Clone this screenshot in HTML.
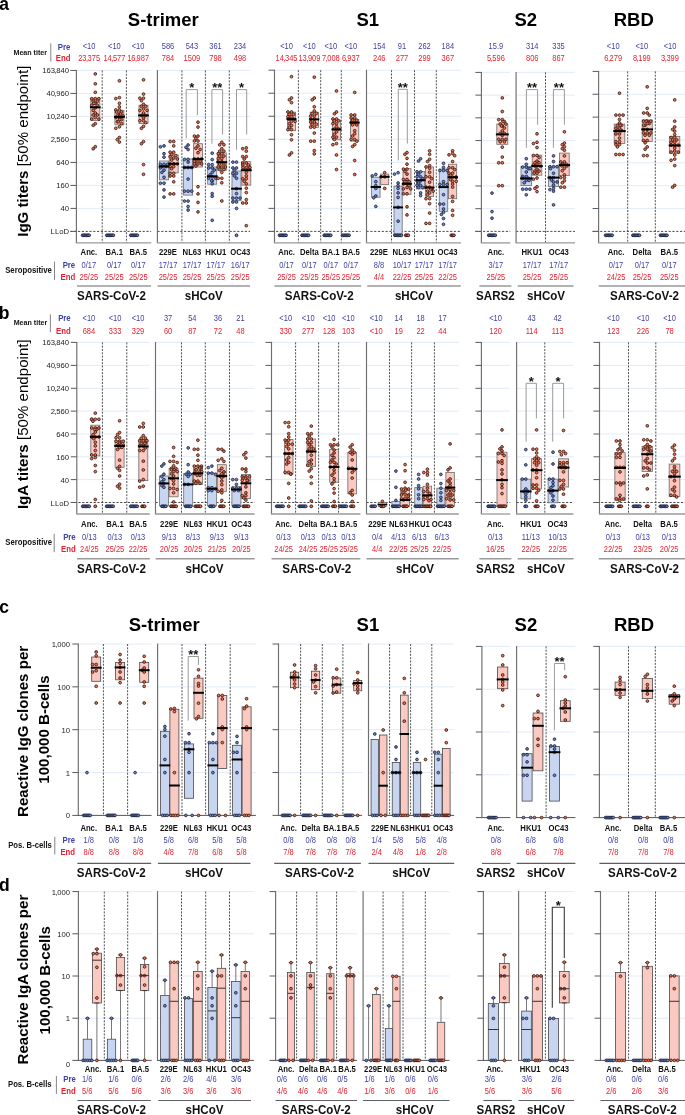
<!DOCTYPE html>
<html><head><meta charset="utf-8"><style>
html,body{margin:0;padding:0;background:#fff;}
svg{display:block;font-family:"Liberation Sans", sans-serif;will-change:transform;}
</style></head><body>
<svg width="685" height="1115" viewBox="0 0 685 1115">
<rect width="685" height="1115" fill="#fff"/>
<line x1="76.40" y1="70.45" x2="151.20" y2="70.45" stroke="#dfe9f7" stroke-width="0.9"/>
<line x1="76.40" y1="93.44" x2="151.20" y2="93.44" stroke="#dfe9f7" stroke-width="0.9"/>
<line x1="76.40" y1="116.44" x2="151.20" y2="116.44" stroke="#dfe9f7" stroke-width="0.9"/>
<line x1="76.40" y1="139.43" x2="151.20" y2="139.43" stroke="#dfe9f7" stroke-width="0.9"/>
<line x1="76.40" y1="162.42" x2="151.20" y2="162.42" stroke="#dfe9f7" stroke-width="0.9"/>
<line x1="76.40" y1="185.41" x2="151.20" y2="185.41" stroke="#dfe9f7" stroke-width="0.9"/>
<line x1="76.40" y1="208.41" x2="151.20" y2="208.41" stroke="#dfe9f7" stroke-width="0.9"/>
<line x1="157.40" y1="70.45" x2="250.00" y2="70.45" stroke="#dfe9f7" stroke-width="0.9"/>
<line x1="157.40" y1="93.44" x2="250.00" y2="93.44" stroke="#dfe9f7" stroke-width="0.9"/>
<line x1="157.40" y1="116.44" x2="250.00" y2="116.44" stroke="#dfe9f7" stroke-width="0.9"/>
<line x1="157.40" y1="139.43" x2="250.00" y2="139.43" stroke="#dfe9f7" stroke-width="0.9"/>
<line x1="157.40" y1="162.42" x2="250.00" y2="162.42" stroke="#dfe9f7" stroke-width="0.9"/>
<line x1="157.40" y1="185.41" x2="250.00" y2="185.41" stroke="#dfe9f7" stroke-width="0.9"/>
<line x1="157.40" y1="208.41" x2="250.00" y2="208.41" stroke="#dfe9f7" stroke-width="0.9"/>
<line x1="274.50" y1="70.20" x2="360.50" y2="70.20" stroke="#dfe9f7" stroke-width="0.9"/>
<line x1="274.50" y1="93.23" x2="360.50" y2="93.23" stroke="#dfe9f7" stroke-width="0.9"/>
<line x1="274.50" y1="116.26" x2="360.50" y2="116.26" stroke="#dfe9f7" stroke-width="0.9"/>
<line x1="274.50" y1="139.29" x2="360.50" y2="139.29" stroke="#dfe9f7" stroke-width="0.9"/>
<line x1="274.50" y1="162.31" x2="360.50" y2="162.31" stroke="#dfe9f7" stroke-width="0.9"/>
<line x1="274.50" y1="185.34" x2="360.50" y2="185.34" stroke="#dfe9f7" stroke-width="0.9"/>
<line x1="274.50" y1="208.37" x2="360.50" y2="208.37" stroke="#dfe9f7" stroke-width="0.9"/>
<line x1="366.50" y1="70.20" x2="461.00" y2="70.20" stroke="#dfe9f7" stroke-width="0.9"/>
<line x1="366.50" y1="93.23" x2="461.00" y2="93.23" stroke="#dfe9f7" stroke-width="0.9"/>
<line x1="366.50" y1="116.26" x2="461.00" y2="116.26" stroke="#dfe9f7" stroke-width="0.9"/>
<line x1="366.50" y1="139.29" x2="461.00" y2="139.29" stroke="#dfe9f7" stroke-width="0.9"/>
<line x1="366.50" y1="162.31" x2="461.00" y2="162.31" stroke="#dfe9f7" stroke-width="0.9"/>
<line x1="366.50" y1="185.34" x2="461.00" y2="185.34" stroke="#dfe9f7" stroke-width="0.9"/>
<line x1="366.50" y1="208.37" x2="461.00" y2="208.37" stroke="#dfe9f7" stroke-width="0.9"/>
<line x1="481.40" y1="72.40" x2="510.30" y2="72.40" stroke="#dfe9f7" stroke-width="0.9"/>
<line x1="481.40" y1="95.11" x2="510.30" y2="95.11" stroke="#dfe9f7" stroke-width="0.9"/>
<line x1="481.40" y1="117.83" x2="510.30" y2="117.83" stroke="#dfe9f7" stroke-width="0.9"/>
<line x1="481.40" y1="140.54" x2="510.30" y2="140.54" stroke="#dfe9f7" stroke-width="0.9"/>
<line x1="481.40" y1="163.26" x2="510.30" y2="163.26" stroke="#dfe9f7" stroke-width="0.9"/>
<line x1="481.40" y1="185.97" x2="510.30" y2="185.97" stroke="#dfe9f7" stroke-width="0.9"/>
<line x1="481.40" y1="208.69" x2="510.30" y2="208.69" stroke="#dfe9f7" stroke-width="0.9"/>
<line x1="516.10" y1="72.40" x2="575.00" y2="72.40" stroke="#dfe9f7" stroke-width="0.9"/>
<line x1="516.10" y1="95.11" x2="575.00" y2="95.11" stroke="#dfe9f7" stroke-width="0.9"/>
<line x1="516.10" y1="117.83" x2="575.00" y2="117.83" stroke="#dfe9f7" stroke-width="0.9"/>
<line x1="516.10" y1="140.54" x2="575.00" y2="140.54" stroke="#dfe9f7" stroke-width="0.9"/>
<line x1="516.10" y1="163.26" x2="575.00" y2="163.26" stroke="#dfe9f7" stroke-width="0.9"/>
<line x1="516.10" y1="185.97" x2="575.00" y2="185.97" stroke="#dfe9f7" stroke-width="0.9"/>
<line x1="516.10" y1="208.69" x2="575.00" y2="208.69" stroke="#dfe9f7" stroke-width="0.9"/>
<line x1="598.60" y1="71.40" x2="686.00" y2="71.40" stroke="#dfe9f7" stroke-width="0.9"/>
<line x1="598.60" y1="94.26" x2="686.00" y2="94.26" stroke="#dfe9f7" stroke-width="0.9"/>
<line x1="598.60" y1="117.11" x2="686.00" y2="117.11" stroke="#dfe9f7" stroke-width="0.9"/>
<line x1="598.60" y1="139.97" x2="686.00" y2="139.97" stroke="#dfe9f7" stroke-width="0.9"/>
<line x1="598.60" y1="162.83" x2="686.00" y2="162.83" stroke="#dfe9f7" stroke-width="0.9"/>
<line x1="598.60" y1="185.69" x2="686.00" y2="185.69" stroke="#dfe9f7" stroke-width="0.9"/>
<line x1="598.60" y1="208.54" x2="686.00" y2="208.54" stroke="#dfe9f7" stroke-width="0.9"/>
<line x1="102.20" y1="70.45" x2="102.20" y2="242.90" stroke="#333" stroke-width="0.85" stroke-dasharray="2,1.3"/>
<line x1="126.40" y1="70.45" x2="126.40" y2="242.90" stroke="#333" stroke-width="0.85" stroke-dasharray="2,1.3"/>
<line x1="70.40" y1="231.40" x2="151.20" y2="231.40" stroke="#2a2a2a" stroke-width="0.85" stroke-dasharray="2.2,1.6"/>
<line x1="181.90" y1="70.45" x2="181.90" y2="242.90" stroke="#333" stroke-width="0.85" stroke-dasharray="2,1.3"/>
<line x1="205.40" y1="70.45" x2="205.40" y2="242.90" stroke="#333" stroke-width="0.85" stroke-dasharray="2,1.3"/>
<line x1="229.30" y1="70.45" x2="229.30" y2="242.90" stroke="#333" stroke-width="0.85" stroke-dasharray="2,1.3"/>
<line x1="157.40" y1="231.40" x2="250.00" y2="231.40" stroke="#2a2a2a" stroke-width="0.85" stroke-dasharray="2.2,1.6"/>
<line x1="298.40" y1="70.20" x2="298.40" y2="242.90" stroke="#333" stroke-width="0.85" stroke-dasharray="2,1.3"/>
<line x1="320.70" y1="70.20" x2="320.70" y2="242.90" stroke="#333" stroke-width="0.85" stroke-dasharray="2,1.3"/>
<line x1="341.30" y1="70.20" x2="341.30" y2="242.90" stroke="#333" stroke-width="0.85" stroke-dasharray="2,1.3"/>
<line x1="268.50" y1="231.40" x2="360.50" y2="231.40" stroke="#2a2a2a" stroke-width="0.85" stroke-dasharray="2.2,1.6"/>
<line x1="391.50" y1="70.20" x2="391.50" y2="242.90" stroke="#333" stroke-width="0.85" stroke-dasharray="2,1.3"/>
<line x1="414.50" y1="70.20" x2="414.50" y2="242.90" stroke="#333" stroke-width="0.85" stroke-dasharray="2,1.3"/>
<line x1="436.30" y1="70.20" x2="436.30" y2="242.90" stroke="#333" stroke-width="0.85" stroke-dasharray="2,1.3"/>
<line x1="366.50" y1="231.40" x2="461.00" y2="231.40" stroke="#2a2a2a" stroke-width="0.85" stroke-dasharray="2.2,1.6"/>
<line x1="475.40" y1="231.40" x2="510.30" y2="231.40" stroke="#2a2a2a" stroke-width="0.85" stroke-dasharray="2.2,1.6"/>
<line x1="545.50" y1="72.40" x2="545.50" y2="242.90" stroke="#333" stroke-width="0.85" stroke-dasharray="2,1.3"/>
<line x1="516.10" y1="231.40" x2="575.00" y2="231.40" stroke="#2a2a2a" stroke-width="0.85" stroke-dasharray="2.2,1.6"/>
<line x1="627.70" y1="71.40" x2="627.70" y2="242.90" stroke="#333" stroke-width="0.85" stroke-dasharray="2,1.3"/>
<line x1="655.30" y1="71.40" x2="655.30" y2="242.90" stroke="#333" stroke-width="0.85" stroke-dasharray="2,1.3"/>
<line x1="592.60" y1="231.40" x2="686.00" y2="231.40" stroke="#2a2a2a" stroke-width="0.85" stroke-dasharray="2.2,1.6"/>
<line x1="76.40" y1="69.95" x2="76.40" y2="242.90" stroke="#6e6e6e" stroke-width="1.15"/>
<line x1="75.80" y1="242.90" x2="151.20" y2="242.90" stroke="#999999" stroke-width="1.3"/>
<line x1="70.40" y1="70.45" x2="76.40" y2="70.45" stroke="#5a5a5a" stroke-width="1.0"/>
<line x1="70.40" y1="93.44" x2="76.40" y2="93.44" stroke="#5a5a5a" stroke-width="1.0"/>
<line x1="70.40" y1="116.44" x2="76.40" y2="116.44" stroke="#5a5a5a" stroke-width="1.0"/>
<line x1="70.40" y1="139.43" x2="76.40" y2="139.43" stroke="#5a5a5a" stroke-width="1.0"/>
<line x1="70.40" y1="162.42" x2="76.40" y2="162.42" stroke="#5a5a5a" stroke-width="1.0"/>
<line x1="70.40" y1="185.41" x2="76.40" y2="185.41" stroke="#5a5a5a" stroke-width="1.0"/>
<line x1="70.40" y1="208.41" x2="76.40" y2="208.41" stroke="#5a5a5a" stroke-width="1.0"/>
<line x1="70.40" y1="231.40" x2="76.40" y2="231.40" stroke="#5a5a5a" stroke-width="1.0"/>
<line x1="157.40" y1="69.95" x2="157.40" y2="242.90" stroke="#6e6e6e" stroke-width="1.15"/>
<line x1="156.80" y1="242.90" x2="250.00" y2="242.90" stroke="#999999" stroke-width="1.3"/>
<line x1="274.50" y1="69.70" x2="274.50" y2="242.90" stroke="#6e6e6e" stroke-width="1.15"/>
<line x1="273.90" y1="242.90" x2="360.50" y2="242.90" stroke="#999999" stroke-width="1.3"/>
<line x1="268.50" y1="70.20" x2="274.50" y2="70.20" stroke="#5a5a5a" stroke-width="1.0"/>
<line x1="268.50" y1="93.23" x2="274.50" y2="93.23" stroke="#5a5a5a" stroke-width="1.0"/>
<line x1="268.50" y1="116.26" x2="274.50" y2="116.26" stroke="#5a5a5a" stroke-width="1.0"/>
<line x1="268.50" y1="139.29" x2="274.50" y2="139.29" stroke="#5a5a5a" stroke-width="1.0"/>
<line x1="268.50" y1="162.31" x2="274.50" y2="162.31" stroke="#5a5a5a" stroke-width="1.0"/>
<line x1="268.50" y1="185.34" x2="274.50" y2="185.34" stroke="#5a5a5a" stroke-width="1.0"/>
<line x1="268.50" y1="208.37" x2="274.50" y2="208.37" stroke="#5a5a5a" stroke-width="1.0"/>
<line x1="268.50" y1="231.40" x2="274.50" y2="231.40" stroke="#5a5a5a" stroke-width="1.0"/>
<line x1="366.50" y1="69.70" x2="366.50" y2="242.90" stroke="#6e6e6e" stroke-width="1.15"/>
<line x1="365.90" y1="242.90" x2="461.00" y2="242.90" stroke="#999999" stroke-width="1.3"/>
<line x1="481.40" y1="71.90" x2="481.40" y2="242.90" stroke="#6e6e6e" stroke-width="1.15"/>
<line x1="480.80" y1="242.90" x2="510.30" y2="242.90" stroke="#999999" stroke-width="1.3"/>
<line x1="475.40" y1="72.40" x2="481.40" y2="72.40" stroke="#5a5a5a" stroke-width="1.0"/>
<line x1="475.40" y1="95.11" x2="481.40" y2="95.11" stroke="#5a5a5a" stroke-width="1.0"/>
<line x1="475.40" y1="117.83" x2="481.40" y2="117.83" stroke="#5a5a5a" stroke-width="1.0"/>
<line x1="475.40" y1="140.54" x2="481.40" y2="140.54" stroke="#5a5a5a" stroke-width="1.0"/>
<line x1="475.40" y1="163.26" x2="481.40" y2="163.26" stroke="#5a5a5a" stroke-width="1.0"/>
<line x1="475.40" y1="185.97" x2="481.40" y2="185.97" stroke="#5a5a5a" stroke-width="1.0"/>
<line x1="475.40" y1="208.69" x2="481.40" y2="208.69" stroke="#5a5a5a" stroke-width="1.0"/>
<line x1="475.40" y1="231.40" x2="481.40" y2="231.40" stroke="#5a5a5a" stroke-width="1.0"/>
<line x1="516.10" y1="71.90" x2="516.10" y2="242.90" stroke="#6e6e6e" stroke-width="1.15"/>
<line x1="515.50" y1="242.90" x2="575.00" y2="242.90" stroke="#999999" stroke-width="1.3"/>
<line x1="598.60" y1="70.90" x2="598.60" y2="242.90" stroke="#6e6e6e" stroke-width="1.15"/>
<line x1="598.00" y1="242.90" x2="686.00" y2="242.90" stroke="#999999" stroke-width="1.3"/>
<line x1="592.60" y1="71.40" x2="598.60" y2="71.40" stroke="#5a5a5a" stroke-width="1.0"/>
<line x1="592.60" y1="94.26" x2="598.60" y2="94.26" stroke="#5a5a5a" stroke-width="1.0"/>
<line x1="592.60" y1="117.11" x2="598.60" y2="117.11" stroke="#5a5a5a" stroke-width="1.0"/>
<line x1="592.60" y1="139.97" x2="598.60" y2="139.97" stroke="#5a5a5a" stroke-width="1.0"/>
<line x1="592.60" y1="162.83" x2="598.60" y2="162.83" stroke="#5a5a5a" stroke-width="1.0"/>
<line x1="592.60" y1="185.69" x2="598.60" y2="185.69" stroke="#5a5a5a" stroke-width="1.0"/>
<line x1="592.60" y1="208.54" x2="598.60" y2="208.54" stroke="#5a5a5a" stroke-width="1.0"/>
<line x1="592.60" y1="231.40" x2="598.60" y2="231.40" stroke="#5a5a5a" stroke-width="1.0"/>
<text x="69.00" y="73.45" font-size="7.7" text-anchor="end" fill="#222">163<tspan dx="-0.50">,</tspan><tspan dx="-0.50">840</tspan></text>
<text x="69.00" y="96.44" font-size="7.7" text-anchor="end" fill="#222">40<tspan dx="-0.50">,</tspan><tspan dx="-0.50">960</tspan></text>
<text x="69.00" y="119.44" font-size="7.7" text-anchor="end" fill="#222">10<tspan dx="-0.50">,</tspan><tspan dx="-0.50">240</tspan></text>
<text x="69.00" y="142.43" font-size="7.7" text-anchor="end" fill="#222">2<tspan dx="-0.50">,</tspan><tspan dx="-0.50">560</tspan></text>
<text x="69.00" y="165.42" font-size="7.7" text-anchor="end" fill="#222">640</text>
<text x="69.00" y="188.41" font-size="7.7" text-anchor="end" fill="#222">160</text>
<text x="69.00" y="211.41" font-size="7.7" text-anchor="end" fill="#222">40</text>
<text x="69.00" y="234.40" font-size="7.7" text-anchor="end" fill="#222">LLoD</text>
<rect x="90.80" y="98.20" width="9.00" height="22.20" fill="#f9c9c2" stroke="#6e6e6e" stroke-width="0.8"/>
<circle cx="82.65" cy="235.30" r="1.38" fill="#6c85c8" stroke="#181e38" stroke-width="0.95"/>
<circle cx="83.95" cy="235.30" r="1.38" fill="#6c85c8" stroke="#181e38" stroke-width="0.95"/>
<circle cx="85.25" cy="235.30" r="1.38" fill="#6c85c8" stroke="#181e38" stroke-width="0.95"/>
<circle cx="86.55" cy="235.30" r="1.38" fill="#6c85c8" stroke="#181e38" stroke-width="0.95"/>
<circle cx="87.85" cy="235.30" r="1.38" fill="#6c85c8" stroke="#181e38" stroke-width="0.95"/>
<circle cx="89.15" cy="235.30" r="1.38" fill="#6c85c8" stroke="#181e38" stroke-width="0.95"/>
<circle cx="95.30" cy="73.90" r="1.38" fill="#ea7452" stroke="#33110a" stroke-width="0.8"/>
<circle cx="95.30" cy="83.80" r="1.38" fill="#ea7452" stroke="#33110a" stroke-width="0.8"/>
<circle cx="95.30" cy="92.30" r="1.38" fill="#ea7452" stroke="#33110a" stroke-width="0.8"/>
<circle cx="95.30" cy="98.70" r="1.38" fill="#ea7452" stroke="#33110a" stroke-width="0.8"/>
<circle cx="91.70" cy="98.70" r="1.38" fill="#ea7452" stroke="#33110a" stroke-width="0.8"/>
<circle cx="98.90" cy="98.70" r="1.38" fill="#ea7452" stroke="#33110a" stroke-width="0.8"/>
<circle cx="93.20" cy="101.20" r="1.38" fill="#ea7452" stroke="#33110a" stroke-width="0.8"/>
<circle cx="97.40" cy="101.20" r="1.38" fill="#ea7452" stroke="#33110a" stroke-width="0.8"/>
<circle cx="95.30" cy="103.30" r="1.38" fill="#ea7452" stroke="#33110a" stroke-width="0.8"/>
<circle cx="93.89" cy="103.30" r="1.38" fill="#ea7452" stroke="#33110a" stroke-width="0.8"/>
<circle cx="97.40" cy="105.30" r="1.38" fill="#ea7452" stroke="#33110a" stroke-width="0.8"/>
<circle cx="91.70" cy="105.30" r="1.38" fill="#ea7452" stroke="#33110a" stroke-width="0.8"/>
<circle cx="95.30" cy="107.90" r="1.38" fill="#ea7452" stroke="#33110a" stroke-width="0.8"/>
<circle cx="93.20" cy="110.40" r="1.38" fill="#ea7452" stroke="#33110a" stroke-width="0.8"/>
<circle cx="95.30" cy="113.00" r="1.38" fill="#ea7452" stroke="#33110a" stroke-width="0.8"/>
<circle cx="93.20" cy="115.00" r="1.38" fill="#ea7452" stroke="#33110a" stroke-width="0.8"/>
<circle cx="97.40" cy="115.00" r="1.38" fill="#ea7452" stroke="#33110a" stroke-width="0.8"/>
<circle cx="95.30" cy="117.60" r="1.38" fill="#ea7452" stroke="#33110a" stroke-width="0.8"/>
<circle cx="91.70" cy="119.10" r="1.38" fill="#ea7452" stroke="#33110a" stroke-width="0.8"/>
<circle cx="98.90" cy="119.10" r="1.38" fill="#ea7452" stroke="#33110a" stroke-width="0.8"/>
<circle cx="95.30" cy="123.70" r="1.38" fill="#ea7452" stroke="#33110a" stroke-width="0.8"/>
<circle cx="93.20" cy="125.30" r="1.38" fill="#ea7452" stroke="#33110a" stroke-width="0.8"/>
<circle cx="95.30" cy="146.70" r="1.38" fill="#ea7452" stroke="#33110a" stroke-width="0.8"/>
<circle cx="93.20" cy="148.80" r="1.38" fill="#ea7452" stroke="#33110a" stroke-width="0.8"/>
<line x1="89.90" y1="107.30" x2="100.70" y2="107.30" stroke="#000" stroke-width="2.0"/>
<rect x="114.90" y="110.30" width="9.00" height="14.50" fill="#f9c9c2" stroke="#6e6e6e" stroke-width="0.8"/>
<circle cx="106.85" cy="235.30" r="1.38" fill="#6c85c8" stroke="#181e38" stroke-width="0.95"/>
<circle cx="108.15" cy="235.30" r="1.38" fill="#6c85c8" stroke="#181e38" stroke-width="0.95"/>
<circle cx="109.45" cy="235.30" r="1.38" fill="#6c85c8" stroke="#181e38" stroke-width="0.95"/>
<circle cx="110.75" cy="235.30" r="1.38" fill="#6c85c8" stroke="#181e38" stroke-width="0.95"/>
<circle cx="112.05" cy="235.30" r="1.38" fill="#6c85c8" stroke="#181e38" stroke-width="0.95"/>
<circle cx="113.35" cy="235.30" r="1.38" fill="#6c85c8" stroke="#181e38" stroke-width="0.95"/>
<circle cx="119.40" cy="80.80" r="1.38" fill="#ea7452" stroke="#33110a" stroke-width="0.8"/>
<circle cx="119.40" cy="97.60" r="1.38" fill="#ea7452" stroke="#33110a" stroke-width="0.8"/>
<circle cx="115.80" cy="98.60" r="1.38" fill="#ea7452" stroke="#33110a" stroke-width="0.8"/>
<circle cx="119.40" cy="103.30" r="1.38" fill="#ea7452" stroke="#33110a" stroke-width="0.8"/>
<circle cx="119.40" cy="106.90" r="1.38" fill="#ea7452" stroke="#33110a" stroke-width="0.8"/>
<circle cx="119.40" cy="109.90" r="1.38" fill="#ea7452" stroke="#33110a" stroke-width="0.8"/>
<circle cx="115.80" cy="109.90" r="1.38" fill="#ea7452" stroke="#33110a" stroke-width="0.8"/>
<circle cx="121.50" cy="112.00" r="1.38" fill="#ea7452" stroke="#33110a" stroke-width="0.8"/>
<circle cx="116.61" cy="112.00" r="1.38" fill="#ea7452" stroke="#33110a" stroke-width="0.8"/>
<circle cx="119.40" cy="114.00" r="1.38" fill="#ea7452" stroke="#33110a" stroke-width="0.8"/>
<circle cx="120.61" cy="114.00" r="1.38" fill="#ea7452" stroke="#33110a" stroke-width="0.8"/>
<circle cx="117.30" cy="116.00" r="1.38" fill="#ea7452" stroke="#33110a" stroke-width="0.8"/>
<circle cx="123.00" cy="116.00" r="1.38" fill="#ea7452" stroke="#33110a" stroke-width="0.8"/>
<circle cx="119.40" cy="117.60" r="1.38" fill="#ea7452" stroke="#33110a" stroke-width="0.8"/>
<circle cx="115.98" cy="117.60" r="1.38" fill="#ea7452" stroke="#33110a" stroke-width="0.8"/>
<circle cx="121.50" cy="119.60" r="1.38" fill="#ea7452" stroke="#33110a" stroke-width="0.8"/>
<circle cx="119.69" cy="119.60" r="1.38" fill="#ea7452" stroke="#33110a" stroke-width="0.8"/>
<circle cx="117.30" cy="121.70" r="1.38" fill="#ea7452" stroke="#33110a" stroke-width="0.8"/>
<circle cx="118.33" cy="121.70" r="1.38" fill="#ea7452" stroke="#33110a" stroke-width="0.8"/>
<circle cx="121.50" cy="123.70" r="1.38" fill="#ea7452" stroke="#33110a" stroke-width="0.8"/>
<circle cx="119.40" cy="126.80" r="1.38" fill="#ea7452" stroke="#33110a" stroke-width="0.8"/>
<circle cx="115.80" cy="128.30" r="1.38" fill="#ea7452" stroke="#33110a" stroke-width="0.8"/>
<circle cx="119.40" cy="137.50" r="1.38" fill="#ea7452" stroke="#33110a" stroke-width="0.8"/>
<circle cx="117.30" cy="139.60" r="1.38" fill="#ea7452" stroke="#33110a" stroke-width="0.8"/>
<circle cx="119.40" cy="142.10" r="1.38" fill="#ea7452" stroke="#33110a" stroke-width="0.8"/>
<line x1="114.00" y1="116.90" x2="124.80" y2="116.90" stroke="#000" stroke-width="2.0"/>
<rect x="139.00" y="105.20" width="9.00" height="18.20" fill="#f9c9c2" stroke="#6e6e6e" stroke-width="0.8"/>
<circle cx="130.85" cy="235.30" r="1.38" fill="#6c85c8" stroke="#181e38" stroke-width="0.95"/>
<circle cx="132.15" cy="235.30" r="1.38" fill="#6c85c8" stroke="#181e38" stroke-width="0.95"/>
<circle cx="133.45" cy="235.30" r="1.38" fill="#6c85c8" stroke="#181e38" stroke-width="0.95"/>
<circle cx="134.75" cy="235.30" r="1.38" fill="#6c85c8" stroke="#181e38" stroke-width="0.95"/>
<circle cx="136.05" cy="235.30" r="1.38" fill="#6c85c8" stroke="#181e38" stroke-width="0.95"/>
<circle cx="137.35" cy="235.30" r="1.38" fill="#6c85c8" stroke="#181e38" stroke-width="0.95"/>
<circle cx="143.50" cy="79.80" r="1.38" fill="#ea7452" stroke="#33110a" stroke-width="0.8"/>
<circle cx="143.50" cy="94.10" r="1.38" fill="#ea7452" stroke="#33110a" stroke-width="0.8"/>
<circle cx="143.50" cy="98.20" r="1.38" fill="#ea7452" stroke="#33110a" stroke-width="0.8"/>
<circle cx="139.90" cy="98.20" r="1.38" fill="#ea7452" stroke="#33110a" stroke-width="0.8"/>
<circle cx="141.40" cy="100.70" r="1.38" fill="#ea7452" stroke="#33110a" stroke-width="0.8"/>
<circle cx="143.50" cy="104.30" r="1.38" fill="#ea7452" stroke="#33110a" stroke-width="0.8"/>
<circle cx="141.40" cy="106.30" r="1.38" fill="#ea7452" stroke="#33110a" stroke-width="0.8"/>
<circle cx="145.60" cy="106.30" r="1.38" fill="#ea7452" stroke="#33110a" stroke-width="0.8"/>
<circle cx="143.50" cy="108.90" r="1.38" fill="#ea7452" stroke="#33110a" stroke-width="0.8"/>
<circle cx="139.90" cy="110.40" r="1.38" fill="#ea7452" stroke="#33110a" stroke-width="0.8"/>
<circle cx="147.10" cy="110.40" r="1.38" fill="#ea7452" stroke="#33110a" stroke-width="0.8"/>
<circle cx="143.50" cy="113.00" r="1.38" fill="#ea7452" stroke="#33110a" stroke-width="0.8"/>
<circle cx="141.40" cy="115.50" r="1.38" fill="#ea7452" stroke="#33110a" stroke-width="0.8"/>
<circle cx="145.60" cy="115.50" r="1.38" fill="#ea7452" stroke="#33110a" stroke-width="0.8"/>
<circle cx="143.50" cy="118.10" r="1.38" fill="#ea7452" stroke="#33110a" stroke-width="0.8"/>
<circle cx="143.50" cy="120.70" r="1.38" fill="#ea7452" stroke="#33110a" stroke-width="0.8"/>
<circle cx="139.90" cy="120.70" r="1.38" fill="#ea7452" stroke="#33110a" stroke-width="0.8"/>
<circle cx="145.60" cy="122.70" r="1.38" fill="#ea7452" stroke="#33110a" stroke-width="0.8"/>
<circle cx="143.50" cy="126.30" r="1.38" fill="#ea7452" stroke="#33110a" stroke-width="0.8"/>
<circle cx="141.40" cy="128.30" r="1.38" fill="#ea7452" stroke="#33110a" stroke-width="0.8"/>
<circle cx="143.50" cy="141.60" r="1.38" fill="#ea7452" stroke="#33110a" stroke-width="0.8"/>
<circle cx="141.40" cy="143.70" r="1.38" fill="#ea7452" stroke="#33110a" stroke-width="0.8"/>
<circle cx="143.50" cy="164.60" r="1.38" fill="#ea7452" stroke="#33110a" stroke-width="0.8"/>
<circle cx="143.50" cy="174.30" r="1.38" fill="#ea7452" stroke="#33110a" stroke-width="0.8"/>
<line x1="138.10" y1="115.40" x2="148.90" y2="115.40" stroke="#000" stroke-width="2.0"/>
<rect x="159.50" y="161.00" width="9.00" height="18.80" fill="#c7d5f0" stroke="#6e6e6e" stroke-width="0.8"/>
<rect x="169.20" y="155.00" width="9.00" height="17.90" fill="#f9c9c2" stroke="#6e6e6e" stroke-width="0.8"/>
<circle cx="164.00" cy="145.90" r="1.38" fill="#6c85c8" stroke="#181e38" stroke-width="0.8"/>
<circle cx="160.40" cy="146.80" r="1.38" fill="#6c85c8" stroke="#181e38" stroke-width="0.8"/>
<circle cx="164.00" cy="153.70" r="1.38" fill="#6c85c8" stroke="#181e38" stroke-width="0.8"/>
<circle cx="164.00" cy="157.20" r="1.38" fill="#6c85c8" stroke="#181e38" stroke-width="0.8"/>
<circle cx="164.00" cy="164.30" r="1.38" fill="#6c85c8" stroke="#181e38" stroke-width="0.8"/>
<circle cx="160.40" cy="164.30" r="1.38" fill="#6c85c8" stroke="#181e38" stroke-width="0.8"/>
<circle cx="167.60" cy="164.30" r="1.38" fill="#6c85c8" stroke="#181e38" stroke-width="0.8"/>
<circle cx="161.90" cy="166.60" r="1.38" fill="#6c85c8" stroke="#181e38" stroke-width="0.8"/>
<circle cx="166.10" cy="166.60" r="1.38" fill="#6c85c8" stroke="#181e38" stroke-width="0.8"/>
<circle cx="160.46" cy="167.90" r="1.38" fill="#6c85c8" stroke="#181e38" stroke-width="0.8"/>
<circle cx="164.00" cy="170.20" r="1.38" fill="#6c85c8" stroke="#181e38" stroke-width="0.8"/>
<circle cx="161.90" cy="172.40" r="1.38" fill="#6c85c8" stroke="#181e38" stroke-width="0.8"/>
<circle cx="164.00" cy="177.30" r="1.38" fill="#6c85c8" stroke="#181e38" stroke-width="0.8"/>
<circle cx="164.00" cy="183.20" r="1.38" fill="#6c85c8" stroke="#181e38" stroke-width="0.8"/>
<circle cx="160.40" cy="183.20" r="1.38" fill="#6c85c8" stroke="#181e38" stroke-width="0.8"/>
<circle cx="164.00" cy="189.90" r="1.38" fill="#6c85c8" stroke="#181e38" stroke-width="0.8"/>
<circle cx="164.00" cy="197.10" r="1.38" fill="#6c85c8" stroke="#181e38" stroke-width="0.8"/>
<circle cx="173.70" cy="141.50" r="1.38" fill="#ea7452" stroke="#33110a" stroke-width="0.8"/>
<circle cx="170.10" cy="141.50" r="1.38" fill="#ea7452" stroke="#33110a" stroke-width="0.8"/>
<circle cx="173.70" cy="145.90" r="1.38" fill="#ea7452" stroke="#33110a" stroke-width="0.8"/>
<circle cx="173.70" cy="152.20" r="1.38" fill="#ea7452" stroke="#33110a" stroke-width="0.8"/>
<circle cx="170.10" cy="152.20" r="1.38" fill="#ea7452" stroke="#33110a" stroke-width="0.8"/>
<circle cx="171.60" cy="154.50" r="1.38" fill="#ea7452" stroke="#33110a" stroke-width="0.8"/>
<circle cx="175.80" cy="155.60" r="1.38" fill="#ea7452" stroke="#33110a" stroke-width="0.8"/>
<circle cx="170.10" cy="156.70" r="1.38" fill="#ea7452" stroke="#33110a" stroke-width="0.8"/>
<circle cx="173.70" cy="158.00" r="1.38" fill="#ea7452" stroke="#33110a" stroke-width="0.8"/>
<circle cx="177.30" cy="159.00" r="1.38" fill="#ea7452" stroke="#33110a" stroke-width="0.8"/>
<circle cx="171.60" cy="160.00" r="1.38" fill="#ea7452" stroke="#33110a" stroke-width="0.8"/>
<circle cx="173.70" cy="163.90" r="1.38" fill="#ea7452" stroke="#33110a" stroke-width="0.8"/>
<circle cx="170.10" cy="163.90" r="1.38" fill="#ea7452" stroke="#33110a" stroke-width="0.8"/>
<circle cx="177.30" cy="163.90" r="1.38" fill="#ea7452" stroke="#33110a" stroke-width="0.8"/>
<circle cx="173.76" cy="163.90" r="1.38" fill="#ea7452" stroke="#33110a" stroke-width="0.8"/>
<circle cx="173.70" cy="166.60" r="1.38" fill="#ea7452" stroke="#33110a" stroke-width="0.8"/>
<circle cx="170.10" cy="166.60" r="1.38" fill="#ea7452" stroke="#33110a" stroke-width="0.8"/>
<circle cx="171.60" cy="168.80" r="1.38" fill="#ea7452" stroke="#33110a" stroke-width="0.8"/>
<circle cx="173.70" cy="173.30" r="1.38" fill="#ea7452" stroke="#33110a" stroke-width="0.8"/>
<circle cx="170.10" cy="173.30" r="1.38" fill="#ea7452" stroke="#33110a" stroke-width="0.8"/>
<circle cx="173.70" cy="176.00" r="1.38" fill="#ea7452" stroke="#33110a" stroke-width="0.8"/>
<circle cx="170.10" cy="176.00" r="1.38" fill="#ea7452" stroke="#33110a" stroke-width="0.8"/>
<circle cx="173.70" cy="181.80" r="1.38" fill="#ea7452" stroke="#33110a" stroke-width="0.8"/>
<circle cx="173.70" cy="193.90" r="1.38" fill="#ea7452" stroke="#33110a" stroke-width="0.8"/>
<circle cx="170.10" cy="193.90" r="1.38" fill="#ea7452" stroke="#33110a" stroke-width="0.8"/>
<line x1="158.60" y1="166.50" x2="169.40" y2="166.50" stroke="#000" stroke-width="2.0"/>
<line x1="168.30" y1="163.80" x2="179.10" y2="163.80" stroke="#000" stroke-width="2.0"/>
<rect x="183.60" y="159.00" width="9.00" height="36.10" fill="#c7d5f0" stroke="#6e6e6e" stroke-width="0.8"/>
<rect x="193.50" y="143.70" width="9.00" height="23.30" fill="#f9c9c2" stroke="#6e6e6e" stroke-width="0.8"/>
<circle cx="188.10" cy="145.00" r="1.38" fill="#6c85c8" stroke="#181e38" stroke-width="0.8"/>
<circle cx="186.00" cy="147.30" r="1.38" fill="#6c85c8" stroke="#181e38" stroke-width="0.8"/>
<circle cx="188.10" cy="149.50" r="1.38" fill="#6c85c8" stroke="#181e38" stroke-width="0.8"/>
<circle cx="188.10" cy="159.40" r="1.38" fill="#6c85c8" stroke="#181e38" stroke-width="0.8"/>
<circle cx="184.50" cy="159.40" r="1.38" fill="#6c85c8" stroke="#181e38" stroke-width="0.8"/>
<circle cx="188.10" cy="162.10" r="1.38" fill="#6c85c8" stroke="#181e38" stroke-width="0.8"/>
<circle cx="188.10" cy="167.50" r="1.38" fill="#6c85c8" stroke="#181e38" stroke-width="0.8"/>
<circle cx="184.50" cy="167.50" r="1.38" fill="#6c85c8" stroke="#181e38" stroke-width="0.8"/>
<circle cx="191.70" cy="167.50" r="1.38" fill="#6c85c8" stroke="#181e38" stroke-width="0.8"/>
<circle cx="188.10" cy="179.10" r="1.38" fill="#6c85c8" stroke="#181e38" stroke-width="0.8"/>
<circle cx="188.10" cy="191.20" r="1.38" fill="#6c85c8" stroke="#181e38" stroke-width="0.8"/>
<circle cx="184.50" cy="191.20" r="1.38" fill="#6c85c8" stroke="#181e38" stroke-width="0.8"/>
<circle cx="191.70" cy="191.20" r="1.38" fill="#6c85c8" stroke="#181e38" stroke-width="0.8"/>
<circle cx="188.10" cy="201.10" r="1.38" fill="#6c85c8" stroke="#181e38" stroke-width="0.8"/>
<circle cx="184.50" cy="201.10" r="1.38" fill="#6c85c8" stroke="#181e38" stroke-width="0.8"/>
<circle cx="188.10" cy="206.50" r="1.38" fill="#6c85c8" stroke="#181e38" stroke-width="0.8"/>
<circle cx="188.10" cy="210.10" r="1.38" fill="#6c85c8" stroke="#181e38" stroke-width="0.8"/>
<circle cx="198.00" cy="122.20" r="1.38" fill="#ea7452" stroke="#33110a" stroke-width="0.8"/>
<circle cx="198.00" cy="127.10" r="1.38" fill="#ea7452" stroke="#33110a" stroke-width="0.8"/>
<circle cx="198.00" cy="136.10" r="1.38" fill="#ea7452" stroke="#33110a" stroke-width="0.8"/>
<circle cx="194.40" cy="136.10" r="1.38" fill="#ea7452" stroke="#33110a" stroke-width="0.8"/>
<circle cx="195.90" cy="138.30" r="1.38" fill="#ea7452" stroke="#33110a" stroke-width="0.8"/>
<circle cx="198.00" cy="141.00" r="1.38" fill="#ea7452" stroke="#33110a" stroke-width="0.8"/>
<circle cx="194.40" cy="141.00" r="1.38" fill="#ea7452" stroke="#33110a" stroke-width="0.8"/>
<circle cx="198.00" cy="145.90" r="1.38" fill="#ea7452" stroke="#33110a" stroke-width="0.8"/>
<circle cx="195.90" cy="148.20" r="1.38" fill="#ea7452" stroke="#33110a" stroke-width="0.8"/>
<circle cx="200.10" cy="149.50" r="1.38" fill="#ea7452" stroke="#33110a" stroke-width="0.8"/>
<circle cx="198.00" cy="152.70" r="1.38" fill="#ea7452" stroke="#33110a" stroke-width="0.8"/>
<circle cx="198.00" cy="158.90" r="1.38" fill="#ea7452" stroke="#33110a" stroke-width="0.8"/>
<circle cx="194.40" cy="158.90" r="1.38" fill="#ea7452" stroke="#33110a" stroke-width="0.8"/>
<circle cx="201.60" cy="158.90" r="1.38" fill="#ea7452" stroke="#33110a" stroke-width="0.8"/>
<circle cx="195.90" cy="161.20" r="1.38" fill="#ea7452" stroke="#33110a" stroke-width="0.8"/>
<circle cx="200.10" cy="161.20" r="1.38" fill="#ea7452" stroke="#33110a" stroke-width="0.8"/>
<circle cx="194.30" cy="161.20" r="1.38" fill="#ea7452" stroke="#33110a" stroke-width="0.8"/>
<circle cx="198.00" cy="163.90" r="1.38" fill="#ea7452" stroke="#33110a" stroke-width="0.8"/>
<circle cx="194.40" cy="163.90" r="1.38" fill="#ea7452" stroke="#33110a" stroke-width="0.8"/>
<circle cx="201.60" cy="163.90" r="1.38" fill="#ea7452" stroke="#33110a" stroke-width="0.8"/>
<circle cx="195.90" cy="166.10" r="1.38" fill="#ea7452" stroke="#33110a" stroke-width="0.8"/>
<circle cx="198.00" cy="186.70" r="1.38" fill="#ea7452" stroke="#33110a" stroke-width="0.8"/>
<circle cx="198.00" cy="193.90" r="1.38" fill="#ea7452" stroke="#33110a" stroke-width="0.8"/>
<circle cx="198.00" cy="202.40" r="1.38" fill="#ea7452" stroke="#33110a" stroke-width="0.8"/>
<circle cx="198.00" cy="211.90" r="1.38" fill="#ea7452" stroke="#33110a" stroke-width="0.8"/>
<line x1="182.70" y1="167.50" x2="193.50" y2="167.50" stroke="#000" stroke-width="2.0"/>
<line x1="192.60" y1="159.00" x2="203.40" y2="159.00" stroke="#000" stroke-width="2.0"/>
<rect x="207.70" y="167.00" width="9.00" height="17.20" fill="#c7d5f0" stroke="#6e6e6e" stroke-width="0.8"/>
<rect x="217.30" y="153.00" width="9.00" height="17.20" fill="#f9c9c2" stroke="#6e6e6e" stroke-width="0.8"/>
<circle cx="212.20" cy="153.20" r="1.38" fill="#6c85c8" stroke="#181e38" stroke-width="0.8"/>
<circle cx="212.20" cy="159.60" r="1.38" fill="#6c85c8" stroke="#181e38" stroke-width="0.8"/>
<circle cx="212.20" cy="164.70" r="1.38" fill="#6c85c8" stroke="#181e38" stroke-width="0.8"/>
<circle cx="208.60" cy="164.70" r="1.38" fill="#6c85c8" stroke="#181e38" stroke-width="0.8"/>
<circle cx="212.20" cy="168.00" r="1.38" fill="#6c85c8" stroke="#181e38" stroke-width="0.8"/>
<circle cx="208.60" cy="168.00" r="1.38" fill="#6c85c8" stroke="#181e38" stroke-width="0.8"/>
<circle cx="214.30" cy="170.00" r="1.38" fill="#6c85c8" stroke="#181e38" stroke-width="0.8"/>
<circle cx="212.20" cy="172.40" r="1.38" fill="#6c85c8" stroke="#181e38" stroke-width="0.8"/>
<circle cx="210.10" cy="174.90" r="1.38" fill="#6c85c8" stroke="#181e38" stroke-width="0.8"/>
<circle cx="212.20" cy="176.90" r="1.38" fill="#6c85c8" stroke="#181e38" stroke-width="0.8"/>
<circle cx="208.60" cy="178.30" r="1.38" fill="#6c85c8" stroke="#181e38" stroke-width="0.8"/>
<circle cx="215.80" cy="178.30" r="1.38" fill="#6c85c8" stroke="#181e38" stroke-width="0.8"/>
<circle cx="212.20" cy="180.80" r="1.38" fill="#6c85c8" stroke="#181e38" stroke-width="0.8"/>
<circle cx="211.67" cy="180.80" r="1.38" fill="#6c85c8" stroke="#181e38" stroke-width="0.8"/>
<circle cx="212.20" cy="183.80" r="1.38" fill="#6c85c8" stroke="#181e38" stroke-width="0.8"/>
<circle cx="212.20" cy="193.60" r="1.38" fill="#6c85c8" stroke="#181e38" stroke-width="0.8"/>
<circle cx="212.20" cy="196.30" r="1.38" fill="#6c85c8" stroke="#181e38" stroke-width="0.8"/>
<circle cx="212.20" cy="220.30" r="1.38" fill="#6c85c8" stroke="#181e38" stroke-width="0.8"/>
<circle cx="221.80" cy="142.30" r="1.38" fill="#ea7452" stroke="#33110a" stroke-width="0.8"/>
<circle cx="219.70" cy="144.80" r="1.38" fill="#ea7452" stroke="#33110a" stroke-width="0.8"/>
<circle cx="223.90" cy="144.80" r="1.38" fill="#ea7452" stroke="#33110a" stroke-width="0.8"/>
<circle cx="221.80" cy="148.70" r="1.38" fill="#ea7452" stroke="#33110a" stroke-width="0.8"/>
<circle cx="219.70" cy="151.20" r="1.38" fill="#ea7452" stroke="#33110a" stroke-width="0.8"/>
<circle cx="223.90" cy="151.20" r="1.38" fill="#ea7452" stroke="#33110a" stroke-width="0.8"/>
<circle cx="221.80" cy="153.70" r="1.38" fill="#ea7452" stroke="#33110a" stroke-width="0.8"/>
<circle cx="218.20" cy="153.70" r="1.38" fill="#ea7452" stroke="#33110a" stroke-width="0.8"/>
<circle cx="219.70" cy="156.10" r="1.38" fill="#ea7452" stroke="#33110a" stroke-width="0.8"/>
<circle cx="223.90" cy="156.10" r="1.38" fill="#ea7452" stroke="#33110a" stroke-width="0.8"/>
<circle cx="221.80" cy="158.60" r="1.38" fill="#ea7452" stroke="#33110a" stroke-width="0.8"/>
<circle cx="218.20" cy="158.60" r="1.38" fill="#ea7452" stroke="#33110a" stroke-width="0.8"/>
<circle cx="221.80" cy="161.60" r="1.38" fill="#ea7452" stroke="#33110a" stroke-width="0.8"/>
<circle cx="218.20" cy="161.60" r="1.38" fill="#ea7452" stroke="#33110a" stroke-width="0.8"/>
<circle cx="219.70" cy="164.00" r="1.38" fill="#ea7452" stroke="#33110a" stroke-width="0.8"/>
<circle cx="223.90" cy="164.00" r="1.38" fill="#ea7452" stroke="#33110a" stroke-width="0.8"/>
<circle cx="221.80" cy="167.00" r="1.38" fill="#ea7452" stroke="#33110a" stroke-width="0.8"/>
<circle cx="218.20" cy="167.00" r="1.38" fill="#ea7452" stroke="#33110a" stroke-width="0.8"/>
<circle cx="225.40" cy="167.00" r="1.38" fill="#ea7452" stroke="#33110a" stroke-width="0.8"/>
<circle cx="219.70" cy="169.50" r="1.38" fill="#ea7452" stroke="#33110a" stroke-width="0.8"/>
<circle cx="223.90" cy="169.50" r="1.38" fill="#ea7452" stroke="#33110a" stroke-width="0.8"/>
<circle cx="221.80" cy="172.40" r="1.38" fill="#ea7452" stroke="#33110a" stroke-width="0.8"/>
<circle cx="221.80" cy="178.30" r="1.38" fill="#ea7452" stroke="#33110a" stroke-width="0.8"/>
<circle cx="218.20" cy="178.30" r="1.38" fill="#ea7452" stroke="#33110a" stroke-width="0.8"/>
<circle cx="221.80" cy="182.80" r="1.38" fill="#ea7452" stroke="#33110a" stroke-width="0.8"/>
<circle cx="221.80" cy="201.00" r="1.38" fill="#ea7452" stroke="#33110a" stroke-width="0.8"/>
<line x1="206.80" y1="176.30" x2="217.60" y2="176.30" stroke="#000" stroke-width="2.0"/>
<line x1="216.40" y1="162.20" x2="227.20" y2="162.20" stroke="#000" stroke-width="2.0"/>
<rect x="232.00" y="171.00" width="9.00" height="29.70" fill="#c7d5f0" stroke="#6e6e6e" stroke-width="0.8"/>
<rect x="241.80" y="161.70" width="9.00" height="23.40" fill="#f9c9c2" stroke="#6e6e6e" stroke-width="0.8"/>
<circle cx="236.50" cy="162.10" r="1.38" fill="#6c85c8" stroke="#181e38" stroke-width="0.8"/>
<circle cx="232.90" cy="162.10" r="1.38" fill="#6c85c8" stroke="#181e38" stroke-width="0.8"/>
<circle cx="236.50" cy="168.00" r="1.38" fill="#6c85c8" stroke="#181e38" stroke-width="0.8"/>
<circle cx="232.90" cy="168.00" r="1.38" fill="#6c85c8" stroke="#181e38" stroke-width="0.8"/>
<circle cx="234.40" cy="170.40" r="1.38" fill="#6c85c8" stroke="#181e38" stroke-width="0.8"/>
<circle cx="236.50" cy="173.40" r="1.38" fill="#6c85c8" stroke="#181e38" stroke-width="0.8"/>
<circle cx="232.90" cy="173.40" r="1.38" fill="#6c85c8" stroke="#181e38" stroke-width="0.8"/>
<circle cx="234.40" cy="175.90" r="1.38" fill="#6c85c8" stroke="#181e38" stroke-width="0.8"/>
<circle cx="236.50" cy="178.30" r="1.38" fill="#6c85c8" stroke="#181e38" stroke-width="0.8"/>
<circle cx="236.50" cy="188.70" r="1.38" fill="#6c85c8" stroke="#181e38" stroke-width="0.8"/>
<circle cx="236.50" cy="193.60" r="1.38" fill="#6c85c8" stroke="#181e38" stroke-width="0.8"/>
<circle cx="236.50" cy="198.10" r="1.38" fill="#6c85c8" stroke="#181e38" stroke-width="0.8"/>
<circle cx="232.90" cy="198.10" r="1.38" fill="#6c85c8" stroke="#181e38" stroke-width="0.8"/>
<circle cx="240.10" cy="198.10" r="1.38" fill="#6c85c8" stroke="#181e38" stroke-width="0.8"/>
<circle cx="236.50" cy="202.00" r="1.38" fill="#6c85c8" stroke="#181e38" stroke-width="0.8"/>
<circle cx="232.90" cy="202.00" r="1.38" fill="#6c85c8" stroke="#181e38" stroke-width="0.8"/>
<circle cx="236.50" cy="208.40" r="1.38" fill="#6c85c8" stroke="#181e38" stroke-width="0.8"/>
<circle cx="236.50" cy="235.30" r="1.38" fill="#6c85c8" stroke="#181e38" stroke-width="0.95"/>
<circle cx="246.30" cy="147.80" r="1.38" fill="#ea7452" stroke="#33110a" stroke-width="0.8"/>
<circle cx="242.70" cy="148.70" r="1.38" fill="#ea7452" stroke="#33110a" stroke-width="0.8"/>
<circle cx="246.30" cy="151.20" r="1.38" fill="#ea7452" stroke="#33110a" stroke-width="0.8"/>
<circle cx="246.30" cy="156.60" r="1.38" fill="#ea7452" stroke="#33110a" stroke-width="0.8"/>
<circle cx="242.70" cy="156.60" r="1.38" fill="#ea7452" stroke="#33110a" stroke-width="0.8"/>
<circle cx="244.20" cy="159.10" r="1.38" fill="#ea7452" stroke="#33110a" stroke-width="0.8"/>
<circle cx="246.30" cy="163.00" r="1.38" fill="#ea7452" stroke="#33110a" stroke-width="0.8"/>
<circle cx="242.70" cy="163.00" r="1.38" fill="#ea7452" stroke="#33110a" stroke-width="0.8"/>
<circle cx="248.40" cy="165.00" r="1.38" fill="#ea7452" stroke="#33110a" stroke-width="0.8"/>
<circle cx="242.86" cy="165.00" r="1.38" fill="#ea7452" stroke="#33110a" stroke-width="0.8"/>
<circle cx="246.30" cy="167.50" r="1.38" fill="#ea7452" stroke="#33110a" stroke-width="0.8"/>
<circle cx="249.90" cy="167.50" r="1.38" fill="#ea7452" stroke="#33110a" stroke-width="0.8"/>
<circle cx="243.03" cy="167.50" r="1.38" fill="#ea7452" stroke="#33110a" stroke-width="0.8"/>
<circle cx="245.70" cy="169.50" r="1.38" fill="#ea7452" stroke="#33110a" stroke-width="0.8"/>
<circle cx="248.91" cy="169.50" r="1.38" fill="#ea7452" stroke="#33110a" stroke-width="0.8"/>
<circle cx="246.30" cy="172.40" r="1.38" fill="#ea7452" stroke="#33110a" stroke-width="0.8"/>
<circle cx="246.30" cy="175.90" r="1.38" fill="#ea7452" stroke="#33110a" stroke-width="0.8"/>
<circle cx="246.30" cy="178.80" r="1.38" fill="#ea7452" stroke="#33110a" stroke-width="0.8"/>
<circle cx="242.70" cy="178.80" r="1.38" fill="#ea7452" stroke="#33110a" stroke-width="0.8"/>
<circle cx="244.20" cy="181.30" r="1.38" fill="#ea7452" stroke="#33110a" stroke-width="0.8"/>
<circle cx="246.30" cy="183.80" r="1.38" fill="#ea7452" stroke="#33110a" stroke-width="0.8"/>
<circle cx="246.30" cy="188.20" r="1.38" fill="#ea7452" stroke="#33110a" stroke-width="0.8"/>
<circle cx="246.30" cy="192.60" r="1.38" fill="#ea7452" stroke="#33110a" stroke-width="0.8"/>
<circle cx="246.30" cy="199.60" r="1.38" fill="#ea7452" stroke="#33110a" stroke-width="0.8"/>
<circle cx="246.30" cy="203.00" r="1.38" fill="#ea7452" stroke="#33110a" stroke-width="0.8"/>
<circle cx="242.70" cy="203.00" r="1.38" fill="#ea7452" stroke="#33110a" stroke-width="0.8"/>
<circle cx="246.30" cy="225.70" r="1.38" fill="#ea7452" stroke="#33110a" stroke-width="0.8"/>
<line x1="231.10" y1="188.70" x2="241.90" y2="188.70" stroke="#000" stroke-width="2.0"/>
<line x1="240.90" y1="170.20" x2="251.70" y2="170.20" stroke="#000" stroke-width="2.0"/>
<rect x="287.40" y="112.20" width="8.20" height="18.50" fill="#f9c9c2" stroke="#6e6e6e" stroke-width="0.8"/>
<circle cx="279.55" cy="235.30" r="1.38" fill="#6c85c8" stroke="#181e38" stroke-width="0.95"/>
<circle cx="280.85" cy="235.30" r="1.38" fill="#6c85c8" stroke="#181e38" stroke-width="0.95"/>
<circle cx="282.15" cy="235.30" r="1.38" fill="#6c85c8" stroke="#181e38" stroke-width="0.95"/>
<circle cx="283.45" cy="235.30" r="1.38" fill="#6c85c8" stroke="#181e38" stroke-width="0.95"/>
<circle cx="284.75" cy="235.30" r="1.38" fill="#6c85c8" stroke="#181e38" stroke-width="0.95"/>
<circle cx="286.05" cy="235.30" r="1.38" fill="#6c85c8" stroke="#181e38" stroke-width="0.95"/>
<circle cx="291.50" cy="76.70" r="1.38" fill="#ea7452" stroke="#33110a" stroke-width="0.8"/>
<circle cx="291.50" cy="98.00" r="1.38" fill="#ea7452" stroke="#33110a" stroke-width="0.8"/>
<circle cx="289.40" cy="99.80" r="1.38" fill="#ea7452" stroke="#33110a" stroke-width="0.8"/>
<circle cx="291.50" cy="102.70" r="1.38" fill="#ea7452" stroke="#33110a" stroke-width="0.8"/>
<circle cx="291.50" cy="112.00" r="1.38" fill="#ea7452" stroke="#33110a" stroke-width="0.8"/>
<circle cx="287.90" cy="112.00" r="1.38" fill="#ea7452" stroke="#33110a" stroke-width="0.8"/>
<circle cx="289.40" cy="114.40" r="1.38" fill="#ea7452" stroke="#33110a" stroke-width="0.8"/>
<circle cx="293.60" cy="114.40" r="1.38" fill="#ea7452" stroke="#33110a" stroke-width="0.8"/>
<circle cx="291.50" cy="116.70" r="1.38" fill="#ea7452" stroke="#33110a" stroke-width="0.8"/>
<circle cx="287.90" cy="116.70" r="1.38" fill="#ea7452" stroke="#33110a" stroke-width="0.8"/>
<circle cx="289.40" cy="119.00" r="1.38" fill="#ea7452" stroke="#33110a" stroke-width="0.8"/>
<circle cx="293.60" cy="119.00" r="1.38" fill="#ea7452" stroke="#33110a" stroke-width="0.8"/>
<circle cx="288.49" cy="119.00" r="1.38" fill="#ea7452" stroke="#33110a" stroke-width="0.8"/>
<circle cx="291.50" cy="121.40" r="1.38" fill="#ea7452" stroke="#33110a" stroke-width="0.8"/>
<circle cx="295.10" cy="121.40" r="1.38" fill="#ea7452" stroke="#33110a" stroke-width="0.8"/>
<circle cx="289.40" cy="123.70" r="1.38" fill="#ea7452" stroke="#33110a" stroke-width="0.8"/>
<circle cx="291.50" cy="125.50" r="1.38" fill="#ea7452" stroke="#33110a" stroke-width="0.8"/>
<circle cx="289.40" cy="127.20" r="1.38" fill="#ea7452" stroke="#33110a" stroke-width="0.8"/>
<circle cx="291.50" cy="129.60" r="1.38" fill="#ea7452" stroke="#33110a" stroke-width="0.8"/>
<circle cx="287.90" cy="129.60" r="1.38" fill="#ea7452" stroke="#33110a" stroke-width="0.8"/>
<circle cx="291.50" cy="134.80" r="1.38" fill="#ea7452" stroke="#33110a" stroke-width="0.8"/>
<circle cx="291.50" cy="139.80" r="1.38" fill="#ea7452" stroke="#33110a" stroke-width="0.8"/>
<circle cx="291.50" cy="152.90" r="1.38" fill="#ea7452" stroke="#33110a" stroke-width="0.8"/>
<circle cx="289.40" cy="155.00" r="1.38" fill="#ea7452" stroke="#33110a" stroke-width="0.8"/>
<line x1="286.50" y1="119.10" x2="296.50" y2="119.10" stroke="#000" stroke-width="2.0"/>
<rect x="310.20" y="112.20" width="8.20" height="15.20" fill="#f9c9c2" stroke="#6e6e6e" stroke-width="0.8"/>
<circle cx="302.05" cy="235.30" r="1.38" fill="#6c85c8" stroke="#181e38" stroke-width="0.95"/>
<circle cx="303.35" cy="235.30" r="1.38" fill="#6c85c8" stroke="#181e38" stroke-width="0.95"/>
<circle cx="304.65" cy="235.30" r="1.38" fill="#6c85c8" stroke="#181e38" stroke-width="0.95"/>
<circle cx="305.95" cy="235.30" r="1.38" fill="#6c85c8" stroke="#181e38" stroke-width="0.95"/>
<circle cx="307.25" cy="235.30" r="1.38" fill="#6c85c8" stroke="#181e38" stroke-width="0.95"/>
<circle cx="308.55" cy="235.30" r="1.38" fill="#6c85c8" stroke="#181e38" stroke-width="0.95"/>
<circle cx="314.30" cy="77.20" r="1.38" fill="#ea7452" stroke="#33110a" stroke-width="0.8"/>
<circle cx="314.30" cy="98.00" r="1.38" fill="#ea7452" stroke="#33110a" stroke-width="0.8"/>
<circle cx="312.20" cy="99.80" r="1.38" fill="#ea7452" stroke="#33110a" stroke-width="0.8"/>
<circle cx="314.30" cy="106.80" r="1.38" fill="#ea7452" stroke="#33110a" stroke-width="0.8"/>
<circle cx="314.30" cy="110.90" r="1.38" fill="#ea7452" stroke="#33110a" stroke-width="0.8"/>
<circle cx="312.20" cy="113.40" r="1.38" fill="#ea7452" stroke="#33110a" stroke-width="0.8"/>
<circle cx="316.40" cy="113.40" r="1.38" fill="#ea7452" stroke="#33110a" stroke-width="0.8"/>
<circle cx="314.30" cy="116.10" r="1.38" fill="#ea7452" stroke="#33110a" stroke-width="0.8"/>
<circle cx="310.70" cy="116.10" r="1.38" fill="#ea7452" stroke="#33110a" stroke-width="0.8"/>
<circle cx="314.30" cy="119.10" r="1.38" fill="#ea7452" stroke="#33110a" stroke-width="0.8"/>
<circle cx="310.70" cy="119.10" r="1.38" fill="#ea7452" stroke="#33110a" stroke-width="0.8"/>
<circle cx="314.30" cy="122.00" r="1.38" fill="#ea7452" stroke="#33110a" stroke-width="0.8"/>
<circle cx="310.70" cy="122.00" r="1.38" fill="#ea7452" stroke="#33110a" stroke-width="0.8"/>
<circle cx="312.20" cy="124.30" r="1.38" fill="#ea7452" stroke="#33110a" stroke-width="0.8"/>
<circle cx="316.40" cy="124.30" r="1.38" fill="#ea7452" stroke="#33110a" stroke-width="0.8"/>
<circle cx="314.30" cy="127.20" r="1.38" fill="#ea7452" stroke="#33110a" stroke-width="0.8"/>
<circle cx="310.70" cy="127.20" r="1.38" fill="#ea7452" stroke="#33110a" stroke-width="0.8"/>
<circle cx="314.30" cy="133.10" r="1.38" fill="#ea7452" stroke="#33110a" stroke-width="0.8"/>
<circle cx="314.30" cy="141.20" r="1.38" fill="#ea7452" stroke="#33110a" stroke-width="0.8"/>
<circle cx="310.70" cy="141.20" r="1.38" fill="#ea7452" stroke="#33110a" stroke-width="0.8"/>
<circle cx="314.30" cy="150.60" r="1.38" fill="#ea7452" stroke="#33110a" stroke-width="0.8"/>
<circle cx="314.30" cy="153.90" r="1.38" fill="#ea7452" stroke="#33110a" stroke-width="0.8"/>
<line x1="309.30" y1="119.40" x2="319.30" y2="119.40" stroke="#000" stroke-width="2.0"/>
<rect x="332.40" y="120.20" width="8.20" height="19.60" fill="#f9c9c2" stroke="#6e6e6e" stroke-width="0.8"/>
<circle cx="324.25" cy="235.30" r="1.38" fill="#6c85c8" stroke="#181e38" stroke-width="0.95"/>
<circle cx="325.55" cy="235.30" r="1.38" fill="#6c85c8" stroke="#181e38" stroke-width="0.95"/>
<circle cx="326.85" cy="235.30" r="1.38" fill="#6c85c8" stroke="#181e38" stroke-width="0.95"/>
<circle cx="328.15" cy="235.30" r="1.38" fill="#6c85c8" stroke="#181e38" stroke-width="0.95"/>
<circle cx="329.45" cy="235.30" r="1.38" fill="#6c85c8" stroke="#181e38" stroke-width="0.95"/>
<circle cx="330.75" cy="235.30" r="1.38" fill="#6c85c8" stroke="#181e38" stroke-width="0.95"/>
<circle cx="336.50" cy="91.00" r="1.38" fill="#ea7452" stroke="#33110a" stroke-width="0.8"/>
<circle cx="336.50" cy="112.00" r="1.38" fill="#ea7452" stroke="#33110a" stroke-width="0.8"/>
<circle cx="334.40" cy="113.80" r="1.38" fill="#ea7452" stroke="#33110a" stroke-width="0.8"/>
<circle cx="336.50" cy="119.00" r="1.38" fill="#ea7452" stroke="#33110a" stroke-width="0.8"/>
<circle cx="332.90" cy="119.00" r="1.38" fill="#ea7452" stroke="#33110a" stroke-width="0.8"/>
<circle cx="338.60" cy="120.80" r="1.38" fill="#ea7452" stroke="#33110a" stroke-width="0.8"/>
<circle cx="334.29" cy="120.80" r="1.38" fill="#ea7452" stroke="#33110a" stroke-width="0.8"/>
<circle cx="336.50" cy="123.70" r="1.38" fill="#ea7452" stroke="#33110a" stroke-width="0.8"/>
<circle cx="332.90" cy="123.70" r="1.38" fill="#ea7452" stroke="#33110a" stroke-width="0.8"/>
<circle cx="336.50" cy="126.60" r="1.38" fill="#ea7452" stroke="#33110a" stroke-width="0.8"/>
<circle cx="334.40" cy="129.00" r="1.38" fill="#ea7452" stroke="#33110a" stroke-width="0.8"/>
<circle cx="338.60" cy="129.00" r="1.38" fill="#ea7452" stroke="#33110a" stroke-width="0.8"/>
<circle cx="336.50" cy="131.90" r="1.38" fill="#ea7452" stroke="#33110a" stroke-width="0.8"/>
<circle cx="334.40" cy="134.20" r="1.38" fill="#ea7452" stroke="#33110a" stroke-width="0.8"/>
<circle cx="336.50" cy="137.20" r="1.38" fill="#ea7452" stroke="#33110a" stroke-width="0.8"/>
<circle cx="332.90" cy="137.20" r="1.38" fill="#ea7452" stroke="#33110a" stroke-width="0.8"/>
<circle cx="334.40" cy="139.50" r="1.38" fill="#ea7452" stroke="#33110a" stroke-width="0.8"/>
<circle cx="336.50" cy="143.60" r="1.38" fill="#ea7452" stroke="#33110a" stroke-width="0.8"/>
<circle cx="332.90" cy="144.70" r="1.38" fill="#ea7452" stroke="#33110a" stroke-width="0.8"/>
<circle cx="336.50" cy="155.00" r="1.38" fill="#ea7452" stroke="#33110a" stroke-width="0.8"/>
<circle cx="336.50" cy="169.50" r="1.38" fill="#ea7452" stroke="#33110a" stroke-width="0.8"/>
<line x1="331.50" y1="129.40" x2="341.50" y2="129.40" stroke="#000" stroke-width="2.0"/>
<rect x="350.60" y="119.40" width="8.20" height="21.70" fill="#f9c9c2" stroke="#6e6e6e" stroke-width="0.8"/>
<circle cx="342.55" cy="235.30" r="1.38" fill="#6c85c8" stroke="#181e38" stroke-width="0.95"/>
<circle cx="343.85" cy="235.30" r="1.38" fill="#6c85c8" stroke="#181e38" stroke-width="0.95"/>
<circle cx="345.15" cy="235.30" r="1.38" fill="#6c85c8" stroke="#181e38" stroke-width="0.95"/>
<circle cx="346.45" cy="235.30" r="1.38" fill="#6c85c8" stroke="#181e38" stroke-width="0.95"/>
<circle cx="347.75" cy="235.30" r="1.38" fill="#6c85c8" stroke="#181e38" stroke-width="0.95"/>
<circle cx="349.05" cy="235.30" r="1.38" fill="#6c85c8" stroke="#181e38" stroke-width="0.95"/>
<circle cx="354.70" cy="92.40" r="1.38" fill="#ea7452" stroke="#33110a" stroke-width="0.8"/>
<circle cx="354.70" cy="115.00" r="1.38" fill="#ea7452" stroke="#33110a" stroke-width="0.8"/>
<circle cx="351.10" cy="115.00" r="1.38" fill="#ea7452" stroke="#33110a" stroke-width="0.8"/>
<circle cx="354.70" cy="117.90" r="1.38" fill="#ea7452" stroke="#33110a" stroke-width="0.8"/>
<circle cx="351.10" cy="117.90" r="1.38" fill="#ea7452" stroke="#33110a" stroke-width="0.8"/>
<circle cx="352.60" cy="120.20" r="1.38" fill="#ea7452" stroke="#33110a" stroke-width="0.8"/>
<circle cx="356.80" cy="120.20" r="1.38" fill="#ea7452" stroke="#33110a" stroke-width="0.8"/>
<circle cx="354.70" cy="122.60" r="1.38" fill="#ea7452" stroke="#33110a" stroke-width="0.8"/>
<circle cx="351.10" cy="122.60" r="1.38" fill="#ea7452" stroke="#33110a" stroke-width="0.8"/>
<circle cx="352.60" cy="124.90" r="1.38" fill="#ea7452" stroke="#33110a" stroke-width="0.8"/>
<circle cx="356.80" cy="124.90" r="1.38" fill="#ea7452" stroke="#33110a" stroke-width="0.8"/>
<circle cx="354.70" cy="130.70" r="1.38" fill="#ea7452" stroke="#33110a" stroke-width="0.8"/>
<circle cx="354.70" cy="133.70" r="1.38" fill="#ea7452" stroke="#33110a" stroke-width="0.8"/>
<circle cx="352.60" cy="136.00" r="1.38" fill="#ea7452" stroke="#33110a" stroke-width="0.8"/>
<circle cx="354.70" cy="139.50" r="1.38" fill="#ea7452" stroke="#33110a" stroke-width="0.8"/>
<circle cx="351.10" cy="139.50" r="1.38" fill="#ea7452" stroke="#33110a" stroke-width="0.8"/>
<circle cx="356.80" cy="141.20" r="1.38" fill="#ea7452" stroke="#33110a" stroke-width="0.8"/>
<circle cx="354.70" cy="144.70" r="1.38" fill="#ea7452" stroke="#33110a" stroke-width="0.8"/>
<circle cx="352.60" cy="146.50" r="1.38" fill="#ea7452" stroke="#33110a" stroke-width="0.8"/>
<circle cx="354.70" cy="160.50" r="1.38" fill="#ea7452" stroke="#33110a" stroke-width="0.8"/>
<circle cx="354.70" cy="174.50" r="1.38" fill="#ea7452" stroke="#33110a" stroke-width="0.8"/>
<line x1="349.70" y1="122.60" x2="359.70" y2="122.60" stroke="#000" stroke-width="2.0"/>
<rect x="371.55" y="177.20" width="8.50" height="20.00" fill="#c7d5f0" stroke="#6e6e6e" stroke-width="0.8"/>
<rect x="380.70" y="174.10" width="8.00" height="10.30" fill="#f9c9c2" stroke="#6e6e6e" stroke-width="0.8"/>
<circle cx="375.80" cy="174.50" r="1.38" fill="#6c85c8" stroke="#181e38" stroke-width="0.8"/>
<circle cx="372.20" cy="175.90" r="1.38" fill="#6c85c8" stroke="#181e38" stroke-width="0.8"/>
<circle cx="375.80" cy="181.70" r="1.38" fill="#6c85c8" stroke="#181e38" stroke-width="0.8"/>
<circle cx="375.80" cy="185.70" r="1.38" fill="#6c85c8" stroke="#181e38" stroke-width="0.8"/>
<circle cx="375.80" cy="188.40" r="1.38" fill="#6c85c8" stroke="#181e38" stroke-width="0.8"/>
<circle cx="375.80" cy="196.00" r="1.38" fill="#6c85c8" stroke="#181e38" stroke-width="0.8"/>
<circle cx="373.70" cy="197.80" r="1.38" fill="#6c85c8" stroke="#181e38" stroke-width="0.8"/>
<circle cx="375.80" cy="206.40" r="1.38" fill="#6c85c8" stroke="#181e38" stroke-width="0.8"/>
<circle cx="384.70" cy="172.70" r="1.38" fill="#ea7452" stroke="#33110a" stroke-width="0.8"/>
<circle cx="384.70" cy="176.80" r="1.38" fill="#ea7452" stroke="#33110a" stroke-width="0.8"/>
<circle cx="381.10" cy="176.80" r="1.38" fill="#ea7452" stroke="#33110a" stroke-width="0.8"/>
<circle cx="384.70" cy="188.40" r="1.38" fill="#ea7452" stroke="#33110a" stroke-width="0.8"/>
<line x1="370.65" y1="187.00" x2="380.95" y2="187.00" stroke="#000" stroke-width="2.0"/>
<line x1="379.80" y1="176.80" x2="389.60" y2="176.80" stroke="#000" stroke-width="2.0"/>
<rect x="394.00" y="186.20" width="8.20" height="48.90" fill="#c7d5f0" stroke="#6e6e6e" stroke-width="0.8"/>
<rect x="403.00" y="168.70" width="8.00" height="25.60" fill="#f9c9c2" stroke="#6e6e6e" stroke-width="0.8"/>
<circle cx="398.10" cy="172.70" r="1.38" fill="#6c85c8" stroke="#181e38" stroke-width="0.8"/>
<circle cx="394.50" cy="174.10" r="1.38" fill="#6c85c8" stroke="#181e38" stroke-width="0.8"/>
<circle cx="398.10" cy="183.00" r="1.38" fill="#6c85c8" stroke="#181e38" stroke-width="0.8"/>
<circle cx="398.10" cy="185.70" r="1.38" fill="#6c85c8" stroke="#181e38" stroke-width="0.8"/>
<circle cx="398.10" cy="188.40" r="1.38" fill="#6c85c8" stroke="#181e38" stroke-width="0.8"/>
<circle cx="398.10" cy="192.90" r="1.38" fill="#6c85c8" stroke="#181e38" stroke-width="0.8"/>
<circle cx="398.10" cy="197.40" r="1.38" fill="#6c85c8" stroke="#181e38" stroke-width="0.8"/>
<circle cx="398.10" cy="207.30" r="1.38" fill="#6c85c8" stroke="#181e38" stroke-width="0.8"/>
<circle cx="398.10" cy="221.20" r="1.38" fill="#6c85c8" stroke="#181e38" stroke-width="0.8"/>
<circle cx="394.85" cy="235.30" r="1.38" fill="#6c85c8" stroke="#181e38" stroke-width="0.95"/>
<circle cx="396.15" cy="235.30" r="1.38" fill="#6c85c8" stroke="#181e38" stroke-width="0.95"/>
<circle cx="397.45" cy="235.30" r="1.38" fill="#6c85c8" stroke="#181e38" stroke-width="0.95"/>
<circle cx="398.75" cy="235.30" r="1.38" fill="#6c85c8" stroke="#181e38" stroke-width="0.95"/>
<circle cx="400.05" cy="235.30" r="1.38" fill="#6c85c8" stroke="#181e38" stroke-width="0.95"/>
<circle cx="401.35" cy="235.30" r="1.38" fill="#6c85c8" stroke="#181e38" stroke-width="0.95"/>
<circle cx="407.00" cy="152.60" r="1.38" fill="#ea7452" stroke="#33110a" stroke-width="0.8"/>
<circle cx="404.90" cy="154.30" r="1.38" fill="#ea7452" stroke="#33110a" stroke-width="0.8"/>
<circle cx="407.00" cy="158.40" r="1.38" fill="#ea7452" stroke="#33110a" stroke-width="0.8"/>
<circle cx="407.00" cy="164.20" r="1.38" fill="#ea7452" stroke="#33110a" stroke-width="0.8"/>
<circle cx="407.00" cy="169.10" r="1.38" fill="#ea7452" stroke="#33110a" stroke-width="0.8"/>
<circle cx="403.40" cy="169.10" r="1.38" fill="#ea7452" stroke="#33110a" stroke-width="0.8"/>
<circle cx="404.90" cy="171.40" r="1.38" fill="#ea7452" stroke="#33110a" stroke-width="0.8"/>
<circle cx="407.00" cy="174.10" r="1.38" fill="#ea7452" stroke="#33110a" stroke-width="0.8"/>
<circle cx="407.00" cy="179.50" r="1.38" fill="#ea7452" stroke="#33110a" stroke-width="0.8"/>
<circle cx="403.40" cy="179.50" r="1.38" fill="#ea7452" stroke="#33110a" stroke-width="0.8"/>
<circle cx="404.90" cy="181.70" r="1.38" fill="#ea7452" stroke="#33110a" stroke-width="0.8"/>
<circle cx="409.10" cy="181.70" r="1.38" fill="#ea7452" stroke="#33110a" stroke-width="0.8"/>
<circle cx="407.00" cy="183.90" r="1.38" fill="#ea7452" stroke="#33110a" stroke-width="0.8"/>
<circle cx="403.40" cy="183.90" r="1.38" fill="#ea7452" stroke="#33110a" stroke-width="0.8"/>
<circle cx="409.10" cy="185.70" r="1.38" fill="#ea7452" stroke="#33110a" stroke-width="0.8"/>
<circle cx="407.00" cy="187.50" r="1.38" fill="#ea7452" stroke="#33110a" stroke-width="0.8"/>
<circle cx="403.40" cy="188.90" r="1.38" fill="#ea7452" stroke="#33110a" stroke-width="0.8"/>
<circle cx="410.60" cy="188.90" r="1.38" fill="#ea7452" stroke="#33110a" stroke-width="0.8"/>
<circle cx="407.00" cy="193.80" r="1.38" fill="#ea7452" stroke="#33110a" stroke-width="0.8"/>
<circle cx="403.40" cy="193.80" r="1.38" fill="#ea7452" stroke="#33110a" stroke-width="0.8"/>
<circle cx="407.00" cy="206.80" r="1.38" fill="#ea7452" stroke="#33110a" stroke-width="0.8"/>
<circle cx="407.00" cy="214.90" r="1.38" fill="#ea7452" stroke="#33110a" stroke-width="0.8"/>
<circle cx="405.70" cy="235.30" r="1.38" fill="#ea7452" stroke="#33110a" stroke-width="0.95"/>
<circle cx="407.00" cy="235.30" r="1.38" fill="#ea7452" stroke="#33110a" stroke-width="0.95"/>
<circle cx="408.30" cy="235.30" r="1.38" fill="#ea7452" stroke="#33110a" stroke-width="0.95"/>
<line x1="393.10" y1="207.40" x2="403.10" y2="207.40" stroke="#000" stroke-width="2.0"/>
<line x1="402.10" y1="183.80" x2="411.90" y2="183.80" stroke="#000" stroke-width="2.0"/>
<rect x="416.50" y="171.40" width="8.20" height="17.50" fill="#c7d5f0" stroke="#6e6e6e" stroke-width="0.8"/>
<rect x="425.60" y="166.90" width="8.00" height="29.60" fill="#f9c9c2" stroke="#6e6e6e" stroke-width="0.8"/>
<circle cx="420.60" cy="158.80" r="1.38" fill="#6c85c8" stroke="#181e38" stroke-width="0.8"/>
<circle cx="418.50" cy="161.10" r="1.38" fill="#6c85c8" stroke="#181e38" stroke-width="0.8"/>
<circle cx="420.60" cy="171.80" r="1.38" fill="#6c85c8" stroke="#181e38" stroke-width="0.8"/>
<circle cx="417.00" cy="171.80" r="1.38" fill="#6c85c8" stroke="#181e38" stroke-width="0.8"/>
<circle cx="418.50" cy="174.10" r="1.38" fill="#6c85c8" stroke="#181e38" stroke-width="0.8"/>
<circle cx="420.60" cy="176.80" r="1.38" fill="#6c85c8" stroke="#181e38" stroke-width="0.8"/>
<circle cx="417.00" cy="176.80" r="1.38" fill="#6c85c8" stroke="#181e38" stroke-width="0.8"/>
<circle cx="422.70" cy="178.60" r="1.38" fill="#6c85c8" stroke="#181e38" stroke-width="0.8"/>
<circle cx="420.60" cy="180.80" r="1.38" fill="#6c85c8" stroke="#181e38" stroke-width="0.8"/>
<circle cx="417.00" cy="180.80" r="1.38" fill="#6c85c8" stroke="#181e38" stroke-width="0.8"/>
<circle cx="418.50" cy="183.00" r="1.38" fill="#6c85c8" stroke="#181e38" stroke-width="0.8"/>
<circle cx="420.60" cy="185.30" r="1.38" fill="#6c85c8" stroke="#181e38" stroke-width="0.8"/>
<circle cx="417.00" cy="185.30" r="1.38" fill="#6c85c8" stroke="#181e38" stroke-width="0.8"/>
<circle cx="418.50" cy="187.50" r="1.38" fill="#6c85c8" stroke="#181e38" stroke-width="0.8"/>
<circle cx="422.70" cy="187.50" r="1.38" fill="#6c85c8" stroke="#181e38" stroke-width="0.8"/>
<circle cx="420.60" cy="192.90" r="1.38" fill="#6c85c8" stroke="#181e38" stroke-width="0.8"/>
<circle cx="420.60" cy="195.60" r="1.38" fill="#6c85c8" stroke="#181e38" stroke-width="0.8"/>
<circle cx="429.60" cy="150.80" r="1.38" fill="#ea7452" stroke="#33110a" stroke-width="0.8"/>
<circle cx="429.60" cy="154.30" r="1.38" fill="#ea7452" stroke="#33110a" stroke-width="0.8"/>
<circle cx="429.60" cy="159.30" r="1.38" fill="#ea7452" stroke="#33110a" stroke-width="0.8"/>
<circle cx="427.50" cy="161.50" r="1.38" fill="#ea7452" stroke="#33110a" stroke-width="0.8"/>
<circle cx="429.60" cy="165.60" r="1.38" fill="#ea7452" stroke="#33110a" stroke-width="0.8"/>
<circle cx="426.00" cy="166.90" r="1.38" fill="#ea7452" stroke="#33110a" stroke-width="0.8"/>
<circle cx="429.60" cy="168.30" r="1.38" fill="#ea7452" stroke="#33110a" stroke-width="0.8"/>
<circle cx="429.60" cy="172.30" r="1.38" fill="#ea7452" stroke="#33110a" stroke-width="0.8"/>
<circle cx="429.60" cy="176.80" r="1.38" fill="#ea7452" stroke="#33110a" stroke-width="0.8"/>
<circle cx="426.00" cy="176.80" r="1.38" fill="#ea7452" stroke="#33110a" stroke-width="0.8"/>
<circle cx="431.70" cy="178.60" r="1.38" fill="#ea7452" stroke="#33110a" stroke-width="0.8"/>
<circle cx="429.60" cy="182.20" r="1.38" fill="#ea7452" stroke="#33110a" stroke-width="0.8"/>
<circle cx="429.60" cy="187.10" r="1.38" fill="#ea7452" stroke="#33110a" stroke-width="0.8"/>
<circle cx="426.00" cy="187.10" r="1.38" fill="#ea7452" stroke="#33110a" stroke-width="0.8"/>
<circle cx="431.70" cy="188.90" r="1.38" fill="#ea7452" stroke="#33110a" stroke-width="0.8"/>
<circle cx="430.62" cy="188.90" r="1.38" fill="#ea7452" stroke="#33110a" stroke-width="0.8"/>
<circle cx="427.50" cy="191.10" r="1.38" fill="#ea7452" stroke="#33110a" stroke-width="0.8"/>
<circle cx="433.20" cy="191.10" r="1.38" fill="#ea7452" stroke="#33110a" stroke-width="0.8"/>
<circle cx="429.60" cy="192.90" r="1.38" fill="#ea7452" stroke="#33110a" stroke-width="0.8"/>
<circle cx="427.50" cy="194.70" r="1.38" fill="#ea7452" stroke="#33110a" stroke-width="0.8"/>
<circle cx="429.60" cy="198.70" r="1.38" fill="#ea7452" stroke="#33110a" stroke-width="0.8"/>
<circle cx="426.00" cy="198.70" r="1.38" fill="#ea7452" stroke="#33110a" stroke-width="0.8"/>
<circle cx="429.60" cy="203.70" r="1.38" fill="#ea7452" stroke="#33110a" stroke-width="0.8"/>
<circle cx="429.60" cy="213.10" r="1.38" fill="#ea7452" stroke="#33110a" stroke-width="0.8"/>
<circle cx="429.60" cy="223.40" r="1.38" fill="#ea7452" stroke="#33110a" stroke-width="0.8"/>
<circle cx="426.00" cy="223.40" r="1.38" fill="#ea7452" stroke="#33110a" stroke-width="0.8"/>
<line x1="415.60" y1="180.20" x2="425.60" y2="180.20" stroke="#000" stroke-width="2.0"/>
<line x1="424.70" y1="187.50" x2="434.50" y2="187.50" stroke="#000" stroke-width="2.0"/>
<rect x="439.25" y="169.10" width="8.50" height="42.20" fill="#c7d5f0" stroke="#6e6e6e" stroke-width="0.8"/>
<rect x="448.50" y="164.20" width="8.20" height="34.50" fill="#f9c9c2" stroke="#6e6e6e" stroke-width="0.8"/>
<circle cx="443.50" cy="163.30" r="1.38" fill="#6c85c8" stroke="#181e38" stroke-width="0.8"/>
<circle cx="443.50" cy="167.40" r="1.38" fill="#6c85c8" stroke="#181e38" stroke-width="0.8"/>
<circle cx="443.50" cy="170.50" r="1.38" fill="#6c85c8" stroke="#181e38" stroke-width="0.8"/>
<circle cx="439.90" cy="170.50" r="1.38" fill="#6c85c8" stroke="#181e38" stroke-width="0.8"/>
<circle cx="447.10" cy="170.50" r="1.38" fill="#6c85c8" stroke="#181e38" stroke-width="0.8"/>
<circle cx="443.50" cy="181.70" r="1.38" fill="#6c85c8" stroke="#181e38" stroke-width="0.8"/>
<circle cx="443.50" cy="184.40" r="1.38" fill="#6c85c8" stroke="#181e38" stroke-width="0.8"/>
<circle cx="439.90" cy="184.40" r="1.38" fill="#6c85c8" stroke="#181e38" stroke-width="0.8"/>
<circle cx="447.10" cy="184.40" r="1.38" fill="#6c85c8" stroke="#181e38" stroke-width="0.8"/>
<circle cx="443.50" cy="194.70" r="1.38" fill="#6c85c8" stroke="#181e38" stroke-width="0.8"/>
<circle cx="443.50" cy="204.10" r="1.38" fill="#6c85c8" stroke="#181e38" stroke-width="0.8"/>
<circle cx="439.90" cy="204.10" r="1.38" fill="#6c85c8" stroke="#181e38" stroke-width="0.8"/>
<circle cx="443.50" cy="209.00" r="1.38" fill="#6c85c8" stroke="#181e38" stroke-width="0.8"/>
<circle cx="443.50" cy="212.20" r="1.38" fill="#6c85c8" stroke="#181e38" stroke-width="0.8"/>
<circle cx="441.40" cy="214.40" r="1.38" fill="#6c85c8" stroke="#181e38" stroke-width="0.8"/>
<circle cx="443.50" cy="218.50" r="1.38" fill="#6c85c8" stroke="#181e38" stroke-width="0.8"/>
<circle cx="443.50" cy="224.30" r="1.38" fill="#6c85c8" stroke="#181e38" stroke-width="0.8"/>
<circle cx="452.60" cy="150.80" r="1.38" fill="#ea7452" stroke="#33110a" stroke-width="0.8"/>
<circle cx="452.60" cy="153.50" r="1.38" fill="#ea7452" stroke="#33110a" stroke-width="0.8"/>
<circle cx="449.00" cy="154.80" r="1.38" fill="#ea7452" stroke="#33110a" stroke-width="0.8"/>
<circle cx="454.70" cy="155.70" r="1.38" fill="#ea7452" stroke="#33110a" stroke-width="0.8"/>
<circle cx="452.60" cy="161.50" r="1.38" fill="#ea7452" stroke="#33110a" stroke-width="0.8"/>
<circle cx="452.60" cy="167.80" r="1.38" fill="#ea7452" stroke="#33110a" stroke-width="0.8"/>
<circle cx="449.00" cy="167.80" r="1.38" fill="#ea7452" stroke="#33110a" stroke-width="0.8"/>
<circle cx="454.70" cy="169.60" r="1.38" fill="#ea7452" stroke="#33110a" stroke-width="0.8"/>
<circle cx="452.60" cy="173.20" r="1.38" fill="#ea7452" stroke="#33110a" stroke-width="0.8"/>
<circle cx="449.00" cy="173.20" r="1.38" fill="#ea7452" stroke="#33110a" stroke-width="0.8"/>
<circle cx="450.50" cy="175.40" r="1.38" fill="#ea7452" stroke="#33110a" stroke-width="0.8"/>
<circle cx="452.60" cy="177.20" r="1.38" fill="#ea7452" stroke="#33110a" stroke-width="0.8"/>
<circle cx="456.20" cy="177.20" r="1.38" fill="#ea7452" stroke="#33110a" stroke-width="0.8"/>
<circle cx="456.18" cy="177.20" r="1.38" fill="#ea7452" stroke="#33110a" stroke-width="0.8"/>
<circle cx="450.50" cy="179.50" r="1.38" fill="#ea7452" stroke="#33110a" stroke-width="0.8"/>
<circle cx="452.60" cy="181.30" r="1.38" fill="#ea7452" stroke="#33110a" stroke-width="0.8"/>
<circle cx="456.20" cy="181.30" r="1.38" fill="#ea7452" stroke="#33110a" stroke-width="0.8"/>
<circle cx="452.60" cy="184.00" r="1.38" fill="#ea7452" stroke="#33110a" stroke-width="0.8"/>
<circle cx="452.60" cy="187.10" r="1.38" fill="#ea7452" stroke="#33110a" stroke-width="0.8"/>
<circle cx="452.60" cy="196.50" r="1.38" fill="#ea7452" stroke="#33110a" stroke-width="0.8"/>
<circle cx="452.60" cy="201.40" r="1.38" fill="#ea7452" stroke="#33110a" stroke-width="0.8"/>
<circle cx="452.60" cy="210.40" r="1.38" fill="#ea7452" stroke="#33110a" stroke-width="0.8"/>
<circle cx="452.60" cy="215.30" r="1.38" fill="#ea7452" stroke="#33110a" stroke-width="0.8"/>
<circle cx="451.30" cy="235.30" r="1.38" fill="#ea7452" stroke="#33110a" stroke-width="0.95"/>
<circle cx="452.60" cy="235.30" r="1.38" fill="#ea7452" stroke="#33110a" stroke-width="0.95"/>
<circle cx="453.90" cy="235.30" r="1.38" fill="#ea7452" stroke="#33110a" stroke-width="0.95"/>
<line x1="438.35" y1="187.10" x2="448.65" y2="187.10" stroke="#000" stroke-width="2.0"/>
<line x1="447.60" y1="177.20" x2="457.60" y2="177.20" stroke="#000" stroke-width="2.0"/>
<rect x="496.80" y="124.10" width="11.00" height="20.20" fill="#f9c9c2" stroke="#6e6e6e" stroke-width="0.8"/>
<circle cx="492.00" cy="193.10" r="1.38" fill="#6c85c8" stroke="#181e38" stroke-width="0.8"/>
<circle cx="492.00" cy="211.60" r="1.38" fill="#6c85c8" stroke="#181e38" stroke-width="0.8"/>
<circle cx="492.00" cy="218.20" r="1.38" fill="#6c85c8" stroke="#181e38" stroke-width="0.8"/>
<circle cx="488.75" cy="235.30" r="1.38" fill="#6c85c8" stroke="#181e38" stroke-width="0.95"/>
<circle cx="490.05" cy="235.30" r="1.38" fill="#6c85c8" stroke="#181e38" stroke-width="0.95"/>
<circle cx="491.35" cy="235.30" r="1.38" fill="#6c85c8" stroke="#181e38" stroke-width="0.95"/>
<circle cx="492.65" cy="235.30" r="1.38" fill="#6c85c8" stroke="#181e38" stroke-width="0.95"/>
<circle cx="493.95" cy="235.30" r="1.38" fill="#6c85c8" stroke="#181e38" stroke-width="0.95"/>
<circle cx="495.25" cy="235.30" r="1.38" fill="#6c85c8" stroke="#181e38" stroke-width="0.95"/>
<circle cx="502.30" cy="97.90" r="1.38" fill="#ea7452" stroke="#33110a" stroke-width="0.8"/>
<circle cx="502.30" cy="111.50" r="1.38" fill="#ea7452" stroke="#33110a" stroke-width="0.8"/>
<circle cx="502.30" cy="119.60" r="1.38" fill="#ea7452" stroke="#33110a" stroke-width="0.8"/>
<circle cx="498.70" cy="119.60" r="1.38" fill="#ea7452" stroke="#33110a" stroke-width="0.8"/>
<circle cx="504.40" cy="121.60" r="1.38" fill="#ea7452" stroke="#33110a" stroke-width="0.8"/>
<circle cx="502.92" cy="121.60" r="1.38" fill="#ea7452" stroke="#33110a" stroke-width="0.8"/>
<circle cx="500.20" cy="124.00" r="1.38" fill="#ea7452" stroke="#33110a" stroke-width="0.8"/>
<circle cx="505.90" cy="124.00" r="1.38" fill="#ea7452" stroke="#33110a" stroke-width="0.8"/>
<circle cx="502.30" cy="126.00" r="1.38" fill="#ea7452" stroke="#33110a" stroke-width="0.8"/>
<circle cx="501.47" cy="126.00" r="1.38" fill="#ea7452" stroke="#33110a" stroke-width="0.8"/>
<circle cx="504.40" cy="128.00" r="1.38" fill="#ea7452" stroke="#33110a" stroke-width="0.8"/>
<circle cx="502.30" cy="130.90" r="1.38" fill="#ea7452" stroke="#33110a" stroke-width="0.8"/>
<circle cx="500.20" cy="133.40" r="1.38" fill="#ea7452" stroke="#33110a" stroke-width="0.8"/>
<circle cx="504.40" cy="133.40" r="1.38" fill="#ea7452" stroke="#33110a" stroke-width="0.8"/>
<circle cx="502.30" cy="135.40" r="1.38" fill="#ea7452" stroke="#33110a" stroke-width="0.8"/>
<circle cx="502.30" cy="139.30" r="1.38" fill="#ea7452" stroke="#33110a" stroke-width="0.8"/>
<circle cx="498.70" cy="139.30" r="1.38" fill="#ea7452" stroke="#33110a" stroke-width="0.8"/>
<circle cx="505.90" cy="139.30" r="1.38" fill="#ea7452" stroke="#33110a" stroke-width="0.8"/>
<circle cx="500.20" cy="141.80" r="1.38" fill="#ea7452" stroke="#33110a" stroke-width="0.8"/>
<circle cx="504.40" cy="141.80" r="1.38" fill="#ea7452" stroke="#33110a" stroke-width="0.8"/>
<circle cx="502.30" cy="147.20" r="1.38" fill="#ea7452" stroke="#33110a" stroke-width="0.8"/>
<circle cx="502.30" cy="157.10" r="1.38" fill="#ea7452" stroke="#33110a" stroke-width="0.8"/>
<circle cx="502.30" cy="162.80" r="1.38" fill="#ea7452" stroke="#33110a" stroke-width="0.8"/>
<circle cx="498.70" cy="162.80" r="1.38" fill="#ea7452" stroke="#33110a" stroke-width="0.8"/>
<circle cx="502.30" cy="185.70" r="1.38" fill="#ea7452" stroke="#33110a" stroke-width="0.8"/>
<circle cx="498.70" cy="185.70" r="1.38" fill="#ea7452" stroke="#33110a" stroke-width="0.8"/>
<line x1="495.90" y1="134.40" x2="508.70" y2="134.40" stroke="#000" stroke-width="2.0"/>
<rect x="521.00" y="166.30" width="10.60" height="19.30" fill="#c7d5f0" stroke="#6e6e6e" stroke-width="0.8"/>
<rect x="532.20" y="155.10" width="9.60" height="20.10" fill="#f9c9c2" stroke="#6e6e6e" stroke-width="0.8"/>
<circle cx="526.30" cy="158.70" r="1.38" fill="#6c85c8" stroke="#181e38" stroke-width="0.8"/>
<circle cx="526.30" cy="164.30" r="1.38" fill="#6c85c8" stroke="#181e38" stroke-width="0.8"/>
<circle cx="526.30" cy="167.10" r="1.38" fill="#6c85c8" stroke="#181e38" stroke-width="0.8"/>
<circle cx="522.70" cy="167.10" r="1.38" fill="#6c85c8" stroke="#181e38" stroke-width="0.8"/>
<circle cx="528.40" cy="168.70" r="1.38" fill="#6c85c8" stroke="#181e38" stroke-width="0.8"/>
<circle cx="530.11" cy="168.70" r="1.38" fill="#6c85c8" stroke="#181e38" stroke-width="0.8"/>
<circle cx="526.30" cy="172.00" r="1.38" fill="#6c85c8" stroke="#181e38" stroke-width="0.8"/>
<circle cx="526.30" cy="176.40" r="1.38" fill="#6c85c8" stroke="#181e38" stroke-width="0.8"/>
<circle cx="522.70" cy="176.40" r="1.38" fill="#6c85c8" stroke="#181e38" stroke-width="0.8"/>
<circle cx="528.40" cy="178.40" r="1.38" fill="#6c85c8" stroke="#181e38" stroke-width="0.8"/>
<circle cx="522.67" cy="178.40" r="1.38" fill="#6c85c8" stroke="#181e38" stroke-width="0.8"/>
<circle cx="526.30" cy="180.40" r="1.38" fill="#6c85c8" stroke="#181e38" stroke-width="0.8"/>
<circle cx="529.17" cy="180.40" r="1.38" fill="#6c85c8" stroke="#181e38" stroke-width="0.8"/>
<circle cx="524.20" cy="182.80" r="1.38" fill="#6c85c8" stroke="#181e38" stroke-width="0.8"/>
<circle cx="526.30" cy="189.20" r="1.38" fill="#6c85c8" stroke="#181e38" stroke-width="0.8"/>
<circle cx="522.70" cy="189.20" r="1.38" fill="#6c85c8" stroke="#181e38" stroke-width="0.8"/>
<circle cx="529.90" cy="189.20" r="1.38" fill="#6c85c8" stroke="#181e38" stroke-width="0.8"/>
<circle cx="526.30" cy="194.80" r="1.38" fill="#6c85c8" stroke="#181e38" stroke-width="0.8"/>
<circle cx="537.00" cy="133.80" r="1.38" fill="#ea7452" stroke="#33110a" stroke-width="0.8"/>
<circle cx="537.00" cy="142.30" r="1.38" fill="#ea7452" stroke="#33110a" stroke-width="0.8"/>
<circle cx="533.40" cy="143.50" r="1.38" fill="#ea7452" stroke="#33110a" stroke-width="0.8"/>
<circle cx="537.00" cy="147.50" r="1.38" fill="#ea7452" stroke="#33110a" stroke-width="0.8"/>
<circle cx="537.00" cy="155.50" r="1.38" fill="#ea7452" stroke="#33110a" stroke-width="0.8"/>
<circle cx="533.40" cy="155.50" r="1.38" fill="#ea7452" stroke="#33110a" stroke-width="0.8"/>
<circle cx="539.10" cy="157.50" r="1.38" fill="#ea7452" stroke="#33110a" stroke-width="0.8"/>
<circle cx="537.00" cy="161.10" r="1.38" fill="#ea7452" stroke="#33110a" stroke-width="0.8"/>
<circle cx="534.90" cy="162.70" r="1.38" fill="#ea7452" stroke="#33110a" stroke-width="0.8"/>
<circle cx="539.10" cy="162.70" r="1.38" fill="#ea7452" stroke="#33110a" stroke-width="0.8"/>
<circle cx="537.00" cy="165.10" r="1.38" fill="#ea7452" stroke="#33110a" stroke-width="0.8"/>
<circle cx="533.40" cy="165.10" r="1.38" fill="#ea7452" stroke="#33110a" stroke-width="0.8"/>
<circle cx="540.60" cy="166.30" r="1.38" fill="#ea7452" stroke="#33110a" stroke-width="0.8"/>
<circle cx="535.32" cy="166.30" r="1.38" fill="#ea7452" stroke="#33110a" stroke-width="0.8"/>
<circle cx="537.00" cy="169.10" r="1.38" fill="#ea7452" stroke="#33110a" stroke-width="0.8"/>
<circle cx="534.90" cy="171.10" r="1.38" fill="#ea7452" stroke="#33110a" stroke-width="0.8"/>
<circle cx="539.10" cy="171.10" r="1.38" fill="#ea7452" stroke="#33110a" stroke-width="0.8"/>
<circle cx="537.00" cy="173.20" r="1.38" fill="#ea7452" stroke="#33110a" stroke-width="0.8"/>
<circle cx="534.15" cy="173.20" r="1.38" fill="#ea7452" stroke="#33110a" stroke-width="0.8"/>
<circle cx="537.00" cy="178.00" r="1.38" fill="#ea7452" stroke="#33110a" stroke-width="0.8"/>
<circle cx="533.40" cy="179.20" r="1.38" fill="#ea7452" stroke="#33110a" stroke-width="0.8"/>
<circle cx="537.00" cy="186.80" r="1.38" fill="#ea7452" stroke="#33110a" stroke-width="0.8"/>
<circle cx="534.90" cy="188.40" r="1.38" fill="#ea7452" stroke="#33110a" stroke-width="0.8"/>
<circle cx="537.00" cy="191.60" r="1.38" fill="#ea7452" stroke="#33110a" stroke-width="0.8"/>
<line x1="520.10" y1="178.40" x2="532.50" y2="178.40" stroke="#000" stroke-width="2.0"/>
<line x1="531.30" y1="166.00" x2="542.70" y2="166.00" stroke="#000" stroke-width="2.0"/>
<rect x="548.40" y="166.30" width="10.20" height="20.10" fill="#c7d5f0" stroke="#6e6e6e" stroke-width="0.8"/>
<rect x="559.60" y="153.10" width="9.60" height="22.50" fill="#f9c9c2" stroke="#6e6e6e" stroke-width="0.8"/>
<circle cx="553.50" cy="155.90" r="1.38" fill="#6c85c8" stroke="#181e38" stroke-width="0.8"/>
<circle cx="553.50" cy="161.50" r="1.38" fill="#6c85c8" stroke="#181e38" stroke-width="0.8"/>
<circle cx="553.50" cy="166.70" r="1.38" fill="#6c85c8" stroke="#181e38" stroke-width="0.8"/>
<circle cx="549.90" cy="166.70" r="1.38" fill="#6c85c8" stroke="#181e38" stroke-width="0.8"/>
<circle cx="557.10" cy="166.70" r="1.38" fill="#6c85c8" stroke="#181e38" stroke-width="0.8"/>
<circle cx="550.44" cy="168.70" r="1.38" fill="#6c85c8" stroke="#181e38" stroke-width="0.8"/>
<circle cx="553.50" cy="173.20" r="1.38" fill="#6c85c8" stroke="#181e38" stroke-width="0.8"/>
<circle cx="553.50" cy="177.60" r="1.38" fill="#6c85c8" stroke="#181e38" stroke-width="0.8"/>
<circle cx="549.90" cy="177.60" r="1.38" fill="#6c85c8" stroke="#181e38" stroke-width="0.8"/>
<circle cx="551.40" cy="180.00" r="1.38" fill="#6c85c8" stroke="#181e38" stroke-width="0.8"/>
<circle cx="553.50" cy="182.00" r="1.38" fill="#6c85c8" stroke="#181e38" stroke-width="0.8"/>
<circle cx="557.10" cy="182.00" r="1.38" fill="#6c85c8" stroke="#181e38" stroke-width="0.8"/>
<circle cx="553.50" cy="185.20" r="1.38" fill="#6c85c8" stroke="#181e38" stroke-width="0.8"/>
<circle cx="553.50" cy="188.40" r="1.38" fill="#6c85c8" stroke="#181e38" stroke-width="0.8"/>
<circle cx="549.90" cy="189.60" r="1.38" fill="#6c85c8" stroke="#181e38" stroke-width="0.8"/>
<circle cx="553.50" cy="191.20" r="1.38" fill="#6c85c8" stroke="#181e38" stroke-width="0.8"/>
<circle cx="553.50" cy="204.90" r="1.38" fill="#6c85c8" stroke="#181e38" stroke-width="0.8"/>
<circle cx="564.40" cy="131.80" r="1.38" fill="#ea7452" stroke="#33110a" stroke-width="0.8"/>
<circle cx="564.40" cy="143.10" r="1.38" fill="#ea7452" stroke="#33110a" stroke-width="0.8"/>
<circle cx="562.30" cy="144.70" r="1.38" fill="#ea7452" stroke="#33110a" stroke-width="0.8"/>
<circle cx="564.40" cy="146.70" r="1.38" fill="#ea7452" stroke="#33110a" stroke-width="0.8"/>
<circle cx="562.30" cy="148.70" r="1.38" fill="#ea7452" stroke="#33110a" stroke-width="0.8"/>
<circle cx="564.40" cy="150.30" r="1.38" fill="#ea7452" stroke="#33110a" stroke-width="0.8"/>
<circle cx="564.40" cy="155.90" r="1.38" fill="#ea7452" stroke="#33110a" stroke-width="0.8"/>
<circle cx="564.40" cy="161.90" r="1.38" fill="#ea7452" stroke="#33110a" stroke-width="0.8"/>
<circle cx="560.80" cy="161.90" r="1.38" fill="#ea7452" stroke="#33110a" stroke-width="0.8"/>
<circle cx="562.30" cy="164.30" r="1.38" fill="#ea7452" stroke="#33110a" stroke-width="0.8"/>
<circle cx="566.50" cy="164.30" r="1.38" fill="#ea7452" stroke="#33110a" stroke-width="0.8"/>
<circle cx="562.87" cy="164.30" r="1.38" fill="#ea7452" stroke="#33110a" stroke-width="0.8"/>
<circle cx="566.93" cy="165.90" r="1.38" fill="#ea7452" stroke="#33110a" stroke-width="0.8"/>
<circle cx="561.85" cy="165.90" r="1.38" fill="#ea7452" stroke="#33110a" stroke-width="0.8"/>
<circle cx="564.40" cy="168.30" r="1.38" fill="#ea7452" stroke="#33110a" stroke-width="0.8"/>
<circle cx="562.30" cy="170.70" r="1.38" fill="#ea7452" stroke="#33110a" stroke-width="0.8"/>
<circle cx="564.40" cy="174.80" r="1.38" fill="#ea7452" stroke="#33110a" stroke-width="0.8"/>
<circle cx="564.40" cy="177.60" r="1.38" fill="#ea7452" stroke="#33110a" stroke-width="0.8"/>
<circle cx="560.80" cy="177.60" r="1.38" fill="#ea7452" stroke="#33110a" stroke-width="0.8"/>
<circle cx="564.40" cy="180.80" r="1.38" fill="#ea7452" stroke="#33110a" stroke-width="0.8"/>
<circle cx="562.30" cy="182.80" r="1.38" fill="#ea7452" stroke="#33110a" stroke-width="0.8"/>
<circle cx="564.40" cy="187.20" r="1.38" fill="#ea7452" stroke="#33110a" stroke-width="0.8"/>
<circle cx="560.80" cy="187.20" r="1.38" fill="#ea7452" stroke="#33110a" stroke-width="0.8"/>
<line x1="547.50" y1="177.60" x2="559.50" y2="177.60" stroke="#000" stroke-width="2.0"/>
<line x1="558.70" y1="165.10" x2="570.10" y2="165.10" stroke="#000" stroke-width="2.0"/>
<rect x="614.20" y="124.10" width="10.60" height="19.30" fill="#f9c9c2" stroke="#6e6e6e" stroke-width="0.8"/>
<circle cx="605.65" cy="235.30" r="1.38" fill="#6c85c8" stroke="#181e38" stroke-width="0.95"/>
<circle cx="606.95" cy="235.30" r="1.38" fill="#6c85c8" stroke="#181e38" stroke-width="0.95"/>
<circle cx="608.25" cy="235.30" r="1.38" fill="#6c85c8" stroke="#181e38" stroke-width="0.95"/>
<circle cx="609.55" cy="235.30" r="1.38" fill="#6c85c8" stroke="#181e38" stroke-width="0.95"/>
<circle cx="610.85" cy="235.30" r="1.38" fill="#6c85c8" stroke="#181e38" stroke-width="0.95"/>
<circle cx="612.15" cy="235.30" r="1.38" fill="#6c85c8" stroke="#181e38" stroke-width="0.95"/>
<circle cx="619.50" cy="93.20" r="1.38" fill="#ea7452" stroke="#33110a" stroke-width="0.8"/>
<circle cx="619.50" cy="115.10" r="1.38" fill="#ea7452" stroke="#33110a" stroke-width="0.8"/>
<circle cx="615.90" cy="115.10" r="1.38" fill="#ea7452" stroke="#33110a" stroke-width="0.8"/>
<circle cx="623.10" cy="115.10" r="1.38" fill="#ea7452" stroke="#33110a" stroke-width="0.8"/>
<circle cx="619.50" cy="119.40" r="1.38" fill="#ea7452" stroke="#33110a" stroke-width="0.8"/>
<circle cx="619.50" cy="123.00" r="1.38" fill="#ea7452" stroke="#33110a" stroke-width="0.8"/>
<circle cx="617.40" cy="125.30" r="1.38" fill="#ea7452" stroke="#33110a" stroke-width="0.8"/>
<circle cx="621.60" cy="125.30" r="1.38" fill="#ea7452" stroke="#33110a" stroke-width="0.8"/>
<circle cx="620.15" cy="125.30" r="1.38" fill="#ea7452" stroke="#33110a" stroke-width="0.8"/>
<circle cx="619.50" cy="128.20" r="1.38" fill="#ea7452" stroke="#33110a" stroke-width="0.8"/>
<circle cx="615.90" cy="128.20" r="1.38" fill="#ea7452" stroke="#33110a" stroke-width="0.8"/>
<circle cx="617.40" cy="130.50" r="1.38" fill="#ea7452" stroke="#33110a" stroke-width="0.8"/>
<circle cx="621.60" cy="130.50" r="1.38" fill="#ea7452" stroke="#33110a" stroke-width="0.8"/>
<circle cx="620.61" cy="130.50" r="1.38" fill="#ea7452" stroke="#33110a" stroke-width="0.8"/>
<circle cx="619.50" cy="134.00" r="1.38" fill="#ea7452" stroke="#33110a" stroke-width="0.8"/>
<circle cx="615.90" cy="134.00" r="1.38" fill="#ea7452" stroke="#33110a" stroke-width="0.8"/>
<circle cx="619.50" cy="138.10" r="1.38" fill="#ea7452" stroke="#33110a" stroke-width="0.8"/>
<circle cx="619.50" cy="141.60" r="1.38" fill="#ea7452" stroke="#33110a" stroke-width="0.8"/>
<circle cx="615.90" cy="141.60" r="1.38" fill="#ea7452" stroke="#33110a" stroke-width="0.8"/>
<circle cx="619.50" cy="144.60" r="1.38" fill="#ea7452" stroke="#33110a" stroke-width="0.8"/>
<circle cx="615.90" cy="144.60" r="1.38" fill="#ea7452" stroke="#33110a" stroke-width="0.8"/>
<circle cx="617.40" cy="146.90" r="1.38" fill="#ea7452" stroke="#33110a" stroke-width="0.8"/>
<circle cx="619.50" cy="154.50" r="1.38" fill="#ea7452" stroke="#33110a" stroke-width="0.8"/>
<circle cx="615.90" cy="154.50" r="1.38" fill="#ea7452" stroke="#33110a" stroke-width="0.8"/>
<circle cx="623.10" cy="154.50" r="1.38" fill="#ea7452" stroke="#33110a" stroke-width="0.8"/>
<line x1="613.30" y1="131.10" x2="625.70" y2="131.10" stroke="#000" stroke-width="2.0"/>
<rect x="642.20" y="120.00" width="10.00" height="21.60" fill="#f9c9c2" stroke="#6e6e6e" stroke-width="0.8"/>
<circle cx="632.95" cy="235.30" r="1.38" fill="#6c85c8" stroke="#181e38" stroke-width="0.95"/>
<circle cx="634.25" cy="235.30" r="1.38" fill="#6c85c8" stroke="#181e38" stroke-width="0.95"/>
<circle cx="635.55" cy="235.30" r="1.38" fill="#6c85c8" stroke="#181e38" stroke-width="0.95"/>
<circle cx="636.85" cy="235.30" r="1.38" fill="#6c85c8" stroke="#181e38" stroke-width="0.95"/>
<circle cx="638.15" cy="235.30" r="1.38" fill="#6c85c8" stroke="#181e38" stroke-width="0.95"/>
<circle cx="639.45" cy="235.30" r="1.38" fill="#6c85c8" stroke="#181e38" stroke-width="0.95"/>
<circle cx="647.20" cy="86.80" r="1.38" fill="#ea7452" stroke="#33110a" stroke-width="0.8"/>
<circle cx="647.20" cy="108.40" r="1.38" fill="#ea7452" stroke="#33110a" stroke-width="0.8"/>
<circle cx="647.20" cy="113.00" r="1.38" fill="#ea7452" stroke="#33110a" stroke-width="0.8"/>
<circle cx="643.60" cy="113.00" r="1.38" fill="#ea7452" stroke="#33110a" stroke-width="0.8"/>
<circle cx="649.30" cy="115.10" r="1.38" fill="#ea7452" stroke="#33110a" stroke-width="0.8"/>
<circle cx="647.20" cy="121.20" r="1.38" fill="#ea7452" stroke="#33110a" stroke-width="0.8"/>
<circle cx="643.60" cy="121.20" r="1.38" fill="#ea7452" stroke="#33110a" stroke-width="0.8"/>
<circle cx="650.80" cy="121.20" r="1.38" fill="#ea7452" stroke="#33110a" stroke-width="0.8"/>
<circle cx="646.18" cy="121.20" r="1.38" fill="#ea7452" stroke="#33110a" stroke-width="0.8"/>
<circle cx="649.30" cy="123.50" r="1.38" fill="#ea7452" stroke="#33110a" stroke-width="0.8"/>
<circle cx="647.58" cy="123.50" r="1.38" fill="#ea7452" stroke="#33110a" stroke-width="0.8"/>
<circle cx="645.10" cy="125.30" r="1.38" fill="#ea7452" stroke="#33110a" stroke-width="0.8"/>
<circle cx="643.70" cy="125.30" r="1.38" fill="#ea7452" stroke="#33110a" stroke-width="0.8"/>
<circle cx="647.20" cy="129.40" r="1.38" fill="#ea7452" stroke="#33110a" stroke-width="0.8"/>
<circle cx="643.60" cy="129.40" r="1.38" fill="#ea7452" stroke="#33110a" stroke-width="0.8"/>
<circle cx="647.20" cy="132.90" r="1.38" fill="#ea7452" stroke="#33110a" stroke-width="0.8"/>
<circle cx="643.60" cy="132.90" r="1.38" fill="#ea7452" stroke="#33110a" stroke-width="0.8"/>
<circle cx="650.80" cy="132.90" r="1.38" fill="#ea7452" stroke="#33110a" stroke-width="0.8"/>
<circle cx="645.10" cy="135.20" r="1.38" fill="#ea7452" stroke="#33110a" stroke-width="0.8"/>
<circle cx="649.30" cy="135.20" r="1.38" fill="#ea7452" stroke="#33110a" stroke-width="0.8"/>
<circle cx="647.20" cy="140.50" r="1.38" fill="#ea7452" stroke="#33110a" stroke-width="0.8"/>
<circle cx="643.60" cy="140.50" r="1.38" fill="#ea7452" stroke="#33110a" stroke-width="0.8"/>
<circle cx="645.10" cy="142.80" r="1.38" fill="#ea7452" stroke="#33110a" stroke-width="0.8"/>
<circle cx="647.20" cy="146.90" r="1.38" fill="#ea7452" stroke="#33110a" stroke-width="0.8"/>
<circle cx="645.10" cy="149.20" r="1.38" fill="#ea7452" stroke="#33110a" stroke-width="0.8"/>
<circle cx="647.20" cy="155.60" r="1.38" fill="#ea7452" stroke="#33110a" stroke-width="0.8"/>
<circle cx="643.60" cy="155.60" r="1.38" fill="#ea7452" stroke="#33110a" stroke-width="0.8"/>
<line x1="641.30" y1="129.40" x2="653.10" y2="129.40" stroke="#000" stroke-width="2.0"/>
<rect x="669.60" y="136.40" width="10.20" height="16.90" fill="#f9c9c2" stroke="#6e6e6e" stroke-width="0.8"/>
<circle cx="660.45" cy="235.30" r="1.38" fill="#6c85c8" stroke="#181e38" stroke-width="0.95"/>
<circle cx="661.75" cy="235.30" r="1.38" fill="#6c85c8" stroke="#181e38" stroke-width="0.95"/>
<circle cx="663.05" cy="235.30" r="1.38" fill="#6c85c8" stroke="#181e38" stroke-width="0.95"/>
<circle cx="664.35" cy="235.30" r="1.38" fill="#6c85c8" stroke="#181e38" stroke-width="0.95"/>
<circle cx="665.65" cy="235.30" r="1.38" fill="#6c85c8" stroke="#181e38" stroke-width="0.95"/>
<circle cx="666.95" cy="235.30" r="1.38" fill="#6c85c8" stroke="#181e38" stroke-width="0.95"/>
<circle cx="674.70" cy="99.90" r="1.38" fill="#ea7452" stroke="#33110a" stroke-width="0.8"/>
<circle cx="674.70" cy="121.20" r="1.38" fill="#ea7452" stroke="#33110a" stroke-width="0.8"/>
<circle cx="674.70" cy="127.00" r="1.38" fill="#ea7452" stroke="#33110a" stroke-width="0.8"/>
<circle cx="672.60" cy="129.40" r="1.38" fill="#ea7452" stroke="#33110a" stroke-width="0.8"/>
<circle cx="674.70" cy="131.10" r="1.38" fill="#ea7452" stroke="#33110a" stroke-width="0.8"/>
<circle cx="674.70" cy="134.60" r="1.38" fill="#ea7452" stroke="#33110a" stroke-width="0.8"/>
<circle cx="674.70" cy="137.50" r="1.38" fill="#ea7452" stroke="#33110a" stroke-width="0.8"/>
<circle cx="671.10" cy="137.50" r="1.38" fill="#ea7452" stroke="#33110a" stroke-width="0.8"/>
<circle cx="672.60" cy="139.90" r="1.38" fill="#ea7452" stroke="#33110a" stroke-width="0.8"/>
<circle cx="676.80" cy="139.90" r="1.38" fill="#ea7452" stroke="#33110a" stroke-width="0.8"/>
<circle cx="674.70" cy="142.20" r="1.38" fill="#ea7452" stroke="#33110a" stroke-width="0.8"/>
<circle cx="671.10" cy="142.20" r="1.38" fill="#ea7452" stroke="#33110a" stroke-width="0.8"/>
<circle cx="674.70" cy="145.10" r="1.38" fill="#ea7452" stroke="#33110a" stroke-width="0.8"/>
<circle cx="671.10" cy="145.10" r="1.38" fill="#ea7452" stroke="#33110a" stroke-width="0.8"/>
<circle cx="678.30" cy="145.10" r="1.38" fill="#ea7452" stroke="#33110a" stroke-width="0.8"/>
<circle cx="674.70" cy="148.10" r="1.38" fill="#ea7452" stroke="#33110a" stroke-width="0.8"/>
<circle cx="674.70" cy="151.00" r="1.38" fill="#ea7452" stroke="#33110a" stroke-width="0.8"/>
<circle cx="671.10" cy="152.10" r="1.38" fill="#ea7452" stroke="#33110a" stroke-width="0.8"/>
<circle cx="678.30" cy="152.10" r="1.38" fill="#ea7452" stroke="#33110a" stroke-width="0.8"/>
<circle cx="674.70" cy="155.00" r="1.38" fill="#ea7452" stroke="#33110a" stroke-width="0.8"/>
<circle cx="674.70" cy="159.10" r="1.38" fill="#ea7452" stroke="#33110a" stroke-width="0.8"/>
<circle cx="671.10" cy="160.30" r="1.38" fill="#ea7452" stroke="#33110a" stroke-width="0.8"/>
<circle cx="674.70" cy="165.60" r="1.38" fill="#ea7452" stroke="#33110a" stroke-width="0.8"/>
<circle cx="674.70" cy="185.40" r="1.38" fill="#ea7452" stroke="#33110a" stroke-width="0.8"/>
<circle cx="672.60" cy="187.20" r="1.38" fill="#ea7452" stroke="#33110a" stroke-width="0.8"/>
<line x1="668.70" y1="145.50" x2="680.70" y2="145.50" stroke="#000" stroke-width="2.0"/>
<polyline points="186.20,138.30 186.20,89.60 197.40,89.60 197.40,115.20" fill="none" stroke="#8e8e8e" stroke-width="0.9"/>
<text x="191.80" y="92.40" font-size="13" font-weight="bold" text-anchor="middle" fill="#111">*</text>
<polyline points="211.90,143.80 211.90,89.60 222.60,89.60 222.60,134.60" fill="none" stroke="#8e8e8e" stroke-width="0.9"/>
<text x="217.25" y="92.40" font-size="13" font-weight="bold" text-anchor="middle" fill="#111">**</text>
<polyline points="236.50,149.90 236.50,89.60 246.70,89.60 246.70,134.60" fill="none" stroke="#8e8e8e" stroke-width="0.9"/>
<text x="241.60" y="92.40" font-size="13" font-weight="bold" text-anchor="middle" fill="#111">*</text>
<polyline points="398.30,160.50 398.30,89.30 407.30,89.30 407.30,143.50" fill="none" stroke="#8e8e8e" stroke-width="0.9"/>
<text x="402.80" y="92.10" font-size="13" font-weight="bold" text-anchor="middle" fill="#111">**</text>
<polyline points="526.40,147.80 526.40,89.60 537.60,89.60 537.60,124.70" fill="none" stroke="#8e8e8e" stroke-width="0.9"/>
<text x="532.00" y="92.40" font-size="13" font-weight="bold" text-anchor="middle" fill="#111">**</text>
<polyline points="553.40,147.80 553.40,89.60 564.40,89.60 564.40,124.70" fill="none" stroke="#8e8e8e" stroke-width="0.9"/>
<text x="558.90" y="92.40" font-size="13" font-weight="bold" text-anchor="middle" fill="#111">**</text>
<text x="-0.70" y="9.80" font-size="17.5" font-weight="bold" text-anchor="start" fill="#000">a</text>
<text x="163.30" y="26.40" font-size="18.5" font-weight="bold" text-anchor="middle" fill="#000">S-trimer</text>
<text x="367.70" y="26.40" font-size="18.5" font-weight="bold" text-anchor="middle" fill="#000">S1</text>
<text x="525.80" y="26.40" font-size="18.5" font-weight="bold" text-anchor="middle" fill="#000">S2</text>
<text x="633.80" y="26.40" font-size="18.5" font-weight="bold" text-anchor="middle" fill="#000">RBD</text>
<text transform="translate(47.00,54.68) scale(0.9524,1)" font-size="7.46" font-weight="bold" text-anchor="end" fill="#111">Mean titer</text>
<line x1="50.80" y1="43.40" x2="50.80" y2="61.60" stroke="#777" stroke-width="0.9"/>
<text transform="translate(70.40,49.53) scale(0.8696,1)" font-size="8.97" font-weight="bold" text-anchor="end" fill="#3d3fa5">Pre</text>
<text transform="translate(70.40,61.43) scale(0.8696,1)" font-size="8.97" font-weight="bold" text-anchor="end" fill="#e8202e">End</text>
<text transform="translate(89.10,49.40) scale(0.8696,1)" font-size="8.62" text-anchor="middle" fill="#3d3fa5">&lt;10</text>
<text transform="translate(114.40,49.40) scale(0.8696,1)" font-size="8.62" text-anchor="middle" fill="#3d3fa5">&lt;10</text>
<text transform="translate(138.10,49.40) scale(0.8696,1)" font-size="8.62" text-anchor="middle" fill="#3d3fa5">&lt;10</text>
<text transform="translate(168.00,49.40) scale(0.8696,1)" font-size="8.62" text-anchor="middle" fill="#3d3fa5">586</text>
<text transform="translate(191.90,49.40) scale(0.8696,1)" font-size="8.62" text-anchor="middle" fill="#3d3fa5">543</text>
<text transform="translate(215.50,49.40) scale(0.8696,1)" font-size="8.62" text-anchor="middle" fill="#3d3fa5">361</text>
<text transform="translate(240.00,49.40) scale(0.8696,1)" font-size="8.62" text-anchor="middle" fill="#3d3fa5">234</text>
<text transform="translate(286.50,49.40) scale(0.8696,1)" font-size="8.62" text-anchor="middle" fill="#3d3fa5">&lt;10</text>
<text transform="translate(309.40,49.40) scale(0.8696,1)" font-size="8.62" text-anchor="middle" fill="#3d3fa5">&lt;10</text>
<text transform="translate(330.80,49.40) scale(0.8696,1)" font-size="8.62" text-anchor="middle" fill="#3d3fa5">&lt;10</text>
<text transform="translate(350.80,49.40) scale(0.8696,1)" font-size="8.62" text-anchor="middle" fill="#3d3fa5">&lt;10</text>
<text transform="translate(379.20,49.40) scale(0.8696,1)" font-size="8.62" text-anchor="middle" fill="#3d3fa5">154</text>
<text transform="translate(402.00,49.40) scale(0.8696,1)" font-size="8.62" text-anchor="middle" fill="#3d3fa5">91</text>
<text transform="translate(424.50,49.40) scale(0.8696,1)" font-size="8.62" text-anchor="middle" fill="#3d3fa5">262</text>
<text transform="translate(447.80,49.40) scale(0.8696,1)" font-size="8.62" text-anchor="middle" fill="#3d3fa5">184</text>
<text transform="translate(495.90,49.40) scale(0.8696,1)" font-size="8.62" text-anchor="middle" fill="#3d3fa5">15.9</text>
<text transform="translate(532.20,49.40) scale(0.8696,1)" font-size="8.62" text-anchor="middle" fill="#3d3fa5">314</text>
<text transform="translate(558.50,49.40) scale(0.8696,1)" font-size="8.62" text-anchor="middle" fill="#3d3fa5">335</text>
<text transform="translate(613.20,49.40) scale(0.8696,1)" font-size="8.62" text-anchor="middle" fill="#3d3fa5">&lt;10</text>
<text transform="translate(641.80,49.40) scale(0.8696,1)" font-size="8.62" text-anchor="middle" fill="#3d3fa5">&lt;10</text>
<text transform="translate(670.00,49.40) scale(0.8696,1)" font-size="8.62" text-anchor="middle" fill="#3d3fa5">&lt;10</text>
<text transform="translate(89.10,61.30) scale(0.8696,1)" font-size="8.62" text-anchor="middle" fill="#e8202e">23<tspan dx="-0.55">,</tspan><tspan dx="-0.55">375</tspan></text>
<text transform="translate(114.40,61.30) scale(0.8696,1)" font-size="8.62" text-anchor="middle" fill="#e8202e">14<tspan dx="-0.55">,</tspan><tspan dx="-0.55">577</tspan></text>
<text transform="translate(138.10,61.30) scale(0.8696,1)" font-size="8.62" text-anchor="middle" fill="#e8202e">16<tspan dx="-0.55">,</tspan><tspan dx="-0.55">987</tspan></text>
<text transform="translate(168.00,61.30) scale(0.8696,1)" font-size="8.62" text-anchor="middle" fill="#e8202e">784</text>
<text transform="translate(191.90,61.30) scale(0.8696,1)" font-size="8.62" text-anchor="middle" fill="#e8202e">1509</text>
<text transform="translate(215.50,61.30) scale(0.8696,1)" font-size="8.62" text-anchor="middle" fill="#e8202e">798</text>
<text transform="translate(240.00,61.30) scale(0.8696,1)" font-size="8.62" text-anchor="middle" fill="#e8202e">498</text>
<text transform="translate(286.50,61.30) scale(0.8696,1)" font-size="8.62" text-anchor="middle" fill="#e8202e">14<tspan dx="-0.55">,</tspan><tspan dx="-0.55">345</tspan></text>
<text transform="translate(309.40,61.30) scale(0.8696,1)" font-size="8.62" text-anchor="middle" fill="#e8202e">13<tspan dx="-0.55">,</tspan><tspan dx="-0.55">909</tspan></text>
<text transform="translate(330.80,61.30) scale(0.8696,1)" font-size="8.62" text-anchor="middle" fill="#e8202e">7<tspan dx="-0.55">,</tspan><tspan dx="-0.55">008</tspan></text>
<text transform="translate(350.80,61.30) scale(0.8696,1)" font-size="8.62" text-anchor="middle" fill="#e8202e">6<tspan dx="-0.55">,</tspan><tspan dx="-0.55">937</tspan></text>
<text transform="translate(379.20,61.30) scale(0.8696,1)" font-size="8.62" text-anchor="middle" fill="#e8202e">246</text>
<text transform="translate(402.00,61.30) scale(0.8696,1)" font-size="8.62" text-anchor="middle" fill="#e8202e">277</text>
<text transform="translate(424.50,61.30) scale(0.8696,1)" font-size="8.62" text-anchor="middle" fill="#e8202e">299</text>
<text transform="translate(447.80,61.30) scale(0.8696,1)" font-size="8.62" text-anchor="middle" fill="#e8202e">367</text>
<text transform="translate(495.90,61.30) scale(0.8696,1)" font-size="8.62" text-anchor="middle" fill="#e8202e">5<tspan dx="-0.55">,</tspan><tspan dx="-0.55">596</tspan></text>
<text transform="translate(532.20,61.30) scale(0.8696,1)" font-size="8.62" text-anchor="middle" fill="#e8202e">806</text>
<text transform="translate(558.50,61.30) scale(0.8696,1)" font-size="8.62" text-anchor="middle" fill="#e8202e">867</text>
<text transform="translate(613.20,61.30) scale(0.8696,1)" font-size="8.62" text-anchor="middle" fill="#e8202e">6<tspan dx="-0.55">,</tspan><tspan dx="-0.55">279</tspan></text>
<text transform="translate(641.80,61.30) scale(0.8696,1)" font-size="8.62" text-anchor="middle" fill="#e8202e">8<tspan dx="-0.55">,</tspan><tspan dx="-0.55">199</tspan></text>
<text transform="translate(670.00,61.30) scale(0.8696,1)" font-size="8.62" text-anchor="middle" fill="#e8202e">3<tspan dx="-0.55">,</tspan><tspan dx="-0.55">399</tspan></text>
<text transform="translate(88.90,254.89) scale(0.8696,1)" font-size="8.85" font-weight="bold" text-anchor="middle" fill="#111">Anc.</text>
<text transform="translate(114.20,254.89) scale(0.8696,1)" font-size="8.85" font-weight="bold" text-anchor="middle" fill="#111">BA.1</text>
<text transform="translate(138.30,254.89) scale(0.8696,1)" font-size="8.85" font-weight="bold" text-anchor="middle" fill="#111">BA.5</text>
<text transform="translate(168.00,254.89) scale(0.8696,1)" font-size="8.85" font-weight="bold" text-anchor="middle" fill="#111">229E</text>
<text transform="translate(192.00,254.89) scale(0.8696,1)" font-size="8.85" font-weight="bold" text-anchor="middle" fill="#111">NL63</text>
<text transform="translate(215.80,254.89) scale(0.8696,1)" font-size="8.85" font-weight="bold" text-anchor="middle" fill="#111">HKU1</text>
<text transform="translate(240.20,254.89) scale(0.8696,1)" font-size="8.85" font-weight="bold" text-anchor="middle" fill="#111">OC43</text>
<text transform="translate(286.50,254.89) scale(0.8696,1)" font-size="8.85" font-weight="bold" text-anchor="middle" fill="#111">Anc.</text>
<text transform="translate(309.40,254.89) scale(0.8696,1)" font-size="8.85" font-weight="bold" text-anchor="middle" fill="#111">Delta</text>
<text transform="translate(330.80,254.89) scale(0.8696,1)" font-size="8.85" font-weight="bold" text-anchor="middle" fill="#111">BA.1</text>
<text transform="translate(350.90,254.89) scale(0.8696,1)" font-size="8.85" font-weight="bold" text-anchor="middle" fill="#111">BA.5</text>
<text transform="translate(379.00,254.89) scale(0.8696,1)" font-size="8.85" font-weight="bold" text-anchor="middle" fill="#111">229E</text>
<text transform="translate(402.00,254.89) scale(0.8696,1)" font-size="8.85" font-weight="bold" text-anchor="middle" fill="#111">NL63</text>
<text transform="translate(424.00,254.89) scale(0.8696,1)" font-size="8.85" font-weight="bold" text-anchor="middle" fill="#111">HKU1</text>
<text transform="translate(447.60,254.89) scale(0.8696,1)" font-size="8.85" font-weight="bold" text-anchor="middle" fill="#111">OC43</text>
<text transform="translate(495.90,254.89) scale(0.8696,1)" font-size="8.85" font-weight="bold" text-anchor="middle" fill="#111">Anc.</text>
<text transform="translate(532.00,254.89) scale(0.8696,1)" font-size="8.85" font-weight="bold" text-anchor="middle" fill="#111">HKU1</text>
<text transform="translate(558.70,254.89) scale(0.8696,1)" font-size="8.85" font-weight="bold" text-anchor="middle" fill="#111">OC43</text>
<text transform="translate(616.00,254.89) scale(0.8696,1)" font-size="8.85" font-weight="bold" text-anchor="middle" fill="#111">Anc.</text>
<text transform="translate(642.00,254.89) scale(0.8696,1)" font-size="8.85" font-weight="bold" text-anchor="middle" fill="#111">Delta</text>
<text transform="translate(669.30,254.89) scale(0.8696,1)" font-size="8.85" font-weight="bold" text-anchor="middle" fill="#111">BA.5</text>
<text transform="translate(51.90,273.23) scale(0.8696,1)" font-size="8.97" font-weight="bold" text-anchor="end" fill="#111">Seropositive</text>
<line x1="54.50" y1="261.60" x2="54.50" y2="280.00" stroke="#777" stroke-width="0.9"/>
<text transform="translate(75.20,268.23) scale(0.8696,1)" font-size="8.97" font-weight="bold" text-anchor="end" fill="#3d3fa5">Pre</text>
<text transform="translate(75.20,280.33) scale(0.8696,1)" font-size="8.97" font-weight="bold" text-anchor="end" fill="#e8202e">End</text>
<text transform="translate(88.90,268.11) scale(0.8696,1)" font-size="8.62" text-anchor="middle" fill="#3d3fa5">0/17</text>
<text transform="translate(114.20,268.11) scale(0.8696,1)" font-size="8.62" text-anchor="middle" fill="#3d3fa5">0/17</text>
<text transform="translate(138.30,268.11) scale(0.8696,1)" font-size="8.62" text-anchor="middle" fill="#3d3fa5">0/17</text>
<text transform="translate(168.00,268.11) scale(0.8696,1)" font-size="8.62" text-anchor="middle" fill="#3d3fa5">17/17</text>
<text transform="translate(192.00,268.11) scale(0.8696,1)" font-size="8.62" text-anchor="middle" fill="#3d3fa5">17/17</text>
<text transform="translate(215.80,268.11) scale(0.8696,1)" font-size="8.62" text-anchor="middle" fill="#3d3fa5">17/17</text>
<text transform="translate(240.20,268.11) scale(0.8696,1)" font-size="8.62" text-anchor="middle" fill="#3d3fa5">16/17</text>
<text transform="translate(286.50,268.11) scale(0.8696,1)" font-size="8.62" text-anchor="middle" fill="#3d3fa5">0/17</text>
<text transform="translate(309.40,268.11) scale(0.8696,1)" font-size="8.62" text-anchor="middle" fill="#3d3fa5">0/17</text>
<text transform="translate(330.80,268.11) scale(0.8696,1)" font-size="8.62" text-anchor="middle" fill="#3d3fa5">0/17</text>
<text transform="translate(350.90,268.11) scale(0.8696,1)" font-size="8.62" text-anchor="middle" fill="#3d3fa5">0/17</text>
<text transform="translate(379.00,268.11) scale(0.8696,1)" font-size="8.62" text-anchor="middle" fill="#3d3fa5">8/8</text>
<text transform="translate(402.00,268.11) scale(0.8696,1)" font-size="8.62" text-anchor="middle" fill="#3d3fa5">10/17</text>
<text transform="translate(424.00,268.11) scale(0.8696,1)" font-size="8.62" text-anchor="middle" fill="#3d3fa5">17/17</text>
<text transform="translate(447.60,268.11) scale(0.8696,1)" font-size="8.62" text-anchor="middle" fill="#3d3fa5">17/17</text>
<text transform="translate(495.90,268.11) scale(0.8696,1)" font-size="8.62" text-anchor="middle" fill="#3d3fa5">3/17</text>
<text transform="translate(532.00,268.11) scale(0.8696,1)" font-size="8.62" text-anchor="middle" fill="#3d3fa5">17/17</text>
<text transform="translate(558.70,268.11) scale(0.8696,1)" font-size="8.62" text-anchor="middle" fill="#3d3fa5">17/17</text>
<text transform="translate(616.00,268.11) scale(0.8696,1)" font-size="8.62" text-anchor="middle" fill="#3d3fa5">0/17</text>
<text transform="translate(642.00,268.11) scale(0.8696,1)" font-size="8.62" text-anchor="middle" fill="#3d3fa5">0/17</text>
<text transform="translate(669.30,268.11) scale(0.8696,1)" font-size="8.62" text-anchor="middle" fill="#3d3fa5">0/17</text>
<text transform="translate(88.90,280.21) scale(0.8696,1)" font-size="8.62" text-anchor="middle" fill="#e8202e">25/25</text>
<text transform="translate(114.20,280.21) scale(0.8696,1)" font-size="8.62" text-anchor="middle" fill="#e8202e">25/25</text>
<text transform="translate(138.30,280.21) scale(0.8696,1)" font-size="8.62" text-anchor="middle" fill="#e8202e">25/25</text>
<text transform="translate(168.00,280.21) scale(0.8696,1)" font-size="8.62" text-anchor="middle" fill="#e8202e">25/25</text>
<text transform="translate(192.00,280.21) scale(0.8696,1)" font-size="8.62" text-anchor="middle" fill="#e8202e">25/25</text>
<text transform="translate(215.80,280.21) scale(0.8696,1)" font-size="8.62" text-anchor="middle" fill="#e8202e">25/25</text>
<text transform="translate(240.20,280.21) scale(0.8696,1)" font-size="8.62" text-anchor="middle" fill="#e8202e">25/25</text>
<text transform="translate(286.50,280.21) scale(0.8696,1)" font-size="8.62" text-anchor="middle" fill="#e8202e">25/25</text>
<text transform="translate(309.40,280.21) scale(0.8696,1)" font-size="8.62" text-anchor="middle" fill="#e8202e">25/25</text>
<text transform="translate(330.80,280.21) scale(0.8696,1)" font-size="8.62" text-anchor="middle" fill="#e8202e">25/25</text>
<text transform="translate(350.90,280.21) scale(0.8696,1)" font-size="8.62" text-anchor="middle" fill="#e8202e">25/25</text>
<text transform="translate(379.00,280.21) scale(0.8696,1)" font-size="8.62" text-anchor="middle" fill="#e8202e">4/4</text>
<text transform="translate(402.00,280.21) scale(0.8696,1)" font-size="8.62" text-anchor="middle" fill="#e8202e">22/25</text>
<text transform="translate(424.00,280.21) scale(0.8696,1)" font-size="8.62" text-anchor="middle" fill="#e8202e">25/25</text>
<text transform="translate(447.60,280.21) scale(0.8696,1)" font-size="8.62" text-anchor="middle" fill="#e8202e">22/25</text>
<text transform="translate(495.90,280.21) scale(0.8696,1)" font-size="8.62" text-anchor="middle" fill="#e8202e">25/25</text>
<text transform="translate(532.00,280.21) scale(0.8696,1)" font-size="8.62" text-anchor="middle" fill="#e8202e">25/25</text>
<text transform="translate(558.70,280.21) scale(0.8696,1)" font-size="8.62" text-anchor="middle" fill="#e8202e">25/25</text>
<text transform="translate(616.00,280.21) scale(0.8696,1)" font-size="8.62" text-anchor="middle" fill="#e8202e">24/25</text>
<text transform="translate(642.00,280.21) scale(0.8696,1)" font-size="8.62" text-anchor="middle" fill="#e8202e">25/25</text>
<text transform="translate(669.30,280.21) scale(0.8696,1)" font-size="8.62" text-anchor="middle" fill="#e8202e">25/25</text>
<line x1="77.00" y1="286.00" x2="151.10" y2="286.00" stroke="#9a9a9a" stroke-width="1.6"/>
<text transform="translate(111.40,300.40) scale(0.9091,1)" font-size="12.76" font-weight="bold" text-anchor="middle" fill="#111">SARS-CoV-2</text>
<line x1="157.60" y1="286.00" x2="250.00" y2="286.00" stroke="#9a9a9a" stroke-width="1.6"/>
<text transform="translate(203.70,300.40) scale(0.9091,1)" font-size="12.76" font-weight="bold" text-anchor="middle" fill="#111">sHCoV</text>
<line x1="274.40" y1="286.00" x2="361.20" y2="286.00" stroke="#9a9a9a" stroke-width="1.6"/>
<text transform="translate(319.20,300.40) scale(0.9091,1)" font-size="12.76" font-weight="bold" text-anchor="middle" fill="#111">SARS-CoV-2</text>
<line x1="367.30" y1="286.00" x2="460.80" y2="286.00" stroke="#9a9a9a" stroke-width="1.6"/>
<text transform="translate(413.90,300.40) scale(0.9091,1)" font-size="12.76" font-weight="bold" text-anchor="middle" fill="#111">sHCoV</text>
<line x1="479.40" y1="286.00" x2="511.40" y2="286.00" stroke="#9a9a9a" stroke-width="1.6"/>
<text transform="translate(495.40,300.40) scale(0.9091,1)" font-size="12.76" font-weight="bold" text-anchor="middle" fill="#111">SARS2</text>
<line x1="517.70" y1="286.00" x2="573.60" y2="286.00" stroke="#9a9a9a" stroke-width="1.6"/>
<text transform="translate(546.10,300.40) scale(0.9091,1)" font-size="12.76" font-weight="bold" text-anchor="middle" fill="#111">sHCoV</text>
<line x1="598.70" y1="286.00" x2="686.00" y2="286.00" stroke="#9a9a9a" stroke-width="1.6"/>
<text transform="translate(644.50,300.40) scale(0.9091,1)" font-size="12.76" font-weight="bold" text-anchor="middle" fill="#111">SARS-CoV-2</text>
<text transform="translate(28.40,151.20) scale(0.93,1) rotate(-90)" font-size="15.1" text-anchor="middle" fill="#000"><tspan font-weight="bold">IgG titers </tspan><tspan font-weight="normal">[50% endpoint]</tspan></text>
<line x1="76.80" y1="342.40" x2="149.80" y2="342.40" stroke="#dfe9f7" stroke-width="0.9"/>
<line x1="76.80" y1="365.40" x2="149.80" y2="365.40" stroke="#dfe9f7" stroke-width="0.9"/>
<line x1="76.80" y1="388.30" x2="149.80" y2="388.30" stroke="#dfe9f7" stroke-width="0.9"/>
<line x1="76.80" y1="411.10" x2="149.80" y2="411.10" stroke="#dfe9f7" stroke-width="0.9"/>
<line x1="76.80" y1="434.00" x2="149.80" y2="434.00" stroke="#dfe9f7" stroke-width="0.9"/>
<line x1="76.80" y1="456.80" x2="149.80" y2="456.80" stroke="#dfe9f7" stroke-width="0.9"/>
<line x1="76.80" y1="479.60" x2="149.80" y2="479.60" stroke="#dfe9f7" stroke-width="0.9"/>
<line x1="155.50" y1="342.40" x2="254.70" y2="342.40" stroke="#dfe9f7" stroke-width="0.9"/>
<line x1="155.50" y1="365.40" x2="254.70" y2="365.40" stroke="#dfe9f7" stroke-width="0.9"/>
<line x1="155.50" y1="388.30" x2="254.70" y2="388.30" stroke="#dfe9f7" stroke-width="0.9"/>
<line x1="155.50" y1="411.10" x2="254.70" y2="411.10" stroke="#dfe9f7" stroke-width="0.9"/>
<line x1="155.50" y1="434.00" x2="254.70" y2="434.00" stroke="#dfe9f7" stroke-width="0.9"/>
<line x1="155.50" y1="456.80" x2="254.70" y2="456.80" stroke="#dfe9f7" stroke-width="0.9"/>
<line x1="155.50" y1="479.60" x2="254.70" y2="479.60" stroke="#dfe9f7" stroke-width="0.9"/>
<line x1="271.50" y1="342.40" x2="360.40" y2="342.40" stroke="#dfe9f7" stroke-width="0.9"/>
<line x1="271.50" y1="365.40" x2="360.40" y2="365.40" stroke="#dfe9f7" stroke-width="0.9"/>
<line x1="271.50" y1="388.30" x2="360.40" y2="388.30" stroke="#dfe9f7" stroke-width="0.9"/>
<line x1="271.50" y1="411.10" x2="360.40" y2="411.10" stroke="#dfe9f7" stroke-width="0.9"/>
<line x1="271.50" y1="434.00" x2="360.40" y2="434.00" stroke="#dfe9f7" stroke-width="0.9"/>
<line x1="271.50" y1="456.80" x2="360.40" y2="456.80" stroke="#dfe9f7" stroke-width="0.9"/>
<line x1="271.50" y1="479.60" x2="360.40" y2="479.60" stroke="#dfe9f7" stroke-width="0.9"/>
<line x1="366.50" y1="342.40" x2="458.80" y2="342.40" stroke="#dfe9f7" stroke-width="0.9"/>
<line x1="366.50" y1="365.40" x2="458.80" y2="365.40" stroke="#dfe9f7" stroke-width="0.9"/>
<line x1="366.50" y1="388.30" x2="458.80" y2="388.30" stroke="#dfe9f7" stroke-width="0.9"/>
<line x1="366.50" y1="411.10" x2="458.80" y2="411.10" stroke="#dfe9f7" stroke-width="0.9"/>
<line x1="366.50" y1="434.00" x2="458.80" y2="434.00" stroke="#dfe9f7" stroke-width="0.9"/>
<line x1="366.50" y1="456.80" x2="458.80" y2="456.80" stroke="#dfe9f7" stroke-width="0.9"/>
<line x1="366.50" y1="479.60" x2="458.80" y2="479.60" stroke="#dfe9f7" stroke-width="0.9"/>
<line x1="481.40" y1="342.40" x2="510.30" y2="342.40" stroke="#dfe9f7" stroke-width="0.9"/>
<line x1="481.40" y1="365.40" x2="510.30" y2="365.40" stroke="#dfe9f7" stroke-width="0.9"/>
<line x1="481.40" y1="388.30" x2="510.30" y2="388.30" stroke="#dfe9f7" stroke-width="0.9"/>
<line x1="481.40" y1="411.10" x2="510.30" y2="411.10" stroke="#dfe9f7" stroke-width="0.9"/>
<line x1="481.40" y1="434.00" x2="510.30" y2="434.00" stroke="#dfe9f7" stroke-width="0.9"/>
<line x1="481.40" y1="456.80" x2="510.30" y2="456.80" stroke="#dfe9f7" stroke-width="0.9"/>
<line x1="481.40" y1="479.60" x2="510.30" y2="479.60" stroke="#dfe9f7" stroke-width="0.9"/>
<line x1="516.60" y1="342.40" x2="573.40" y2="342.40" stroke="#dfe9f7" stroke-width="0.9"/>
<line x1="516.60" y1="365.40" x2="573.40" y2="365.40" stroke="#dfe9f7" stroke-width="0.9"/>
<line x1="516.60" y1="388.30" x2="573.40" y2="388.30" stroke="#dfe9f7" stroke-width="0.9"/>
<line x1="516.60" y1="411.10" x2="573.40" y2="411.10" stroke="#dfe9f7" stroke-width="0.9"/>
<line x1="516.60" y1="434.00" x2="573.40" y2="434.00" stroke="#dfe9f7" stroke-width="0.9"/>
<line x1="516.60" y1="456.80" x2="573.40" y2="456.80" stroke="#dfe9f7" stroke-width="0.9"/>
<line x1="516.60" y1="479.60" x2="573.40" y2="479.60" stroke="#dfe9f7" stroke-width="0.9"/>
<line x1="599.50" y1="342.40" x2="686.00" y2="342.40" stroke="#dfe9f7" stroke-width="0.9"/>
<line x1="599.50" y1="365.40" x2="686.00" y2="365.40" stroke="#dfe9f7" stroke-width="0.9"/>
<line x1="599.50" y1="388.30" x2="686.00" y2="388.30" stroke="#dfe9f7" stroke-width="0.9"/>
<line x1="599.50" y1="411.10" x2="686.00" y2="411.10" stroke="#dfe9f7" stroke-width="0.9"/>
<line x1="599.50" y1="434.00" x2="686.00" y2="434.00" stroke="#dfe9f7" stroke-width="0.9"/>
<line x1="599.50" y1="456.80" x2="686.00" y2="456.80" stroke="#dfe9f7" stroke-width="0.9"/>
<line x1="599.50" y1="479.60" x2="686.00" y2="479.60" stroke="#dfe9f7" stroke-width="0.9"/>
<line x1="102.40" y1="342.40" x2="102.40" y2="514.00" stroke="#333" stroke-width="0.85" stroke-dasharray="2,1.3"/>
<line x1="126.80" y1="342.40" x2="126.80" y2="514.00" stroke="#333" stroke-width="0.85" stroke-dasharray="2,1.3"/>
<line x1="70.80" y1="502.50" x2="149.80" y2="502.50" stroke="#2a2a2a" stroke-width="0.85" stroke-dasharray="2.2,1.6"/>
<line x1="181.50" y1="342.40" x2="181.50" y2="514.00" stroke="#333" stroke-width="0.85" stroke-dasharray="2,1.3"/>
<line x1="205.30" y1="342.40" x2="205.30" y2="514.00" stroke="#333" stroke-width="0.85" stroke-dasharray="2,1.3"/>
<line x1="229.50" y1="342.40" x2="229.50" y2="514.00" stroke="#333" stroke-width="0.85" stroke-dasharray="2,1.3"/>
<line x1="155.50" y1="502.50" x2="254.70" y2="502.50" stroke="#2a2a2a" stroke-width="0.85" stroke-dasharray="2.2,1.6"/>
<line x1="295.60" y1="342.40" x2="295.60" y2="514.00" stroke="#333" stroke-width="0.85" stroke-dasharray="2,1.3"/>
<line x1="318.60" y1="342.40" x2="318.60" y2="514.00" stroke="#333" stroke-width="0.85" stroke-dasharray="2,1.3"/>
<line x1="338.60" y1="342.40" x2="338.60" y2="514.00" stroke="#333" stroke-width="0.85" stroke-dasharray="2,1.3"/>
<line x1="265.50" y1="502.50" x2="360.40" y2="502.50" stroke="#2a2a2a" stroke-width="0.85" stroke-dasharray="2.2,1.6"/>
<line x1="389.50" y1="342.40" x2="389.50" y2="514.00" stroke="#333" stroke-width="0.85" stroke-dasharray="2,1.3"/>
<line x1="411.60" y1="342.40" x2="411.60" y2="514.00" stroke="#333" stroke-width="0.85" stroke-dasharray="2,1.3"/>
<line x1="434.40" y1="342.40" x2="434.40" y2="514.00" stroke="#333" stroke-width="0.85" stroke-dasharray="2,1.3"/>
<line x1="366.50" y1="502.50" x2="458.80" y2="502.50" stroke="#2a2a2a" stroke-width="0.85" stroke-dasharray="2.2,1.6"/>
<line x1="475.40" y1="502.50" x2="510.30" y2="502.50" stroke="#2a2a2a" stroke-width="0.85" stroke-dasharray="2.2,1.6"/>
<line x1="544.80" y1="342.40" x2="544.80" y2="514.00" stroke="#333" stroke-width="0.85" stroke-dasharray="2,1.3"/>
<line x1="516.60" y1="502.50" x2="573.40" y2="502.50" stroke="#2a2a2a" stroke-width="0.85" stroke-dasharray="2.2,1.6"/>
<line x1="628.50" y1="342.40" x2="628.50" y2="514.00" stroke="#333" stroke-width="0.85" stroke-dasharray="2,1.3"/>
<line x1="655.80" y1="342.40" x2="655.80" y2="514.00" stroke="#333" stroke-width="0.85" stroke-dasharray="2,1.3"/>
<line x1="593.50" y1="502.50" x2="686.00" y2="502.50" stroke="#2a2a2a" stroke-width="0.85" stroke-dasharray="2.2,1.6"/>
<line x1="76.80" y1="341.90" x2="76.80" y2="514.00" stroke="#6e6e6e" stroke-width="1.15"/>
<line x1="76.20" y1="514.00" x2="149.80" y2="514.00" stroke="#999999" stroke-width="1.3"/>
<line x1="70.80" y1="342.40" x2="76.80" y2="342.40" stroke="#5a5a5a" stroke-width="1.0"/>
<line x1="70.80" y1="365.40" x2="76.80" y2="365.40" stroke="#5a5a5a" stroke-width="1.0"/>
<line x1="70.80" y1="388.30" x2="76.80" y2="388.30" stroke="#5a5a5a" stroke-width="1.0"/>
<line x1="70.80" y1="411.10" x2="76.80" y2="411.10" stroke="#5a5a5a" stroke-width="1.0"/>
<line x1="70.80" y1="434.00" x2="76.80" y2="434.00" stroke="#5a5a5a" stroke-width="1.0"/>
<line x1="70.80" y1="456.80" x2="76.80" y2="456.80" stroke="#5a5a5a" stroke-width="1.0"/>
<line x1="70.80" y1="479.60" x2="76.80" y2="479.60" stroke="#5a5a5a" stroke-width="1.0"/>
<line x1="70.80" y1="502.50" x2="76.80" y2="502.50" stroke="#5a5a5a" stroke-width="1.0"/>
<line x1="155.50" y1="341.90" x2="155.50" y2="514.00" stroke="#6e6e6e" stroke-width="1.15"/>
<line x1="154.90" y1="514.00" x2="254.70" y2="514.00" stroke="#999999" stroke-width="1.3"/>
<line x1="271.50" y1="341.90" x2="271.50" y2="514.00" stroke="#6e6e6e" stroke-width="1.15"/>
<line x1="270.90" y1="514.00" x2="360.40" y2="514.00" stroke="#999999" stroke-width="1.3"/>
<line x1="265.50" y1="342.40" x2="271.50" y2="342.40" stroke="#5a5a5a" stroke-width="1.0"/>
<line x1="265.50" y1="365.40" x2="271.50" y2="365.40" stroke="#5a5a5a" stroke-width="1.0"/>
<line x1="265.50" y1="388.30" x2="271.50" y2="388.30" stroke="#5a5a5a" stroke-width="1.0"/>
<line x1="265.50" y1="411.10" x2="271.50" y2="411.10" stroke="#5a5a5a" stroke-width="1.0"/>
<line x1="265.50" y1="434.00" x2="271.50" y2="434.00" stroke="#5a5a5a" stroke-width="1.0"/>
<line x1="265.50" y1="456.80" x2="271.50" y2="456.80" stroke="#5a5a5a" stroke-width="1.0"/>
<line x1="265.50" y1="479.60" x2="271.50" y2="479.60" stroke="#5a5a5a" stroke-width="1.0"/>
<line x1="265.50" y1="502.50" x2="271.50" y2="502.50" stroke="#5a5a5a" stroke-width="1.0"/>
<line x1="366.50" y1="341.90" x2="366.50" y2="514.00" stroke="#6e6e6e" stroke-width="1.15"/>
<line x1="365.90" y1="514.00" x2="458.80" y2="514.00" stroke="#999999" stroke-width="1.3"/>
<line x1="481.40" y1="341.90" x2="481.40" y2="514.00" stroke="#6e6e6e" stroke-width="1.15"/>
<line x1="480.80" y1="514.00" x2="510.30" y2="514.00" stroke="#999999" stroke-width="1.3"/>
<line x1="475.40" y1="342.40" x2="481.40" y2="342.40" stroke="#5a5a5a" stroke-width="1.0"/>
<line x1="475.40" y1="365.40" x2="481.40" y2="365.40" stroke="#5a5a5a" stroke-width="1.0"/>
<line x1="475.40" y1="388.30" x2="481.40" y2="388.30" stroke="#5a5a5a" stroke-width="1.0"/>
<line x1="475.40" y1="411.10" x2="481.40" y2="411.10" stroke="#5a5a5a" stroke-width="1.0"/>
<line x1="475.40" y1="434.00" x2="481.40" y2="434.00" stroke="#5a5a5a" stroke-width="1.0"/>
<line x1="475.40" y1="456.80" x2="481.40" y2="456.80" stroke="#5a5a5a" stroke-width="1.0"/>
<line x1="475.40" y1="479.60" x2="481.40" y2="479.60" stroke="#5a5a5a" stroke-width="1.0"/>
<line x1="475.40" y1="502.50" x2="481.40" y2="502.50" stroke="#5a5a5a" stroke-width="1.0"/>
<line x1="516.60" y1="341.90" x2="516.60" y2="514.00" stroke="#6e6e6e" stroke-width="1.15"/>
<line x1="516.00" y1="514.00" x2="573.40" y2="514.00" stroke="#999999" stroke-width="1.3"/>
<line x1="599.50" y1="341.90" x2="599.50" y2="514.00" stroke="#6e6e6e" stroke-width="1.15"/>
<line x1="598.90" y1="514.00" x2="686.00" y2="514.00" stroke="#999999" stroke-width="1.3"/>
<line x1="593.50" y1="342.40" x2="599.50" y2="342.40" stroke="#5a5a5a" stroke-width="1.0"/>
<line x1="593.50" y1="365.40" x2="599.50" y2="365.40" stroke="#5a5a5a" stroke-width="1.0"/>
<line x1="593.50" y1="388.30" x2="599.50" y2="388.30" stroke="#5a5a5a" stroke-width="1.0"/>
<line x1="593.50" y1="411.10" x2="599.50" y2="411.10" stroke="#5a5a5a" stroke-width="1.0"/>
<line x1="593.50" y1="434.00" x2="599.50" y2="434.00" stroke="#5a5a5a" stroke-width="1.0"/>
<line x1="593.50" y1="456.80" x2="599.50" y2="456.80" stroke="#5a5a5a" stroke-width="1.0"/>
<line x1="593.50" y1="479.60" x2="599.50" y2="479.60" stroke="#5a5a5a" stroke-width="1.0"/>
<line x1="593.50" y1="502.50" x2="599.50" y2="502.50" stroke="#5a5a5a" stroke-width="1.0"/>
<text x="69.00" y="345.40" font-size="7.7" text-anchor="end" fill="#222">163<tspan dx="-0.50">,</tspan><tspan dx="-0.50">840</tspan></text>
<text x="69.00" y="368.40" font-size="7.7" text-anchor="end" fill="#222">40<tspan dx="-0.50">,</tspan><tspan dx="-0.50">960</tspan></text>
<text x="69.00" y="391.30" font-size="7.7" text-anchor="end" fill="#222">10<tspan dx="-0.50">,</tspan><tspan dx="-0.50">240</tspan></text>
<text x="69.00" y="414.10" font-size="7.7" text-anchor="end" fill="#222">2<tspan dx="-0.50">,</tspan><tspan dx="-0.50">560</tspan></text>
<text x="69.00" y="437.00" font-size="7.7" text-anchor="end" fill="#222">640</text>
<text x="69.00" y="459.80" font-size="7.7" text-anchor="end" fill="#222">160</text>
<text x="69.00" y="482.60" font-size="7.7" text-anchor="end" fill="#222">40</text>
<text x="69.00" y="505.50" font-size="7.7" text-anchor="end" fill="#222">LLoD</text>
<rect x="90.80" y="425.20" width="9.00" height="30.70" fill="#f9c9c2" stroke="#6e6e6e" stroke-width="0.8"/>
<circle cx="82.75" cy="506.30" r="1.38" fill="#6c85c8" stroke="#181e38" stroke-width="0.95"/>
<circle cx="84.05" cy="506.30" r="1.38" fill="#6c85c8" stroke="#181e38" stroke-width="0.95"/>
<circle cx="85.35" cy="506.30" r="1.38" fill="#6c85c8" stroke="#181e38" stroke-width="0.95"/>
<circle cx="86.65" cy="506.30" r="1.38" fill="#6c85c8" stroke="#181e38" stroke-width="0.95"/>
<circle cx="87.95" cy="506.30" r="1.38" fill="#6c85c8" stroke="#181e38" stroke-width="0.95"/>
<circle cx="89.25" cy="506.30" r="1.38" fill="#6c85c8" stroke="#181e38" stroke-width="0.95"/>
<circle cx="95.30" cy="413.20" r="1.38" fill="#ea7452" stroke="#33110a" stroke-width="0.8"/>
<circle cx="95.30" cy="419.30" r="1.38" fill="#ea7452" stroke="#33110a" stroke-width="0.8"/>
<circle cx="91.70" cy="419.30" r="1.38" fill="#ea7452" stroke="#33110a" stroke-width="0.8"/>
<circle cx="98.90" cy="419.30" r="1.38" fill="#ea7452" stroke="#33110a" stroke-width="0.8"/>
<circle cx="91.78" cy="419.30" r="1.38" fill="#ea7452" stroke="#33110a" stroke-width="0.8"/>
<circle cx="92.95" cy="421.30" r="1.38" fill="#ea7452" stroke="#33110a" stroke-width="0.8"/>
<circle cx="95.30" cy="428.00" r="1.38" fill="#ea7452" stroke="#33110a" stroke-width="0.8"/>
<circle cx="91.70" cy="428.00" r="1.38" fill="#ea7452" stroke="#33110a" stroke-width="0.8"/>
<circle cx="98.90" cy="428.00" r="1.38" fill="#ea7452" stroke="#33110a" stroke-width="0.8"/>
<circle cx="96.74" cy="429.50" r="1.38" fill="#ea7452" stroke="#33110a" stroke-width="0.8"/>
<circle cx="94.72" cy="429.50" r="1.38" fill="#ea7452" stroke="#33110a" stroke-width="0.8"/>
<circle cx="95.30" cy="432.10" r="1.38" fill="#ea7452" stroke="#33110a" stroke-width="0.8"/>
<circle cx="93.20" cy="434.60" r="1.38" fill="#ea7452" stroke="#33110a" stroke-width="0.8"/>
<circle cx="95.30" cy="436.90" r="1.38" fill="#ea7452" stroke="#33110a" stroke-width="0.8"/>
<circle cx="91.70" cy="436.90" r="1.38" fill="#ea7452" stroke="#33110a" stroke-width="0.8"/>
<circle cx="98.90" cy="436.90" r="1.38" fill="#ea7452" stroke="#33110a" stroke-width="0.8"/>
<circle cx="93.81" cy="438.70" r="1.38" fill="#ea7452" stroke="#33110a" stroke-width="0.8"/>
<circle cx="95.30" cy="442.30" r="1.38" fill="#ea7452" stroke="#33110a" stroke-width="0.8"/>
<circle cx="95.30" cy="445.90" r="1.38" fill="#ea7452" stroke="#33110a" stroke-width="0.8"/>
<circle cx="95.30" cy="450.50" r="1.38" fill="#ea7452" stroke="#33110a" stroke-width="0.8"/>
<circle cx="95.30" cy="455.00" r="1.38" fill="#ea7452" stroke="#33110a" stroke-width="0.8"/>
<circle cx="91.70" cy="455.00" r="1.38" fill="#ea7452" stroke="#33110a" stroke-width="0.8"/>
<circle cx="95.30" cy="457.60" r="1.38" fill="#ea7452" stroke="#33110a" stroke-width="0.8"/>
<circle cx="91.70" cy="458.60" r="1.38" fill="#ea7452" stroke="#33110a" stroke-width="0.8"/>
<circle cx="95.30" cy="465.50" r="1.38" fill="#ea7452" stroke="#33110a" stroke-width="0.8"/>
<circle cx="95.30" cy="471.60" r="1.38" fill="#ea7452" stroke="#33110a" stroke-width="0.8"/>
<circle cx="95.30" cy="499.50" r="1.38" fill="#ea7452" stroke="#33110a" stroke-width="0.8"/>
<circle cx="95.30" cy="506.30" r="1.38" fill="#ea7452" stroke="#33110a" stroke-width="0.95"/>
<line x1="89.90" y1="436.90" x2="100.70" y2="436.90" stroke="#000" stroke-width="2.0"/>
<rect x="115.10" y="440.20" width="9.00" height="27.10" fill="#f9c9c2" stroke="#6e6e6e" stroke-width="0.8"/>
<circle cx="106.65" cy="506.30" r="1.38" fill="#6c85c8" stroke="#181e38" stroke-width="0.95"/>
<circle cx="107.95" cy="506.30" r="1.38" fill="#6c85c8" stroke="#181e38" stroke-width="0.95"/>
<circle cx="109.25" cy="506.30" r="1.38" fill="#6c85c8" stroke="#181e38" stroke-width="0.95"/>
<circle cx="110.55" cy="506.30" r="1.38" fill="#6c85c8" stroke="#181e38" stroke-width="0.95"/>
<circle cx="111.85" cy="506.30" r="1.38" fill="#6c85c8" stroke="#181e38" stroke-width="0.95"/>
<circle cx="113.15" cy="506.30" r="1.38" fill="#6c85c8" stroke="#181e38" stroke-width="0.95"/>
<circle cx="119.60" cy="420.80" r="1.38" fill="#ea7452" stroke="#33110a" stroke-width="0.8"/>
<circle cx="119.60" cy="432.60" r="1.38" fill="#ea7452" stroke="#33110a" stroke-width="0.8"/>
<circle cx="117.50" cy="434.60" r="1.38" fill="#ea7452" stroke="#33110a" stroke-width="0.8"/>
<circle cx="119.60" cy="437.70" r="1.38" fill="#ea7452" stroke="#33110a" stroke-width="0.8"/>
<circle cx="116.00" cy="437.70" r="1.38" fill="#ea7452" stroke="#33110a" stroke-width="0.8"/>
<circle cx="119.60" cy="441.30" r="1.38" fill="#ea7452" stroke="#33110a" stroke-width="0.8"/>
<circle cx="116.00" cy="441.30" r="1.38" fill="#ea7452" stroke="#33110a" stroke-width="0.8"/>
<circle cx="123.20" cy="441.30" r="1.38" fill="#ea7452" stroke="#33110a" stroke-width="0.8"/>
<circle cx="120.28" cy="443.30" r="1.38" fill="#ea7452" stroke="#33110a" stroke-width="0.8"/>
<circle cx="119.23" cy="443.30" r="1.38" fill="#ea7452" stroke="#33110a" stroke-width="0.8"/>
<circle cx="117.50" cy="445.30" r="1.38" fill="#ea7452" stroke="#33110a" stroke-width="0.8"/>
<circle cx="123.20" cy="445.30" r="1.38" fill="#ea7452" stroke="#33110a" stroke-width="0.8"/>
<circle cx="118.00" cy="445.30" r="1.38" fill="#ea7452" stroke="#33110a" stroke-width="0.8"/>
<circle cx="119.60" cy="447.40" r="1.38" fill="#ea7452" stroke="#33110a" stroke-width="0.8"/>
<circle cx="121.96" cy="447.40" r="1.38" fill="#ea7452" stroke="#33110a" stroke-width="0.8"/>
<circle cx="117.50" cy="449.40" r="1.38" fill="#ea7452" stroke="#33110a" stroke-width="0.8"/>
<circle cx="119.60" cy="460.20" r="1.38" fill="#ea7452" stroke="#33110a" stroke-width="0.8"/>
<circle cx="119.60" cy="466.30" r="1.38" fill="#ea7452" stroke="#33110a" stroke-width="0.8"/>
<circle cx="117.50" cy="468.30" r="1.38" fill="#ea7452" stroke="#33110a" stroke-width="0.8"/>
<circle cx="119.60" cy="470.40" r="1.38" fill="#ea7452" stroke="#33110a" stroke-width="0.8"/>
<circle cx="119.60" cy="476.00" r="1.38" fill="#ea7452" stroke="#33110a" stroke-width="0.8"/>
<circle cx="119.60" cy="484.20" r="1.38" fill="#ea7452" stroke="#33110a" stroke-width="0.8"/>
<circle cx="117.50" cy="486.20" r="1.38" fill="#ea7452" stroke="#33110a" stroke-width="0.8"/>
<circle cx="119.60" cy="488.20" r="1.38" fill="#ea7452" stroke="#33110a" stroke-width="0.8"/>
<line x1="114.20" y1="445.90" x2="125.00" y2="445.90" stroke="#000" stroke-width="2.0"/>
<rect x="138.80" y="439.70" width="9.00" height="40.90" fill="#f9c9c2" stroke="#6e6e6e" stroke-width="0.8"/>
<circle cx="130.75" cy="506.30" r="1.38" fill="#6c85c8" stroke="#181e38" stroke-width="0.95"/>
<circle cx="132.05" cy="506.30" r="1.38" fill="#6c85c8" stroke="#181e38" stroke-width="0.95"/>
<circle cx="133.35" cy="506.30" r="1.38" fill="#6c85c8" stroke="#181e38" stroke-width="0.95"/>
<circle cx="134.65" cy="506.30" r="1.38" fill="#6c85c8" stroke="#181e38" stroke-width="0.95"/>
<circle cx="135.95" cy="506.30" r="1.38" fill="#6c85c8" stroke="#181e38" stroke-width="0.95"/>
<circle cx="137.25" cy="506.30" r="1.38" fill="#6c85c8" stroke="#181e38" stroke-width="0.95"/>
<circle cx="143.30" cy="423.40" r="1.38" fill="#ea7452" stroke="#33110a" stroke-width="0.8"/>
<circle cx="143.30" cy="427.00" r="1.38" fill="#ea7452" stroke="#33110a" stroke-width="0.8"/>
<circle cx="139.70" cy="427.00" r="1.38" fill="#ea7452" stroke="#33110a" stroke-width="0.8"/>
<circle cx="143.30" cy="435.60" r="1.38" fill="#ea7452" stroke="#33110a" stroke-width="0.8"/>
<circle cx="141.20" cy="438.20" r="1.38" fill="#ea7452" stroke="#33110a" stroke-width="0.8"/>
<circle cx="145.40" cy="438.20" r="1.38" fill="#ea7452" stroke="#33110a" stroke-width="0.8"/>
<circle cx="143.30" cy="440.80" r="1.38" fill="#ea7452" stroke="#33110a" stroke-width="0.8"/>
<circle cx="139.70" cy="440.80" r="1.38" fill="#ea7452" stroke="#33110a" stroke-width="0.8"/>
<circle cx="146.90" cy="440.80" r="1.38" fill="#ea7452" stroke="#33110a" stroke-width="0.8"/>
<circle cx="141.20" cy="443.30" r="1.38" fill="#ea7452" stroke="#33110a" stroke-width="0.8"/>
<circle cx="145.40" cy="443.30" r="1.38" fill="#ea7452" stroke="#33110a" stroke-width="0.8"/>
<circle cx="144.89" cy="443.30" r="1.38" fill="#ea7452" stroke="#33110a" stroke-width="0.8"/>
<circle cx="143.30" cy="445.90" r="1.38" fill="#ea7452" stroke="#33110a" stroke-width="0.8"/>
<circle cx="139.70" cy="445.90" r="1.38" fill="#ea7452" stroke="#33110a" stroke-width="0.8"/>
<circle cx="145.40" cy="447.90" r="1.38" fill="#ea7452" stroke="#33110a" stroke-width="0.8"/>
<circle cx="143.30" cy="450.50" r="1.38" fill="#ea7452" stroke="#33110a" stroke-width="0.8"/>
<circle cx="139.70" cy="450.50" r="1.38" fill="#ea7452" stroke="#33110a" stroke-width="0.8"/>
<circle cx="143.30" cy="461.20" r="1.38" fill="#ea7452" stroke="#33110a" stroke-width="0.8"/>
<circle cx="143.30" cy="469.90" r="1.38" fill="#ea7452" stroke="#33110a" stroke-width="0.8"/>
<circle cx="143.30" cy="479.60" r="1.38" fill="#ea7452" stroke="#33110a" stroke-width="0.8"/>
<circle cx="139.70" cy="481.10" r="1.38" fill="#ea7452" stroke="#33110a" stroke-width="0.8"/>
<circle cx="143.30" cy="486.20" r="1.38" fill="#ea7452" stroke="#33110a" stroke-width="0.8"/>
<circle cx="139.70" cy="487.20" r="1.38" fill="#ea7452" stroke="#33110a" stroke-width="0.8"/>
<circle cx="142.00" cy="506.30" r="1.38" fill="#ea7452" stroke="#33110a" stroke-width="0.95"/>
<circle cx="143.30" cy="506.30" r="1.38" fill="#ea7452" stroke="#33110a" stroke-width="0.95"/>
<circle cx="144.60" cy="506.30" r="1.38" fill="#ea7452" stroke="#33110a" stroke-width="0.95"/>
<line x1="137.90" y1="446.40" x2="148.70" y2="446.40" stroke="#000" stroke-width="2.0"/>
<rect x="159.40" y="476.00" width="9.00" height="29.90" fill="#c7d5f0" stroke="#6e6e6e" stroke-width="0.8"/>
<rect x="169.10" y="468.30" width="9.00" height="28.50" fill="#f9c9c2" stroke="#6e6e6e" stroke-width="0.8"/>
<circle cx="163.90" cy="463.90" r="1.38" fill="#6c85c8" stroke="#181e38" stroke-width="0.8"/>
<circle cx="161.80" cy="466.10" r="1.38" fill="#6c85c8" stroke="#181e38" stroke-width="0.8"/>
<circle cx="163.90" cy="474.20" r="1.38" fill="#6c85c8" stroke="#181e38" stroke-width="0.8"/>
<circle cx="161.80" cy="476.40" r="1.38" fill="#6c85c8" stroke="#181e38" stroke-width="0.8"/>
<circle cx="163.90" cy="479.60" r="1.38" fill="#6c85c8" stroke="#181e38" stroke-width="0.8"/>
<circle cx="161.80" cy="481.80" r="1.38" fill="#6c85c8" stroke="#181e38" stroke-width="0.8"/>
<circle cx="163.90" cy="483.60" r="1.38" fill="#6c85c8" stroke="#181e38" stroke-width="0.8"/>
<circle cx="161.80" cy="485.50" r="1.38" fill="#6c85c8" stroke="#181e38" stroke-width="0.8"/>
<circle cx="163.90" cy="487.30" r="1.38" fill="#6c85c8" stroke="#181e38" stroke-width="0.8"/>
<circle cx="161.95" cy="506.30" r="1.38" fill="#6c85c8" stroke="#181e38" stroke-width="0.95"/>
<circle cx="163.25" cy="506.30" r="1.38" fill="#6c85c8" stroke="#181e38" stroke-width="0.95"/>
<circle cx="164.55" cy="506.30" r="1.38" fill="#6c85c8" stroke="#181e38" stroke-width="0.95"/>
<circle cx="165.85" cy="506.30" r="1.38" fill="#6c85c8" stroke="#181e38" stroke-width="0.95"/>
<circle cx="173.60" cy="447.50" r="1.38" fill="#ea7452" stroke="#33110a" stroke-width="0.8"/>
<circle cx="173.60" cy="456.30" r="1.38" fill="#ea7452" stroke="#33110a" stroke-width="0.8"/>
<circle cx="173.60" cy="461.40" r="1.38" fill="#ea7452" stroke="#33110a" stroke-width="0.8"/>
<circle cx="170.00" cy="461.40" r="1.38" fill="#ea7452" stroke="#33110a" stroke-width="0.8"/>
<circle cx="177.20" cy="462.50" r="1.38" fill="#ea7452" stroke="#33110a" stroke-width="0.8"/>
<circle cx="173.60" cy="465.80" r="1.38" fill="#ea7452" stroke="#33110a" stroke-width="0.8"/>
<circle cx="171.50" cy="468.30" r="1.38" fill="#ea7452" stroke="#33110a" stroke-width="0.8"/>
<circle cx="175.70" cy="468.30" r="1.38" fill="#ea7452" stroke="#33110a" stroke-width="0.8"/>
<circle cx="171.55" cy="469.80" r="1.38" fill="#ea7452" stroke="#33110a" stroke-width="0.8"/>
<circle cx="174.20" cy="469.80" r="1.38" fill="#ea7452" stroke="#33110a" stroke-width="0.8"/>
<circle cx="177.20" cy="471.60" r="1.38" fill="#ea7452" stroke="#33110a" stroke-width="0.8"/>
<circle cx="173.80" cy="471.60" r="1.38" fill="#ea7452" stroke="#33110a" stroke-width="0.8"/>
<circle cx="171.50" cy="473.80" r="1.38" fill="#ea7452" stroke="#33110a" stroke-width="0.8"/>
<circle cx="173.60" cy="476.00" r="1.38" fill="#ea7452" stroke="#33110a" stroke-width="0.8"/>
<circle cx="171.50" cy="478.50" r="1.38" fill="#ea7452" stroke="#33110a" stroke-width="0.8"/>
<circle cx="173.60" cy="480.70" r="1.38" fill="#ea7452" stroke="#33110a" stroke-width="0.8"/>
<circle cx="173.60" cy="484.00" r="1.38" fill="#ea7452" stroke="#33110a" stroke-width="0.8"/>
<circle cx="173.60" cy="488.40" r="1.38" fill="#ea7452" stroke="#33110a" stroke-width="0.8"/>
<circle cx="170.00" cy="488.40" r="1.38" fill="#ea7452" stroke="#33110a" stroke-width="0.8"/>
<circle cx="177.20" cy="489.50" r="1.38" fill="#ea7452" stroke="#33110a" stroke-width="0.8"/>
<circle cx="173.60" cy="492.80" r="1.38" fill="#ea7452" stroke="#33110a" stroke-width="0.8"/>
<circle cx="173.60" cy="501.90" r="1.38" fill="#ea7452" stroke="#33110a" stroke-width="0.8"/>
<circle cx="171.00" cy="506.30" r="1.38" fill="#ea7452" stroke="#33110a" stroke-width="0.95"/>
<circle cx="172.30" cy="506.30" r="1.38" fill="#ea7452" stroke="#33110a" stroke-width="0.95"/>
<circle cx="173.60" cy="506.30" r="1.38" fill="#ea7452" stroke="#33110a" stroke-width="0.95"/>
<circle cx="174.90" cy="506.30" r="1.38" fill="#ea7452" stroke="#33110a" stroke-width="0.95"/>
<circle cx="176.20" cy="506.30" r="1.38" fill="#ea7452" stroke="#33110a" stroke-width="0.95"/>
<line x1="158.50" y1="483.40" x2="169.30" y2="483.40" stroke="#000" stroke-width="2.0"/>
<line x1="168.20" y1="478.30" x2="179.00" y2="478.30" stroke="#000" stroke-width="2.0"/>
<rect x="183.70" y="473.40" width="9.00" height="32.50" fill="#c7d5f0" stroke="#6e6e6e" stroke-width="0.8"/>
<rect x="193.40" y="466.10" width="9.00" height="18.30" fill="#f9c9c2" stroke="#6e6e6e" stroke-width="0.8"/>
<circle cx="188.20" cy="447.90" r="1.38" fill="#6c85c8" stroke="#181e38" stroke-width="0.8"/>
<circle cx="188.20" cy="464.70" r="1.38" fill="#6c85c8" stroke="#181e38" stroke-width="0.8"/>
<circle cx="188.20" cy="472.00" r="1.38" fill="#6c85c8" stroke="#181e38" stroke-width="0.8"/>
<circle cx="186.10" cy="474.20" r="1.38" fill="#6c85c8" stroke="#181e38" stroke-width="0.8"/>
<circle cx="190.30" cy="474.20" r="1.38" fill="#6c85c8" stroke="#181e38" stroke-width="0.8"/>
<circle cx="188.20" cy="476.40" r="1.38" fill="#6c85c8" stroke="#181e38" stroke-width="0.8"/>
<circle cx="188.20" cy="484.40" r="1.38" fill="#6c85c8" stroke="#181e38" stroke-width="0.8"/>
<circle cx="184.60" cy="484.40" r="1.38" fill="#6c85c8" stroke="#181e38" stroke-width="0.8"/>
<circle cx="185.60" cy="506.30" r="1.38" fill="#6c85c8" stroke="#181e38" stroke-width="0.95"/>
<circle cx="186.90" cy="506.30" r="1.38" fill="#6c85c8" stroke="#181e38" stroke-width="0.95"/>
<circle cx="188.20" cy="506.30" r="1.38" fill="#6c85c8" stroke="#181e38" stroke-width="0.95"/>
<circle cx="189.50" cy="506.30" r="1.38" fill="#6c85c8" stroke="#181e38" stroke-width="0.95"/>
<circle cx="190.80" cy="506.30" r="1.38" fill="#6c85c8" stroke="#181e38" stroke-width="0.95"/>
<circle cx="197.90" cy="440.20" r="1.38" fill="#ea7452" stroke="#33110a" stroke-width="0.8"/>
<circle cx="197.90" cy="449.30" r="1.38" fill="#ea7452" stroke="#33110a" stroke-width="0.8"/>
<circle cx="194.30" cy="449.30" r="1.38" fill="#ea7452" stroke="#33110a" stroke-width="0.8"/>
<circle cx="197.90" cy="455.20" r="1.38" fill="#ea7452" stroke="#33110a" stroke-width="0.8"/>
<circle cx="197.90" cy="460.30" r="1.38" fill="#ea7452" stroke="#33110a" stroke-width="0.8"/>
<circle cx="197.90" cy="466.10" r="1.38" fill="#ea7452" stroke="#33110a" stroke-width="0.8"/>
<circle cx="194.30" cy="466.10" r="1.38" fill="#ea7452" stroke="#33110a" stroke-width="0.8"/>
<circle cx="201.50" cy="466.10" r="1.38" fill="#ea7452" stroke="#33110a" stroke-width="0.8"/>
<circle cx="200.90" cy="468.00" r="1.38" fill="#ea7452" stroke="#33110a" stroke-width="0.8"/>
<circle cx="199.74" cy="468.00" r="1.38" fill="#ea7452" stroke="#33110a" stroke-width="0.8"/>
<circle cx="195.80" cy="469.80" r="1.38" fill="#ea7452" stroke="#33110a" stroke-width="0.8"/>
<circle cx="196.20" cy="469.80" r="1.38" fill="#ea7452" stroke="#33110a" stroke-width="0.8"/>
<circle cx="200.00" cy="471.60" r="1.38" fill="#ea7452" stroke="#33110a" stroke-width="0.8"/>
<circle cx="201.74" cy="471.60" r="1.38" fill="#ea7452" stroke="#33110a" stroke-width="0.8"/>
<circle cx="197.90" cy="473.40" r="1.38" fill="#ea7452" stroke="#33110a" stroke-width="0.8"/>
<circle cx="194.30" cy="473.40" r="1.38" fill="#ea7452" stroke="#33110a" stroke-width="0.8"/>
<circle cx="194.84" cy="473.40" r="1.38" fill="#ea7452" stroke="#33110a" stroke-width="0.8"/>
<circle cx="200.00" cy="475.30" r="1.38" fill="#ea7452" stroke="#33110a" stroke-width="0.8"/>
<circle cx="197.24" cy="475.30" r="1.38" fill="#ea7452" stroke="#33110a" stroke-width="0.8"/>
<circle cx="197.90" cy="481.10" r="1.38" fill="#ea7452" stroke="#33110a" stroke-width="0.8"/>
<circle cx="194.30" cy="481.10" r="1.38" fill="#ea7452" stroke="#33110a" stroke-width="0.8"/>
<circle cx="195.80" cy="483.30" r="1.38" fill="#ea7452" stroke="#33110a" stroke-width="0.8"/>
<circle cx="200.00" cy="483.30" r="1.38" fill="#ea7452" stroke="#33110a" stroke-width="0.8"/>
<circle cx="195.30" cy="506.30" r="1.38" fill="#ea7452" stroke="#33110a" stroke-width="0.95"/>
<circle cx="196.60" cy="506.30" r="1.38" fill="#ea7452" stroke="#33110a" stroke-width="0.95"/>
<circle cx="197.90" cy="506.30" r="1.38" fill="#ea7452" stroke="#33110a" stroke-width="0.95"/>
<circle cx="199.20" cy="506.30" r="1.38" fill="#ea7452" stroke="#33110a" stroke-width="0.95"/>
<circle cx="200.50" cy="506.30" r="1.38" fill="#ea7452" stroke="#33110a" stroke-width="0.95"/>
<line x1="182.80" y1="484.40" x2="193.60" y2="484.40" stroke="#000" stroke-width="2.0"/>
<line x1="192.50" y1="473.40" x2="203.30" y2="473.40" stroke="#000" stroke-width="2.0"/>
<rect x="207.40" y="473.10" width="9.00" height="32.80" fill="#c7d5f0" stroke="#6e6e6e" stroke-width="0.8"/>
<rect x="217.30" y="464.70" width="9.00" height="27.00" fill="#f9c9c2" stroke="#6e6e6e" stroke-width="0.8"/>
<circle cx="211.90" cy="466.10" r="1.38" fill="#6c85c8" stroke="#181e38" stroke-width="0.8"/>
<circle cx="208.30" cy="467.60" r="1.38" fill="#6c85c8" stroke="#181e38" stroke-width="0.8"/>
<circle cx="211.90" cy="473.10" r="1.38" fill="#6c85c8" stroke="#181e38" stroke-width="0.8"/>
<circle cx="208.30" cy="473.10" r="1.38" fill="#6c85c8" stroke="#181e38" stroke-width="0.8"/>
<circle cx="215.50" cy="474.50" r="1.38" fill="#6c85c8" stroke="#181e38" stroke-width="0.8"/>
<circle cx="211.90" cy="487.70" r="1.38" fill="#6c85c8" stroke="#181e38" stroke-width="0.8"/>
<circle cx="208.30" cy="487.70" r="1.38" fill="#6c85c8" stroke="#181e38" stroke-width="0.8"/>
<circle cx="215.50" cy="488.80" r="1.38" fill="#6c85c8" stroke="#181e38" stroke-width="0.8"/>
<circle cx="211.90" cy="490.60" r="1.38" fill="#6c85c8" stroke="#181e38" stroke-width="0.8"/>
<circle cx="208.30" cy="490.60" r="1.38" fill="#6c85c8" stroke="#181e38" stroke-width="0.8"/>
<circle cx="209.95" cy="506.30" r="1.38" fill="#6c85c8" stroke="#181e38" stroke-width="0.95"/>
<circle cx="211.25" cy="506.30" r="1.38" fill="#6c85c8" stroke="#181e38" stroke-width="0.95"/>
<circle cx="212.55" cy="506.30" r="1.38" fill="#6c85c8" stroke="#181e38" stroke-width="0.95"/>
<circle cx="213.85" cy="506.30" r="1.38" fill="#6c85c8" stroke="#181e38" stroke-width="0.95"/>
<circle cx="221.80" cy="449.30" r="1.38" fill="#ea7452" stroke="#33110a" stroke-width="0.8"/>
<circle cx="218.20" cy="449.30" r="1.38" fill="#ea7452" stroke="#33110a" stroke-width="0.8"/>
<circle cx="223.90" cy="451.20" r="1.38" fill="#ea7452" stroke="#33110a" stroke-width="0.8"/>
<circle cx="221.80" cy="458.80" r="1.38" fill="#ea7452" stroke="#33110a" stroke-width="0.8"/>
<circle cx="218.20" cy="460.30" r="1.38" fill="#ea7452" stroke="#33110a" stroke-width="0.8"/>
<circle cx="223.90" cy="461.40" r="1.38" fill="#ea7452" stroke="#33110a" stroke-width="0.8"/>
<circle cx="221.80" cy="468.30" r="1.38" fill="#ea7452" stroke="#33110a" stroke-width="0.8"/>
<circle cx="219.70" cy="470.50" r="1.38" fill="#ea7452" stroke="#33110a" stroke-width="0.8"/>
<circle cx="223.90" cy="472.00" r="1.38" fill="#ea7452" stroke="#33110a" stroke-width="0.8"/>
<circle cx="223.86" cy="472.00" r="1.38" fill="#ea7452" stroke="#33110a" stroke-width="0.8"/>
<circle cx="221.80" cy="473.80" r="1.38" fill="#ea7452" stroke="#33110a" stroke-width="0.8"/>
<circle cx="219.70" cy="476.00" r="1.38" fill="#ea7452" stroke="#33110a" stroke-width="0.8"/>
<circle cx="223.90" cy="476.00" r="1.38" fill="#ea7452" stroke="#33110a" stroke-width="0.8"/>
<circle cx="221.80" cy="477.80" r="1.38" fill="#ea7452" stroke="#33110a" stroke-width="0.8"/>
<circle cx="221.80" cy="481.10" r="1.38" fill="#ea7452" stroke="#33110a" stroke-width="0.8"/>
<circle cx="221.80" cy="484.70" r="1.38" fill="#ea7452" stroke="#33110a" stroke-width="0.8"/>
<circle cx="221.80" cy="489.90" r="1.38" fill="#ea7452" stroke="#33110a" stroke-width="0.8"/>
<circle cx="218.20" cy="491.30" r="1.38" fill="#ea7452" stroke="#33110a" stroke-width="0.8"/>
<circle cx="221.80" cy="492.80" r="1.38" fill="#ea7452" stroke="#33110a" stroke-width="0.8"/>
<circle cx="221.80" cy="500.40" r="1.38" fill="#ea7452" stroke="#33110a" stroke-width="0.8"/>
<circle cx="219.85" cy="506.30" r="1.38" fill="#ea7452" stroke="#33110a" stroke-width="0.95"/>
<circle cx="221.15" cy="506.30" r="1.38" fill="#ea7452" stroke="#33110a" stroke-width="0.95"/>
<circle cx="222.45" cy="506.30" r="1.38" fill="#ea7452" stroke="#33110a" stroke-width="0.95"/>
<circle cx="223.75" cy="506.30" r="1.38" fill="#ea7452" stroke="#33110a" stroke-width="0.95"/>
<line x1="206.50" y1="488.80" x2="217.30" y2="488.80" stroke="#000" stroke-width="2.0"/>
<line x1="216.40" y1="476.10" x2="227.20" y2="476.10" stroke="#000" stroke-width="2.0"/>
<rect x="231.90" y="486.60" width="9.00" height="19.30" fill="#c7d5f0" stroke="#6e6e6e" stroke-width="0.8"/>
<rect x="241.40" y="474.50" width="9.00" height="24.10" fill="#f9c9c2" stroke="#6e6e6e" stroke-width="0.8"/>
<circle cx="236.40" cy="479.60" r="1.38" fill="#6c85c8" stroke="#181e38" stroke-width="0.8"/>
<circle cx="232.80" cy="479.60" r="1.38" fill="#6c85c8" stroke="#181e38" stroke-width="0.8"/>
<circle cx="236.40" cy="484.40" r="1.38" fill="#6c85c8" stroke="#181e38" stroke-width="0.8"/>
<circle cx="236.40" cy="488.40" r="1.38" fill="#6c85c8" stroke="#181e38" stroke-width="0.8"/>
<circle cx="232.80" cy="488.40" r="1.38" fill="#6c85c8" stroke="#181e38" stroke-width="0.8"/>
<circle cx="240.00" cy="488.40" r="1.38" fill="#6c85c8" stroke="#181e38" stroke-width="0.8"/>
<circle cx="234.30" cy="490.60" r="1.38" fill="#6c85c8" stroke="#181e38" stroke-width="0.8"/>
<circle cx="238.50" cy="490.60" r="1.38" fill="#6c85c8" stroke="#181e38" stroke-width="0.8"/>
<circle cx="233.80" cy="506.30" r="1.38" fill="#6c85c8" stroke="#181e38" stroke-width="0.95"/>
<circle cx="235.10" cy="506.30" r="1.38" fill="#6c85c8" stroke="#181e38" stroke-width="0.95"/>
<circle cx="236.40" cy="506.30" r="1.38" fill="#6c85c8" stroke="#181e38" stroke-width="0.95"/>
<circle cx="237.70" cy="506.30" r="1.38" fill="#6c85c8" stroke="#181e38" stroke-width="0.95"/>
<circle cx="239.00" cy="506.30" r="1.38" fill="#6c85c8" stroke="#181e38" stroke-width="0.95"/>
<circle cx="245.90" cy="452.60" r="1.38" fill="#ea7452" stroke="#33110a" stroke-width="0.8"/>
<circle cx="243.80" cy="454.80" r="1.38" fill="#ea7452" stroke="#33110a" stroke-width="0.8"/>
<circle cx="245.90" cy="458.10" r="1.38" fill="#ea7452" stroke="#33110a" stroke-width="0.8"/>
<circle cx="245.90" cy="469.00" r="1.38" fill="#ea7452" stroke="#33110a" stroke-width="0.8"/>
<circle cx="242.30" cy="469.00" r="1.38" fill="#ea7452" stroke="#33110a" stroke-width="0.8"/>
<circle cx="245.90" cy="471.60" r="1.38" fill="#ea7452" stroke="#33110a" stroke-width="0.8"/>
<circle cx="245.90" cy="476.70" r="1.38" fill="#ea7452" stroke="#33110a" stroke-width="0.8"/>
<circle cx="242.30" cy="476.70" r="1.38" fill="#ea7452" stroke="#33110a" stroke-width="0.8"/>
<circle cx="249.50" cy="476.70" r="1.38" fill="#ea7452" stroke="#33110a" stroke-width="0.8"/>
<circle cx="243.12" cy="478.20" r="1.38" fill="#ea7452" stroke="#33110a" stroke-width="0.8"/>
<circle cx="245.81" cy="478.20" r="1.38" fill="#ea7452" stroke="#33110a" stroke-width="0.8"/>
<circle cx="248.00" cy="480.40" r="1.38" fill="#ea7452" stroke="#33110a" stroke-width="0.8"/>
<circle cx="242.21" cy="480.40" r="1.38" fill="#ea7452" stroke="#33110a" stroke-width="0.8"/>
<circle cx="247.25" cy="480.40" r="1.38" fill="#ea7452" stroke="#33110a" stroke-width="0.8"/>
<circle cx="245.90" cy="483.30" r="1.38" fill="#ea7452" stroke="#33110a" stroke-width="0.8"/>
<circle cx="245.90" cy="486.90" r="1.38" fill="#ea7452" stroke="#33110a" stroke-width="0.8"/>
<circle cx="245.90" cy="492.80" r="1.38" fill="#ea7452" stroke="#33110a" stroke-width="0.8"/>
<circle cx="245.90" cy="495.70" r="1.38" fill="#ea7452" stroke="#33110a" stroke-width="0.8"/>
<circle cx="242.30" cy="495.70" r="1.38" fill="#ea7452" stroke="#33110a" stroke-width="0.8"/>
<circle cx="243.80" cy="497.90" r="1.38" fill="#ea7452" stroke="#33110a" stroke-width="0.8"/>
<circle cx="245.90" cy="500.10" r="1.38" fill="#ea7452" stroke="#33110a" stroke-width="0.8"/>
<circle cx="243.30" cy="506.30" r="1.38" fill="#ea7452" stroke="#33110a" stroke-width="0.95"/>
<circle cx="244.60" cy="506.30" r="1.38" fill="#ea7452" stroke="#33110a" stroke-width="0.95"/>
<circle cx="245.90" cy="506.30" r="1.38" fill="#ea7452" stroke="#33110a" stroke-width="0.95"/>
<circle cx="247.20" cy="506.30" r="1.38" fill="#ea7452" stroke="#33110a" stroke-width="0.95"/>
<circle cx="248.50" cy="506.30" r="1.38" fill="#ea7452" stroke="#33110a" stroke-width="0.95"/>
<line x1="231.00" y1="489.50" x2="241.80" y2="489.50" stroke="#000" stroke-width="2.0"/>
<line x1="240.50" y1="483.30" x2="251.30" y2="483.30" stroke="#000" stroke-width="2.0"/>
<rect x="284.40" y="439.50" width="8.60" height="34.50" fill="#f9c9c2" stroke="#6e6e6e" stroke-width="0.8"/>
<circle cx="276.65" cy="506.30" r="1.38" fill="#6c85c8" stroke="#181e38" stroke-width="0.95"/>
<circle cx="277.95" cy="506.30" r="1.38" fill="#6c85c8" stroke="#181e38" stroke-width="0.95"/>
<circle cx="279.25" cy="506.30" r="1.38" fill="#6c85c8" stroke="#181e38" stroke-width="0.95"/>
<circle cx="280.55" cy="506.30" r="1.38" fill="#6c85c8" stroke="#181e38" stroke-width="0.95"/>
<circle cx="281.85" cy="506.30" r="1.38" fill="#6c85c8" stroke="#181e38" stroke-width="0.95"/>
<circle cx="283.15" cy="506.30" r="1.38" fill="#6c85c8" stroke="#181e38" stroke-width="0.95"/>
<circle cx="288.70" cy="422.60" r="1.38" fill="#ea7452" stroke="#33110a" stroke-width="0.8"/>
<circle cx="285.10" cy="422.60" r="1.38" fill="#ea7452" stroke="#33110a" stroke-width="0.8"/>
<circle cx="288.70" cy="426.70" r="1.38" fill="#ea7452" stroke="#33110a" stroke-width="0.8"/>
<circle cx="288.70" cy="433.70" r="1.38" fill="#ea7452" stroke="#33110a" stroke-width="0.8"/>
<circle cx="288.70" cy="437.00" r="1.38" fill="#ea7452" stroke="#33110a" stroke-width="0.8"/>
<circle cx="288.70" cy="440.10" r="1.38" fill="#ea7452" stroke="#33110a" stroke-width="0.8"/>
<circle cx="285.10" cy="440.10" r="1.38" fill="#ea7452" stroke="#33110a" stroke-width="0.8"/>
<circle cx="286.60" cy="442.50" r="1.38" fill="#ea7452" stroke="#33110a" stroke-width="0.8"/>
<circle cx="288.70" cy="444.20" r="1.38" fill="#ea7452" stroke="#33110a" stroke-width="0.8"/>
<circle cx="292.30" cy="444.20" r="1.38" fill="#ea7452" stroke="#33110a" stroke-width="0.8"/>
<circle cx="286.60" cy="446.50" r="1.38" fill="#ea7452" stroke="#33110a" stroke-width="0.8"/>
<circle cx="288.70" cy="448.90" r="1.38" fill="#ea7452" stroke="#33110a" stroke-width="0.8"/>
<circle cx="288.70" cy="453.60" r="1.38" fill="#ea7452" stroke="#33110a" stroke-width="0.8"/>
<circle cx="285.10" cy="453.60" r="1.38" fill="#ea7452" stroke="#33110a" stroke-width="0.8"/>
<circle cx="292.30" cy="453.60" r="1.38" fill="#ea7452" stroke="#33110a" stroke-width="0.8"/>
<circle cx="288.70" cy="457.60" r="1.38" fill="#ea7452" stroke="#33110a" stroke-width="0.8"/>
<circle cx="286.60" cy="460.00" r="1.38" fill="#ea7452" stroke="#33110a" stroke-width="0.8"/>
<circle cx="288.70" cy="462.30" r="1.38" fill="#ea7452" stroke="#33110a" stroke-width="0.8"/>
<circle cx="286.60" cy="464.10" r="1.38" fill="#ea7452" stroke="#33110a" stroke-width="0.8"/>
<circle cx="288.70" cy="472.30" r="1.38" fill="#ea7452" stroke="#33110a" stroke-width="0.8"/>
<circle cx="285.10" cy="472.30" r="1.38" fill="#ea7452" stroke="#33110a" stroke-width="0.8"/>
<circle cx="290.80" cy="474.00" r="1.38" fill="#ea7452" stroke="#33110a" stroke-width="0.8"/>
<circle cx="290.82" cy="474.00" r="1.38" fill="#ea7452" stroke="#33110a" stroke-width="0.8"/>
<circle cx="288.70" cy="483.40" r="1.38" fill="#ea7452" stroke="#33110a" stroke-width="0.8"/>
<circle cx="288.70" cy="498.00" r="1.38" fill="#ea7452" stroke="#33110a" stroke-width="0.8"/>
<circle cx="288.70" cy="506.30" r="1.38" fill="#ea7452" stroke="#33110a" stroke-width="0.95"/>
<line x1="283.50" y1="453.60" x2="293.90" y2="453.60" stroke="#000" stroke-width="2.0"/>
<rect x="307.00" y="439.00" width="8.60" height="27.40" fill="#f9c9c2" stroke="#6e6e6e" stroke-width="0.8"/>
<circle cx="299.25" cy="506.30" r="1.38" fill="#6c85c8" stroke="#181e38" stroke-width="0.95"/>
<circle cx="300.55" cy="506.30" r="1.38" fill="#6c85c8" stroke="#181e38" stroke-width="0.95"/>
<circle cx="301.85" cy="506.30" r="1.38" fill="#6c85c8" stroke="#181e38" stroke-width="0.95"/>
<circle cx="303.15" cy="506.30" r="1.38" fill="#6c85c8" stroke="#181e38" stroke-width="0.95"/>
<circle cx="304.45" cy="506.30" r="1.38" fill="#6c85c8" stroke="#181e38" stroke-width="0.95"/>
<circle cx="305.75" cy="506.30" r="1.38" fill="#6c85c8" stroke="#181e38" stroke-width="0.95"/>
<circle cx="311.30" cy="426.10" r="1.38" fill="#ea7452" stroke="#33110a" stroke-width="0.8"/>
<circle cx="311.30" cy="433.70" r="1.38" fill="#ea7452" stroke="#33110a" stroke-width="0.8"/>
<circle cx="307.70" cy="433.70" r="1.38" fill="#ea7452" stroke="#33110a" stroke-width="0.8"/>
<circle cx="309.20" cy="436.00" r="1.38" fill="#ea7452" stroke="#33110a" stroke-width="0.8"/>
<circle cx="311.30" cy="439.00" r="1.38" fill="#ea7452" stroke="#33110a" stroke-width="0.8"/>
<circle cx="307.70" cy="439.00" r="1.38" fill="#ea7452" stroke="#33110a" stroke-width="0.8"/>
<circle cx="311.30" cy="442.50" r="1.38" fill="#ea7452" stroke="#33110a" stroke-width="0.8"/>
<circle cx="307.70" cy="442.50" r="1.38" fill="#ea7452" stroke="#33110a" stroke-width="0.8"/>
<circle cx="309.20" cy="444.80" r="1.38" fill="#ea7452" stroke="#33110a" stroke-width="0.8"/>
<circle cx="311.30" cy="446.50" r="1.38" fill="#ea7452" stroke="#33110a" stroke-width="0.8"/>
<circle cx="309.20" cy="448.90" r="1.38" fill="#ea7452" stroke="#33110a" stroke-width="0.8"/>
<circle cx="313.40" cy="448.90" r="1.38" fill="#ea7452" stroke="#33110a" stroke-width="0.8"/>
<circle cx="311.30" cy="451.50" r="1.38" fill="#ea7452" stroke="#33110a" stroke-width="0.8"/>
<circle cx="307.70" cy="451.50" r="1.38" fill="#ea7452" stroke="#33110a" stroke-width="0.8"/>
<circle cx="311.30" cy="455.30" r="1.38" fill="#ea7452" stroke="#33110a" stroke-width="0.8"/>
<circle cx="311.30" cy="460.00" r="1.38" fill="#ea7452" stroke="#33110a" stroke-width="0.8"/>
<circle cx="309.20" cy="461.70" r="1.38" fill="#ea7452" stroke="#33110a" stroke-width="0.8"/>
<circle cx="311.30" cy="464.10" r="1.38" fill="#ea7452" stroke="#33110a" stroke-width="0.8"/>
<circle cx="307.70" cy="465.20" r="1.38" fill="#ea7452" stroke="#33110a" stroke-width="0.8"/>
<circle cx="311.30" cy="468.70" r="1.38" fill="#ea7452" stroke="#33110a" stroke-width="0.8"/>
<circle cx="309.20" cy="471.10" r="1.38" fill="#ea7452" stroke="#33110a" stroke-width="0.8"/>
<circle cx="311.30" cy="476.90" r="1.38" fill="#ea7452" stroke="#33110a" stroke-width="0.8"/>
<circle cx="311.30" cy="483.40" r="1.38" fill="#ea7452" stroke="#33110a" stroke-width="0.8"/>
<circle cx="311.30" cy="500.90" r="1.38" fill="#ea7452" stroke="#33110a" stroke-width="0.8"/>
<circle cx="311.30" cy="506.30" r="1.38" fill="#ea7452" stroke="#33110a" stroke-width="0.95"/>
<line x1="306.10" y1="451.50" x2="316.50" y2="451.50" stroke="#000" stroke-width="2.0"/>
<rect x="329.70" y="449.50" width="8.80" height="32.70" fill="#f9c9c2" stroke="#6e6e6e" stroke-width="0.8"/>
<circle cx="321.75" cy="506.30" r="1.38" fill="#6c85c8" stroke="#181e38" stroke-width="0.95"/>
<circle cx="323.05" cy="506.30" r="1.38" fill="#6c85c8" stroke="#181e38" stroke-width="0.95"/>
<circle cx="324.35" cy="506.30" r="1.38" fill="#6c85c8" stroke="#181e38" stroke-width="0.95"/>
<circle cx="325.65" cy="506.30" r="1.38" fill="#6c85c8" stroke="#181e38" stroke-width="0.95"/>
<circle cx="326.95" cy="506.30" r="1.38" fill="#6c85c8" stroke="#181e38" stroke-width="0.95"/>
<circle cx="328.25" cy="506.30" r="1.38" fill="#6c85c8" stroke="#181e38" stroke-width="0.95"/>
<circle cx="334.10" cy="439.50" r="1.38" fill="#ea7452" stroke="#33110a" stroke-width="0.8"/>
<circle cx="334.10" cy="444.80" r="1.38" fill="#ea7452" stroke="#33110a" stroke-width="0.8"/>
<circle cx="330.50" cy="444.80" r="1.38" fill="#ea7452" stroke="#33110a" stroke-width="0.8"/>
<circle cx="337.70" cy="444.80" r="1.38" fill="#ea7452" stroke="#33110a" stroke-width="0.8"/>
<circle cx="332.00" cy="447.10" r="1.38" fill="#ea7452" stroke="#33110a" stroke-width="0.8"/>
<circle cx="334.10" cy="450.00" r="1.38" fill="#ea7452" stroke="#33110a" stroke-width="0.8"/>
<circle cx="334.10" cy="453.00" r="1.38" fill="#ea7452" stroke="#33110a" stroke-width="0.8"/>
<circle cx="332.00" cy="455.30" r="1.38" fill="#ea7452" stroke="#33110a" stroke-width="0.8"/>
<circle cx="334.10" cy="457.60" r="1.38" fill="#ea7452" stroke="#33110a" stroke-width="0.8"/>
<circle cx="332.00" cy="460.00" r="1.38" fill="#ea7452" stroke="#33110a" stroke-width="0.8"/>
<circle cx="334.10" cy="462.30" r="1.38" fill="#ea7452" stroke="#33110a" stroke-width="0.8"/>
<circle cx="330.50" cy="462.30" r="1.38" fill="#ea7452" stroke="#33110a" stroke-width="0.8"/>
<circle cx="336.20" cy="464.10" r="1.38" fill="#ea7452" stroke="#33110a" stroke-width="0.8"/>
<circle cx="334.10" cy="467.00" r="1.38" fill="#ea7452" stroke="#33110a" stroke-width="0.8"/>
<circle cx="330.50" cy="467.00" r="1.38" fill="#ea7452" stroke="#33110a" stroke-width="0.8"/>
<circle cx="334.10" cy="469.90" r="1.38" fill="#ea7452" stroke="#33110a" stroke-width="0.8"/>
<circle cx="334.10" cy="472.80" r="1.38" fill="#ea7452" stroke="#33110a" stroke-width="0.8"/>
<circle cx="332.00" cy="475.20" r="1.38" fill="#ea7452" stroke="#33110a" stroke-width="0.8"/>
<circle cx="334.10" cy="478.70" r="1.38" fill="#ea7452" stroke="#33110a" stroke-width="0.8"/>
<circle cx="334.10" cy="481.60" r="1.38" fill="#ea7452" stroke="#33110a" stroke-width="0.8"/>
<circle cx="332.00" cy="483.90" r="1.38" fill="#ea7452" stroke="#33110a" stroke-width="0.8"/>
<circle cx="334.10" cy="488.60" r="1.38" fill="#ea7452" stroke="#33110a" stroke-width="0.8"/>
<circle cx="334.10" cy="493.10" r="1.38" fill="#ea7452" stroke="#33110a" stroke-width="0.8"/>
<circle cx="334.10" cy="501.50" r="1.38" fill="#ea7452" stroke="#33110a" stroke-width="0.8"/>
<circle cx="332.80" cy="506.30" r="1.38" fill="#ea7452" stroke="#33110a" stroke-width="0.95"/>
<circle cx="334.10" cy="506.30" r="1.38" fill="#ea7452" stroke="#33110a" stroke-width="0.95"/>
<circle cx="335.40" cy="506.30" r="1.38" fill="#ea7452" stroke="#33110a" stroke-width="0.95"/>
<line x1="328.80" y1="467.00" x2="339.40" y2="467.00" stroke="#000" stroke-width="2.0"/>
<rect x="347.85" y="452.40" width="8.70" height="41.50" fill="#f9c9c2" stroke="#6e6e6e" stroke-width="0.8"/>
<circle cx="339.85" cy="506.30" r="1.38" fill="#6c85c8" stroke="#181e38" stroke-width="0.95"/>
<circle cx="341.15" cy="506.30" r="1.38" fill="#6c85c8" stroke="#181e38" stroke-width="0.95"/>
<circle cx="342.45" cy="506.30" r="1.38" fill="#6c85c8" stroke="#181e38" stroke-width="0.95"/>
<circle cx="343.75" cy="506.30" r="1.38" fill="#6c85c8" stroke="#181e38" stroke-width="0.95"/>
<circle cx="345.05" cy="506.30" r="1.38" fill="#6c85c8" stroke="#181e38" stroke-width="0.95"/>
<circle cx="346.35" cy="506.30" r="1.38" fill="#6c85c8" stroke="#181e38" stroke-width="0.95"/>
<circle cx="352.20" cy="444.80" r="1.38" fill="#ea7452" stroke="#33110a" stroke-width="0.8"/>
<circle cx="350.10" cy="447.10" r="1.38" fill="#ea7452" stroke="#33110a" stroke-width="0.8"/>
<circle cx="352.20" cy="450.00" r="1.38" fill="#ea7452" stroke="#33110a" stroke-width="0.8"/>
<circle cx="350.10" cy="452.40" r="1.38" fill="#ea7452" stroke="#33110a" stroke-width="0.8"/>
<circle cx="354.30" cy="452.40" r="1.38" fill="#ea7452" stroke="#33110a" stroke-width="0.8"/>
<circle cx="352.20" cy="454.10" r="1.38" fill="#ea7452" stroke="#33110a" stroke-width="0.8"/>
<circle cx="352.20" cy="460.00" r="1.38" fill="#ea7452" stroke="#33110a" stroke-width="0.8"/>
<circle cx="352.20" cy="468.20" r="1.38" fill="#ea7452" stroke="#33110a" stroke-width="0.8"/>
<circle cx="348.60" cy="468.20" r="1.38" fill="#ea7452" stroke="#33110a" stroke-width="0.8"/>
<circle cx="354.30" cy="469.90" r="1.38" fill="#ea7452" stroke="#33110a" stroke-width="0.8"/>
<circle cx="352.20" cy="472.30" r="1.38" fill="#ea7452" stroke="#33110a" stroke-width="0.8"/>
<circle cx="352.20" cy="478.10" r="1.38" fill="#ea7452" stroke="#33110a" stroke-width="0.8"/>
<circle cx="352.20" cy="490.40" r="1.38" fill="#ea7452" stroke="#33110a" stroke-width="0.8"/>
<circle cx="350.10" cy="492.70" r="1.38" fill="#ea7452" stroke="#33110a" stroke-width="0.8"/>
<circle cx="352.20" cy="495.00" r="1.38" fill="#ea7452" stroke="#33110a" stroke-width="0.8"/>
<circle cx="352.20" cy="501.50" r="1.38" fill="#ea7452" stroke="#33110a" stroke-width="0.8"/>
<circle cx="350.90" cy="506.30" r="1.38" fill="#ea7452" stroke="#33110a" stroke-width="0.95"/>
<circle cx="352.20" cy="506.30" r="1.38" fill="#ea7452" stroke="#33110a" stroke-width="0.95"/>
<circle cx="353.50" cy="506.30" r="1.38" fill="#ea7452" stroke="#33110a" stroke-width="0.95"/>
<line x1="346.95" y1="468.80" x2="357.45" y2="468.80" stroke="#000" stroke-width="2.0"/>
<rect x="378.40" y="502.50" width="8.00" height="3.90" fill="#f9c9c2" stroke="#6e6e6e" stroke-width="0.8"/>
<circle cx="371.25" cy="506.30" r="1.38" fill="#6c85c8" stroke="#181e38" stroke-width="0.95"/>
<circle cx="372.55" cy="506.30" r="1.38" fill="#6c85c8" stroke="#181e38" stroke-width="0.95"/>
<circle cx="373.85" cy="506.30" r="1.38" fill="#6c85c8" stroke="#181e38" stroke-width="0.95"/>
<circle cx="375.15" cy="506.30" r="1.38" fill="#6c85c8" stroke="#181e38" stroke-width="0.95"/>
<circle cx="382.40" cy="501.40" r="1.38" fill="#ea7452" stroke="#33110a" stroke-width="0.8"/>
<circle cx="381.10" cy="506.30" r="1.38" fill="#ea7452" stroke="#33110a" stroke-width="0.95"/>
<circle cx="382.40" cy="506.30" r="1.38" fill="#ea7452" stroke="#33110a" stroke-width="0.95"/>
<circle cx="383.70" cy="506.30" r="1.38" fill="#ea7452" stroke="#33110a" stroke-width="0.95"/>
<line x1="377.50" y1="504.50" x2="387.30" y2="504.50" stroke="#000" stroke-width="1.5"/>
<rect x="391.90" y="501.40" width="8.00" height="5.00" fill="#c7d5f0" stroke="#6e6e6e" stroke-width="0.8"/>
<rect x="400.70" y="490.20" width="8.80" height="16.20" fill="#f9c9c2" stroke="#6e6e6e" stroke-width="0.8"/>
<circle cx="395.90" cy="471.10" r="1.38" fill="#6c85c8" stroke="#181e38" stroke-width="0.8"/>
<circle cx="395.90" cy="487.30" r="1.38" fill="#6c85c8" stroke="#181e38" stroke-width="0.8"/>
<circle cx="395.90" cy="500.40" r="1.38" fill="#6c85c8" stroke="#181e38" stroke-width="0.8"/>
<circle cx="392.65" cy="506.30" r="1.38" fill="#6c85c8" stroke="#181e38" stroke-width="0.95"/>
<circle cx="393.95" cy="506.30" r="1.38" fill="#6c85c8" stroke="#181e38" stroke-width="0.95"/>
<circle cx="395.25" cy="506.30" r="1.38" fill="#6c85c8" stroke="#181e38" stroke-width="0.95"/>
<circle cx="396.55" cy="506.30" r="1.38" fill="#6c85c8" stroke="#181e38" stroke-width="0.95"/>
<circle cx="397.85" cy="506.30" r="1.38" fill="#6c85c8" stroke="#181e38" stroke-width="0.95"/>
<circle cx="399.15" cy="506.30" r="1.38" fill="#6c85c8" stroke="#181e38" stroke-width="0.95"/>
<circle cx="405.10" cy="464.60" r="1.38" fill="#ea7452" stroke="#33110a" stroke-width="0.8"/>
<circle cx="405.10" cy="470.70" r="1.38" fill="#ea7452" stroke="#33110a" stroke-width="0.8"/>
<circle cx="405.10" cy="482.30" r="1.38" fill="#ea7452" stroke="#33110a" stroke-width="0.8"/>
<circle cx="405.10" cy="488.20" r="1.38" fill="#ea7452" stroke="#33110a" stroke-width="0.8"/>
<circle cx="401.50" cy="489.00" r="1.38" fill="#ea7452" stroke="#33110a" stroke-width="0.8"/>
<circle cx="408.70" cy="489.00" r="1.38" fill="#ea7452" stroke="#33110a" stroke-width="0.8"/>
<circle cx="405.68" cy="490.20" r="1.38" fill="#ea7452" stroke="#33110a" stroke-width="0.8"/>
<circle cx="403.00" cy="492.20" r="1.38" fill="#ea7452" stroke="#33110a" stroke-width="0.8"/>
<circle cx="405.10" cy="494.10" r="1.38" fill="#ea7452" stroke="#33110a" stroke-width="0.8"/>
<circle cx="401.50" cy="495.00" r="1.38" fill="#ea7452" stroke="#33110a" stroke-width="0.8"/>
<circle cx="408.70" cy="495.00" r="1.38" fill="#ea7452" stroke="#33110a" stroke-width="0.8"/>
<circle cx="408.10" cy="496.10" r="1.38" fill="#ea7452" stroke="#33110a" stroke-width="0.8"/>
<circle cx="405.10" cy="498.10" r="1.38" fill="#ea7452" stroke="#33110a" stroke-width="0.8"/>
<circle cx="401.50" cy="499.00" r="1.38" fill="#ea7452" stroke="#33110a" stroke-width="0.8"/>
<circle cx="408.70" cy="499.00" r="1.38" fill="#ea7452" stroke="#33110a" stroke-width="0.8"/>
<circle cx="403.61" cy="500.00" r="1.38" fill="#ea7452" stroke="#33110a" stroke-width="0.8"/>
<circle cx="403.15" cy="506.30" r="1.38" fill="#ea7452" stroke="#33110a" stroke-width="0.95"/>
<circle cx="404.45" cy="506.30" r="1.38" fill="#ea7452" stroke="#33110a" stroke-width="0.95"/>
<circle cx="405.75" cy="506.30" r="1.38" fill="#ea7452" stroke="#33110a" stroke-width="0.95"/>
<circle cx="407.05" cy="506.30" r="1.38" fill="#ea7452" stroke="#33110a" stroke-width="0.95"/>
<line x1="399.80" y1="500.00" x2="410.40" y2="500.00" stroke="#000" stroke-width="2.0"/>
<rect x="414.75" y="487.60" width="7.70" height="18.80" fill="#c7d5f0" stroke="#6e6e6e" stroke-width="0.8"/>
<rect x="423.15" y="486.20" width="8.50" height="20.20" fill="#f9c9c2" stroke="#6e6e6e" stroke-width="0.8"/>
<circle cx="418.60" cy="474.40" r="1.38" fill="#6c85c8" stroke="#181e38" stroke-width="0.8"/>
<circle cx="418.60" cy="479.00" r="1.38" fill="#6c85c8" stroke="#181e38" stroke-width="0.8"/>
<circle cx="418.60" cy="485.60" r="1.38" fill="#6c85c8" stroke="#181e38" stroke-width="0.8"/>
<circle cx="418.60" cy="488.90" r="1.38" fill="#6c85c8" stroke="#181e38" stroke-width="0.8"/>
<circle cx="418.60" cy="494.80" r="1.38" fill="#6c85c8" stroke="#181e38" stroke-width="0.8"/>
<circle cx="418.60" cy="498.70" r="1.38" fill="#6c85c8" stroke="#181e38" stroke-width="0.8"/>
<circle cx="415.35" cy="506.30" r="1.38" fill="#6c85c8" stroke="#181e38" stroke-width="0.95"/>
<circle cx="416.65" cy="506.30" r="1.38" fill="#6c85c8" stroke="#181e38" stroke-width="0.95"/>
<circle cx="417.95" cy="506.30" r="1.38" fill="#6c85c8" stroke="#181e38" stroke-width="0.95"/>
<circle cx="419.25" cy="506.30" r="1.38" fill="#6c85c8" stroke="#181e38" stroke-width="0.95"/>
<circle cx="420.55" cy="506.30" r="1.38" fill="#6c85c8" stroke="#181e38" stroke-width="0.95"/>
<circle cx="421.85" cy="506.30" r="1.38" fill="#6c85c8" stroke="#181e38" stroke-width="0.95"/>
<circle cx="427.40" cy="469.20" r="1.38" fill="#ea7452" stroke="#33110a" stroke-width="0.8"/>
<circle cx="427.40" cy="472.50" r="1.38" fill="#ea7452" stroke="#33110a" stroke-width="0.8"/>
<circle cx="423.80" cy="472.50" r="1.38" fill="#ea7452" stroke="#33110a" stroke-width="0.8"/>
<circle cx="427.40" cy="475.10" r="1.38" fill="#ea7452" stroke="#33110a" stroke-width="0.8"/>
<circle cx="427.40" cy="484.30" r="1.38" fill="#ea7452" stroke="#33110a" stroke-width="0.8"/>
<circle cx="427.40" cy="488.20" r="1.38" fill="#ea7452" stroke="#33110a" stroke-width="0.8"/>
<circle cx="427.40" cy="491.50" r="1.38" fill="#ea7452" stroke="#33110a" stroke-width="0.8"/>
<circle cx="423.80" cy="491.50" r="1.38" fill="#ea7452" stroke="#33110a" stroke-width="0.8"/>
<circle cx="429.50" cy="493.50" r="1.38" fill="#ea7452" stroke="#33110a" stroke-width="0.8"/>
<circle cx="427.40" cy="496.00" r="1.38" fill="#ea7452" stroke="#33110a" stroke-width="0.8"/>
<circle cx="423.80" cy="496.00" r="1.38" fill="#ea7452" stroke="#33110a" stroke-width="0.8"/>
<circle cx="427.40" cy="498.70" r="1.38" fill="#ea7452" stroke="#33110a" stroke-width="0.8"/>
<circle cx="423.80" cy="499.50" r="1.38" fill="#ea7452" stroke="#33110a" stroke-width="0.8"/>
<circle cx="431.00" cy="499.50" r="1.38" fill="#ea7452" stroke="#33110a" stroke-width="0.8"/>
<circle cx="428.96" cy="500.70" r="1.38" fill="#ea7452" stroke="#33110a" stroke-width="0.8"/>
<circle cx="424.15" cy="506.30" r="1.38" fill="#ea7452" stroke="#33110a" stroke-width="0.95"/>
<circle cx="425.45" cy="506.30" r="1.38" fill="#ea7452" stroke="#33110a" stroke-width="0.95"/>
<circle cx="426.75" cy="506.30" r="1.38" fill="#ea7452" stroke="#33110a" stroke-width="0.95"/>
<circle cx="428.05" cy="506.30" r="1.38" fill="#ea7452" stroke="#33110a" stroke-width="0.95"/>
<circle cx="429.35" cy="506.30" r="1.38" fill="#ea7452" stroke="#33110a" stroke-width="0.95"/>
<circle cx="430.65" cy="506.30" r="1.38" fill="#ea7452" stroke="#33110a" stroke-width="0.95"/>
<line x1="422.25" y1="495.40" x2="432.55" y2="495.40" stroke="#000" stroke-width="2.0"/>
<rect x="436.85" y="488.20" width="8.10" height="18.20" fill="#c7d5f0" stroke="#6e6e6e" stroke-width="0.8"/>
<rect x="445.85" y="472.50" width="8.50" height="33.90" fill="#f9c9c2" stroke="#6e6e6e" stroke-width="0.8"/>
<circle cx="440.90" cy="474.40" r="1.38" fill="#6c85c8" stroke="#181e38" stroke-width="0.8"/>
<circle cx="440.90" cy="483.60" r="1.38" fill="#6c85c8" stroke="#181e38" stroke-width="0.8"/>
<circle cx="440.90" cy="488.20" r="1.38" fill="#6c85c8" stroke="#181e38" stroke-width="0.8"/>
<circle cx="440.90" cy="492.80" r="1.38" fill="#6c85c8" stroke="#181e38" stroke-width="0.8"/>
<circle cx="440.90" cy="497.40" r="1.38" fill="#6c85c8" stroke="#181e38" stroke-width="0.8"/>
<circle cx="440.90" cy="500.50" r="1.38" fill="#6c85c8" stroke="#181e38" stroke-width="0.8"/>
<circle cx="437.65" cy="506.30" r="1.38" fill="#6c85c8" stroke="#181e38" stroke-width="0.95"/>
<circle cx="438.95" cy="506.30" r="1.38" fill="#6c85c8" stroke="#181e38" stroke-width="0.95"/>
<circle cx="440.25" cy="506.30" r="1.38" fill="#6c85c8" stroke="#181e38" stroke-width="0.95"/>
<circle cx="441.55" cy="506.30" r="1.38" fill="#6c85c8" stroke="#181e38" stroke-width="0.95"/>
<circle cx="442.85" cy="506.30" r="1.38" fill="#6c85c8" stroke="#181e38" stroke-width="0.95"/>
<circle cx="444.15" cy="506.30" r="1.38" fill="#6c85c8" stroke="#181e38" stroke-width="0.95"/>
<circle cx="450.10" cy="443.90" r="1.38" fill="#ea7452" stroke="#33110a" stroke-width="0.8"/>
<circle cx="450.10" cy="467.90" r="1.38" fill="#ea7452" stroke="#33110a" stroke-width="0.8"/>
<circle cx="448.00" cy="469.80" r="1.38" fill="#ea7452" stroke="#33110a" stroke-width="0.8"/>
<circle cx="450.10" cy="479.00" r="1.38" fill="#ea7452" stroke="#33110a" stroke-width="0.8"/>
<circle cx="448.00" cy="481.00" r="1.38" fill="#ea7452" stroke="#33110a" stroke-width="0.8"/>
<circle cx="450.10" cy="483.00" r="1.38" fill="#ea7452" stroke="#33110a" stroke-width="0.8"/>
<circle cx="450.10" cy="485.60" r="1.38" fill="#ea7452" stroke="#33110a" stroke-width="0.8"/>
<circle cx="448.00" cy="487.60" r="1.38" fill="#ea7452" stroke="#33110a" stroke-width="0.8"/>
<circle cx="450.10" cy="489.50" r="1.38" fill="#ea7452" stroke="#33110a" stroke-width="0.8"/>
<circle cx="446.50" cy="490.50" r="1.38" fill="#ea7452" stroke="#33110a" stroke-width="0.8"/>
<circle cx="453.70" cy="490.50" r="1.38" fill="#ea7452" stroke="#33110a" stroke-width="0.8"/>
<circle cx="450.10" cy="492.80" r="1.38" fill="#ea7452" stroke="#33110a" stroke-width="0.8"/>
<circle cx="448.00" cy="495.00" r="1.38" fill="#ea7452" stroke="#33110a" stroke-width="0.8"/>
<circle cx="452.20" cy="495.00" r="1.38" fill="#ea7452" stroke="#33110a" stroke-width="0.8"/>
<circle cx="450.10" cy="497.40" r="1.38" fill="#ea7452" stroke="#33110a" stroke-width="0.8"/>
<circle cx="446.50" cy="498.70" r="1.38" fill="#ea7452" stroke="#33110a" stroke-width="0.8"/>
<circle cx="450.10" cy="500.00" r="1.38" fill="#ea7452" stroke="#33110a" stroke-width="0.8"/>
<circle cx="453.70" cy="500.00" r="1.38" fill="#ea7452" stroke="#33110a" stroke-width="0.8"/>
<circle cx="448.15" cy="506.30" r="1.38" fill="#ea7452" stroke="#33110a" stroke-width="0.95"/>
<circle cx="449.45" cy="506.30" r="1.38" fill="#ea7452" stroke="#33110a" stroke-width="0.95"/>
<circle cx="450.75" cy="506.30" r="1.38" fill="#ea7452" stroke="#33110a" stroke-width="0.95"/>
<circle cx="452.05" cy="506.30" r="1.38" fill="#ea7452" stroke="#33110a" stroke-width="0.95"/>
<line x1="444.95" y1="487.60" x2="455.25" y2="487.60" stroke="#000" stroke-width="2.0"/>
<rect x="497.00" y="452.20" width="10.00" height="54.00" fill="#f9c9c2" stroke="#6e6e6e" stroke-width="0.8"/>
<circle cx="488.15" cy="506.30" r="1.38" fill="#6c85c8" stroke="#181e38" stroke-width="0.95"/>
<circle cx="489.45" cy="506.30" r="1.38" fill="#6c85c8" stroke="#181e38" stroke-width="0.95"/>
<circle cx="490.75" cy="506.30" r="1.38" fill="#6c85c8" stroke="#181e38" stroke-width="0.95"/>
<circle cx="492.05" cy="506.30" r="1.38" fill="#6c85c8" stroke="#181e38" stroke-width="0.95"/>
<circle cx="493.35" cy="506.30" r="1.38" fill="#6c85c8" stroke="#181e38" stroke-width="0.95"/>
<circle cx="494.65" cy="506.30" r="1.38" fill="#6c85c8" stroke="#181e38" stroke-width="0.95"/>
<circle cx="502.00" cy="429.90" r="1.38" fill="#ea7452" stroke="#33110a" stroke-width="0.8"/>
<circle cx="502.00" cy="446.90" r="1.38" fill="#ea7452" stroke="#33110a" stroke-width="0.8"/>
<circle cx="499.90" cy="448.90" r="1.38" fill="#ea7452" stroke="#33110a" stroke-width="0.8"/>
<circle cx="502.00" cy="450.90" r="1.38" fill="#ea7452" stroke="#33110a" stroke-width="0.8"/>
<circle cx="502.00" cy="453.50" r="1.38" fill="#ea7452" stroke="#33110a" stroke-width="0.8"/>
<circle cx="498.40" cy="453.50" r="1.38" fill="#ea7452" stroke="#33110a" stroke-width="0.8"/>
<circle cx="504.10" cy="455.50" r="1.38" fill="#ea7452" stroke="#33110a" stroke-width="0.8"/>
<circle cx="502.00" cy="460.70" r="1.38" fill="#ea7452" stroke="#33110a" stroke-width="0.8"/>
<circle cx="498.40" cy="462.00" r="1.38" fill="#ea7452" stroke="#33110a" stroke-width="0.8"/>
<circle cx="502.00" cy="463.40" r="1.38" fill="#ea7452" stroke="#33110a" stroke-width="0.8"/>
<circle cx="502.00" cy="469.90" r="1.38" fill="#ea7452" stroke="#33110a" stroke-width="0.8"/>
<circle cx="502.00" cy="473.90" r="1.38" fill="#ea7452" stroke="#33110a" stroke-width="0.8"/>
<circle cx="502.00" cy="479.80" r="1.38" fill="#ea7452" stroke="#33110a" stroke-width="0.8"/>
<circle cx="502.00" cy="484.40" r="1.38" fill="#ea7452" stroke="#33110a" stroke-width="0.8"/>
<circle cx="502.00" cy="487.70" r="1.38" fill="#ea7452" stroke="#33110a" stroke-width="0.8"/>
<circle cx="502.00" cy="493.60" r="1.38" fill="#ea7452" stroke="#33110a" stroke-width="0.8"/>
<circle cx="498.75" cy="506.30" r="1.38" fill="#ea7452" stroke="#33110a" stroke-width="0.95"/>
<circle cx="500.05" cy="506.30" r="1.38" fill="#ea7452" stroke="#33110a" stroke-width="0.95"/>
<circle cx="501.35" cy="506.30" r="1.38" fill="#ea7452" stroke="#33110a" stroke-width="0.95"/>
<circle cx="502.65" cy="506.30" r="1.38" fill="#ea7452" stroke="#33110a" stroke-width="0.95"/>
<circle cx="503.95" cy="506.30" r="1.38" fill="#ea7452" stroke="#33110a" stroke-width="0.95"/>
<circle cx="505.25" cy="506.30" r="1.38" fill="#ea7452" stroke="#33110a" stroke-width="0.95"/>
<line x1="496.10" y1="480.10" x2="507.90" y2="480.10" stroke="#000" stroke-width="2.0"/>
<rect x="520.90" y="479.10" width="9.80" height="19.70" fill="#c7d5f0" stroke="#6e6e6e" stroke-width="0.8"/>
<rect x="531.60" y="458.80" width="10.00" height="30.20" fill="#f9c9c2" stroke="#6e6e6e" stroke-width="0.8"/>
<circle cx="525.80" cy="449.60" r="1.38" fill="#6c85c8" stroke="#181e38" stroke-width="0.8"/>
<circle cx="525.80" cy="464.90" r="1.38" fill="#6c85c8" stroke="#181e38" stroke-width="0.8"/>
<circle cx="525.80" cy="479.10" r="1.38" fill="#6c85c8" stroke="#181e38" stroke-width="0.8"/>
<circle cx="522.20" cy="479.10" r="1.38" fill="#6c85c8" stroke="#181e38" stroke-width="0.8"/>
<circle cx="525.80" cy="489.00" r="1.38" fill="#6c85c8" stroke="#181e38" stroke-width="0.8"/>
<circle cx="523.70" cy="491.40" r="1.38" fill="#6c85c8" stroke="#181e38" stroke-width="0.8"/>
<circle cx="527.90" cy="491.40" r="1.38" fill="#6c85c8" stroke="#181e38" stroke-width="0.8"/>
<circle cx="525.80" cy="494.20" r="1.38" fill="#6c85c8" stroke="#181e38" stroke-width="0.8"/>
<circle cx="525.80" cy="496.90" r="1.38" fill="#6c85c8" stroke="#181e38" stroke-width="0.8"/>
<circle cx="525.80" cy="500.20" r="1.38" fill="#6c85c8" stroke="#181e38" stroke-width="0.8"/>
<circle cx="525.15" cy="506.30" r="1.38" fill="#6c85c8" stroke="#181e38" stroke-width="0.95"/>
<circle cx="526.45" cy="506.30" r="1.38" fill="#6c85c8" stroke="#181e38" stroke-width="0.95"/>
<circle cx="536.60" cy="429.90" r="1.38" fill="#ea7452" stroke="#33110a" stroke-width="0.8"/>
<circle cx="536.60" cy="449.20" r="1.38" fill="#ea7452" stroke="#33110a" stroke-width="0.8"/>
<circle cx="533.00" cy="449.20" r="1.38" fill="#ea7452" stroke="#33110a" stroke-width="0.8"/>
<circle cx="536.60" cy="452.90" r="1.38" fill="#ea7452" stroke="#33110a" stroke-width="0.8"/>
<circle cx="536.60" cy="456.80" r="1.38" fill="#ea7452" stroke="#33110a" stroke-width="0.8"/>
<circle cx="534.50" cy="458.80" r="1.38" fill="#ea7452" stroke="#33110a" stroke-width="0.8"/>
<circle cx="538.70" cy="458.80" r="1.38" fill="#ea7452" stroke="#33110a" stroke-width="0.8"/>
<circle cx="536.60" cy="460.70" r="1.38" fill="#ea7452" stroke="#33110a" stroke-width="0.8"/>
<circle cx="534.50" cy="462.70" r="1.38" fill="#ea7452" stroke="#33110a" stroke-width="0.8"/>
<circle cx="538.70" cy="462.70" r="1.38" fill="#ea7452" stroke="#33110a" stroke-width="0.8"/>
<circle cx="536.60" cy="465.30" r="1.38" fill="#ea7452" stroke="#33110a" stroke-width="0.8"/>
<circle cx="536.60" cy="469.90" r="1.38" fill="#ea7452" stroke="#33110a" stroke-width="0.8"/>
<circle cx="533.00" cy="469.90" r="1.38" fill="#ea7452" stroke="#33110a" stroke-width="0.8"/>
<circle cx="536.60" cy="472.60" r="1.38" fill="#ea7452" stroke="#33110a" stroke-width="0.8"/>
<circle cx="536.60" cy="477.80" r="1.38" fill="#ea7452" stroke="#33110a" stroke-width="0.8"/>
<circle cx="536.60" cy="485.00" r="1.38" fill="#ea7452" stroke="#33110a" stroke-width="0.8"/>
<circle cx="533.00" cy="485.00" r="1.38" fill="#ea7452" stroke="#33110a" stroke-width="0.8"/>
<circle cx="536.60" cy="488.30" r="1.38" fill="#ea7452" stroke="#33110a" stroke-width="0.8"/>
<circle cx="533.00" cy="488.30" r="1.38" fill="#ea7452" stroke="#33110a" stroke-width="0.8"/>
<circle cx="538.70" cy="490.30" r="1.38" fill="#ea7452" stroke="#33110a" stroke-width="0.8"/>
<circle cx="536.60" cy="492.90" r="1.38" fill="#ea7452" stroke="#33110a" stroke-width="0.8"/>
<circle cx="536.60" cy="500.80" r="1.38" fill="#ea7452" stroke="#33110a" stroke-width="0.8"/>
<circle cx="535.30" cy="506.30" r="1.38" fill="#ea7452" stroke="#33110a" stroke-width="0.95"/>
<circle cx="536.60" cy="506.30" r="1.38" fill="#ea7452" stroke="#33110a" stroke-width="0.95"/>
<circle cx="537.90" cy="506.30" r="1.38" fill="#ea7452" stroke="#33110a" stroke-width="0.95"/>
<line x1="520.00" y1="491.40" x2="531.60" y2="491.40" stroke="#000" stroke-width="2.0"/>
<line x1="530.70" y1="470.20" x2="542.50" y2="470.20" stroke="#000" stroke-width="2.0"/>
<rect x="548.10" y="479.10" width="9.80" height="23.70" fill="#c7d5f0" stroke="#6e6e6e" stroke-width="0.8"/>
<rect x="558.40" y="458.80" width="10.20" height="28.20" fill="#f9c9c2" stroke="#6e6e6e" stroke-width="0.8"/>
<circle cx="553.00" cy="452.20" r="1.38" fill="#6c85c8" stroke="#181e38" stroke-width="0.8"/>
<circle cx="553.00" cy="464.00" r="1.38" fill="#6c85c8" stroke="#181e38" stroke-width="0.8"/>
<circle cx="553.00" cy="479.10" r="1.38" fill="#6c85c8" stroke="#181e38" stroke-width="0.8"/>
<circle cx="549.40" cy="479.10" r="1.38" fill="#6c85c8" stroke="#181e38" stroke-width="0.8"/>
<circle cx="553.00" cy="482.40" r="1.38" fill="#6c85c8" stroke="#181e38" stroke-width="0.8"/>
<circle cx="553.00" cy="485.70" r="1.38" fill="#6c85c8" stroke="#181e38" stroke-width="0.8"/>
<circle cx="550.90" cy="487.70" r="1.38" fill="#6c85c8" stroke="#181e38" stroke-width="0.8"/>
<circle cx="553.00" cy="490.60" r="1.38" fill="#6c85c8" stroke="#181e38" stroke-width="0.8"/>
<circle cx="549.40" cy="490.60" r="1.38" fill="#6c85c8" stroke="#181e38" stroke-width="0.8"/>
<circle cx="550.90" cy="492.90" r="1.38" fill="#6c85c8" stroke="#181e38" stroke-width="0.8"/>
<circle cx="553.00" cy="496.00" r="1.38" fill="#6c85c8" stroke="#181e38" stroke-width="0.8"/>
<circle cx="553.00" cy="500.20" r="1.38" fill="#6c85c8" stroke="#181e38" stroke-width="0.8"/>
<circle cx="551.70" cy="506.30" r="1.38" fill="#6c85c8" stroke="#181e38" stroke-width="0.95"/>
<circle cx="553.00" cy="506.30" r="1.38" fill="#6c85c8" stroke="#181e38" stroke-width="0.95"/>
<circle cx="554.30" cy="506.30" r="1.38" fill="#6c85c8" stroke="#181e38" stroke-width="0.95"/>
<circle cx="563.50" cy="430.50" r="1.38" fill="#ea7452" stroke="#33110a" stroke-width="0.8"/>
<circle cx="563.50" cy="451.50" r="1.38" fill="#ea7452" stroke="#33110a" stroke-width="0.8"/>
<circle cx="559.90" cy="451.50" r="1.38" fill="#ea7452" stroke="#33110a" stroke-width="0.8"/>
<circle cx="565.60" cy="453.50" r="1.38" fill="#ea7452" stroke="#33110a" stroke-width="0.8"/>
<circle cx="561.40" cy="454.80" r="1.38" fill="#ea7452" stroke="#33110a" stroke-width="0.8"/>
<circle cx="563.50" cy="462.70" r="1.38" fill="#ea7452" stroke="#33110a" stroke-width="0.8"/>
<circle cx="559.90" cy="462.70" r="1.38" fill="#ea7452" stroke="#33110a" stroke-width="0.8"/>
<circle cx="567.10" cy="462.70" r="1.38" fill="#ea7452" stroke="#33110a" stroke-width="0.8"/>
<circle cx="563.50" cy="465.30" r="1.38" fill="#ea7452" stroke="#33110a" stroke-width="0.8"/>
<circle cx="559.90" cy="465.30" r="1.38" fill="#ea7452" stroke="#33110a" stroke-width="0.8"/>
<circle cx="561.40" cy="467.60" r="1.38" fill="#ea7452" stroke="#33110a" stroke-width="0.8"/>
<circle cx="565.60" cy="467.60" r="1.38" fill="#ea7452" stroke="#33110a" stroke-width="0.8"/>
<circle cx="564.25" cy="467.60" r="1.38" fill="#ea7452" stroke="#33110a" stroke-width="0.8"/>
<circle cx="563.50" cy="471.90" r="1.38" fill="#ea7452" stroke="#33110a" stroke-width="0.8"/>
<circle cx="563.50" cy="480.40" r="1.38" fill="#ea7452" stroke="#33110a" stroke-width="0.8"/>
<circle cx="559.90" cy="480.40" r="1.38" fill="#ea7452" stroke="#33110a" stroke-width="0.8"/>
<circle cx="563.50" cy="484.40" r="1.38" fill="#ea7452" stroke="#33110a" stroke-width="0.8"/>
<circle cx="561.40" cy="486.40" r="1.38" fill="#ea7452" stroke="#33110a" stroke-width="0.8"/>
<circle cx="563.50" cy="489.00" r="1.38" fill="#ea7452" stroke="#33110a" stroke-width="0.8"/>
<circle cx="559.90" cy="489.00" r="1.38" fill="#ea7452" stroke="#33110a" stroke-width="0.8"/>
<circle cx="563.50" cy="494.20" r="1.38" fill="#ea7452" stroke="#33110a" stroke-width="0.8"/>
<circle cx="562.20" cy="506.30" r="1.38" fill="#ea7452" stroke="#33110a" stroke-width="0.95"/>
<circle cx="563.50" cy="506.30" r="1.38" fill="#ea7452" stroke="#33110a" stroke-width="0.95"/>
<circle cx="564.80" cy="506.30" r="1.38" fill="#ea7452" stroke="#33110a" stroke-width="0.95"/>
<line x1="547.20" y1="490.60" x2="558.80" y2="490.60" stroke="#000" stroke-width="2.0"/>
<line x1="557.50" y1="467.60" x2="569.50" y2="467.60" stroke="#000" stroke-width="2.0"/>
<rect x="614.85" y="452.70" width="10.30" height="47.80" fill="#f9c9c2" stroke="#6e6e6e" stroke-width="0.8"/>
<circle cx="606.15" cy="506.30" r="1.38" fill="#6c85c8" stroke="#181e38" stroke-width="0.95"/>
<circle cx="607.45" cy="506.30" r="1.38" fill="#6c85c8" stroke="#181e38" stroke-width="0.95"/>
<circle cx="608.75" cy="506.30" r="1.38" fill="#6c85c8" stroke="#181e38" stroke-width="0.95"/>
<circle cx="610.05" cy="506.30" r="1.38" fill="#6c85c8" stroke="#181e38" stroke-width="0.95"/>
<circle cx="611.35" cy="506.30" r="1.38" fill="#6c85c8" stroke="#181e38" stroke-width="0.95"/>
<circle cx="612.65" cy="506.30" r="1.38" fill="#6c85c8" stroke="#181e38" stroke-width="0.95"/>
<circle cx="620.00" cy="441.00" r="1.38" fill="#ea7452" stroke="#33110a" stroke-width="0.8"/>
<circle cx="616.40" cy="441.00" r="1.38" fill="#ea7452" stroke="#33110a" stroke-width="0.8"/>
<circle cx="620.00" cy="444.50" r="1.38" fill="#ea7452" stroke="#33110a" stroke-width="0.8"/>
<circle cx="620.00" cy="448.00" r="1.38" fill="#ea7452" stroke="#33110a" stroke-width="0.8"/>
<circle cx="617.90" cy="449.80" r="1.38" fill="#ea7452" stroke="#33110a" stroke-width="0.8"/>
<circle cx="622.10" cy="450.90" r="1.38" fill="#ea7452" stroke="#33110a" stroke-width="0.8"/>
<circle cx="620.00" cy="453.90" r="1.38" fill="#ea7452" stroke="#33110a" stroke-width="0.8"/>
<circle cx="616.40" cy="453.90" r="1.38" fill="#ea7452" stroke="#33110a" stroke-width="0.8"/>
<circle cx="620.00" cy="457.40" r="1.38" fill="#ea7452" stroke="#33110a" stroke-width="0.8"/>
<circle cx="616.40" cy="457.40" r="1.38" fill="#ea7452" stroke="#33110a" stroke-width="0.8"/>
<circle cx="620.00" cy="467.30" r="1.38" fill="#ea7452" stroke="#33110a" stroke-width="0.8"/>
<circle cx="616.40" cy="467.30" r="1.38" fill="#ea7452" stroke="#33110a" stroke-width="0.8"/>
<circle cx="623.60" cy="467.30" r="1.38" fill="#ea7452" stroke="#33110a" stroke-width="0.8"/>
<circle cx="620.00" cy="471.90" r="1.38" fill="#ea7452" stroke="#33110a" stroke-width="0.8"/>
<circle cx="620.00" cy="483.00" r="1.38" fill="#ea7452" stroke="#33110a" stroke-width="0.8"/>
<circle cx="616.40" cy="483.00" r="1.38" fill="#ea7452" stroke="#33110a" stroke-width="0.8"/>
<circle cx="623.60" cy="483.00" r="1.38" fill="#ea7452" stroke="#33110a" stroke-width="0.8"/>
<circle cx="620.64" cy="484.80" r="1.38" fill="#ea7452" stroke="#33110a" stroke-width="0.8"/>
<circle cx="620.00" cy="495.30" r="1.38" fill="#ea7452" stroke="#33110a" stroke-width="0.8"/>
<circle cx="620.00" cy="498.80" r="1.38" fill="#ea7452" stroke="#33110a" stroke-width="0.8"/>
<circle cx="616.40" cy="498.80" r="1.38" fill="#ea7452" stroke="#33110a" stroke-width="0.8"/>
<circle cx="623.60" cy="498.80" r="1.38" fill="#ea7452" stroke="#33110a" stroke-width="0.8"/>
<circle cx="619.65" cy="500.50" r="1.38" fill="#ea7452" stroke="#33110a" stroke-width="0.8"/>
<circle cx="618.70" cy="506.30" r="1.38" fill="#ea7452" stroke="#33110a" stroke-width="0.95"/>
<circle cx="620.00" cy="506.30" r="1.38" fill="#ea7452" stroke="#33110a" stroke-width="0.95"/>
<circle cx="621.30" cy="506.30" r="1.38" fill="#ea7452" stroke="#33110a" stroke-width="0.95"/>
<line x1="613.95" y1="467.90" x2="626.05" y2="467.90" stroke="#000" stroke-width="2.0"/>
<rect x="642.10" y="446.30" width="10.40" height="25.10" fill="#f9c9c2" stroke="#6e6e6e" stroke-width="0.8"/>
<circle cx="633.45" cy="506.30" r="1.38" fill="#6c85c8" stroke="#181e38" stroke-width="0.95"/>
<circle cx="634.75" cy="506.30" r="1.38" fill="#6c85c8" stroke="#181e38" stroke-width="0.95"/>
<circle cx="636.05" cy="506.30" r="1.38" fill="#6c85c8" stroke="#181e38" stroke-width="0.95"/>
<circle cx="637.35" cy="506.30" r="1.38" fill="#6c85c8" stroke="#181e38" stroke-width="0.95"/>
<circle cx="638.65" cy="506.30" r="1.38" fill="#6c85c8" stroke="#181e38" stroke-width="0.95"/>
<circle cx="639.95" cy="506.30" r="1.38" fill="#6c85c8" stroke="#181e38" stroke-width="0.95"/>
<circle cx="647.30" cy="425.80" r="1.38" fill="#ea7452" stroke="#33110a" stroke-width="0.8"/>
<circle cx="647.30" cy="439.80" r="1.38" fill="#ea7452" stroke="#33110a" stroke-width="0.8"/>
<circle cx="643.70" cy="439.80" r="1.38" fill="#ea7452" stroke="#33110a" stroke-width="0.8"/>
<circle cx="650.90" cy="441.00" r="1.38" fill="#ea7452" stroke="#33110a" stroke-width="0.8"/>
<circle cx="647.30" cy="444.50" r="1.38" fill="#ea7452" stroke="#33110a" stroke-width="0.8"/>
<circle cx="645.20" cy="446.80" r="1.38" fill="#ea7452" stroke="#33110a" stroke-width="0.8"/>
<circle cx="649.40" cy="446.80" r="1.38" fill="#ea7452" stroke="#33110a" stroke-width="0.8"/>
<circle cx="650.02" cy="446.80" r="1.38" fill="#ea7452" stroke="#33110a" stroke-width="0.8"/>
<circle cx="647.30" cy="449.20" r="1.38" fill="#ea7452" stroke="#33110a" stroke-width="0.8"/>
<circle cx="643.70" cy="449.20" r="1.38" fill="#ea7452" stroke="#33110a" stroke-width="0.8"/>
<circle cx="649.40" cy="451.00" r="1.38" fill="#ea7452" stroke="#33110a" stroke-width="0.8"/>
<circle cx="650.86" cy="451.00" r="1.38" fill="#ea7452" stroke="#33110a" stroke-width="0.8"/>
<circle cx="647.30" cy="454.20" r="1.38" fill="#ea7452" stroke="#33110a" stroke-width="0.8"/>
<circle cx="647.30" cy="458.50" r="1.38" fill="#ea7452" stroke="#33110a" stroke-width="0.8"/>
<circle cx="645.20" cy="460.90" r="1.38" fill="#ea7452" stroke="#33110a" stroke-width="0.8"/>
<circle cx="647.30" cy="463.00" r="1.38" fill="#ea7452" stroke="#33110a" stroke-width="0.8"/>
<circle cx="650.90" cy="463.00" r="1.38" fill="#ea7452" stroke="#33110a" stroke-width="0.8"/>
<circle cx="647.30" cy="467.90" r="1.38" fill="#ea7452" stroke="#33110a" stroke-width="0.8"/>
<circle cx="643.70" cy="467.90" r="1.38" fill="#ea7452" stroke="#33110a" stroke-width="0.8"/>
<circle cx="649.40" cy="469.60" r="1.38" fill="#ea7452" stroke="#33110a" stroke-width="0.8"/>
<circle cx="647.30" cy="474.90" r="1.38" fill="#ea7452" stroke="#33110a" stroke-width="0.8"/>
<circle cx="643.70" cy="476.00" r="1.38" fill="#ea7452" stroke="#33110a" stroke-width="0.8"/>
<circle cx="647.30" cy="488.90" r="1.38" fill="#ea7452" stroke="#33110a" stroke-width="0.8"/>
<circle cx="646.65" cy="506.30" r="1.38" fill="#ea7452" stroke="#33110a" stroke-width="0.95"/>
<circle cx="647.95" cy="506.30" r="1.38" fill="#ea7452" stroke="#33110a" stroke-width="0.95"/>
<line x1="641.20" y1="454.20" x2="653.40" y2="454.20" stroke="#000" stroke-width="2.0"/>
<rect x="669.15" y="464.10" width="10.70" height="32.40" fill="#f9c9c2" stroke="#6e6e6e" stroke-width="0.8"/>
<circle cx="660.35" cy="506.30" r="1.38" fill="#6c85c8" stroke="#181e38" stroke-width="0.95"/>
<circle cx="661.65" cy="506.30" r="1.38" fill="#6c85c8" stroke="#181e38" stroke-width="0.95"/>
<circle cx="662.95" cy="506.30" r="1.38" fill="#6c85c8" stroke="#181e38" stroke-width="0.95"/>
<circle cx="664.25" cy="506.30" r="1.38" fill="#6c85c8" stroke="#181e38" stroke-width="0.95"/>
<circle cx="665.55" cy="506.30" r="1.38" fill="#6c85c8" stroke="#181e38" stroke-width="0.95"/>
<circle cx="666.85" cy="506.30" r="1.38" fill="#6c85c8" stroke="#181e38" stroke-width="0.95"/>
<circle cx="674.50" cy="445.10" r="1.38" fill="#ea7452" stroke="#33110a" stroke-width="0.8"/>
<circle cx="672.40" cy="447.40" r="1.38" fill="#ea7452" stroke="#33110a" stroke-width="0.8"/>
<circle cx="674.50" cy="450.30" r="1.38" fill="#ea7452" stroke="#33110a" stroke-width="0.8"/>
<circle cx="674.50" cy="454.20" r="1.38" fill="#ea7452" stroke="#33110a" stroke-width="0.8"/>
<circle cx="674.50" cy="458.50" r="1.38" fill="#ea7452" stroke="#33110a" stroke-width="0.8"/>
<circle cx="672.40" cy="460.90" r="1.38" fill="#ea7452" stroke="#33110a" stroke-width="0.8"/>
<circle cx="674.50" cy="466.70" r="1.38" fill="#ea7452" stroke="#33110a" stroke-width="0.8"/>
<circle cx="674.50" cy="469.60" r="1.38" fill="#ea7452" stroke="#33110a" stroke-width="0.8"/>
<circle cx="672.40" cy="471.40" r="1.38" fill="#ea7452" stroke="#33110a" stroke-width="0.8"/>
<circle cx="676.60" cy="471.40" r="1.38" fill="#ea7452" stroke="#33110a" stroke-width="0.8"/>
<circle cx="674.50" cy="473.70" r="1.38" fill="#ea7452" stroke="#33110a" stroke-width="0.8"/>
<circle cx="674.50" cy="476.60" r="1.38" fill="#ea7452" stroke="#33110a" stroke-width="0.8"/>
<circle cx="670.90" cy="476.60" r="1.38" fill="#ea7452" stroke="#33110a" stroke-width="0.8"/>
<circle cx="674.50" cy="480.70" r="1.38" fill="#ea7452" stroke="#33110a" stroke-width="0.8"/>
<circle cx="674.50" cy="487.10" r="1.38" fill="#ea7452" stroke="#33110a" stroke-width="0.8"/>
<circle cx="672.40" cy="489.50" r="1.38" fill="#ea7452" stroke="#33110a" stroke-width="0.8"/>
<circle cx="674.50" cy="491.20" r="1.38" fill="#ea7452" stroke="#33110a" stroke-width="0.8"/>
<circle cx="674.50" cy="495.30" r="1.38" fill="#ea7452" stroke="#33110a" stroke-width="0.8"/>
<circle cx="670.90" cy="495.30" r="1.38" fill="#ea7452" stroke="#33110a" stroke-width="0.8"/>
<circle cx="676.60" cy="497.00" r="1.38" fill="#ea7452" stroke="#33110a" stroke-width="0.8"/>
<circle cx="671.90" cy="506.30" r="1.38" fill="#ea7452" stroke="#33110a" stroke-width="0.95"/>
<circle cx="673.20" cy="506.30" r="1.38" fill="#ea7452" stroke="#33110a" stroke-width="0.95"/>
<circle cx="674.50" cy="506.30" r="1.38" fill="#ea7452" stroke="#33110a" stroke-width="0.95"/>
<circle cx="675.80" cy="506.30" r="1.38" fill="#ea7452" stroke="#33110a" stroke-width="0.95"/>
<circle cx="677.10" cy="506.30" r="1.38" fill="#ea7452" stroke="#33110a" stroke-width="0.95"/>
<line x1="668.25" y1="476.60" x2="680.75" y2="476.60" stroke="#000" stroke-width="2.0"/>
<polyline points="526.10,441.70 526.10,383.30 536.40,383.30 536.40,418.40" fill="none" stroke="#8e8e8e" stroke-width="0.9"/>
<text x="531.25" y="386.10" font-size="13" font-weight="bold" text-anchor="middle" fill="#111">*</text>
<polyline points="552.70,441.70 552.70,383.30 563.60,383.30 563.60,418.40" fill="none" stroke="#8e8e8e" stroke-width="0.9"/>
<text x="558.15" y="386.10" font-size="13" font-weight="bold" text-anchor="middle" fill="#111">*</text>
<text x="-1.20" y="318.80" font-size="17.5" font-weight="bold" text-anchor="start" fill="#000">b</text>
<text transform="translate(47.20,324.88) scale(0.9524,1)" font-size="7.46" font-weight="bold" text-anchor="end" fill="#111">Mean titer</text>
<line x1="50.40" y1="314.30" x2="50.40" y2="332.20" stroke="#777" stroke-width="0.9"/>
<text transform="translate(70.70,320.63) scale(0.8696,1)" font-size="8.97" font-weight="bold" text-anchor="end" fill="#3d3fa5">Pre</text>
<text transform="translate(70.70,333.63) scale(0.8696,1)" font-size="8.97" font-weight="bold" text-anchor="end" fill="#e8202e">End</text>
<text transform="translate(88.90,320.50) scale(0.8696,1)" font-size="8.62" text-anchor="middle" fill="#3d3fa5">&lt;10</text>
<text transform="translate(115.10,320.50) scale(0.8696,1)" font-size="8.62" text-anchor="middle" fill="#3d3fa5">&lt;10</text>
<text transform="translate(138.00,320.50) scale(0.8696,1)" font-size="8.62" text-anchor="middle" fill="#3d3fa5">&lt;10</text>
<text transform="translate(168.10,320.50) scale(0.8696,1)" font-size="8.62" text-anchor="middle" fill="#3d3fa5">37</text>
<text transform="translate(192.30,320.50) scale(0.8696,1)" font-size="8.62" text-anchor="middle" fill="#3d3fa5">54</text>
<text transform="translate(217.90,320.50) scale(0.8696,1)" font-size="8.62" text-anchor="middle" fill="#3d3fa5">36</text>
<text transform="translate(240.50,320.50) scale(0.8696,1)" font-size="8.62" text-anchor="middle" fill="#3d3fa5">21</text>
<text transform="translate(285.70,320.50) scale(0.8696,1)" font-size="8.62" text-anchor="middle" fill="#3d3fa5">&lt;10</text>
<text transform="translate(308.20,320.50) scale(0.8696,1)" font-size="8.62" text-anchor="middle" fill="#3d3fa5">&lt;10</text>
<text transform="translate(329.00,320.50) scale(0.8696,1)" font-size="8.62" text-anchor="middle" fill="#3d3fa5">&lt;10</text>
<text transform="translate(348.30,320.50) scale(0.8696,1)" font-size="8.62" text-anchor="middle" fill="#3d3fa5">&lt;10</text>
<text transform="translate(376.20,320.50) scale(0.8696,1)" font-size="8.62" text-anchor="middle" fill="#3d3fa5">&lt;10</text>
<text transform="translate(398.70,320.50) scale(0.8696,1)" font-size="8.62" text-anchor="middle" fill="#3d3fa5">14</text>
<text transform="translate(420.60,320.50) scale(0.8696,1)" font-size="8.62" text-anchor="middle" fill="#3d3fa5">18</text>
<text transform="translate(442.40,320.50) scale(0.8696,1)" font-size="8.62" text-anchor="middle" fill="#3d3fa5">17</text>
<text transform="translate(495.60,320.50) scale(0.8696,1)" font-size="8.62" text-anchor="middle" fill="#3d3fa5">&lt;10</text>
<text transform="translate(531.60,320.50) scale(0.8696,1)" font-size="8.62" text-anchor="middle" fill="#3d3fa5">43</text>
<text transform="translate(557.60,320.50) scale(0.8696,1)" font-size="8.62" text-anchor="middle" fill="#3d3fa5">42</text>
<text transform="translate(613.40,320.50) scale(0.8696,1)" font-size="8.62" text-anchor="middle" fill="#3d3fa5">&lt;10</text>
<text transform="translate(643.00,320.50) scale(0.8696,1)" font-size="8.62" text-anchor="middle" fill="#3d3fa5">&lt;10</text>
<text transform="translate(669.60,320.50) scale(0.8696,1)" font-size="8.62" text-anchor="middle" fill="#3d3fa5">&lt;10</text>
<text transform="translate(88.90,333.50) scale(0.8696,1)" font-size="8.62" text-anchor="middle" fill="#e8202e">684</text>
<text transform="translate(115.10,333.50) scale(0.8696,1)" font-size="8.62" text-anchor="middle" fill="#e8202e">333</text>
<text transform="translate(138.00,333.50) scale(0.8696,1)" font-size="8.62" text-anchor="middle" fill="#e8202e">329</text>
<text transform="translate(168.10,333.50) scale(0.8696,1)" font-size="8.62" text-anchor="middle" fill="#e8202e">60</text>
<text transform="translate(192.30,333.50) scale(0.8696,1)" font-size="8.62" text-anchor="middle" fill="#e8202e">87</text>
<text transform="translate(217.90,333.50) scale(0.8696,1)" font-size="8.62" text-anchor="middle" fill="#e8202e">72</text>
<text transform="translate(240.50,333.50) scale(0.8696,1)" font-size="8.62" text-anchor="middle" fill="#e8202e">48</text>
<text transform="translate(285.70,333.50) scale(0.8696,1)" font-size="8.62" text-anchor="middle" fill="#e8202e">330</text>
<text transform="translate(308.20,333.50) scale(0.8696,1)" font-size="8.62" text-anchor="middle" fill="#e8202e">277</text>
<text transform="translate(329.00,333.50) scale(0.8696,1)" font-size="8.62" text-anchor="middle" fill="#e8202e">128</text>
<text transform="translate(348.30,333.50) scale(0.8696,1)" font-size="8.62" text-anchor="middle" fill="#e8202e">103</text>
<text transform="translate(376.20,333.50) scale(0.8696,1)" font-size="8.62" text-anchor="middle" fill="#e8202e">&lt;10</text>
<text transform="translate(398.70,333.50) scale(0.8696,1)" font-size="8.62" text-anchor="middle" fill="#e8202e">19</text>
<text transform="translate(420.60,333.50) scale(0.8696,1)" font-size="8.62" text-anchor="middle" fill="#e8202e">22</text>
<text transform="translate(442.40,333.50) scale(0.8696,1)" font-size="8.62" text-anchor="middle" fill="#e8202e">44</text>
<text transform="translate(495.60,333.50) scale(0.8696,1)" font-size="8.62" text-anchor="middle" fill="#e8202e">120</text>
<text transform="translate(531.60,333.50) scale(0.8696,1)" font-size="8.62" text-anchor="middle" fill="#e8202e">114</text>
<text transform="translate(557.60,333.50) scale(0.8696,1)" font-size="8.62" text-anchor="middle" fill="#e8202e">113</text>
<text transform="translate(613.40,333.50) scale(0.8696,1)" font-size="8.62" text-anchor="middle" fill="#e8202e">123</text>
<text transform="translate(643.00,333.50) scale(0.8696,1)" font-size="8.62" text-anchor="middle" fill="#e8202e">226</text>
<text transform="translate(669.60,333.50) scale(0.8696,1)" font-size="8.62" text-anchor="middle" fill="#e8202e">78</text>
<text transform="translate(89.40,527.09) scale(0.8696,1)" font-size="8.85" font-weight="bold" text-anchor="middle" fill="#111">Anc.</text>
<text transform="translate(114.90,527.09) scale(0.8696,1)" font-size="8.85" font-weight="bold" text-anchor="middle" fill="#111">BA.1</text>
<text transform="translate(138.00,527.09) scale(0.8696,1)" font-size="8.85" font-weight="bold" text-anchor="middle" fill="#111">BA.5</text>
<text transform="translate(169.10,527.09) scale(0.8696,1)" font-size="8.85" font-weight="bold" text-anchor="middle" fill="#111">229E</text>
<text transform="translate(193.00,527.09) scale(0.8696,1)" font-size="8.85" font-weight="bold" text-anchor="middle" fill="#111">NL63</text>
<text transform="translate(217.00,527.09) scale(0.8696,1)" font-size="8.85" font-weight="bold" text-anchor="middle" fill="#111">HKU1</text>
<text transform="translate(241.40,527.09) scale(0.8696,1)" font-size="8.85" font-weight="bold" text-anchor="middle" fill="#111">OC43</text>
<text transform="translate(283.60,527.09) scale(0.8696,1)" font-size="8.85" font-weight="bold" text-anchor="middle" fill="#111">Anc.</text>
<text transform="translate(308.00,527.09) scale(0.8696,1)" font-size="8.85" font-weight="bold" text-anchor="middle" fill="#111">Delta</text>
<text transform="translate(328.80,527.09) scale(0.8696,1)" font-size="8.85" font-weight="bold" text-anchor="middle" fill="#111">BA.1</text>
<text transform="translate(348.50,527.09) scale(0.8696,1)" font-size="8.85" font-weight="bold" text-anchor="middle" fill="#111">BA.5</text>
<text transform="translate(377.30,527.09) scale(0.8696,1)" font-size="8.85" font-weight="bold" text-anchor="middle" fill="#111">229E</text>
<text transform="translate(398.40,527.09) scale(0.8696,1)" font-size="8.85" font-weight="bold" text-anchor="middle" fill="#111">NL63</text>
<text transform="translate(419.30,527.09) scale(0.8696,1)" font-size="8.85" font-weight="bold" text-anchor="middle" fill="#111">HKU1</text>
<text transform="translate(441.80,527.09) scale(0.8696,1)" font-size="8.85" font-weight="bold" text-anchor="middle" fill="#111">OC43</text>
<text transform="translate(495.40,527.09) scale(0.8696,1)" font-size="8.85" font-weight="bold" text-anchor="middle" fill="#111">Anc.</text>
<text transform="translate(530.80,527.09) scale(0.8696,1)" font-size="8.85" font-weight="bold" text-anchor="middle" fill="#111">HKU1</text>
<text transform="translate(557.60,527.09) scale(0.8696,1)" font-size="8.85" font-weight="bold" text-anchor="middle" fill="#111">OC43</text>
<text transform="translate(613.10,527.09) scale(0.8696,1)" font-size="8.85" font-weight="bold" text-anchor="middle" fill="#111">Anc.</text>
<text transform="translate(642.70,527.09) scale(0.8696,1)" font-size="8.85" font-weight="bold" text-anchor="middle" fill="#111">Delta</text>
<text transform="translate(669.10,527.09) scale(0.8696,1)" font-size="8.85" font-weight="bold" text-anchor="middle" fill="#111">BA.5</text>
<text transform="translate(52.00,545.43) scale(0.8696,1)" font-size="8.97" font-weight="bold" text-anchor="end" fill="#111">Seropositive</text>
<line x1="54.20" y1="533.80" x2="54.20" y2="552.20" stroke="#777" stroke-width="0.9"/>
<text transform="translate(75.70,540.03) scale(0.8696,1)" font-size="8.97" font-weight="bold" text-anchor="end" fill="#3d3fa5">Pre</text>
<text transform="translate(75.70,552.43) scale(0.8696,1)" font-size="8.97" font-weight="bold" text-anchor="end" fill="#e8202e">End</text>
<text transform="translate(89.40,539.90) scale(0.8696,1)" font-size="8.62" text-anchor="middle" fill="#3d3fa5">0/13</text>
<text transform="translate(114.90,539.90) scale(0.8696,1)" font-size="8.62" text-anchor="middle" fill="#3d3fa5">0/13</text>
<text transform="translate(138.00,539.90) scale(0.8696,1)" font-size="8.62" text-anchor="middle" fill="#3d3fa5">0/13</text>
<text transform="translate(169.10,539.90) scale(0.8696,1)" font-size="8.62" text-anchor="middle" fill="#3d3fa5">9/13</text>
<text transform="translate(193.00,539.90) scale(0.8696,1)" font-size="8.62" text-anchor="middle" fill="#3d3fa5">8/13</text>
<text transform="translate(217.00,539.90) scale(0.8696,1)" font-size="8.62" text-anchor="middle" fill="#3d3fa5">9/13</text>
<text transform="translate(241.40,539.90) scale(0.8696,1)" font-size="8.62" text-anchor="middle" fill="#3d3fa5">9/13</text>
<text transform="translate(283.60,539.90) scale(0.8696,1)" font-size="8.62" text-anchor="middle" fill="#3d3fa5">0/13</text>
<text transform="translate(308.00,539.90) scale(0.8696,1)" font-size="8.62" text-anchor="middle" fill="#3d3fa5">0/13</text>
<text transform="translate(328.80,539.90) scale(0.8696,1)" font-size="8.62" text-anchor="middle" fill="#3d3fa5">0/13</text>
<text transform="translate(348.50,539.90) scale(0.8696,1)" font-size="8.62" text-anchor="middle" fill="#3d3fa5">0/13</text>
<text transform="translate(377.30,539.90) scale(0.8696,1)" font-size="8.62" text-anchor="middle" fill="#3d3fa5">0/4</text>
<text transform="translate(398.40,539.90) scale(0.8696,1)" font-size="8.62" text-anchor="middle" fill="#3d3fa5">4/13</text>
<text transform="translate(419.30,539.90) scale(0.8696,1)" font-size="8.62" text-anchor="middle" fill="#3d3fa5">6/13</text>
<text transform="translate(441.80,539.90) scale(0.8696,1)" font-size="8.62" text-anchor="middle" fill="#3d3fa5">6/13</text>
<text transform="translate(495.40,539.90) scale(0.8696,1)" font-size="8.62" text-anchor="middle" fill="#3d3fa5">0/13</text>
<text transform="translate(530.80,539.90) scale(0.8696,1)" font-size="8.62" text-anchor="middle" fill="#3d3fa5">11/13</text>
<text transform="translate(557.60,539.90) scale(0.8696,1)" font-size="8.62" text-anchor="middle" fill="#3d3fa5">10/13</text>
<text transform="translate(613.10,539.90) scale(0.8696,1)" font-size="8.62" text-anchor="middle" fill="#3d3fa5">0/13</text>
<text transform="translate(642.70,539.90) scale(0.8696,1)" font-size="8.62" text-anchor="middle" fill="#3d3fa5">0/13</text>
<text transform="translate(669.10,539.90) scale(0.8696,1)" font-size="8.62" text-anchor="middle" fill="#3d3fa5">0/13</text>
<text transform="translate(89.40,552.31) scale(0.8696,1)" font-size="8.62" text-anchor="middle" fill="#e8202e">24/25</text>
<text transform="translate(114.90,552.31) scale(0.8696,1)" font-size="8.62" text-anchor="middle" fill="#e8202e">25/25</text>
<text transform="translate(138.00,552.31) scale(0.8696,1)" font-size="8.62" text-anchor="middle" fill="#e8202e">22/25</text>
<text transform="translate(169.10,552.31) scale(0.8696,1)" font-size="8.62" text-anchor="middle" fill="#e8202e">20/25</text>
<text transform="translate(193.00,552.31) scale(0.8696,1)" font-size="8.62" text-anchor="middle" fill="#e8202e">20/25</text>
<text transform="translate(217.00,552.31) scale(0.8696,1)" font-size="8.62" text-anchor="middle" fill="#e8202e">21/25</text>
<text transform="translate(241.40,552.31) scale(0.8696,1)" font-size="8.62" text-anchor="middle" fill="#e8202e">20/25</text>
<text transform="translate(283.60,552.31) scale(0.8696,1)" font-size="8.62" text-anchor="middle" fill="#e8202e">24/25</text>
<text transform="translate(308.00,552.31) scale(0.8696,1)" font-size="8.62" text-anchor="middle" fill="#e8202e">24/25</text>
<text transform="translate(328.80,552.31) scale(0.8696,1)" font-size="8.62" text-anchor="middle" fill="#e8202e">25/25</text>
<text transform="translate(348.50,552.31) scale(0.8696,1)" font-size="8.62" text-anchor="middle" fill="#e8202e">25/25</text>
<text transform="translate(377.30,552.31) scale(0.8696,1)" font-size="8.62" text-anchor="middle" fill="#e8202e">4/4</text>
<text transform="translate(398.40,552.31) scale(0.8696,1)" font-size="8.62" text-anchor="middle" fill="#e8202e">22/25</text>
<text transform="translate(419.30,552.31) scale(0.8696,1)" font-size="8.62" text-anchor="middle" fill="#e8202e">25/25</text>
<text transform="translate(441.80,552.31) scale(0.8696,1)" font-size="8.62" text-anchor="middle" fill="#e8202e">22/25</text>
<text transform="translate(495.40,552.31) scale(0.8696,1)" font-size="8.62" text-anchor="middle" fill="#e8202e">16/25</text>
<text transform="translate(530.80,552.31) scale(0.8696,1)" font-size="8.62" text-anchor="middle" fill="#e8202e">22/25</text>
<text transform="translate(557.60,552.31) scale(0.8696,1)" font-size="8.62" text-anchor="middle" fill="#e8202e">22/25</text>
<text transform="translate(613.10,552.31) scale(0.8696,1)" font-size="8.62" text-anchor="middle" fill="#e8202e">22/25</text>
<text transform="translate(642.70,552.31) scale(0.8696,1)" font-size="8.62" text-anchor="middle" fill="#e8202e">23/25</text>
<text transform="translate(669.10,552.31) scale(0.8696,1)" font-size="8.62" text-anchor="middle" fill="#e8202e">20/25</text>
<line x1="77.00" y1="558.80" x2="149.80" y2="558.80" stroke="#9a9a9a" stroke-width="1.6"/>
<text transform="translate(111.40,573.30) scale(0.9091,1)" font-size="12.76" font-weight="bold" text-anchor="middle" fill="#111">SARS-CoV-2</text>
<line x1="155.70" y1="558.80" x2="254.70" y2="558.80" stroke="#9a9a9a" stroke-width="1.6"/>
<text transform="translate(204.50,573.30) scale(0.9091,1)" font-size="12.76" font-weight="bold" text-anchor="middle" fill="#111">sHCoV</text>
<line x1="271.50" y1="558.80" x2="360.40" y2="558.80" stroke="#9a9a9a" stroke-width="1.6"/>
<text transform="translate(316.80,573.30) scale(0.9091,1)" font-size="12.76" font-weight="bold" text-anchor="middle" fill="#111">SARS-CoV-2</text>
<line x1="366.50" y1="558.80" x2="458.80" y2="558.80" stroke="#9a9a9a" stroke-width="1.6"/>
<text transform="translate(415.00,573.30) scale(0.9091,1)" font-size="12.76" font-weight="bold" text-anchor="middle" fill="#111">sHCoV</text>
<line x1="479.40" y1="558.80" x2="511.40" y2="558.80" stroke="#9a9a9a" stroke-width="1.6"/>
<text transform="translate(495.40,573.30) scale(0.9091,1)" font-size="12.76" font-weight="bold" text-anchor="middle" fill="#111">SARS2</text>
<line x1="517.70" y1="558.80" x2="573.60" y2="558.80" stroke="#9a9a9a" stroke-width="1.6"/>
<text transform="translate(546.10,573.30) scale(0.9091,1)" font-size="12.76" font-weight="bold" text-anchor="middle" fill="#111">sHCoV</text>
<line x1="598.70" y1="558.80" x2="686.00" y2="558.80" stroke="#9a9a9a" stroke-width="1.6"/>
<text transform="translate(644.50,573.30) scale(0.9091,1)" font-size="12.76" font-weight="bold" text-anchor="middle" fill="#111">SARS-CoV-2</text>
<text transform="translate(28.40,424.20) scale(0.93,1) rotate(-90)" font-size="15.1" text-anchor="middle" fill="#000"><tspan font-weight="bold">IgA titers </tspan><tspan font-weight="normal">[50% endpoint]</tspan></text>
<line x1="78.30" y1="644.00" x2="151.60" y2="644.00" stroke="#dfe9f7" stroke-width="0.9"/>
<line x1="78.30" y1="686.85" x2="151.60" y2="686.85" stroke="#dfe9f7" stroke-width="0.9"/>
<line x1="78.30" y1="729.70" x2="151.60" y2="729.70" stroke="#dfe9f7" stroke-width="0.9"/>
<line x1="78.30" y1="772.55" x2="151.60" y2="772.55" stroke="#dfe9f7" stroke-width="0.9"/>
<line x1="157.60" y1="644.00" x2="255.90" y2="644.00" stroke="#dfe9f7" stroke-width="0.9"/>
<line x1="157.60" y1="686.85" x2="255.90" y2="686.85" stroke="#dfe9f7" stroke-width="0.9"/>
<line x1="157.60" y1="729.70" x2="255.90" y2="729.70" stroke="#dfe9f7" stroke-width="0.9"/>
<line x1="157.60" y1="772.55" x2="255.90" y2="772.55" stroke="#dfe9f7" stroke-width="0.9"/>
<line x1="278.50" y1="644.00" x2="362.10" y2="644.00" stroke="#dfe9f7" stroke-width="0.9"/>
<line x1="278.50" y1="686.85" x2="362.10" y2="686.85" stroke="#dfe9f7" stroke-width="0.9"/>
<line x1="278.50" y1="729.70" x2="362.10" y2="729.70" stroke="#dfe9f7" stroke-width="0.9"/>
<line x1="278.50" y1="772.55" x2="362.10" y2="772.55" stroke="#dfe9f7" stroke-width="0.9"/>
<line x1="368.50" y1="644.00" x2="454.20" y2="644.00" stroke="#dfe9f7" stroke-width="0.9"/>
<line x1="368.50" y1="686.85" x2="454.20" y2="686.85" stroke="#dfe9f7" stroke-width="0.9"/>
<line x1="368.50" y1="729.70" x2="454.20" y2="729.70" stroke="#dfe9f7" stroke-width="0.9"/>
<line x1="368.50" y1="772.55" x2="454.20" y2="772.55" stroke="#dfe9f7" stroke-width="0.9"/>
<line x1="103.40" y1="644.00" x2="103.40" y2="815.40" stroke="#333" stroke-width="0.85" stroke-dasharray="2,1.3"/>
<line x1="127.60" y1="644.00" x2="127.60" y2="815.40" stroke="#333" stroke-width="0.85" stroke-dasharray="2,1.3"/>
<line x1="182.00" y1="644.00" x2="182.00" y2="815.40" stroke="#333" stroke-width="0.85" stroke-dasharray="2,1.3"/>
<line x1="205.60" y1="644.00" x2="205.60" y2="815.40" stroke="#333" stroke-width="0.85" stroke-dasharray="2,1.3"/>
<line x1="230.20" y1="644.00" x2="230.20" y2="815.40" stroke="#333" stroke-width="0.85" stroke-dasharray="2,1.3"/>
<line x1="300.60" y1="644.00" x2="300.60" y2="815.40" stroke="#333" stroke-width="0.85" stroke-dasharray="2,1.3"/>
<line x1="322.30" y1="644.00" x2="322.30" y2="815.40" stroke="#333" stroke-width="0.85" stroke-dasharray="2,1.3"/>
<line x1="342.90" y1="644.00" x2="342.90" y2="815.40" stroke="#333" stroke-width="0.85" stroke-dasharray="2,1.3"/>
<line x1="389.60" y1="644.00" x2="389.60" y2="815.40" stroke="#333" stroke-width="0.85" stroke-dasharray="2,1.3"/>
<line x1="410.60" y1="644.00" x2="410.60" y2="815.40" stroke="#333" stroke-width="0.85" stroke-dasharray="2,1.3"/>
<line x1="431.80" y1="644.00" x2="431.80" y2="815.40" stroke="#333" stroke-width="0.85" stroke-dasharray="2,1.3"/>
<line x1="78.30" y1="643.50" x2="78.30" y2="815.40" stroke="#6e6e6e" stroke-width="1.15"/>
<line x1="77.70" y1="815.40" x2="151.60" y2="815.40" stroke="#555" stroke-width="1.0"/>
<line x1="72.30" y1="644.00" x2="78.30" y2="644.00" stroke="#5a5a5a" stroke-width="1.0"/>
<line x1="72.30" y1="686.85" x2="78.30" y2="686.85" stroke="#5a5a5a" stroke-width="1.0"/>
<line x1="72.30" y1="729.70" x2="78.30" y2="729.70" stroke="#5a5a5a" stroke-width="1.0"/>
<line x1="72.30" y1="772.55" x2="78.30" y2="772.55" stroke="#5a5a5a" stroke-width="1.0"/>
<line x1="72.30" y1="815.40" x2="78.30" y2="815.40" stroke="#5a5a5a" stroke-width="1.0"/>
<line x1="157.60" y1="643.50" x2="157.60" y2="815.40" stroke="#6e6e6e" stroke-width="1.15"/>
<line x1="157.00" y1="815.40" x2="255.90" y2="815.40" stroke="#555" stroke-width="1.0"/>
<line x1="278.50" y1="643.50" x2="278.50" y2="815.40" stroke="#6e6e6e" stroke-width="1.15"/>
<line x1="277.90" y1="815.40" x2="362.10" y2="815.40" stroke="#555" stroke-width="1.0"/>
<line x1="272.50" y1="644.00" x2="278.50" y2="644.00" stroke="#5a5a5a" stroke-width="1.0"/>
<line x1="272.50" y1="686.85" x2="278.50" y2="686.85" stroke="#5a5a5a" stroke-width="1.0"/>
<line x1="272.50" y1="729.70" x2="278.50" y2="729.70" stroke="#5a5a5a" stroke-width="1.0"/>
<line x1="272.50" y1="772.55" x2="278.50" y2="772.55" stroke="#5a5a5a" stroke-width="1.0"/>
<line x1="272.50" y1="815.40" x2="278.50" y2="815.40" stroke="#5a5a5a" stroke-width="1.0"/>
<line x1="368.50" y1="643.50" x2="368.50" y2="815.40" stroke="#6e6e6e" stroke-width="1.15"/>
<line x1="367.90" y1="815.40" x2="454.20" y2="815.40" stroke="#555" stroke-width="1.0"/>
<text x="70.00" y="647.00" font-size="7.7" text-anchor="end" fill="#222">1<tspan dx="-0.50">,</tspan><tspan dx="-0.50">000</tspan></text>
<text x="70.00" y="689.85" font-size="7.7" text-anchor="end" fill="#222">100</text>
<text x="70.00" y="732.70" font-size="7.7" text-anchor="end" fill="#222">10</text>
<text x="70.00" y="775.55" font-size="7.7" text-anchor="end" fill="#222">1</text>
<text x="70.00" y="818.40" font-size="7.7" text-anchor="end" fill="#222">0</text>
<line x1="481.90" y1="646.40" x2="510.40" y2="646.40" stroke="#dfe9f7" stroke-width="0.9"/>
<line x1="481.90" y1="689.20" x2="510.40" y2="689.20" stroke="#dfe9f7" stroke-width="0.9"/>
<line x1="481.90" y1="732.00" x2="510.40" y2="732.00" stroke="#dfe9f7" stroke-width="0.9"/>
<line x1="481.90" y1="774.80" x2="510.40" y2="774.80" stroke="#dfe9f7" stroke-width="0.9"/>
<line x1="516.60" y1="646.40" x2="575.40" y2="646.40" stroke="#dfe9f7" stroke-width="0.9"/>
<line x1="516.60" y1="689.20" x2="575.40" y2="689.20" stroke="#dfe9f7" stroke-width="0.9"/>
<line x1="516.60" y1="732.00" x2="575.40" y2="732.00" stroke="#dfe9f7" stroke-width="0.9"/>
<line x1="516.60" y1="774.80" x2="575.40" y2="774.80" stroke="#dfe9f7" stroke-width="0.9"/>
<line x1="599.40" y1="646.40" x2="686.00" y2="646.40" stroke="#dfe9f7" stroke-width="0.9"/>
<line x1="599.40" y1="689.20" x2="686.00" y2="689.20" stroke="#dfe9f7" stroke-width="0.9"/>
<line x1="599.40" y1="732.00" x2="686.00" y2="732.00" stroke="#dfe9f7" stroke-width="0.9"/>
<line x1="599.40" y1="774.80" x2="686.00" y2="774.80" stroke="#dfe9f7" stroke-width="0.9"/>
<line x1="546.10" y1="646.40" x2="546.10" y2="817.60" stroke="#333" stroke-width="0.85" stroke-dasharray="2,1.3"/>
<line x1="628.50" y1="646.40" x2="628.50" y2="817.60" stroke="#333" stroke-width="0.85" stroke-dasharray="2,1.3"/>
<line x1="655.30" y1="646.40" x2="655.30" y2="817.60" stroke="#333" stroke-width="0.85" stroke-dasharray="2,1.3"/>
<line x1="481.90" y1="645.90" x2="481.90" y2="817.60" stroke="#6e6e6e" stroke-width="1.15"/>
<line x1="481.30" y1="817.60" x2="510.40" y2="817.60" stroke="#555" stroke-width="1.0"/>
<line x1="475.90" y1="646.40" x2="481.90" y2="646.40" stroke="#5a5a5a" stroke-width="1.0"/>
<line x1="475.90" y1="689.20" x2="481.90" y2="689.20" stroke="#5a5a5a" stroke-width="1.0"/>
<line x1="475.90" y1="732.00" x2="481.90" y2="732.00" stroke="#5a5a5a" stroke-width="1.0"/>
<line x1="475.90" y1="774.80" x2="481.90" y2="774.80" stroke="#5a5a5a" stroke-width="1.0"/>
<line x1="475.90" y1="817.60" x2="481.90" y2="817.60" stroke="#5a5a5a" stroke-width="1.0"/>
<line x1="516.60" y1="645.90" x2="516.60" y2="817.60" stroke="#6e6e6e" stroke-width="1.15"/>
<line x1="516.00" y1="817.60" x2="575.40" y2="817.60" stroke="#555" stroke-width="1.0"/>
<line x1="599.40" y1="645.90" x2="599.40" y2="817.60" stroke="#6e6e6e" stroke-width="1.15"/>
<line x1="598.80" y1="817.60" x2="686.00" y2="817.60" stroke="#555" stroke-width="1.0"/>
<line x1="593.40" y1="646.40" x2="599.40" y2="646.40" stroke="#5a5a5a" stroke-width="1.0"/>
<line x1="593.40" y1="689.20" x2="599.40" y2="689.20" stroke="#5a5a5a" stroke-width="1.0"/>
<line x1="593.40" y1="732.00" x2="599.40" y2="732.00" stroke="#5a5a5a" stroke-width="1.0"/>
<line x1="593.40" y1="774.80" x2="599.40" y2="774.80" stroke="#5a5a5a" stroke-width="1.0"/>
<line x1="593.40" y1="817.60" x2="599.40" y2="817.60" stroke="#5a5a5a" stroke-width="1.0"/>
<rect x="91.70" y="657.00" width="9.00" height="24.30" fill="#f9c9c2" stroke="#4a4a4a" stroke-width="0.8"/>
<circle cx="87.00" cy="772.60" r="1.38" fill="#6c85c8" stroke="#181e38" stroke-width="0.8"/>
<circle cx="83.70" cy="815.40" r="1.38" fill="#6c85c8" stroke="#181e38" stroke-width="0.8"/>
<circle cx="84.80" cy="815.40" r="1.38" fill="#6c85c8" stroke="#181e38" stroke-width="0.8"/>
<circle cx="85.90" cy="815.40" r="1.38" fill="#6c85c8" stroke="#181e38" stroke-width="0.8"/>
<circle cx="87.00" cy="815.40" r="1.38" fill="#6c85c8" stroke="#181e38" stroke-width="0.8"/>
<circle cx="88.10" cy="815.40" r="1.38" fill="#6c85c8" stroke="#181e38" stroke-width="0.8"/>
<circle cx="89.20" cy="815.40" r="1.38" fill="#6c85c8" stroke="#181e38" stroke-width="0.8"/>
<circle cx="90.30" cy="815.40" r="1.38" fill="#6c85c8" stroke="#181e38" stroke-width="0.8"/>
<circle cx="96.20" cy="652.00" r="1.38" fill="#ea7452" stroke="#33110a" stroke-width="0.8"/>
<circle cx="96.20" cy="655.80" r="1.38" fill="#ea7452" stroke="#33110a" stroke-width="0.8"/>
<circle cx="96.20" cy="664.50" r="1.38" fill="#ea7452" stroke="#33110a" stroke-width="0.8"/>
<circle cx="92.60" cy="664.50" r="1.38" fill="#ea7452" stroke="#33110a" stroke-width="0.8"/>
<circle cx="96.20" cy="670.70" r="1.38" fill="#ea7452" stroke="#33110a" stroke-width="0.8"/>
<circle cx="92.60" cy="672.00" r="1.38" fill="#ea7452" stroke="#33110a" stroke-width="0.8"/>
<circle cx="96.20" cy="686.30" r="1.38" fill="#ea7452" stroke="#33110a" stroke-width="0.8"/>
<circle cx="96.20" cy="703.00" r="1.38" fill="#ea7452" stroke="#33110a" stroke-width="0.8"/>
<line x1="90.80" y1="667.70" x2="101.60" y2="667.70" stroke="#000" stroke-width="2.0"/>
<rect x="115.60" y="662.50" width="9.00" height="17.30" fill="#f9c9c2" stroke="#4a4a4a" stroke-width="0.8"/>
<circle cx="107.35" cy="815.40" r="1.38" fill="#6c85c8" stroke="#181e38" stroke-width="0.8"/>
<circle cx="108.45" cy="815.40" r="1.38" fill="#6c85c8" stroke="#181e38" stroke-width="0.8"/>
<circle cx="109.55" cy="815.40" r="1.38" fill="#6c85c8" stroke="#181e38" stroke-width="0.8"/>
<circle cx="110.65" cy="815.40" r="1.38" fill="#6c85c8" stroke="#181e38" stroke-width="0.8"/>
<circle cx="111.75" cy="815.40" r="1.38" fill="#6c85c8" stroke="#181e38" stroke-width="0.8"/>
<circle cx="112.85" cy="815.40" r="1.38" fill="#6c85c8" stroke="#181e38" stroke-width="0.8"/>
<circle cx="113.95" cy="815.40" r="1.38" fill="#6c85c8" stroke="#181e38" stroke-width="0.8"/>
<circle cx="115.05" cy="815.40" r="1.38" fill="#6c85c8" stroke="#181e38" stroke-width="0.8"/>
<circle cx="120.10" cy="654.50" r="1.38" fill="#ea7452" stroke="#33110a" stroke-width="0.8"/>
<circle cx="120.10" cy="660.20" r="1.38" fill="#ea7452" stroke="#33110a" stroke-width="0.8"/>
<circle cx="120.10" cy="663.50" r="1.38" fill="#ea7452" stroke="#33110a" stroke-width="0.8"/>
<circle cx="120.10" cy="667.40" r="1.38" fill="#ea7452" stroke="#33110a" stroke-width="0.8"/>
<circle cx="120.10" cy="672.00" r="1.38" fill="#ea7452" stroke="#33110a" stroke-width="0.8"/>
<circle cx="120.10" cy="678.00" r="1.38" fill="#ea7452" stroke="#33110a" stroke-width="0.8"/>
<circle cx="120.10" cy="682.60" r="1.38" fill="#ea7452" stroke="#33110a" stroke-width="0.8"/>
<circle cx="120.10" cy="703.00" r="1.38" fill="#ea7452" stroke="#33110a" stroke-width="0.8"/>
<line x1="114.70" y1="667.40" x2="125.50" y2="667.40" stroke="#000" stroke-width="2.0"/>
<rect x="139.70" y="662.50" width="9.00" height="19.80" fill="#f9c9c2" stroke="#4a4a4a" stroke-width="0.8"/>
<circle cx="135.10" cy="772.60" r="1.38" fill="#6c85c8" stroke="#181e38" stroke-width="0.8"/>
<circle cx="131.80" cy="815.40" r="1.38" fill="#6c85c8" stroke="#181e38" stroke-width="0.8"/>
<circle cx="132.90" cy="815.40" r="1.38" fill="#6c85c8" stroke="#181e38" stroke-width="0.8"/>
<circle cx="134.00" cy="815.40" r="1.38" fill="#6c85c8" stroke="#181e38" stroke-width="0.8"/>
<circle cx="135.10" cy="815.40" r="1.38" fill="#6c85c8" stroke="#181e38" stroke-width="0.8"/>
<circle cx="136.20" cy="815.40" r="1.38" fill="#6c85c8" stroke="#181e38" stroke-width="0.8"/>
<circle cx="137.30" cy="815.40" r="1.38" fill="#6c85c8" stroke="#181e38" stroke-width="0.8"/>
<circle cx="138.40" cy="815.40" r="1.38" fill="#6c85c8" stroke="#181e38" stroke-width="0.8"/>
<circle cx="144.20" cy="656.30" r="1.38" fill="#ea7452" stroke="#33110a" stroke-width="0.8"/>
<circle cx="144.20" cy="662.00" r="1.38" fill="#ea7452" stroke="#33110a" stroke-width="0.8"/>
<circle cx="144.20" cy="668.00" r="1.38" fill="#ea7452" stroke="#33110a" stroke-width="0.8"/>
<circle cx="142.10" cy="670.20" r="1.38" fill="#ea7452" stroke="#33110a" stroke-width="0.8"/>
<circle cx="144.20" cy="672.00" r="1.38" fill="#ea7452" stroke="#33110a" stroke-width="0.8"/>
<circle cx="144.20" cy="682.00" r="1.38" fill="#ea7452" stroke="#33110a" stroke-width="0.8"/>
<circle cx="144.20" cy="686.30" r="1.38" fill="#ea7452" stroke="#33110a" stroke-width="0.8"/>
<circle cx="144.20" cy="703.00" r="1.38" fill="#ea7452" stroke="#33110a" stroke-width="0.8"/>
<line x1="138.80" y1="670.20" x2="149.60" y2="670.20" stroke="#000" stroke-width="2.0"/>
<rect x="160.40" y="731.30" width="9.00" height="84.10" fill="#c7d5f0" stroke="#4a4a4a" stroke-width="0.8"/>
<rect x="169.90" y="709.30" width="9.00" height="106.10" fill="#f9c9c2" stroke="#4a4a4a" stroke-width="0.8"/>
<circle cx="164.90" cy="726.50" r="1.38" fill="#6c85c8" stroke="#181e38" stroke-width="0.8"/>
<circle cx="164.90" cy="729.60" r="1.38" fill="#6c85c8" stroke="#181e38" stroke-width="0.8"/>
<circle cx="164.90" cy="736.20" r="1.38" fill="#6c85c8" stroke="#181e38" stroke-width="0.8"/>
<circle cx="164.90" cy="759.50" r="1.38" fill="#6c85c8" stroke="#181e38" stroke-width="0.8"/>
<circle cx="164.90" cy="772.60" r="1.38" fill="#6c85c8" stroke="#181e38" stroke-width="0.8"/>
<circle cx="162.60" cy="815.40" r="1.38" fill="#6c85c8" stroke="#181e38" stroke-width="0.8"/>
<circle cx="164.90" cy="815.40" r="1.38" fill="#6c85c8" stroke="#181e38" stroke-width="0.8"/>
<circle cx="167.20" cy="815.40" r="1.38" fill="#6c85c8" stroke="#181e38" stroke-width="0.8"/>
<circle cx="174.40" cy="708.40" r="1.38" fill="#ea7452" stroke="#33110a" stroke-width="0.8"/>
<circle cx="170.80" cy="709.00" r="1.38" fill="#ea7452" stroke="#33110a" stroke-width="0.8"/>
<circle cx="174.40" cy="711.60" r="1.38" fill="#ea7452" stroke="#33110a" stroke-width="0.8"/>
<circle cx="174.40" cy="772.60" r="1.38" fill="#ea7452" stroke="#33110a" stroke-width="0.8"/>
<circle cx="170.95" cy="815.40" r="1.38" fill="#ea7452" stroke="#33110a" stroke-width="0.8"/>
<circle cx="173.25" cy="815.40" r="1.38" fill="#ea7452" stroke="#33110a" stroke-width="0.8"/>
<circle cx="175.55" cy="815.40" r="1.38" fill="#ea7452" stroke="#33110a" stroke-width="0.8"/>
<circle cx="177.85" cy="815.40" r="1.38" fill="#ea7452" stroke="#33110a" stroke-width="0.8"/>
<line x1="159.50" y1="765.40" x2="170.30" y2="765.40" stroke="#000" stroke-width="2.0"/>
<line x1="169.00" y1="785.50" x2="179.80" y2="785.50" stroke="#000" stroke-width="2.0"/>
<rect x="184.50" y="743.90" width="9.00" height="54.40" fill="#c7d5f0" stroke="#4a4a4a" stroke-width="0.8"/>
<rect x="194.00" y="678.10" width="9.00" height="40.20" fill="#f9c9c2" stroke="#4a4a4a" stroke-width="0.8"/>
<circle cx="189.00" cy="733.70" r="1.38" fill="#6c85c8" stroke="#181e38" stroke-width="0.8"/>
<circle cx="189.00" cy="742.60" r="1.38" fill="#6c85c8" stroke="#181e38" stroke-width="0.8"/>
<circle cx="185.40" cy="742.60" r="1.38" fill="#6c85c8" stroke="#181e38" stroke-width="0.8"/>
<circle cx="189.00" cy="749.30" r="1.38" fill="#6c85c8" stroke="#181e38" stroke-width="0.8"/>
<circle cx="189.00" cy="752.30" r="1.38" fill="#6c85c8" stroke="#181e38" stroke-width="0.8"/>
<circle cx="189.00" cy="772.60" r="1.38" fill="#6c85c8" stroke="#181e38" stroke-width="0.8"/>
<circle cx="185.85" cy="815.40" r="1.38" fill="#6c85c8" stroke="#181e38" stroke-width="0.8"/>
<circle cx="192.15" cy="815.40" r="1.38" fill="#6c85c8" stroke="#181e38" stroke-width="0.8"/>
<circle cx="198.50" cy="669.80" r="1.38" fill="#ea7452" stroke="#33110a" stroke-width="0.8"/>
<circle cx="198.50" cy="676.30" r="1.38" fill="#ea7452" stroke="#33110a" stroke-width="0.8"/>
<circle cx="198.50" cy="683.50" r="1.38" fill="#ea7452" stroke="#33110a" stroke-width="0.8"/>
<circle cx="198.50" cy="686.10" r="1.38" fill="#ea7452" stroke="#33110a" stroke-width="0.8"/>
<circle cx="198.50" cy="703.20" r="1.38" fill="#ea7452" stroke="#33110a" stroke-width="0.8"/>
<circle cx="198.50" cy="716.50" r="1.38" fill="#ea7452" stroke="#33110a" stroke-width="0.8"/>
<circle cx="196.40" cy="718.80" r="1.38" fill="#ea7452" stroke="#33110a" stroke-width="0.8"/>
<circle cx="198.50" cy="815.40" r="1.38" fill="#ea7452" stroke="#33110a" stroke-width="0.8"/>
<line x1="183.60" y1="749.30" x2="194.40" y2="749.30" stroke="#000" stroke-width="2.0"/>
<line x1="193.10" y1="692.80" x2="203.90" y2="692.80" stroke="#000" stroke-width="2.0"/>
<rect x="208.40" y="743.00" width="9.00" height="72.40" fill="#c7d5f0" stroke="#4a4a4a" stroke-width="0.8"/>
<rect x="217.80" y="695.50" width="9.00" height="73.00" fill="#f9c9c2" stroke="#4a4a4a" stroke-width="0.8"/>
<circle cx="212.90" cy="733.70" r="1.38" fill="#6c85c8" stroke="#181e38" stroke-width="0.8"/>
<circle cx="212.90" cy="742.60" r="1.38" fill="#6c85c8" stroke="#181e38" stroke-width="0.8"/>
<circle cx="209.30" cy="742.60" r="1.38" fill="#6c85c8" stroke="#181e38" stroke-width="0.8"/>
<circle cx="216.50" cy="742.60" r="1.38" fill="#6c85c8" stroke="#181e38" stroke-width="0.8"/>
<circle cx="212.90" cy="759.50" r="1.38" fill="#6c85c8" stroke="#181e38" stroke-width="0.8"/>
<circle cx="212.90" cy="772.60" r="1.38" fill="#6c85c8" stroke="#181e38" stroke-width="0.8"/>
<circle cx="210.60" cy="815.40" r="1.38" fill="#6c85c8" stroke="#181e38" stroke-width="0.8"/>
<circle cx="212.90" cy="815.40" r="1.38" fill="#6c85c8" stroke="#181e38" stroke-width="0.8"/>
<circle cx="215.20" cy="815.40" r="1.38" fill="#6c85c8" stroke="#181e38" stroke-width="0.8"/>
<circle cx="222.30" cy="695.50" r="1.38" fill="#ea7452" stroke="#33110a" stroke-width="0.8"/>
<circle cx="218.70" cy="695.50" r="1.38" fill="#ea7452" stroke="#33110a" stroke-width="0.8"/>
<circle cx="222.30" cy="699.00" r="1.38" fill="#ea7452" stroke="#33110a" stroke-width="0.8"/>
<circle cx="222.30" cy="726.90" r="1.38" fill="#ea7452" stroke="#33110a" stroke-width="0.8"/>
<circle cx="222.30" cy="729.60" r="1.38" fill="#ea7452" stroke="#33110a" stroke-width="0.8"/>
<circle cx="222.30" cy="742.60" r="1.38" fill="#ea7452" stroke="#33110a" stroke-width="0.8"/>
<circle cx="219.10" cy="815.40" r="1.38" fill="#ea7452" stroke="#33110a" stroke-width="0.8"/>
<circle cx="225.50" cy="815.40" r="1.38" fill="#ea7452" stroke="#33110a" stroke-width="0.8"/>
<line x1="207.50" y1="765.40" x2="218.30" y2="765.40" stroke="#000" stroke-width="2.0"/>
<line x1="216.90" y1="728.10" x2="227.70" y2="728.10" stroke="#000" stroke-width="2.0"/>
<rect x="232.50" y="745.30" width="9.00" height="70.10" fill="#c7d5f0" stroke="#4a4a4a" stroke-width="0.8"/>
<rect x="242.10" y="706.80" width="9.00" height="108.60" fill="#f9c9c2" stroke="#4a4a4a" stroke-width="0.8"/>
<circle cx="237.00" cy="736.40" r="1.38" fill="#6c85c8" stroke="#181e38" stroke-width="0.8"/>
<circle cx="237.00" cy="742.60" r="1.38" fill="#6c85c8" stroke="#181e38" stroke-width="0.8"/>
<circle cx="237.00" cy="752.30" r="1.38" fill="#6c85c8" stroke="#181e38" stroke-width="0.8"/>
<circle cx="233.40" cy="752.30" r="1.38" fill="#6c85c8" stroke="#181e38" stroke-width="0.8"/>
<circle cx="237.00" cy="772.60" r="1.38" fill="#6c85c8" stroke="#181e38" stroke-width="0.8"/>
<circle cx="234.70" cy="815.40" r="1.38" fill="#6c85c8" stroke="#181e38" stroke-width="0.8"/>
<circle cx="237.00" cy="815.40" r="1.38" fill="#6c85c8" stroke="#181e38" stroke-width="0.8"/>
<circle cx="239.30" cy="815.40" r="1.38" fill="#6c85c8" stroke="#181e38" stroke-width="0.8"/>
<circle cx="246.60" cy="698.70" r="1.38" fill="#ea7452" stroke="#33110a" stroke-width="0.8"/>
<circle cx="246.60" cy="706.20" r="1.38" fill="#ea7452" stroke="#33110a" stroke-width="0.8"/>
<circle cx="244.50" cy="708.60" r="1.38" fill="#ea7452" stroke="#33110a" stroke-width="0.8"/>
<circle cx="246.60" cy="726.90" r="1.38" fill="#ea7452" stroke="#33110a" stroke-width="0.8"/>
<circle cx="246.60" cy="729.60" r="1.38" fill="#ea7452" stroke="#33110a" stroke-width="0.8"/>
<circle cx="244.30" cy="815.40" r="1.38" fill="#ea7452" stroke="#33110a" stroke-width="0.8"/>
<circle cx="246.60" cy="815.40" r="1.38" fill="#ea7452" stroke="#33110a" stroke-width="0.8"/>
<circle cx="248.90" cy="815.40" r="1.38" fill="#ea7452" stroke="#33110a" stroke-width="0.8"/>
<line x1="231.60" y1="759.50" x2="242.40" y2="759.50" stroke="#000" stroke-width="2.0"/>
<line x1="241.20" y1="728.10" x2="252.00" y2="728.10" stroke="#000" stroke-width="2.0"/>
<rect x="290.50" y="672.20" width="8.20" height="15.50" fill="#f9c9c2" stroke="#4a4a4a" stroke-width="0.8"/>
<circle cx="282.45" cy="815.40" r="1.38" fill="#6c85c8" stroke="#181e38" stroke-width="0.8"/>
<circle cx="283.55" cy="815.40" r="1.38" fill="#6c85c8" stroke="#181e38" stroke-width="0.8"/>
<circle cx="284.65" cy="815.40" r="1.38" fill="#6c85c8" stroke="#181e38" stroke-width="0.8"/>
<circle cx="285.75" cy="815.40" r="1.38" fill="#6c85c8" stroke="#181e38" stroke-width="0.8"/>
<circle cx="286.85" cy="815.40" r="1.38" fill="#6c85c8" stroke="#181e38" stroke-width="0.8"/>
<circle cx="287.95" cy="815.40" r="1.38" fill="#6c85c8" stroke="#181e38" stroke-width="0.8"/>
<circle cx="289.05" cy="815.40" r="1.38" fill="#6c85c8" stroke="#181e38" stroke-width="0.8"/>
<circle cx="290.15" cy="815.40" r="1.38" fill="#6c85c8" stroke="#181e38" stroke-width="0.8"/>
<circle cx="294.60" cy="665.00" r="1.38" fill="#ea7452" stroke="#33110a" stroke-width="0.8"/>
<circle cx="294.60" cy="672.00" r="1.38" fill="#ea7452" stroke="#33110a" stroke-width="0.8"/>
<circle cx="294.60" cy="675.00" r="1.38" fill="#ea7452" stroke="#33110a" stroke-width="0.8"/>
<circle cx="292.50" cy="677.40" r="1.38" fill="#ea7452" stroke="#33110a" stroke-width="0.8"/>
<circle cx="294.60" cy="680.00" r="1.38" fill="#ea7452" stroke="#33110a" stroke-width="0.8"/>
<circle cx="294.60" cy="684.00" r="1.38" fill="#ea7452" stroke="#33110a" stroke-width="0.8"/>
<circle cx="294.60" cy="687.70" r="1.38" fill="#ea7452" stroke="#33110a" stroke-width="0.8"/>
<circle cx="294.60" cy="815.40" r="1.38" fill="#ea7452" stroke="#33110a" stroke-width="0.8"/>
<line x1="289.60" y1="677.40" x2="299.60" y2="677.40" stroke="#000" stroke-width="2.0"/>
<rect x="311.50" y="671.20" width="8.20" height="18.50" fill="#f9c9c2" stroke="#4a4a4a" stroke-width="0.8"/>
<circle cx="303.05" cy="815.40" r="1.38" fill="#6c85c8" stroke="#181e38" stroke-width="0.8"/>
<circle cx="304.15" cy="815.40" r="1.38" fill="#6c85c8" stroke="#181e38" stroke-width="0.8"/>
<circle cx="305.25" cy="815.40" r="1.38" fill="#6c85c8" stroke="#181e38" stroke-width="0.8"/>
<circle cx="306.35" cy="815.40" r="1.38" fill="#6c85c8" stroke="#181e38" stroke-width="0.8"/>
<circle cx="307.45" cy="815.40" r="1.38" fill="#6c85c8" stroke="#181e38" stroke-width="0.8"/>
<circle cx="308.55" cy="815.40" r="1.38" fill="#6c85c8" stroke="#181e38" stroke-width="0.8"/>
<circle cx="309.65" cy="815.40" r="1.38" fill="#6c85c8" stroke="#181e38" stroke-width="0.8"/>
<circle cx="310.75" cy="815.40" r="1.38" fill="#6c85c8" stroke="#181e38" stroke-width="0.8"/>
<circle cx="315.60" cy="665.60" r="1.38" fill="#ea7452" stroke="#33110a" stroke-width="0.8"/>
<circle cx="315.60" cy="668.80" r="1.38" fill="#ea7452" stroke="#33110a" stroke-width="0.8"/>
<circle cx="315.60" cy="675.00" r="1.38" fill="#ea7452" stroke="#33110a" stroke-width="0.8"/>
<circle cx="315.60" cy="680.00" r="1.38" fill="#ea7452" stroke="#33110a" stroke-width="0.8"/>
<circle cx="313.50" cy="682.00" r="1.38" fill="#ea7452" stroke="#33110a" stroke-width="0.8"/>
<circle cx="315.60" cy="686.60" r="1.38" fill="#ea7452" stroke="#33110a" stroke-width="0.8"/>
<circle cx="315.60" cy="692.80" r="1.38" fill="#ea7452" stroke="#33110a" stroke-width="0.8"/>
<circle cx="315.60" cy="815.40" r="1.38" fill="#ea7452" stroke="#33110a" stroke-width="0.8"/>
<line x1="310.60" y1="680.00" x2="320.60" y2="680.00" stroke="#000" stroke-width="2.0"/>
<rect x="332.60" y="678.00" width="8.20" height="15.20" fill="#f9c9c2" stroke="#4a4a4a" stroke-width="0.8"/>
<circle cx="324.15" cy="815.40" r="1.38" fill="#6c85c8" stroke="#181e38" stroke-width="0.8"/>
<circle cx="325.25" cy="815.40" r="1.38" fill="#6c85c8" stroke="#181e38" stroke-width="0.8"/>
<circle cx="326.35" cy="815.40" r="1.38" fill="#6c85c8" stroke="#181e38" stroke-width="0.8"/>
<circle cx="327.45" cy="815.40" r="1.38" fill="#6c85c8" stroke="#181e38" stroke-width="0.8"/>
<circle cx="328.55" cy="815.40" r="1.38" fill="#6c85c8" stroke="#181e38" stroke-width="0.8"/>
<circle cx="329.65" cy="815.40" r="1.38" fill="#6c85c8" stroke="#181e38" stroke-width="0.8"/>
<circle cx="330.75" cy="815.40" r="1.38" fill="#6c85c8" stroke="#181e38" stroke-width="0.8"/>
<circle cx="331.85" cy="815.40" r="1.38" fill="#6c85c8" stroke="#181e38" stroke-width="0.8"/>
<circle cx="336.70" cy="669.20" r="1.38" fill="#ea7452" stroke="#33110a" stroke-width="0.8"/>
<circle cx="336.70" cy="677.80" r="1.38" fill="#ea7452" stroke="#33110a" stroke-width="0.8"/>
<circle cx="333.10" cy="677.80" r="1.38" fill="#ea7452" stroke="#33110a" stroke-width="0.8"/>
<circle cx="336.70" cy="684.60" r="1.38" fill="#ea7452" stroke="#33110a" stroke-width="0.8"/>
<circle cx="333.10" cy="686.00" r="1.38" fill="#ea7452" stroke="#33110a" stroke-width="0.8"/>
<circle cx="336.70" cy="692.00" r="1.38" fill="#ea7452" stroke="#33110a" stroke-width="0.8"/>
<circle cx="333.10" cy="693.00" r="1.38" fill="#ea7452" stroke="#33110a" stroke-width="0.8"/>
<circle cx="336.70" cy="815.40" r="1.38" fill="#ea7452" stroke="#33110a" stroke-width="0.8"/>
<line x1="331.70" y1="684.60" x2="341.70" y2="684.60" stroke="#000" stroke-width="2.0"/>
<rect x="353.70" y="680.40" width="8.00" height="10.40" fill="#f9c9c2" stroke="#4a4a4a" stroke-width="0.8"/>
<circle cx="345.15" cy="815.40" r="1.38" fill="#6c85c8" stroke="#181e38" stroke-width="0.8"/>
<circle cx="346.25" cy="815.40" r="1.38" fill="#6c85c8" stroke="#181e38" stroke-width="0.8"/>
<circle cx="347.35" cy="815.40" r="1.38" fill="#6c85c8" stroke="#181e38" stroke-width="0.8"/>
<circle cx="348.45" cy="815.40" r="1.38" fill="#6c85c8" stroke="#181e38" stroke-width="0.8"/>
<circle cx="349.55" cy="815.40" r="1.38" fill="#6c85c8" stroke="#181e38" stroke-width="0.8"/>
<circle cx="350.65" cy="815.40" r="1.38" fill="#6c85c8" stroke="#181e38" stroke-width="0.8"/>
<circle cx="351.75" cy="815.40" r="1.38" fill="#6c85c8" stroke="#181e38" stroke-width="0.8"/>
<circle cx="352.85" cy="815.40" r="1.38" fill="#6c85c8" stroke="#181e38" stroke-width="0.8"/>
<circle cx="357.70" cy="672.50" r="1.38" fill="#ea7452" stroke="#33110a" stroke-width="0.8"/>
<circle cx="357.70" cy="680.00" r="1.38" fill="#ea7452" stroke="#33110a" stroke-width="0.8"/>
<circle cx="357.70" cy="683.00" r="1.38" fill="#ea7452" stroke="#33110a" stroke-width="0.8"/>
<circle cx="354.10" cy="684.00" r="1.38" fill="#ea7452" stroke="#33110a" stroke-width="0.8"/>
<circle cx="357.70" cy="686.00" r="1.38" fill="#ea7452" stroke="#33110a" stroke-width="0.8"/>
<circle cx="357.70" cy="689.00" r="1.38" fill="#ea7452" stroke="#33110a" stroke-width="0.8"/>
<circle cx="357.70" cy="692.80" r="1.38" fill="#ea7452" stroke="#33110a" stroke-width="0.8"/>
<circle cx="357.70" cy="815.40" r="1.38" fill="#ea7452" stroke="#33110a" stroke-width="0.8"/>
<line x1="352.80" y1="683.10" x2="362.60" y2="683.10" stroke="#000" stroke-width="2.0"/>
<rect x="371.05" y="739.40" width="7.50" height="76.00" fill="#c7d5f0" stroke="#4a4a4a" stroke-width="0.8"/>
<rect x="379.45" y="735.00" width="7.50" height="80.40" fill="#f9c9c2" stroke="#4a4a4a" stroke-width="0.8"/>
<circle cx="374.80" cy="734.00" r="1.38" fill="#6c85c8" stroke="#181e38" stroke-width="0.8"/>
<circle cx="372.50" cy="815.40" r="1.38" fill="#6c85c8" stroke="#181e38" stroke-width="0.8"/>
<circle cx="374.80" cy="815.40" r="1.38" fill="#6c85c8" stroke="#181e38" stroke-width="0.8"/>
<circle cx="377.10" cy="815.40" r="1.38" fill="#6c85c8" stroke="#181e38" stroke-width="0.8"/>
<circle cx="383.20" cy="730.00" r="1.38" fill="#ea7452" stroke="#33110a" stroke-width="0.8"/>
<circle cx="383.20" cy="772.60" r="1.38" fill="#ea7452" stroke="#33110a" stroke-width="0.8"/>
<circle cx="381.05" cy="815.40" r="1.38" fill="#ea7452" stroke="#33110a" stroke-width="0.8"/>
<circle cx="385.35" cy="815.40" r="1.38" fill="#ea7452" stroke="#33110a" stroke-width="0.8"/>
<line x1="378.55" y1="785.70" x2="387.85" y2="785.70" stroke="#000" stroke-width="2.0"/>
<rect x="392.25" y="762.40" width="7.50" height="53.00" fill="#c7d5f0" stroke="#4a4a4a" stroke-width="0.8"/>
<rect x="400.40" y="695.10" width="7.80" height="120.30" fill="#f9c9c2" stroke="#4a4a4a" stroke-width="0.8"/>
<circle cx="396.00" cy="747.00" r="1.38" fill="#6c85c8" stroke="#181e38" stroke-width="0.8"/>
<circle cx="396.00" cy="759.50" r="1.38" fill="#6c85c8" stroke="#181e38" stroke-width="0.8"/>
<circle cx="396.00" cy="772.60" r="1.38" fill="#6c85c8" stroke="#181e38" stroke-width="0.8"/>
<circle cx="392.40" cy="772.60" r="1.38" fill="#6c85c8" stroke="#181e38" stroke-width="0.8"/>
<circle cx="399.60" cy="772.60" r="1.38" fill="#6c85c8" stroke="#181e38" stroke-width="0.8"/>
<circle cx="393.70" cy="815.40" r="1.38" fill="#6c85c8" stroke="#181e38" stroke-width="0.8"/>
<circle cx="396.00" cy="815.40" r="1.38" fill="#6c85c8" stroke="#181e38" stroke-width="0.8"/>
<circle cx="398.30" cy="815.40" r="1.38" fill="#6c85c8" stroke="#181e38" stroke-width="0.8"/>
<circle cx="404.30" cy="678.40" r="1.38" fill="#ea7452" stroke="#33110a" stroke-width="0.8"/>
<circle cx="404.30" cy="692.80" r="1.38" fill="#ea7452" stroke="#33110a" stroke-width="0.8"/>
<circle cx="404.30" cy="703.20" r="1.38" fill="#ea7452" stroke="#33110a" stroke-width="0.8"/>
<circle cx="404.30" cy="721.20" r="1.38" fill="#ea7452" stroke="#33110a" stroke-width="0.8"/>
<circle cx="400.85" cy="815.40" r="1.38" fill="#ea7452" stroke="#33110a" stroke-width="0.8"/>
<circle cx="403.15" cy="815.40" r="1.38" fill="#ea7452" stroke="#33110a" stroke-width="0.8"/>
<circle cx="405.45" cy="815.40" r="1.38" fill="#ea7452" stroke="#33110a" stroke-width="0.8"/>
<circle cx="407.75" cy="815.40" r="1.38" fill="#ea7452" stroke="#33110a" stroke-width="0.8"/>
<line x1="391.35" y1="772.60" x2="400.65" y2="772.60" stroke="#000" stroke-width="2.0"/>
<line x1="399.50" y1="734.00" x2="409.10" y2="734.00" stroke="#000" stroke-width="2.0"/>
<rect x="413.30" y="762.40" width="7.40" height="53.00" fill="#c7d5f0" stroke="#4a4a4a" stroke-width="0.8"/>
<circle cx="417.00" cy="752.30" r="1.38" fill="#6c85c8" stroke="#181e38" stroke-width="0.8"/>
<circle cx="417.00" cy="759.50" r="1.38" fill="#6c85c8" stroke="#181e38" stroke-width="0.8"/>
<circle cx="417.00" cy="772.60" r="1.38" fill="#6c85c8" stroke="#181e38" stroke-width="0.8"/>
<circle cx="413.40" cy="772.60" r="1.38" fill="#6c85c8" stroke="#181e38" stroke-width="0.8"/>
<circle cx="420.60" cy="772.60" r="1.38" fill="#6c85c8" stroke="#181e38" stroke-width="0.8"/>
<circle cx="414.70" cy="815.40" r="1.38" fill="#6c85c8" stroke="#181e38" stroke-width="0.8"/>
<circle cx="417.00" cy="815.40" r="1.38" fill="#6c85c8" stroke="#181e38" stroke-width="0.8"/>
<circle cx="419.30" cy="815.40" r="1.38" fill="#6c85c8" stroke="#181e38" stroke-width="0.8"/>
<circle cx="425.50" cy="759.50" r="1.38" fill="#ea7452" stroke="#33110a" stroke-width="0.8"/>
<circle cx="422.20" cy="815.40" r="1.38" fill="#ea7452" stroke="#33110a" stroke-width="0.8"/>
<circle cx="423.30" cy="815.40" r="1.38" fill="#ea7452" stroke="#33110a" stroke-width="0.8"/>
<circle cx="424.40" cy="815.40" r="1.38" fill="#ea7452" stroke="#33110a" stroke-width="0.8"/>
<circle cx="425.50" cy="815.40" r="1.38" fill="#ea7452" stroke="#33110a" stroke-width="0.8"/>
<circle cx="426.60" cy="815.40" r="1.38" fill="#ea7452" stroke="#33110a" stroke-width="0.8"/>
<circle cx="427.70" cy="815.40" r="1.38" fill="#ea7452" stroke="#33110a" stroke-width="0.8"/>
<circle cx="428.80" cy="815.40" r="1.38" fill="#ea7452" stroke="#33110a" stroke-width="0.8"/>
<line x1="412.40" y1="772.60" x2="421.60" y2="772.60" stroke="#000" stroke-width="2.0"/>
<rect x="434.55" y="754.20" width="7.50" height="61.20" fill="#c7d5f0" stroke="#4a4a4a" stroke-width="0.8"/>
<rect x="442.50" y="748.40" width="7.60" height="67.00" fill="#f9c9c2" stroke="#4a4a4a" stroke-width="0.8"/>
<circle cx="438.30" cy="752.30" r="1.38" fill="#6c85c8" stroke="#181e38" stroke-width="0.8"/>
<circle cx="434.70" cy="752.30" r="1.38" fill="#6c85c8" stroke="#181e38" stroke-width="0.8"/>
<circle cx="438.30" cy="759.50" r="1.38" fill="#6c85c8" stroke="#181e38" stroke-width="0.8"/>
<circle cx="438.30" cy="772.60" r="1.38" fill="#6c85c8" stroke="#181e38" stroke-width="0.8"/>
<circle cx="434.85" cy="815.40" r="1.38" fill="#6c85c8" stroke="#181e38" stroke-width="0.8"/>
<circle cx="437.15" cy="815.40" r="1.38" fill="#6c85c8" stroke="#181e38" stroke-width="0.8"/>
<circle cx="439.45" cy="815.40" r="1.38" fill="#6c85c8" stroke="#181e38" stroke-width="0.8"/>
<circle cx="441.75" cy="815.40" r="1.38" fill="#6c85c8" stroke="#181e38" stroke-width="0.8"/>
<circle cx="446.30" cy="730.00" r="1.38" fill="#ea7452" stroke="#33110a" stroke-width="0.8"/>
<circle cx="446.30" cy="742.70" r="1.38" fill="#ea7452" stroke="#33110a" stroke-width="0.8"/>
<circle cx="443.55" cy="815.40" r="1.38" fill="#ea7452" stroke="#33110a" stroke-width="0.8"/>
<circle cx="444.65" cy="815.40" r="1.38" fill="#ea7452" stroke="#33110a" stroke-width="0.8"/>
<circle cx="445.75" cy="815.40" r="1.38" fill="#ea7452" stroke="#33110a" stroke-width="0.8"/>
<circle cx="446.85" cy="815.40" r="1.38" fill="#ea7452" stroke="#33110a" stroke-width="0.8"/>
<circle cx="447.95" cy="815.40" r="1.38" fill="#ea7452" stroke="#33110a" stroke-width="0.8"/>
<circle cx="449.05" cy="815.40" r="1.38" fill="#ea7452" stroke="#33110a" stroke-width="0.8"/>
<line x1="433.65" y1="785.70" x2="442.95" y2="785.70" stroke="#000" stroke-width="2.0"/>
<rect x="497.60" y="667.00" width="10.20" height="21.70" fill="#f9c9c2" stroke="#4a4a4a" stroke-width="0.8"/>
<circle cx="488.45" cy="817.60" r="1.38" fill="#6c85c8" stroke="#181e38" stroke-width="0.8"/>
<circle cx="489.55" cy="817.60" r="1.38" fill="#6c85c8" stroke="#181e38" stroke-width="0.8"/>
<circle cx="490.65" cy="817.60" r="1.38" fill="#6c85c8" stroke="#181e38" stroke-width="0.8"/>
<circle cx="491.75" cy="817.60" r="1.38" fill="#6c85c8" stroke="#181e38" stroke-width="0.8"/>
<circle cx="492.85" cy="817.60" r="1.38" fill="#6c85c8" stroke="#181e38" stroke-width="0.8"/>
<circle cx="493.95" cy="817.60" r="1.38" fill="#6c85c8" stroke="#181e38" stroke-width="0.8"/>
<circle cx="495.05" cy="817.60" r="1.38" fill="#6c85c8" stroke="#181e38" stroke-width="0.8"/>
<circle cx="496.15" cy="817.60" r="1.38" fill="#6c85c8" stroke="#181e38" stroke-width="0.8"/>
<circle cx="502.70" cy="655.70" r="1.38" fill="#ea7452" stroke="#33110a" stroke-width="0.8"/>
<circle cx="502.70" cy="665.00" r="1.38" fill="#ea7452" stroke="#33110a" stroke-width="0.8"/>
<circle cx="502.70" cy="675.00" r="1.38" fill="#ea7452" stroke="#33110a" stroke-width="0.8"/>
<circle cx="502.70" cy="679.40" r="1.38" fill="#ea7452" stroke="#33110a" stroke-width="0.8"/>
<circle cx="502.70" cy="682.00" r="1.38" fill="#ea7452" stroke="#33110a" stroke-width="0.8"/>
<circle cx="502.70" cy="685.00" r="1.38" fill="#ea7452" stroke="#33110a" stroke-width="0.8"/>
<circle cx="502.70" cy="690.00" r="1.38" fill="#ea7452" stroke="#33110a" stroke-width="0.8"/>
<circle cx="502.70" cy="705.60" r="1.38" fill="#ea7452" stroke="#33110a" stroke-width="0.8"/>
<line x1="496.70" y1="679.40" x2="508.70" y2="679.40" stroke="#000" stroke-width="2.0"/>
<rect x="522.10" y="753.70" width="10.00" height="47.40" fill="#c7d5f0" stroke="#4a4a4a" stroke-width="0.8"/>
<rect x="533.10" y="713.00" width="9.80" height="57.80" fill="#f9c9c2" stroke="#4a4a4a" stroke-width="0.8"/>
<circle cx="527.10" cy="748.90" r="1.38" fill="#6c85c8" stroke="#181e38" stroke-width="0.8"/>
<circle cx="527.10" cy="754.70" r="1.38" fill="#6c85c8" stroke="#181e38" stroke-width="0.8"/>
<circle cx="523.50" cy="754.70" r="1.38" fill="#6c85c8" stroke="#181e38" stroke-width="0.8"/>
<circle cx="527.10" cy="761.90" r="1.38" fill="#6c85c8" stroke="#181e38" stroke-width="0.8"/>
<circle cx="527.10" cy="775.30" r="1.38" fill="#6c85c8" stroke="#181e38" stroke-width="0.8"/>
<circle cx="523.50" cy="775.30" r="1.38" fill="#6c85c8" stroke="#181e38" stroke-width="0.8"/>
<circle cx="523.50" cy="817.60" r="1.38" fill="#6c85c8" stroke="#181e38" stroke-width="0.8"/>
<circle cx="530.70" cy="817.60" r="1.38" fill="#6c85c8" stroke="#181e38" stroke-width="0.8"/>
<circle cx="538.00" cy="695.30" r="1.38" fill="#ea7452" stroke="#33110a" stroke-width="0.8"/>
<circle cx="538.00" cy="711.40" r="1.38" fill="#ea7452" stroke="#33110a" stroke-width="0.8"/>
<circle cx="538.00" cy="718.60" r="1.38" fill="#ea7452" stroke="#33110a" stroke-width="0.8"/>
<circle cx="534.40" cy="718.60" r="1.38" fill="#ea7452" stroke="#33110a" stroke-width="0.8"/>
<circle cx="538.00" cy="739.20" r="1.38" fill="#ea7452" stroke="#33110a" stroke-width="0.8"/>
<circle cx="538.00" cy="745.40" r="1.38" fill="#ea7452" stroke="#33110a" stroke-width="0.8"/>
<circle cx="534.40" cy="817.60" r="1.38" fill="#ea7452" stroke="#33110a" stroke-width="0.8"/>
<circle cx="541.60" cy="817.60" r="1.38" fill="#ea7452" stroke="#33110a" stroke-width="0.8"/>
<line x1="521.20" y1="767.70" x2="533.00" y2="767.70" stroke="#000" stroke-width="2.0"/>
<line x1="532.20" y1="725.80" x2="543.80" y2="725.80" stroke="#000" stroke-width="2.0"/>
<rect x="549.50" y="746.50" width="10.00" height="54.60" fill="#c7d5f0" stroke="#4a4a4a" stroke-width="0.8"/>
<rect x="560.40" y="700.70" width="9.80" height="20.60" fill="#f9c9c2" stroke="#4a4a4a" stroke-width="0.8"/>
<circle cx="554.50" cy="739.20" r="1.38" fill="#6c85c8" stroke="#181e38" stroke-width="0.8"/>
<circle cx="554.50" cy="746.00" r="1.38" fill="#6c85c8" stroke="#181e38" stroke-width="0.8"/>
<circle cx="550.90" cy="746.00" r="1.38" fill="#6c85c8" stroke="#181e38" stroke-width="0.8"/>
<circle cx="554.50" cy="749.00" r="1.38" fill="#6c85c8" stroke="#181e38" stroke-width="0.8"/>
<circle cx="554.50" cy="752.20" r="1.38" fill="#6c85c8" stroke="#181e38" stroke-width="0.8"/>
<circle cx="554.50" cy="775.30" r="1.38" fill="#6c85c8" stroke="#181e38" stroke-width="0.8"/>
<circle cx="550.70" cy="817.60" r="1.38" fill="#6c85c8" stroke="#181e38" stroke-width="0.8"/>
<circle cx="558.30" cy="817.60" r="1.38" fill="#6c85c8" stroke="#181e38" stroke-width="0.8"/>
<circle cx="565.30" cy="676.70" r="1.38" fill="#ea7452" stroke="#33110a" stroke-width="0.8"/>
<circle cx="565.30" cy="700.00" r="1.38" fill="#ea7452" stroke="#33110a" stroke-width="0.8"/>
<circle cx="565.30" cy="703.00" r="1.38" fill="#ea7452" stroke="#33110a" stroke-width="0.8"/>
<circle cx="565.30" cy="706.00" r="1.38" fill="#ea7452" stroke="#33110a" stroke-width="0.8"/>
<circle cx="563.20" cy="708.30" r="1.38" fill="#ea7452" stroke="#33110a" stroke-width="0.8"/>
<circle cx="565.30" cy="712.00" r="1.38" fill="#ea7452" stroke="#33110a" stroke-width="0.8"/>
<circle cx="565.30" cy="720.00" r="1.38" fill="#ea7452" stroke="#33110a" stroke-width="0.8"/>
<circle cx="565.30" cy="817.60" r="1.38" fill="#ea7452" stroke="#33110a" stroke-width="0.8"/>
<line x1="548.60" y1="752.20" x2="560.40" y2="752.20" stroke="#000" stroke-width="2.0"/>
<line x1="559.50" y1="708.30" x2="571.10" y2="708.30" stroke="#000" stroke-width="2.0"/>
<rect x="615.10" y="682.10" width="10.00" height="13.20" fill="#f9c9c2" stroke="#4a4a4a" stroke-width="0.8"/>
<circle cx="605.55" cy="817.60" r="1.38" fill="#6c85c8" stroke="#181e38" stroke-width="0.8"/>
<circle cx="606.65" cy="817.60" r="1.38" fill="#6c85c8" stroke="#181e38" stroke-width="0.8"/>
<circle cx="607.75" cy="817.60" r="1.38" fill="#6c85c8" stroke="#181e38" stroke-width="0.8"/>
<circle cx="608.85" cy="817.60" r="1.38" fill="#6c85c8" stroke="#181e38" stroke-width="0.8"/>
<circle cx="609.95" cy="817.60" r="1.38" fill="#6c85c8" stroke="#181e38" stroke-width="0.8"/>
<circle cx="611.05" cy="817.60" r="1.38" fill="#6c85c8" stroke="#181e38" stroke-width="0.8"/>
<circle cx="612.15" cy="817.60" r="1.38" fill="#6c85c8" stroke="#181e38" stroke-width="0.8"/>
<circle cx="613.25" cy="817.60" r="1.38" fill="#6c85c8" stroke="#181e38" stroke-width="0.8"/>
<circle cx="620.10" cy="677.40" r="1.38" fill="#ea7452" stroke="#33110a" stroke-width="0.8"/>
<circle cx="620.10" cy="680.50" r="1.38" fill="#ea7452" stroke="#33110a" stroke-width="0.8"/>
<circle cx="620.10" cy="684.60" r="1.38" fill="#ea7452" stroke="#33110a" stroke-width="0.8"/>
<circle cx="620.10" cy="689.70" r="1.38" fill="#ea7452" stroke="#33110a" stroke-width="0.8"/>
<circle cx="616.50" cy="690.00" r="1.38" fill="#ea7452" stroke="#33110a" stroke-width="0.8"/>
<circle cx="620.10" cy="693.00" r="1.38" fill="#ea7452" stroke="#33110a" stroke-width="0.8"/>
<circle cx="620.10" cy="697.40" r="1.38" fill="#ea7452" stroke="#33110a" stroke-width="0.8"/>
<circle cx="620.10" cy="817.60" r="1.38" fill="#ea7452" stroke="#33110a" stroke-width="0.8"/>
<line x1="614.20" y1="689.70" x2="626.00" y2="689.70" stroke="#000" stroke-width="2.0"/>
<rect x="642.25" y="678.40" width="10.30" height="20.20" fill="#f9c9c2" stroke="#4a4a4a" stroke-width="0.8"/>
<circle cx="633.15" cy="817.60" r="1.38" fill="#6c85c8" stroke="#181e38" stroke-width="0.8"/>
<circle cx="634.25" cy="817.60" r="1.38" fill="#6c85c8" stroke="#181e38" stroke-width="0.8"/>
<circle cx="635.35" cy="817.60" r="1.38" fill="#6c85c8" stroke="#181e38" stroke-width="0.8"/>
<circle cx="636.45" cy="817.60" r="1.38" fill="#6c85c8" stroke="#181e38" stroke-width="0.8"/>
<circle cx="637.55" cy="817.60" r="1.38" fill="#6c85c8" stroke="#181e38" stroke-width="0.8"/>
<circle cx="638.65" cy="817.60" r="1.38" fill="#6c85c8" stroke="#181e38" stroke-width="0.8"/>
<circle cx="639.75" cy="817.60" r="1.38" fill="#6c85c8" stroke="#181e38" stroke-width="0.8"/>
<circle cx="640.85" cy="817.60" r="1.38" fill="#6c85c8" stroke="#181e38" stroke-width="0.8"/>
<circle cx="647.40" cy="674.30" r="1.38" fill="#ea7452" stroke="#33110a" stroke-width="0.8"/>
<circle cx="645.30" cy="676.40" r="1.38" fill="#ea7452" stroke="#33110a" stroke-width="0.8"/>
<circle cx="647.40" cy="684.60" r="1.38" fill="#ea7452" stroke="#33110a" stroke-width="0.8"/>
<circle cx="647.40" cy="688.00" r="1.38" fill="#ea7452" stroke="#33110a" stroke-width="0.8"/>
<circle cx="647.40" cy="690.80" r="1.38" fill="#ea7452" stroke="#33110a" stroke-width="0.8"/>
<circle cx="647.40" cy="694.00" r="1.38" fill="#ea7452" stroke="#33110a" stroke-width="0.8"/>
<circle cx="647.40" cy="701.10" r="1.38" fill="#ea7452" stroke="#33110a" stroke-width="0.8"/>
<circle cx="647.40" cy="817.60" r="1.38" fill="#ea7452" stroke="#33110a" stroke-width="0.8"/>
<line x1="641.35" y1="690.80" x2="653.45" y2="690.80" stroke="#000" stroke-width="2.0"/>
<rect x="669.15" y="694.50" width="10.30" height="9.70" fill="#f9c9c2" stroke="#4a4a4a" stroke-width="0.8"/>
<circle cx="660.15" cy="817.60" r="1.38" fill="#6c85c8" stroke="#181e38" stroke-width="0.8"/>
<circle cx="661.25" cy="817.60" r="1.38" fill="#6c85c8" stroke="#181e38" stroke-width="0.8"/>
<circle cx="662.35" cy="817.60" r="1.38" fill="#6c85c8" stroke="#181e38" stroke-width="0.8"/>
<circle cx="663.45" cy="817.60" r="1.38" fill="#6c85c8" stroke="#181e38" stroke-width="0.8"/>
<circle cx="664.55" cy="817.60" r="1.38" fill="#6c85c8" stroke="#181e38" stroke-width="0.8"/>
<circle cx="665.65" cy="817.60" r="1.38" fill="#6c85c8" stroke="#181e38" stroke-width="0.8"/>
<circle cx="666.75" cy="817.60" r="1.38" fill="#6c85c8" stroke="#181e38" stroke-width="0.8"/>
<circle cx="667.85" cy="817.60" r="1.38" fill="#6c85c8" stroke="#181e38" stroke-width="0.8"/>
<circle cx="674.30" cy="686.20" r="1.38" fill="#ea7452" stroke="#33110a" stroke-width="0.8"/>
<circle cx="674.30" cy="693.80" r="1.38" fill="#ea7452" stroke="#33110a" stroke-width="0.8"/>
<circle cx="672.20" cy="695.50" r="1.38" fill="#ea7452" stroke="#33110a" stroke-width="0.8"/>
<circle cx="676.40" cy="697.00" r="1.38" fill="#ea7452" stroke="#33110a" stroke-width="0.8"/>
<circle cx="674.30" cy="699.00" r="1.38" fill="#ea7452" stroke="#33110a" stroke-width="0.8"/>
<circle cx="672.20" cy="701.00" r="1.38" fill="#ea7452" stroke="#33110a" stroke-width="0.8"/>
<circle cx="674.30" cy="705.60" r="1.38" fill="#ea7452" stroke="#33110a" stroke-width="0.8"/>
<circle cx="674.30" cy="817.60" r="1.38" fill="#ea7452" stroke="#33110a" stroke-width="0.8"/>
<line x1="668.25" y1="696.50" x2="680.35" y2="696.50" stroke="#000" stroke-width="2.0"/>
<polyline points="188.20,720.60 188.20,656.50 198.40,656.50 198.40,665.00" fill="none" stroke="#8e8e8e" stroke-width="0.9"/>
<text x="193.30" y="659.30" font-size="13" font-weight="bold" text-anchor="middle" fill="#111">**</text>
<polyline points="554.40,730.40 554.40,663.50 564.70,663.50 564.70,670.10" fill="none" stroke="#8e8e8e" stroke-width="0.9"/>
<text x="559.55" y="666.30" font-size="13" font-weight="bold" text-anchor="middle" fill="#111">**</text>
<text x="-0.80" y="612.80" font-size="17.5" font-weight="bold" text-anchor="start" fill="#000">c</text>
<text x="164.20" y="630.50" font-size="18.5" font-weight="bold" text-anchor="middle" fill="#000">S-trimer</text>
<text x="367.90" y="630.50" font-size="18.5" font-weight="bold" text-anchor="middle" fill="#000">S1</text>
<text x="525.90" y="630.50" font-size="18.5" font-weight="bold" text-anchor="middle" fill="#000">S2</text>
<text x="634.00" y="630.50" font-size="18.5" font-weight="bold" text-anchor="middle" fill="#000">RBD</text>
<text transform="translate(88.70,831.19) scale(0.8696,1)" font-size="8.85" font-weight="bold" text-anchor="middle" fill="#111">Anc.</text>
<text transform="translate(114.10,831.19) scale(0.8696,1)" font-size="8.85" font-weight="bold" text-anchor="middle" fill="#111">BA.1</text>
<text transform="translate(138.10,831.19) scale(0.8696,1)" font-size="8.85" font-weight="bold" text-anchor="middle" fill="#111">BA.5</text>
<text transform="translate(169.00,831.19) scale(0.8696,1)" font-size="8.85" font-weight="bold" text-anchor="middle" fill="#111">229E</text>
<text transform="translate(193.00,831.19) scale(0.8696,1)" font-size="8.85" font-weight="bold" text-anchor="middle" fill="#111">NL63</text>
<text transform="translate(217.00,831.19) scale(0.8696,1)" font-size="8.85" font-weight="bold" text-anchor="middle" fill="#111">HKU1</text>
<text transform="translate(241.30,831.19) scale(0.8696,1)" font-size="8.85" font-weight="bold" text-anchor="middle" fill="#111">OC43</text>
<text transform="translate(288.50,831.19) scale(0.8696,1)" font-size="8.85" font-weight="bold" text-anchor="middle" fill="#111">Anc.</text>
<text transform="translate(310.80,831.19) scale(0.8696,1)" font-size="8.85" font-weight="bold" text-anchor="middle" fill="#111">Delta</text>
<text transform="translate(331.90,831.19) scale(0.8696,1)" font-size="8.85" font-weight="bold" text-anchor="middle" fill="#111">BA.1</text>
<text transform="translate(350.60,831.19) scale(0.8696,1)" font-size="8.85" font-weight="bold" text-anchor="middle" fill="#111">BA.5</text>
<text transform="translate(379.90,831.19) scale(0.8696,1)" font-size="8.85" font-weight="bold" text-anchor="middle" fill="#111">229E</text>
<text transform="translate(399.60,831.19) scale(0.8696,1)" font-size="8.85" font-weight="bold" text-anchor="middle" fill="#111">NL63</text>
<text transform="translate(419.80,831.19) scale(0.8696,1)" font-size="8.85" font-weight="bold" text-anchor="middle" fill="#111">HKU1</text>
<text transform="translate(443.00,831.19) scale(0.8696,1)" font-size="8.85" font-weight="bold" text-anchor="middle" fill="#111">OC43</text>
<text transform="translate(495.90,831.19) scale(0.8696,1)" font-size="8.85" font-weight="bold" text-anchor="middle" fill="#111">Anc.</text>
<text transform="translate(530.80,831.19) scale(0.8696,1)" font-size="8.85" font-weight="bold" text-anchor="middle" fill="#111">HKU1</text>
<text transform="translate(558.50,831.19) scale(0.8696,1)" font-size="8.85" font-weight="bold" text-anchor="middle" fill="#111">OC43</text>
<text transform="translate(613.10,831.19) scale(0.8696,1)" font-size="8.85" font-weight="bold" text-anchor="middle" fill="#111">Anc.</text>
<text transform="translate(643.20,831.19) scale(0.8696,1)" font-size="8.85" font-weight="bold" text-anchor="middle" fill="#111">Delta</text>
<text transform="translate(668.40,831.19) scale(0.8696,1)" font-size="8.85" font-weight="bold" text-anchor="middle" fill="#111">BA.5</text>
<text transform="translate(51.80,848.19) scale(0.8696,1)" font-size="8.85" font-weight="bold" text-anchor="end" fill="#111">Pos. B-cells</text>
<line x1="54.80" y1="836.90" x2="54.80" y2="854.40" stroke="#777" stroke-width="0.9"/>
<text transform="translate(75.10,843.23) scale(0.8696,1)" font-size="8.97" font-weight="bold" text-anchor="end" fill="#3d3fa5">Pre</text>
<text transform="translate(75.10,855.43) scale(0.8696,1)" font-size="8.97" font-weight="bold" text-anchor="end" fill="#e8202e">End</text>
<text transform="translate(88.80,843.11) scale(0.8696,1)" font-size="8.62" text-anchor="middle" fill="#3d3fa5">1/8</text>
<text transform="translate(114.00,843.11) scale(0.8696,1)" font-size="8.62" text-anchor="middle" fill="#3d3fa5">0/8</text>
<text transform="translate(137.90,843.11) scale(0.8696,1)" font-size="8.62" text-anchor="middle" fill="#3d3fa5">1/8</text>
<text transform="translate(168.70,843.11) scale(0.8696,1)" font-size="8.62" text-anchor="middle" fill="#3d3fa5">5/8</text>
<text transform="translate(193.30,843.11) scale(0.8696,1)" font-size="8.62" text-anchor="middle" fill="#3d3fa5">6/8</text>
<text transform="translate(217.50,843.11) scale(0.8696,1)" font-size="8.62" text-anchor="middle" fill="#3d3fa5">5/8</text>
<text transform="translate(241.50,843.11) scale(0.8696,1)" font-size="8.62" text-anchor="middle" fill="#3d3fa5">5/8</text>
<text transform="translate(288.50,843.11) scale(0.8696,1)" font-size="8.62" text-anchor="middle" fill="#3d3fa5">0/8</text>
<text transform="translate(310.80,843.11) scale(0.8696,1)" font-size="8.62" text-anchor="middle" fill="#3d3fa5">0/8</text>
<text transform="translate(331.90,843.11) scale(0.8696,1)" font-size="8.62" text-anchor="middle" fill="#3d3fa5">0/8</text>
<text transform="translate(350.60,843.11) scale(0.8696,1)" font-size="8.62" text-anchor="middle" fill="#3d3fa5">0/8</text>
<text transform="translate(376.60,843.11) scale(0.8696,1)" font-size="8.62" text-anchor="middle" fill="#3d3fa5">1/4</text>
<text transform="translate(398.00,843.11) scale(0.8696,1)" font-size="8.62" text-anchor="middle" fill="#3d3fa5">5/8</text>
<text transform="translate(420.70,843.11) scale(0.8696,1)" font-size="8.62" text-anchor="middle" fill="#3d3fa5">5/8</text>
<text transform="translate(441.60,843.11) scale(0.8696,1)" font-size="8.62" text-anchor="middle" fill="#3d3fa5">4/8</text>
<text transform="translate(495.90,843.11) scale(0.8696,1)" font-size="8.62" text-anchor="middle" fill="#3d3fa5">0/8</text>
<text transform="translate(530.80,843.11) scale(0.8696,1)" font-size="8.62" text-anchor="middle" fill="#3d3fa5">6/8</text>
<text transform="translate(558.50,843.11) scale(0.8696,1)" font-size="8.62" text-anchor="middle" fill="#3d3fa5">6/8</text>
<text transform="translate(613.10,843.11) scale(0.8696,1)" font-size="8.62" text-anchor="middle" fill="#3d3fa5">0/8</text>
<text transform="translate(643.20,843.11) scale(0.8696,1)" font-size="8.62" text-anchor="middle" fill="#3d3fa5">0/8</text>
<text transform="translate(668.40,843.11) scale(0.8696,1)" font-size="8.62" text-anchor="middle" fill="#3d3fa5">0/8</text>
<text transform="translate(88.80,855.31) scale(0.8696,1)" font-size="8.62" text-anchor="middle" fill="#e8202e">8/8</text>
<text transform="translate(114.00,855.31) scale(0.8696,1)" font-size="8.62" text-anchor="middle" fill="#e8202e">8/8</text>
<text transform="translate(137.90,855.31) scale(0.8696,1)" font-size="8.62" text-anchor="middle" fill="#e8202e">8/8</text>
<text transform="translate(168.70,855.31) scale(0.8696,1)" font-size="8.62" text-anchor="middle" fill="#e8202e">4/8</text>
<text transform="translate(193.30,855.31) scale(0.8696,1)" font-size="8.62" text-anchor="middle" fill="#e8202e">7/8</text>
<text transform="translate(217.50,855.31) scale(0.8696,1)" font-size="8.62" text-anchor="middle" fill="#e8202e">6/8</text>
<text transform="translate(241.50,855.31) scale(0.8696,1)" font-size="8.62" text-anchor="middle" fill="#e8202e">5/8</text>
<text transform="translate(288.50,855.31) scale(0.8696,1)" font-size="8.62" text-anchor="middle" fill="#e8202e">7/8</text>
<text transform="translate(310.80,855.31) scale(0.8696,1)" font-size="8.62" text-anchor="middle" fill="#e8202e">7/8</text>
<text transform="translate(331.90,855.31) scale(0.8696,1)" font-size="8.62" text-anchor="middle" fill="#e8202e">7/8</text>
<text transform="translate(350.60,855.31) scale(0.8696,1)" font-size="8.62" text-anchor="middle" fill="#e8202e">7/8</text>
<text transform="translate(376.60,855.31) scale(0.8696,1)" font-size="8.62" text-anchor="middle" fill="#e8202e">2/4</text>
<text transform="translate(398.00,855.31) scale(0.8696,1)" font-size="8.62" text-anchor="middle" fill="#e8202e">4/8</text>
<text transform="translate(420.70,855.31) scale(0.8696,1)" font-size="8.62" text-anchor="middle" fill="#e8202e">1/8</text>
<text transform="translate(441.60,855.31) scale(0.8696,1)" font-size="8.62" text-anchor="middle" fill="#e8202e">2/8</text>
<text transform="translate(495.90,855.31) scale(0.8696,1)" font-size="8.62" text-anchor="middle" fill="#e8202e">8/8</text>
<text transform="translate(530.80,855.31) scale(0.8696,1)" font-size="8.62" text-anchor="middle" fill="#e8202e">6/8</text>
<text transform="translate(558.50,855.31) scale(0.8696,1)" font-size="8.62" text-anchor="middle" fill="#e8202e">7/8</text>
<text transform="translate(613.10,855.31) scale(0.8696,1)" font-size="8.62" text-anchor="middle" fill="#e8202e">7/8</text>
<text transform="translate(643.20,855.31) scale(0.8696,1)" font-size="8.62" text-anchor="middle" fill="#e8202e">7/8</text>
<text transform="translate(668.40,855.31) scale(0.8696,1)" font-size="8.62" text-anchor="middle" fill="#e8202e">7/8</text>
<line x1="77.40" y1="863.40" x2="151.20" y2="863.40" stroke="#5e5e5e" stroke-width="1.1"/>
<text transform="translate(111.30,877.20) scale(0.9091,1)" font-size="12.76" font-weight="bold" text-anchor="middle" fill="#111">SARS-CoV-2</text>
<line x1="157.90" y1="863.40" x2="250.50" y2="863.40" stroke="#5e5e5e" stroke-width="1.1"/>
<text transform="translate(204.00,877.20) scale(0.9091,1)" font-size="12.76" font-weight="bold" text-anchor="middle" fill="#111">sHCoV</text>
<line x1="274.20" y1="863.40" x2="360.90" y2="863.40" stroke="#5e5e5e" stroke-width="1.1"/>
<text transform="translate(319.50,877.20) scale(0.9091,1)" font-size="12.76" font-weight="bold" text-anchor="middle" fill="#111">SARS-CoV-2</text>
<line x1="368.50" y1="863.40" x2="454.20" y2="863.40" stroke="#5e5e5e" stroke-width="1.1"/>
<text transform="translate(411.30,877.20) scale(0.9091,1)" font-size="12.76" font-weight="bold" text-anchor="middle" fill="#111">sHCoV</text>
<line x1="481.90" y1="863.40" x2="510.40" y2="863.40" stroke="#5e5e5e" stroke-width="1.1"/>
<text transform="translate(495.60,877.20) scale(0.9091,1)" font-size="12.76" font-weight="bold" text-anchor="middle" fill="#111">SARS2</text>
<line x1="516.60" y1="863.40" x2="575.40" y2="863.40" stroke="#5e5e5e" stroke-width="1.1"/>
<text transform="translate(546.00,877.20) scale(0.9091,1)" font-size="12.76" font-weight="bold" text-anchor="middle" fill="#111">sHCoV</text>
<line x1="599.40" y1="863.40" x2="686.00" y2="863.40" stroke="#5e5e5e" stroke-width="1.1"/>
<text transform="translate(642.50,877.20) scale(0.9091,1)" font-size="12.76" font-weight="bold" text-anchor="middle" fill="#111">SARS-CoV-2</text>
<text transform="translate(28.1,731.4) scale(0.93,1) rotate(-90)" font-size="15.1" font-weight="bold" text-anchor="middle">Reactive IgG clones per</text>
<text transform="translate(49.1,729.6) scale(0.93,1) rotate(-90)" font-size="15.1" font-weight="bold" text-anchor="middle">100,000 B-cells</text>
<line x1="78.40" y1="891.60" x2="151.70" y2="891.60" stroke="#dfe9f7" stroke-width="0.9"/>
<line x1="78.40" y1="933.80" x2="151.70" y2="933.80" stroke="#dfe9f7" stroke-width="0.9"/>
<line x1="78.40" y1="976.00" x2="151.70" y2="976.00" stroke="#dfe9f7" stroke-width="0.9"/>
<line x1="78.40" y1="1018.20" x2="151.70" y2="1018.20" stroke="#dfe9f7" stroke-width="0.9"/>
<line x1="157.50" y1="891.60" x2="254.00" y2="891.60" stroke="#dfe9f7" stroke-width="0.9"/>
<line x1="157.50" y1="933.80" x2="254.00" y2="933.80" stroke="#dfe9f7" stroke-width="0.9"/>
<line x1="157.50" y1="976.00" x2="254.00" y2="976.00" stroke="#dfe9f7" stroke-width="0.9"/>
<line x1="157.50" y1="1018.20" x2="254.00" y2="1018.20" stroke="#dfe9f7" stroke-width="0.9"/>
<line x1="275.60" y1="891.60" x2="357.00" y2="891.60" stroke="#dfe9f7" stroke-width="0.9"/>
<line x1="275.60" y1="933.80" x2="357.00" y2="933.80" stroke="#dfe9f7" stroke-width="0.9"/>
<line x1="275.60" y1="976.00" x2="357.00" y2="976.00" stroke="#dfe9f7" stroke-width="0.9"/>
<line x1="275.60" y1="1018.20" x2="357.00" y2="1018.20" stroke="#dfe9f7" stroke-width="0.9"/>
<line x1="363.10" y1="891.60" x2="449.50" y2="891.60" stroke="#dfe9f7" stroke-width="0.9"/>
<line x1="363.10" y1="933.80" x2="449.50" y2="933.80" stroke="#dfe9f7" stroke-width="0.9"/>
<line x1="363.10" y1="976.00" x2="449.50" y2="976.00" stroke="#dfe9f7" stroke-width="0.9"/>
<line x1="363.10" y1="1018.20" x2="449.50" y2="1018.20" stroke="#dfe9f7" stroke-width="0.9"/>
<line x1="483.40" y1="891.60" x2="511.80" y2="891.60" stroke="#dfe9f7" stroke-width="0.9"/>
<line x1="483.40" y1="933.80" x2="511.80" y2="933.80" stroke="#dfe9f7" stroke-width="0.9"/>
<line x1="483.40" y1="976.00" x2="511.80" y2="976.00" stroke="#dfe9f7" stroke-width="0.9"/>
<line x1="483.40" y1="1018.20" x2="511.80" y2="1018.20" stroke="#dfe9f7" stroke-width="0.9"/>
<line x1="518.60" y1="891.60" x2="574.00" y2="891.60" stroke="#dfe9f7" stroke-width="0.9"/>
<line x1="518.60" y1="933.80" x2="574.00" y2="933.80" stroke="#dfe9f7" stroke-width="0.9"/>
<line x1="518.60" y1="976.00" x2="574.00" y2="976.00" stroke="#dfe9f7" stroke-width="0.9"/>
<line x1="518.60" y1="1018.20" x2="574.00" y2="1018.20" stroke="#dfe9f7" stroke-width="0.9"/>
<line x1="600.50" y1="891.60" x2="686.00" y2="891.60" stroke="#dfe9f7" stroke-width="0.9"/>
<line x1="600.50" y1="933.80" x2="686.00" y2="933.80" stroke="#dfe9f7" stroke-width="0.9"/>
<line x1="600.50" y1="976.00" x2="686.00" y2="976.00" stroke="#dfe9f7" stroke-width="0.9"/>
<line x1="600.50" y1="1018.20" x2="686.00" y2="1018.20" stroke="#dfe9f7" stroke-width="0.9"/>
<line x1="104.30" y1="891.60" x2="104.30" y2="1060.40" stroke="#333" stroke-width="0.85" stroke-dasharray="2,1.3"/>
<line x1="127.70" y1="891.60" x2="127.70" y2="1060.40" stroke="#333" stroke-width="0.85" stroke-dasharray="2,1.3"/>
<line x1="181.50" y1="891.60" x2="181.50" y2="1060.40" stroke="#333" stroke-width="0.85" stroke-dasharray="2,1.3"/>
<line x1="205.70" y1="891.60" x2="205.70" y2="1060.40" stroke="#333" stroke-width="0.85" stroke-dasharray="2,1.3"/>
<line x1="229.50" y1="891.60" x2="229.50" y2="1060.40" stroke="#333" stroke-width="0.85" stroke-dasharray="2,1.3"/>
<line x1="296.60" y1="891.60" x2="296.60" y2="1060.40" stroke="#333" stroke-width="0.85" stroke-dasharray="2,1.3"/>
<line x1="316.80" y1="891.60" x2="316.80" y2="1060.40" stroke="#333" stroke-width="0.85" stroke-dasharray="2,1.3"/>
<line x1="336.60" y1="891.60" x2="336.60" y2="1060.40" stroke="#333" stroke-width="0.85" stroke-dasharray="2,1.3"/>
<line x1="383.10" y1="891.60" x2="383.10" y2="1060.40" stroke="#333" stroke-width="0.85" stroke-dasharray="2,1.3"/>
<line x1="403.00" y1="891.60" x2="403.00" y2="1060.40" stroke="#333" stroke-width="0.85" stroke-dasharray="2,1.3"/>
<line x1="425.30" y1="891.60" x2="425.30" y2="1060.40" stroke="#333" stroke-width="0.85" stroke-dasharray="2,1.3"/>
<line x1="545.40" y1="891.60" x2="545.40" y2="1060.40" stroke="#333" stroke-width="0.85" stroke-dasharray="2,1.3"/>
<line x1="628.60" y1="891.60" x2="628.60" y2="1060.40" stroke="#333" stroke-width="0.85" stroke-dasharray="2,1.3"/>
<line x1="655.50" y1="891.60" x2="655.50" y2="1060.40" stroke="#333" stroke-width="0.85" stroke-dasharray="2,1.3"/>
<line x1="78.40" y1="891.10" x2="78.40" y2="1060.40" stroke="#6e6e6e" stroke-width="1.15"/>
<line x1="77.80" y1="1060.40" x2="151.70" y2="1060.40" stroke="#555" stroke-width="1.0"/>
<line x1="72.40" y1="891.60" x2="78.40" y2="891.60" stroke="#5a5a5a" stroke-width="1.0"/>
<line x1="72.40" y1="933.80" x2="78.40" y2="933.80" stroke="#5a5a5a" stroke-width="1.0"/>
<line x1="72.40" y1="976.00" x2="78.40" y2="976.00" stroke="#5a5a5a" stroke-width="1.0"/>
<line x1="72.40" y1="1018.20" x2="78.40" y2="1018.20" stroke="#5a5a5a" stroke-width="1.0"/>
<line x1="72.40" y1="1060.40" x2="78.40" y2="1060.40" stroke="#5a5a5a" stroke-width="1.0"/>
<line x1="157.50" y1="891.10" x2="157.50" y2="1060.40" stroke="#6e6e6e" stroke-width="1.15"/>
<line x1="156.90" y1="1060.40" x2="254.00" y2="1060.40" stroke="#555" stroke-width="1.0"/>
<line x1="275.60" y1="891.10" x2="275.60" y2="1060.40" stroke="#6e6e6e" stroke-width="1.15"/>
<line x1="275.00" y1="1060.40" x2="357.00" y2="1060.40" stroke="#555" stroke-width="1.0"/>
<line x1="269.60" y1="891.60" x2="275.60" y2="891.60" stroke="#5a5a5a" stroke-width="1.0"/>
<line x1="269.60" y1="933.80" x2="275.60" y2="933.80" stroke="#5a5a5a" stroke-width="1.0"/>
<line x1="269.60" y1="976.00" x2="275.60" y2="976.00" stroke="#5a5a5a" stroke-width="1.0"/>
<line x1="269.60" y1="1018.20" x2="275.60" y2="1018.20" stroke="#5a5a5a" stroke-width="1.0"/>
<line x1="269.60" y1="1060.40" x2="275.60" y2="1060.40" stroke="#5a5a5a" stroke-width="1.0"/>
<line x1="363.10" y1="891.10" x2="363.10" y2="1060.40" stroke="#6e6e6e" stroke-width="1.15"/>
<line x1="362.50" y1="1060.40" x2="449.50" y2="1060.40" stroke="#555" stroke-width="1.0"/>
<line x1="483.40" y1="891.10" x2="483.40" y2="1060.40" stroke="#6e6e6e" stroke-width="1.15"/>
<line x1="482.80" y1="1060.40" x2="511.80" y2="1060.40" stroke="#555" stroke-width="1.0"/>
<line x1="477.40" y1="891.60" x2="483.40" y2="891.60" stroke="#5a5a5a" stroke-width="1.0"/>
<line x1="477.40" y1="933.80" x2="483.40" y2="933.80" stroke="#5a5a5a" stroke-width="1.0"/>
<line x1="477.40" y1="976.00" x2="483.40" y2="976.00" stroke="#5a5a5a" stroke-width="1.0"/>
<line x1="477.40" y1="1018.20" x2="483.40" y2="1018.20" stroke="#5a5a5a" stroke-width="1.0"/>
<line x1="477.40" y1="1060.40" x2="483.40" y2="1060.40" stroke="#5a5a5a" stroke-width="1.0"/>
<line x1="518.60" y1="891.10" x2="518.60" y2="1060.40" stroke="#6e6e6e" stroke-width="1.15"/>
<line x1="518.00" y1="1060.40" x2="574.00" y2="1060.40" stroke="#555" stroke-width="1.0"/>
<line x1="600.50" y1="891.10" x2="600.50" y2="1060.40" stroke="#6e6e6e" stroke-width="1.15"/>
<line x1="599.90" y1="1060.40" x2="686.00" y2="1060.40" stroke="#555" stroke-width="1.0"/>
<line x1="594.50" y1="891.60" x2="600.50" y2="891.60" stroke="#5a5a5a" stroke-width="1.0"/>
<line x1="594.50" y1="933.80" x2="600.50" y2="933.80" stroke="#5a5a5a" stroke-width="1.0"/>
<line x1="594.50" y1="976.00" x2="600.50" y2="976.00" stroke="#5a5a5a" stroke-width="1.0"/>
<line x1="594.50" y1="1018.20" x2="600.50" y2="1018.20" stroke="#5a5a5a" stroke-width="1.0"/>
<line x1="594.50" y1="1060.40" x2="600.50" y2="1060.40" stroke="#5a5a5a" stroke-width="1.0"/>
<text x="70.00" y="894.60" font-size="7.7" text-anchor="end" fill="#222">1<tspan dx="-0.50">,</tspan><tspan dx="-0.50">000</tspan></text>
<text x="70.00" y="936.80" font-size="7.7" text-anchor="end" fill="#222">100</text>
<text x="70.00" y="979.00" font-size="7.7" text-anchor="end" fill="#222">10</text>
<text x="70.00" y="1021.20" font-size="7.7" text-anchor="end" fill="#222">1</text>
<text x="70.00" y="1067.10" font-size="7.3" text-anchor="end" fill="#222">0</text>
<rect x="83.20" y="1039.20" width="8.60" height="21.20" fill="#c7d5f0" stroke="#4a4a4a" stroke-width="0.8"/>
<line x1="87.50" y1="1018.30" x2="87.50" y2="1039.20" stroke="#555" stroke-width="0.8"/>
<line x1="85.20" y1="1018.30" x2="89.80" y2="1018.30" stroke="#333" stroke-width="0.9"/>
<rect x="92.40" y="953.20" width="9.00" height="49.80" fill="#f9c9c2" stroke="#4a4a4a" stroke-width="0.8"/>
<line x1="96.90" y1="949.10" x2="96.90" y2="953.20" stroke="#555" stroke-width="0.8"/>
<line x1="94.60" y1="949.10" x2="99.20" y2="949.10" stroke="#333" stroke-width="0.9"/>
<line x1="96.90" y1="1003.00" x2="96.90" y2="1060.40" stroke="#555" stroke-width="0.8"/>
<line x1="94.60" y1="1003.00" x2="99.20" y2="1003.00" stroke="#333" stroke-width="0.9"/>
<circle cx="87.50" cy="1018.30" r="1.38" fill="#6c85c8" stroke="#181e38" stroke-width="0.8"/>
<circle cx="83.10" cy="1060.40" r="1.38" fill="#6c85c8" stroke="#181e38" stroke-width="0.8"/>
<circle cx="85.30" cy="1060.40" r="1.38" fill="#6c85c8" stroke="#181e38" stroke-width="0.8"/>
<circle cx="87.50" cy="1060.40" r="1.38" fill="#6c85c8" stroke="#181e38" stroke-width="0.8"/>
<circle cx="89.70" cy="1060.40" r="1.38" fill="#6c85c8" stroke="#181e38" stroke-width="0.8"/>
<circle cx="91.90" cy="1060.40" r="1.38" fill="#6c85c8" stroke="#181e38" stroke-width="0.8"/>
<circle cx="96.90" cy="949.10" r="1.38" fill="#ea7452" stroke="#33110a" stroke-width="0.8"/>
<circle cx="96.90" cy="953.60" r="1.38" fill="#ea7452" stroke="#33110a" stroke-width="0.8"/>
<circle cx="93.30" cy="953.60" r="1.38" fill="#ea7452" stroke="#33110a" stroke-width="0.8"/>
<circle cx="96.90" cy="967.30" r="1.38" fill="#ea7452" stroke="#33110a" stroke-width="0.8"/>
<circle cx="96.90" cy="998.00" r="1.38" fill="#ea7452" stroke="#33110a" stroke-width="0.8"/>
<circle cx="96.90" cy="1060.40" r="1.38" fill="#ea7452" stroke="#33110a" stroke-width="0.8"/>
<line x1="92.40" y1="960.20" x2="101.40" y2="960.20" stroke="#222" stroke-width="0.9"/>
<rect x="107.35" y="1039.20" width="8.30" height="21.20" fill="#c7d5f0" stroke="#4a4a4a" stroke-width="0.8"/>
<line x1="111.50" y1="1018.30" x2="111.50" y2="1039.20" stroke="#555" stroke-width="0.8"/>
<line x1="109.20" y1="1018.30" x2="113.80" y2="1018.30" stroke="#333" stroke-width="0.9"/>
<rect x="116.35" y="957.40" width="8.30" height="33.20" fill="#f9c9c2" stroke="#4a4a4a" stroke-width="0.8"/>
<line x1="120.50" y1="954.90" x2="120.50" y2="957.40" stroke="#555" stroke-width="0.8"/>
<line x1="118.20" y1="954.90" x2="122.80" y2="954.90" stroke="#333" stroke-width="0.9"/>
<line x1="120.50" y1="990.60" x2="120.50" y2="1060.40" stroke="#555" stroke-width="0.8"/>
<line x1="118.20" y1="990.60" x2="122.80" y2="990.60" stroke="#333" stroke-width="0.9"/>
<circle cx="111.50" cy="1018.30" r="1.38" fill="#6c85c8" stroke="#181e38" stroke-width="0.8"/>
<circle cx="107.10" cy="1060.40" r="1.38" fill="#6c85c8" stroke="#181e38" stroke-width="0.8"/>
<circle cx="109.30" cy="1060.40" r="1.38" fill="#6c85c8" stroke="#181e38" stroke-width="0.8"/>
<circle cx="111.50" cy="1060.40" r="1.38" fill="#6c85c8" stroke="#181e38" stroke-width="0.8"/>
<circle cx="113.70" cy="1060.40" r="1.38" fill="#6c85c8" stroke="#181e38" stroke-width="0.8"/>
<circle cx="115.90" cy="1060.40" r="1.38" fill="#6c85c8" stroke="#181e38" stroke-width="0.8"/>
<circle cx="120.50" cy="954.90" r="1.38" fill="#ea7452" stroke="#33110a" stroke-width="0.8"/>
<circle cx="120.50" cy="975.60" r="1.38" fill="#ea7452" stroke="#33110a" stroke-width="0.8"/>
<circle cx="116.90" cy="975.60" r="1.38" fill="#ea7452" stroke="#33110a" stroke-width="0.8"/>
<circle cx="120.50" cy="985.10" r="1.38" fill="#ea7452" stroke="#33110a" stroke-width="0.8"/>
<circle cx="120.50" cy="1060.40" r="1.38" fill="#ea7452" stroke="#33110a" stroke-width="0.8"/>
<line x1="116.35" y1="975.60" x2="124.65" y2="975.60" stroke="#222" stroke-width="0.9"/>
<rect x="140.45" y="964.50" width="8.30" height="26.10" fill="#f9c9c2" stroke="#4a4a4a" stroke-width="0.8"/>
<line x1="144.60" y1="958.20" x2="144.60" y2="964.50" stroke="#555" stroke-width="0.8"/>
<line x1="142.30" y1="958.20" x2="146.90" y2="958.20" stroke="#333" stroke-width="0.9"/>
<line x1="144.60" y1="990.60" x2="144.60" y2="1060.40" stroke="#555" stroke-width="0.8"/>
<line x1="142.30" y1="990.60" x2="146.90" y2="990.60" stroke="#333" stroke-width="0.9"/>
<circle cx="132.25" cy="1060.40" r="1.38" fill="#6c85c8" stroke="#181e38" stroke-width="0.8"/>
<circle cx="133.35" cy="1060.40" r="1.38" fill="#6c85c8" stroke="#181e38" stroke-width="0.8"/>
<circle cx="134.45" cy="1060.40" r="1.38" fill="#6c85c8" stroke="#181e38" stroke-width="0.8"/>
<circle cx="135.55" cy="1060.40" r="1.38" fill="#6c85c8" stroke="#181e38" stroke-width="0.8"/>
<circle cx="136.65" cy="1060.40" r="1.38" fill="#6c85c8" stroke="#181e38" stroke-width="0.8"/>
<circle cx="137.75" cy="1060.40" r="1.38" fill="#6c85c8" stroke="#181e38" stroke-width="0.8"/>
<circle cx="144.60" cy="958.20" r="1.38" fill="#ea7452" stroke="#33110a" stroke-width="0.8"/>
<circle cx="144.60" cy="966.80" r="1.38" fill="#ea7452" stroke="#33110a" stroke-width="0.8"/>
<circle cx="144.60" cy="975.60" r="1.38" fill="#ea7452" stroke="#33110a" stroke-width="0.8"/>
<circle cx="141.00" cy="975.60" r="1.38" fill="#ea7452" stroke="#33110a" stroke-width="0.8"/>
<circle cx="144.60" cy="985.10" r="1.38" fill="#ea7452" stroke="#33110a" stroke-width="0.8"/>
<circle cx="144.60" cy="1060.40" r="1.38" fill="#ea7452" stroke="#33110a" stroke-width="0.8"/>
<line x1="140.45" y1="975.60" x2="148.75" y2="975.60" stroke="#222" stroke-width="0.9"/>
<rect x="160.60" y="995.50" width="8.60" height="64.90" fill="#c7d5f0" stroke="#4a4a4a" stroke-width="0.8"/>
<line x1="164.90" y1="980.20" x2="164.90" y2="995.50" stroke="#555" stroke-width="0.8"/>
<line x1="162.60" y1="980.20" x2="167.20" y2="980.20" stroke="#333" stroke-width="0.9"/>
<rect x="169.85" y="962.70" width="8.50" height="97.70" fill="#f9c9c2" stroke="#4a4a4a" stroke-width="0.8"/>
<circle cx="164.90" cy="980.20" r="1.38" fill="#6c85c8" stroke="#181e38" stroke-width="0.8"/>
<circle cx="164.90" cy="1005.80" r="1.38" fill="#6c85c8" stroke="#181e38" stroke-width="0.8"/>
<circle cx="161.60" cy="1060.40" r="1.38" fill="#6c85c8" stroke="#181e38" stroke-width="0.8"/>
<circle cx="163.80" cy="1060.40" r="1.38" fill="#6c85c8" stroke="#181e38" stroke-width="0.8"/>
<circle cx="166.00" cy="1060.40" r="1.38" fill="#6c85c8" stroke="#181e38" stroke-width="0.8"/>
<circle cx="168.20" cy="1060.40" r="1.38" fill="#6c85c8" stroke="#181e38" stroke-width="0.8"/>
<circle cx="174.10" cy="962.30" r="1.38" fill="#ea7452" stroke="#33110a" stroke-width="0.8"/>
<circle cx="170.50" cy="962.30" r="1.38" fill="#ea7452" stroke="#33110a" stroke-width="0.8"/>
<circle cx="177.70" cy="962.30" r="1.38" fill="#ea7452" stroke="#33110a" stroke-width="0.8"/>
<circle cx="174.10" cy="988.70" r="1.38" fill="#ea7452" stroke="#33110a" stroke-width="0.8"/>
<circle cx="171.90" cy="1060.40" r="1.38" fill="#ea7452" stroke="#33110a" stroke-width="0.8"/>
<circle cx="174.10" cy="1060.40" r="1.38" fill="#ea7452" stroke="#33110a" stroke-width="0.8"/>
<circle cx="176.30" cy="1060.40" r="1.38" fill="#ea7452" stroke="#33110a" stroke-width="0.8"/>
<line x1="169.85" y1="1001.30" x2="178.35" y2="1001.30" stroke="#222" stroke-width="0.9"/>
<rect x="184.40" y="998.40" width="8.20" height="62.00" fill="#c7d5f0" stroke="#4a4a4a" stroke-width="0.8"/>
<rect x="193.40" y="971.50" width="8.80" height="88.90" fill="#f9c9c2" stroke="#4a4a4a" stroke-width="0.8"/>
<line x1="197.80" y1="962.30" x2="197.80" y2="971.50" stroke="#555" stroke-width="0.8"/>
<line x1="195.50" y1="962.30" x2="200.10" y2="962.30" stroke="#333" stroke-width="0.9"/>
<circle cx="188.50" cy="997.90" r="1.38" fill="#6c85c8" stroke="#181e38" stroke-width="0.8"/>
<circle cx="184.90" cy="997.90" r="1.38" fill="#6c85c8" stroke="#181e38" stroke-width="0.8"/>
<circle cx="185.20" cy="1060.40" r="1.38" fill="#6c85c8" stroke="#181e38" stroke-width="0.8"/>
<circle cx="187.40" cy="1060.40" r="1.38" fill="#6c85c8" stroke="#181e38" stroke-width="0.8"/>
<circle cx="189.60" cy="1060.40" r="1.38" fill="#6c85c8" stroke="#181e38" stroke-width="0.8"/>
<circle cx="191.80" cy="1060.40" r="1.38" fill="#6c85c8" stroke="#181e38" stroke-width="0.8"/>
<circle cx="197.80" cy="962.30" r="1.38" fill="#ea7452" stroke="#33110a" stroke-width="0.8"/>
<circle cx="197.80" cy="975.90" r="1.38" fill="#ea7452" stroke="#33110a" stroke-width="0.8"/>
<circle cx="197.80" cy="988.70" r="1.38" fill="#ea7452" stroke="#33110a" stroke-width="0.8"/>
<circle cx="195.60" cy="1060.40" r="1.38" fill="#ea7452" stroke="#33110a" stroke-width="0.8"/>
<circle cx="197.80" cy="1060.40" r="1.38" fill="#ea7452" stroke="#33110a" stroke-width="0.8"/>
<circle cx="200.00" cy="1060.40" r="1.38" fill="#ea7452" stroke="#33110a" stroke-width="0.8"/>
<line x1="193.40" y1="1001.30" x2="202.20" y2="1001.30" stroke="#222" stroke-width="0.9"/>
<rect x="207.85" y="987.40" width="8.50" height="73.00" fill="#c7d5f0" stroke="#4a4a4a" stroke-width="0.8"/>
<line x1="212.10" y1="971.20" x2="212.10" y2="987.40" stroke="#555" stroke-width="0.8"/>
<line x1="209.80" y1="971.20" x2="214.40" y2="971.20" stroke="#333" stroke-width="0.9"/>
<rect x="217.25" y="968.30" width="8.50" height="92.10" fill="#f9c9c2" stroke="#4a4a4a" stroke-width="0.8"/>
<line x1="221.50" y1="955.00" x2="221.50" y2="968.30" stroke="#555" stroke-width="0.8"/>
<line x1="219.20" y1="955.00" x2="223.80" y2="955.00" stroke="#333" stroke-width="0.9"/>
<circle cx="212.10" cy="971.20" r="1.38" fill="#6c85c8" stroke="#181e38" stroke-width="0.8"/>
<circle cx="212.10" cy="997.90" r="1.38" fill="#6c85c8" stroke="#181e38" stroke-width="0.8"/>
<circle cx="212.10" cy="1005.80" r="1.38" fill="#6c85c8" stroke="#181e38" stroke-width="0.8"/>
<circle cx="212.10" cy="1018.40" r="1.38" fill="#6c85c8" stroke="#181e38" stroke-width="0.8"/>
<circle cx="209.35" cy="1060.40" r="1.38" fill="#6c85c8" stroke="#181e38" stroke-width="0.8"/>
<circle cx="214.85" cy="1060.40" r="1.38" fill="#6c85c8" stroke="#181e38" stroke-width="0.8"/>
<circle cx="221.50" cy="955.00" r="1.38" fill="#ea7452" stroke="#33110a" stroke-width="0.8"/>
<circle cx="221.50" cy="975.90" r="1.38" fill="#ea7452" stroke="#33110a" stroke-width="0.8"/>
<circle cx="217.90" cy="975.90" r="1.38" fill="#ea7452" stroke="#33110a" stroke-width="0.8"/>
<circle cx="219.30" cy="1060.40" r="1.38" fill="#ea7452" stroke="#33110a" stroke-width="0.8"/>
<circle cx="221.50" cy="1060.40" r="1.38" fill="#ea7452" stroke="#33110a" stroke-width="0.8"/>
<circle cx="223.70" cy="1060.40" r="1.38" fill="#ea7452" stroke="#33110a" stroke-width="0.8"/>
<line x1="207.85" y1="1010.90" x2="216.35" y2="1010.90" stroke="#222" stroke-width="0.9"/>
<line x1="217.25" y1="988.20" x2="225.75" y2="988.20" stroke="#222" stroke-width="0.9"/>
<rect x="231.40" y="981.40" width="8.80" height="79.00" fill="#c7d5f0" stroke="#4a4a4a" stroke-width="0.8"/>
<line x1="235.80" y1="964.90" x2="235.80" y2="981.40" stroke="#555" stroke-width="0.8"/>
<line x1="233.50" y1="964.90" x2="238.10" y2="964.90" stroke="#333" stroke-width="0.9"/>
<rect x="241.05" y="971.50" width="8.50" height="88.90" fill="#f9c9c2" stroke="#4a4a4a" stroke-width="0.8"/>
<line x1="245.30" y1="962.30" x2="245.30" y2="971.50" stroke="#555" stroke-width="0.8"/>
<line x1="243.00" y1="962.30" x2="247.60" y2="962.30" stroke="#333" stroke-width="0.9"/>
<circle cx="235.80" cy="964.90" r="1.38" fill="#6c85c8" stroke="#181e38" stroke-width="0.8"/>
<circle cx="235.80" cy="992.80" r="1.38" fill="#6c85c8" stroke="#181e38" stroke-width="0.8"/>
<circle cx="235.80" cy="1005.80" r="1.38" fill="#6c85c8" stroke="#181e38" stroke-width="0.8"/>
<circle cx="233.60" cy="1060.40" r="1.38" fill="#6c85c8" stroke="#181e38" stroke-width="0.8"/>
<circle cx="235.80" cy="1060.40" r="1.38" fill="#6c85c8" stroke="#181e38" stroke-width="0.8"/>
<circle cx="238.00" cy="1060.40" r="1.38" fill="#6c85c8" stroke="#181e38" stroke-width="0.8"/>
<circle cx="245.30" cy="962.30" r="1.38" fill="#ea7452" stroke="#33110a" stroke-width="0.8"/>
<circle cx="245.30" cy="975.90" r="1.38" fill="#ea7452" stroke="#33110a" stroke-width="0.8"/>
<circle cx="245.30" cy="988.70" r="1.38" fill="#ea7452" stroke="#33110a" stroke-width="0.8"/>
<circle cx="243.10" cy="1060.40" r="1.38" fill="#ea7452" stroke="#33110a" stroke-width="0.8"/>
<circle cx="245.30" cy="1060.40" r="1.38" fill="#ea7452" stroke="#33110a" stroke-width="0.8"/>
<circle cx="247.50" cy="1060.40" r="1.38" fill="#ea7452" stroke="#33110a" stroke-width="0.8"/>
<line x1="231.40" y1="1017.70" x2="240.20" y2="1017.70" stroke="#222" stroke-width="0.9"/>
<line x1="241.05" y1="1001.30" x2="249.55" y2="1001.30" stroke="#222" stroke-width="0.9"/>
<rect x="287.50" y="972.40" width="7.00" height="88.00" fill="#f9c9c2" stroke="#4a4a4a" stroke-width="0.8"/>
<line x1="291.00" y1="962.60" x2="291.00" y2="972.40" stroke="#555" stroke-width="0.8"/>
<line x1="288.70" y1="962.60" x2="293.30" y2="962.60" stroke="#333" stroke-width="0.9"/>
<circle cx="280.05" cy="1060.40" r="1.38" fill="#6c85c8" stroke="#181e38" stroke-width="0.8"/>
<circle cx="281.15" cy="1060.40" r="1.38" fill="#6c85c8" stroke="#181e38" stroke-width="0.8"/>
<circle cx="282.25" cy="1060.40" r="1.38" fill="#6c85c8" stroke="#181e38" stroke-width="0.8"/>
<circle cx="283.35" cy="1060.40" r="1.38" fill="#6c85c8" stroke="#181e38" stroke-width="0.8"/>
<circle cx="284.45" cy="1060.40" r="1.38" fill="#6c85c8" stroke="#181e38" stroke-width="0.8"/>
<circle cx="285.55" cy="1060.40" r="1.38" fill="#6c85c8" stroke="#181e38" stroke-width="0.8"/>
<circle cx="291.00" cy="962.60" r="1.38" fill="#ea7452" stroke="#33110a" stroke-width="0.8"/>
<circle cx="291.00" cy="975.90" r="1.38" fill="#ea7452" stroke="#33110a" stroke-width="0.8"/>
<circle cx="291.00" cy="988.70" r="1.38" fill="#ea7452" stroke="#33110a" stroke-width="0.8"/>
<circle cx="291.00" cy="997.90" r="1.38" fill="#ea7452" stroke="#33110a" stroke-width="0.8"/>
<circle cx="288.85" cy="1060.40" r="1.38" fill="#ea7452" stroke="#33110a" stroke-width="0.8"/>
<circle cx="293.15" cy="1060.40" r="1.38" fill="#ea7452" stroke="#33110a" stroke-width="0.8"/>
<line x1="287.50" y1="993.30" x2="294.50" y2="993.30" stroke="#222" stroke-width="0.9"/>
<rect x="306.75" y="972.40" width="7.50" height="88.00" fill="#f9c9c2" stroke="#4a4a4a" stroke-width="0.8"/>
<line x1="310.50" y1="962.60" x2="310.50" y2="972.40" stroke="#555" stroke-width="0.8"/>
<line x1="308.20" y1="962.60" x2="312.80" y2="962.60" stroke="#333" stroke-width="0.9"/>
<circle cx="300.55" cy="1060.40" r="1.38" fill="#6c85c8" stroke="#181e38" stroke-width="0.8"/>
<circle cx="301.65" cy="1060.40" r="1.38" fill="#6c85c8" stroke="#181e38" stroke-width="0.8"/>
<circle cx="302.75" cy="1060.40" r="1.38" fill="#6c85c8" stroke="#181e38" stroke-width="0.8"/>
<circle cx="303.85" cy="1060.40" r="1.38" fill="#6c85c8" stroke="#181e38" stroke-width="0.8"/>
<circle cx="304.95" cy="1060.40" r="1.38" fill="#6c85c8" stroke="#181e38" stroke-width="0.8"/>
<circle cx="306.05" cy="1060.40" r="1.38" fill="#6c85c8" stroke="#181e38" stroke-width="0.8"/>
<circle cx="310.50" cy="962.60" r="1.38" fill="#ea7452" stroke="#33110a" stroke-width="0.8"/>
<circle cx="310.50" cy="975.90" r="1.38" fill="#ea7452" stroke="#33110a" stroke-width="0.8"/>
<circle cx="310.50" cy="985.00" r="1.38" fill="#ea7452" stroke="#33110a" stroke-width="0.8"/>
<circle cx="310.50" cy="988.00" r="1.38" fill="#ea7452" stroke="#33110a" stroke-width="0.8"/>
<circle cx="308.35" cy="1060.40" r="1.38" fill="#ea7452" stroke="#33110a" stroke-width="0.8"/>
<circle cx="312.65" cy="1060.40" r="1.38" fill="#ea7452" stroke="#33110a" stroke-width="0.8"/>
<line x1="306.75" y1="987.40" x2="314.25" y2="987.40" stroke="#222" stroke-width="0.9"/>
<rect x="326.65" y="973.70" width="7.30" height="86.70" fill="#f9c9c2" stroke="#4a4a4a" stroke-width="0.8"/>
<line x1="330.30" y1="967.70" x2="330.30" y2="973.70" stroke="#555" stroke-width="0.8"/>
<line x1="328.00" y1="967.70" x2="332.60" y2="967.70" stroke="#333" stroke-width="0.9"/>
<circle cx="320.55" cy="1060.40" r="1.38" fill="#6c85c8" stroke="#181e38" stroke-width="0.8"/>
<circle cx="321.65" cy="1060.40" r="1.38" fill="#6c85c8" stroke="#181e38" stroke-width="0.8"/>
<circle cx="322.75" cy="1060.40" r="1.38" fill="#6c85c8" stroke="#181e38" stroke-width="0.8"/>
<circle cx="323.85" cy="1060.40" r="1.38" fill="#6c85c8" stroke="#181e38" stroke-width="0.8"/>
<circle cx="324.95" cy="1060.40" r="1.38" fill="#6c85c8" stroke="#181e38" stroke-width="0.8"/>
<circle cx="326.05" cy="1060.40" r="1.38" fill="#6c85c8" stroke="#181e38" stroke-width="0.8"/>
<circle cx="330.30" cy="967.70" r="1.38" fill="#ea7452" stroke="#33110a" stroke-width="0.8"/>
<circle cx="330.30" cy="975.90" r="1.38" fill="#ea7452" stroke="#33110a" stroke-width="0.8"/>
<circle cx="330.30" cy="988.70" r="1.38" fill="#ea7452" stroke="#33110a" stroke-width="0.8"/>
<circle cx="330.30" cy="997.90" r="1.38" fill="#ea7452" stroke="#33110a" stroke-width="0.8"/>
<circle cx="328.15" cy="1060.40" r="1.38" fill="#ea7452" stroke="#33110a" stroke-width="0.8"/>
<circle cx="332.45" cy="1060.40" r="1.38" fill="#ea7452" stroke="#33110a" stroke-width="0.8"/>
<line x1="326.65" y1="993.30" x2="333.95" y2="993.30" stroke="#222" stroke-width="0.9"/>
<rect x="346.30" y="973.70" width="7.60" height="86.70" fill="#f9c9c2" stroke="#4a4a4a" stroke-width="0.8"/>
<line x1="350.10" y1="967.70" x2="350.10" y2="973.70" stroke="#555" stroke-width="0.8"/>
<line x1="347.80" y1="967.70" x2="352.40" y2="967.70" stroke="#333" stroke-width="0.9"/>
<circle cx="340.45" cy="1060.40" r="1.38" fill="#6c85c8" stroke="#181e38" stroke-width="0.8"/>
<circle cx="341.55" cy="1060.40" r="1.38" fill="#6c85c8" stroke="#181e38" stroke-width="0.8"/>
<circle cx="342.65" cy="1060.40" r="1.38" fill="#6c85c8" stroke="#181e38" stroke-width="0.8"/>
<circle cx="343.75" cy="1060.40" r="1.38" fill="#6c85c8" stroke="#181e38" stroke-width="0.8"/>
<circle cx="344.85" cy="1060.40" r="1.38" fill="#6c85c8" stroke="#181e38" stroke-width="0.8"/>
<circle cx="345.95" cy="1060.40" r="1.38" fill="#6c85c8" stroke="#181e38" stroke-width="0.8"/>
<circle cx="350.10" cy="967.70" r="1.38" fill="#ea7452" stroke="#33110a" stroke-width="0.8"/>
<circle cx="350.10" cy="975.90" r="1.38" fill="#ea7452" stroke="#33110a" stroke-width="0.8"/>
<circle cx="346.50" cy="975.90" r="1.38" fill="#ea7452" stroke="#33110a" stroke-width="0.8"/>
<circle cx="353.70" cy="975.90" r="1.38" fill="#ea7452" stroke="#33110a" stroke-width="0.8"/>
<circle cx="347.95" cy="1060.40" r="1.38" fill="#ea7452" stroke="#33110a" stroke-width="0.8"/>
<circle cx="352.25" cy="1060.40" r="1.38" fill="#ea7452" stroke="#33110a" stroke-width="0.8"/>
<line x1="346.30" y1="975.90" x2="353.90" y2="975.90" stroke="#222" stroke-width="0.9"/>
<line x1="368.60" y1="1005.80" x2="368.60" y2="1060.40" stroke="#555" stroke-width="0.8"/>
<line x1="366.30" y1="1005.80" x2="370.90" y2="1005.80" stroke="#333" stroke-width="0.9"/>
<rect x="372.55" y="994.50" width="7.70" height="65.90" fill="#f9c9c2" stroke="#4a4a4a" stroke-width="0.8"/>
<line x1="376.40" y1="988.70" x2="376.40" y2="994.50" stroke="#555" stroke-width="0.8"/>
<line x1="374.10" y1="988.70" x2="378.70" y2="988.70" stroke="#333" stroke-width="0.9"/>
<circle cx="368.60" cy="1005.80" r="1.38" fill="#6c85c8" stroke="#181e38" stroke-width="0.8"/>
<circle cx="366.30" cy="1060.40" r="1.38" fill="#6c85c8" stroke="#181e38" stroke-width="0.8"/>
<circle cx="370.90" cy="1060.40" r="1.38" fill="#6c85c8" stroke="#181e38" stroke-width="0.8"/>
<circle cx="376.40" cy="988.70" r="1.38" fill="#ea7452" stroke="#33110a" stroke-width="0.8"/>
<circle cx="374.00" cy="1060.40" r="1.38" fill="#ea7452" stroke="#33110a" stroke-width="0.8"/>
<circle cx="375.20" cy="1060.40" r="1.38" fill="#ea7452" stroke="#33110a" stroke-width="0.8"/>
<circle cx="376.40" cy="1060.40" r="1.38" fill="#ea7452" stroke="#33110a" stroke-width="0.8"/>
<circle cx="377.60" cy="1060.40" r="1.38" fill="#ea7452" stroke="#33110a" stroke-width="0.8"/>
<circle cx="378.80" cy="1060.40" r="1.38" fill="#ea7452" stroke="#33110a" stroke-width="0.8"/>
<rect x="385.30" y="1028.60" width="7.20" height="31.80" fill="#c7d5f0" stroke="#4a4a4a" stroke-width="0.8"/>
<line x1="388.90" y1="1005.80" x2="388.90" y2="1028.60" stroke="#555" stroke-width="0.8"/>
<line x1="386.60" y1="1005.80" x2="391.20" y2="1005.80" stroke="#333" stroke-width="0.9"/>
<rect x="392.75" y="976.30" width="7.30" height="84.10" fill="#f9c9c2" stroke="#4a4a4a" stroke-width="0.8"/>
<circle cx="388.90" cy="1005.80" r="1.38" fill="#6c85c8" stroke="#181e38" stroke-width="0.8"/>
<circle cx="386.50" cy="1060.40" r="1.38" fill="#6c85c8" stroke="#181e38" stroke-width="0.8"/>
<circle cx="387.70" cy="1060.40" r="1.38" fill="#6c85c8" stroke="#181e38" stroke-width="0.8"/>
<circle cx="388.90" cy="1060.40" r="1.38" fill="#6c85c8" stroke="#181e38" stroke-width="0.8"/>
<circle cx="390.10" cy="1060.40" r="1.38" fill="#6c85c8" stroke="#181e38" stroke-width="0.8"/>
<circle cx="391.30" cy="1060.40" r="1.38" fill="#6c85c8" stroke="#181e38" stroke-width="0.8"/>
<circle cx="396.40" cy="976.30" r="1.38" fill="#ea7452" stroke="#33110a" stroke-width="0.8"/>
<circle cx="392.80" cy="976.30" r="1.38" fill="#ea7452" stroke="#33110a" stroke-width="0.8"/>
<circle cx="396.40" cy="988.70" r="1.38" fill="#ea7452" stroke="#33110a" stroke-width="0.8"/>
<circle cx="395.20" cy="1060.40" r="1.38" fill="#ea7452" stroke="#33110a" stroke-width="0.8"/>
<circle cx="396.40" cy="1060.40" r="1.38" fill="#ea7452" stroke="#33110a" stroke-width="0.8"/>
<circle cx="397.60" cy="1060.40" r="1.38" fill="#ea7452" stroke="#33110a" stroke-width="0.8"/>
<line x1="392.75" y1="1001.30" x2="400.05" y2="1001.30" stroke="#222" stroke-width="0.9"/>
<circle cx="405.45" cy="1060.40" r="1.38" fill="#6c85c8" stroke="#181e38" stroke-width="0.8"/>
<circle cx="406.55" cy="1060.40" r="1.38" fill="#6c85c8" stroke="#181e38" stroke-width="0.8"/>
<circle cx="407.65" cy="1060.40" r="1.38" fill="#6c85c8" stroke="#181e38" stroke-width="0.8"/>
<circle cx="408.75" cy="1060.40" r="1.38" fill="#6c85c8" stroke="#181e38" stroke-width="0.8"/>
<circle cx="409.85" cy="1060.40" r="1.38" fill="#6c85c8" stroke="#181e38" stroke-width="0.8"/>
<circle cx="410.95" cy="1060.40" r="1.38" fill="#6c85c8" stroke="#181e38" stroke-width="0.8"/>
<circle cx="413.75" cy="1060.40" r="1.38" fill="#ea7452" stroke="#33110a" stroke-width="0.8"/>
<circle cx="414.85" cy="1060.40" r="1.38" fill="#ea7452" stroke="#33110a" stroke-width="0.8"/>
<circle cx="415.95" cy="1060.40" r="1.38" fill="#ea7452" stroke="#33110a" stroke-width="0.8"/>
<circle cx="417.05" cy="1060.40" r="1.38" fill="#ea7452" stroke="#33110a" stroke-width="0.8"/>
<circle cx="418.15" cy="1060.40" r="1.38" fill="#ea7452" stroke="#33110a" stroke-width="0.8"/>
<circle cx="419.25" cy="1060.40" r="1.38" fill="#ea7452" stroke="#33110a" stroke-width="0.8"/>
<rect x="437.25" y="1022.30" width="7.50" height="38.10" fill="#f9c9c2" stroke="#4a4a4a" stroke-width="0.8"/>
<line x1="441.00" y1="997.90" x2="441.00" y2="1022.30" stroke="#555" stroke-width="0.8"/>
<line x1="438.70" y1="997.90" x2="443.30" y2="997.90" stroke="#333" stroke-width="0.9"/>
<circle cx="430.15" cy="1060.40" r="1.38" fill="#6c85c8" stroke="#181e38" stroke-width="0.8"/>
<circle cx="431.25" cy="1060.40" r="1.38" fill="#6c85c8" stroke="#181e38" stroke-width="0.8"/>
<circle cx="432.35" cy="1060.40" r="1.38" fill="#6c85c8" stroke="#181e38" stroke-width="0.8"/>
<circle cx="433.45" cy="1060.40" r="1.38" fill="#6c85c8" stroke="#181e38" stroke-width="0.8"/>
<circle cx="434.55" cy="1060.40" r="1.38" fill="#6c85c8" stroke="#181e38" stroke-width="0.8"/>
<circle cx="435.65" cy="1060.40" r="1.38" fill="#6c85c8" stroke="#181e38" stroke-width="0.8"/>
<circle cx="441.00" cy="997.90" r="1.38" fill="#ea7452" stroke="#33110a" stroke-width="0.8"/>
<circle cx="438.60" cy="1060.40" r="1.38" fill="#ea7452" stroke="#33110a" stroke-width="0.8"/>
<circle cx="439.80" cy="1060.40" r="1.38" fill="#ea7452" stroke="#33110a" stroke-width="0.8"/>
<circle cx="441.00" cy="1060.40" r="1.38" fill="#ea7452" stroke="#33110a" stroke-width="0.8"/>
<circle cx="442.20" cy="1060.40" r="1.38" fill="#ea7452" stroke="#33110a" stroke-width="0.8"/>
<circle cx="443.40" cy="1060.40" r="1.38" fill="#ea7452" stroke="#33110a" stroke-width="0.8"/>
<rect x="488.30" y="1003.60" width="10.20" height="56.80" fill="#c7d5f0" stroke="#4a4a4a" stroke-width="0.8"/>
<line x1="493.40" y1="997.90" x2="493.40" y2="1003.60" stroke="#555" stroke-width="0.8"/>
<line x1="491.10" y1="997.90" x2="495.70" y2="997.90" stroke="#333" stroke-width="0.9"/>
<rect x="499.55" y="963.50" width="9.70" height="39.20" fill="#f9c9c2" stroke="#4a4a4a" stroke-width="0.8"/>
<line x1="504.40" y1="954.90" x2="504.40" y2="963.50" stroke="#555" stroke-width="0.8"/>
<line x1="502.10" y1="954.90" x2="506.70" y2="954.90" stroke="#333" stroke-width="0.9"/>
<line x1="504.40" y1="1002.70" x2="504.40" y2="1060.40" stroke="#555" stroke-width="0.8"/>
<line x1="502.10" y1="1002.70" x2="506.70" y2="1002.70" stroke="#333" stroke-width="0.9"/>
<circle cx="493.40" cy="997.90" r="1.38" fill="#6c85c8" stroke="#181e38" stroke-width="0.8"/>
<circle cx="493.40" cy="1005.80" r="1.38" fill="#6c85c8" stroke="#181e38" stroke-width="0.8"/>
<circle cx="493.40" cy="1018.40" r="1.38" fill="#6c85c8" stroke="#181e38" stroke-width="0.8"/>
<circle cx="491.20" cy="1060.40" r="1.38" fill="#6c85c8" stroke="#181e38" stroke-width="0.8"/>
<circle cx="493.40" cy="1060.40" r="1.38" fill="#6c85c8" stroke="#181e38" stroke-width="0.8"/>
<circle cx="495.60" cy="1060.40" r="1.38" fill="#6c85c8" stroke="#181e38" stroke-width="0.8"/>
<circle cx="504.40" cy="954.90" r="1.38" fill="#ea7452" stroke="#33110a" stroke-width="0.8"/>
<circle cx="504.40" cy="967.20" r="1.38" fill="#ea7452" stroke="#33110a" stroke-width="0.8"/>
<circle cx="504.40" cy="975.90" r="1.38" fill="#ea7452" stroke="#33110a" stroke-width="0.8"/>
<circle cx="500.80" cy="975.90" r="1.38" fill="#ea7452" stroke="#33110a" stroke-width="0.8"/>
<circle cx="504.40" cy="997.90" r="1.38" fill="#ea7452" stroke="#33110a" stroke-width="0.8"/>
<circle cx="504.40" cy="1060.40" r="1.38" fill="#ea7452" stroke="#33110a" stroke-width="0.8"/>
<line x1="488.30" y1="1029.50" x2="498.50" y2="1029.50" stroke="#222" stroke-width="0.9"/>
<line x1="499.55" y1="975.90" x2="509.25" y2="975.90" stroke="#222" stroke-width="0.9"/>
<rect x="521.65" y="1011.10" width="9.70" height="49.30" fill="#c7d5f0" stroke="#4a4a4a" stroke-width="0.8"/>
<line x1="526.50" y1="997.90" x2="526.50" y2="1011.10" stroke="#555" stroke-width="0.8"/>
<line x1="524.20" y1="997.90" x2="528.80" y2="997.90" stroke="#333" stroke-width="0.9"/>
<rect x="532.30" y="975.90" width="10.20" height="84.50" fill="#f9c9c2" stroke="#4a4a4a" stroke-width="0.8"/>
<circle cx="526.50" cy="997.90" r="1.38" fill="#6c85c8" stroke="#181e38" stroke-width="0.8"/>
<circle cx="526.50" cy="1018.40" r="1.38" fill="#6c85c8" stroke="#181e38" stroke-width="0.8"/>
<circle cx="522.90" cy="1018.40" r="1.38" fill="#6c85c8" stroke="#181e38" stroke-width="0.8"/>
<circle cx="524.30" cy="1060.40" r="1.38" fill="#6c85c8" stroke="#181e38" stroke-width="0.8"/>
<circle cx="526.50" cy="1060.40" r="1.38" fill="#6c85c8" stroke="#181e38" stroke-width="0.8"/>
<circle cx="528.70" cy="1060.40" r="1.38" fill="#6c85c8" stroke="#181e38" stroke-width="0.8"/>
<circle cx="537.40" cy="975.90" r="1.38" fill="#ea7452" stroke="#33110a" stroke-width="0.8"/>
<circle cx="533.80" cy="975.90" r="1.38" fill="#ea7452" stroke="#33110a" stroke-width="0.8"/>
<circle cx="541.00" cy="975.90" r="1.38" fill="#ea7452" stroke="#33110a" stroke-width="0.8"/>
<circle cx="537.40" cy="988.70" r="1.38" fill="#ea7452" stroke="#33110a" stroke-width="0.8"/>
<circle cx="535.20" cy="1060.40" r="1.38" fill="#ea7452" stroke="#33110a" stroke-width="0.8"/>
<circle cx="537.40" cy="1060.40" r="1.38" fill="#ea7452" stroke="#33110a" stroke-width="0.8"/>
<circle cx="539.60" cy="1060.40" r="1.38" fill="#ea7452" stroke="#33110a" stroke-width="0.8"/>
<line x1="521.65" y1="1029.50" x2="531.35" y2="1029.50" stroke="#222" stroke-width="0.9"/>
<line x1="532.30" y1="1001.30" x2="542.50" y2="1001.30" stroke="#222" stroke-width="0.9"/>
<rect x="548.40" y="1018.40" width="10.20" height="42.00" fill="#c7d5f0" stroke="#4a4a4a" stroke-width="0.8"/>
<rect x="559.45" y="971.60" width="9.70" height="31.30" fill="#f9c9c2" stroke="#4a4a4a" stroke-width="0.8"/>
<line x1="564.30" y1="962.20" x2="564.30" y2="971.60" stroke="#555" stroke-width="0.8"/>
<line x1="562.00" y1="962.20" x2="566.60" y2="962.20" stroke="#333" stroke-width="0.9"/>
<line x1="564.30" y1="1002.90" x2="564.30" y2="1060.40" stroke="#555" stroke-width="0.8"/>
<line x1="562.00" y1="1002.90" x2="566.60" y2="1002.90" stroke="#333" stroke-width="0.9"/>
<circle cx="553.50" cy="1018.40" r="1.38" fill="#6c85c8" stroke="#181e38" stroke-width="0.8"/>
<circle cx="549.90" cy="1018.40" r="1.38" fill="#6c85c8" stroke="#181e38" stroke-width="0.8"/>
<circle cx="550.20" cy="1060.40" r="1.38" fill="#6c85c8" stroke="#181e38" stroke-width="0.8"/>
<circle cx="552.40" cy="1060.40" r="1.38" fill="#6c85c8" stroke="#181e38" stroke-width="0.8"/>
<circle cx="554.60" cy="1060.40" r="1.38" fill="#6c85c8" stroke="#181e38" stroke-width="0.8"/>
<circle cx="556.80" cy="1060.40" r="1.38" fill="#6c85c8" stroke="#181e38" stroke-width="0.8"/>
<circle cx="564.30" cy="962.20" r="1.38" fill="#ea7452" stroke="#33110a" stroke-width="0.8"/>
<circle cx="564.30" cy="975.90" r="1.38" fill="#ea7452" stroke="#33110a" stroke-width="0.8"/>
<circle cx="564.30" cy="988.70" r="1.38" fill="#ea7452" stroke="#33110a" stroke-width="0.8"/>
<circle cx="560.70" cy="988.70" r="1.38" fill="#ea7452" stroke="#33110a" stroke-width="0.8"/>
<circle cx="564.30" cy="997.90" r="1.38" fill="#ea7452" stroke="#33110a" stroke-width="0.8"/>
<circle cx="564.30" cy="1060.40" r="1.38" fill="#ea7452" stroke="#33110a" stroke-width="0.8"/>
<line x1="559.45" y1="988.70" x2="569.15" y2="988.70" stroke="#222" stroke-width="0.9"/>
<rect x="615.40" y="972.40" width="10.20" height="88.00" fill="#f9c9c2" stroke="#4a4a4a" stroke-width="0.8"/>
<line x1="620.50" y1="962.60" x2="620.50" y2="972.40" stroke="#555" stroke-width="0.8"/>
<line x1="618.20" y1="962.60" x2="622.80" y2="962.60" stroke="#333" stroke-width="0.9"/>
<circle cx="606.25" cy="1060.40" r="1.38" fill="#6c85c8" stroke="#181e38" stroke-width="0.8"/>
<circle cx="607.75" cy="1060.40" r="1.38" fill="#6c85c8" stroke="#181e38" stroke-width="0.8"/>
<circle cx="609.25" cy="1060.40" r="1.38" fill="#6c85c8" stroke="#181e38" stroke-width="0.8"/>
<circle cx="610.75" cy="1060.40" r="1.38" fill="#6c85c8" stroke="#181e38" stroke-width="0.8"/>
<circle cx="612.25" cy="1060.40" r="1.38" fill="#6c85c8" stroke="#181e38" stroke-width="0.8"/>
<circle cx="613.75" cy="1060.40" r="1.38" fill="#6c85c8" stroke="#181e38" stroke-width="0.8"/>
<circle cx="620.50" cy="962.60" r="1.38" fill="#ea7452" stroke="#33110a" stroke-width="0.8"/>
<circle cx="620.50" cy="976.20" r="1.38" fill="#ea7452" stroke="#33110a" stroke-width="0.8"/>
<circle cx="616.75" cy="1060.40" r="1.38" fill="#ea7452" stroke="#33110a" stroke-width="0.8"/>
<circle cx="619.25" cy="1060.40" r="1.38" fill="#ea7452" stroke="#33110a" stroke-width="0.8"/>
<circle cx="621.75" cy="1060.40" r="1.38" fill="#ea7452" stroke="#33110a" stroke-width="0.8"/>
<circle cx="624.25" cy="1060.40" r="1.38" fill="#ea7452" stroke="#33110a" stroke-width="0.8"/>
<rect x="642.30" y="966.30" width="10.20" height="94.10" fill="#f9c9c2" stroke="#4a4a4a" stroke-width="0.8"/>
<line x1="647.40" y1="962.60" x2="647.40" y2="966.30" stroke="#555" stroke-width="0.8"/>
<line x1="645.10" y1="962.60" x2="649.70" y2="962.60" stroke="#333" stroke-width="0.9"/>
<circle cx="633.45" cy="1060.40" r="1.38" fill="#6c85c8" stroke="#181e38" stroke-width="0.8"/>
<circle cx="634.95" cy="1060.40" r="1.38" fill="#6c85c8" stroke="#181e38" stroke-width="0.8"/>
<circle cx="636.45" cy="1060.40" r="1.38" fill="#6c85c8" stroke="#181e38" stroke-width="0.8"/>
<circle cx="637.95" cy="1060.40" r="1.38" fill="#6c85c8" stroke="#181e38" stroke-width="0.8"/>
<circle cx="639.45" cy="1060.40" r="1.38" fill="#6c85c8" stroke="#181e38" stroke-width="0.8"/>
<circle cx="640.95" cy="1060.40" r="1.38" fill="#6c85c8" stroke="#181e38" stroke-width="0.8"/>
<circle cx="647.40" cy="962.60" r="1.38" fill="#ea7452" stroke="#33110a" stroke-width="0.8"/>
<circle cx="647.40" cy="967.70" r="1.38" fill="#ea7452" stroke="#33110a" stroke-width="0.8"/>
<circle cx="643.65" cy="1060.40" r="1.38" fill="#ea7452" stroke="#33110a" stroke-width="0.8"/>
<circle cx="646.15" cy="1060.40" r="1.38" fill="#ea7452" stroke="#33110a" stroke-width="0.8"/>
<circle cx="648.65" cy="1060.40" r="1.38" fill="#ea7452" stroke="#33110a" stroke-width="0.8"/>
<circle cx="651.15" cy="1060.40" r="1.38" fill="#ea7452" stroke="#33110a" stroke-width="0.8"/>
<rect x="669.45" y="975.90" width="9.70" height="84.50" fill="#f9c9c2" stroke="#4a4a4a" stroke-width="0.8"/>
<circle cx="660.25" cy="1060.40" r="1.38" fill="#6c85c8" stroke="#181e38" stroke-width="0.8"/>
<circle cx="661.75" cy="1060.40" r="1.38" fill="#6c85c8" stroke="#181e38" stroke-width="0.8"/>
<circle cx="663.25" cy="1060.40" r="1.38" fill="#6c85c8" stroke="#181e38" stroke-width="0.8"/>
<circle cx="664.75" cy="1060.40" r="1.38" fill="#6c85c8" stroke="#181e38" stroke-width="0.8"/>
<circle cx="666.25" cy="1060.40" r="1.38" fill="#6c85c8" stroke="#181e38" stroke-width="0.8"/>
<circle cx="667.75" cy="1060.40" r="1.38" fill="#6c85c8" stroke="#181e38" stroke-width="0.8"/>
<circle cx="674.30" cy="975.90" r="1.38" fill="#ea7452" stroke="#33110a" stroke-width="0.8"/>
<circle cx="670.70" cy="975.90" r="1.38" fill="#ea7452" stroke="#33110a" stroke-width="0.8"/>
<circle cx="674.30" cy="988.70" r="1.38" fill="#ea7452" stroke="#33110a" stroke-width="0.8"/>
<circle cx="671.00" cy="1060.40" r="1.38" fill="#ea7452" stroke="#33110a" stroke-width="0.8"/>
<circle cx="674.30" cy="1060.40" r="1.38" fill="#ea7452" stroke="#33110a" stroke-width="0.8"/>
<circle cx="677.60" cy="1060.40" r="1.38" fill="#ea7452" stroke="#33110a" stroke-width="0.8"/>
<line x1="669.45" y1="1001.30" x2="679.15" y2="1001.30" stroke="#222" stroke-width="0.9"/>
<polyline points="552.30,1007.70 552.30,907.30 564.30,907.30 564.30,958.00" fill="none" stroke="#3a3a3a" stroke-width="1.1"/>
<text x="558.30" y="910.10" font-size="13" font-weight="bold" text-anchor="middle" fill="#111">*</text>
<text x="-1.00" y="891.00" font-size="17.5" font-weight="bold" text-anchor="start" fill="#000">d</text>
<text transform="translate(93.00,1072.19) scale(0.8696,1)" font-size="8.85" font-weight="bold" text-anchor="middle" fill="#111">Anc.</text>
<text transform="translate(115.50,1072.19) scale(0.8696,1)" font-size="8.85" font-weight="bold" text-anchor="middle" fill="#111">BA.1</text>
<text transform="translate(140.30,1072.19) scale(0.8696,1)" font-size="8.85" font-weight="bold" text-anchor="middle" fill="#111">BA.5</text>
<text transform="translate(168.70,1072.19) scale(0.8696,1)" font-size="8.85" font-weight="bold" text-anchor="middle" fill="#111">229E</text>
<text transform="translate(192.70,1072.19) scale(0.8696,1)" font-size="8.85" font-weight="bold" text-anchor="middle" fill="#111">NL63</text>
<text transform="translate(216.30,1072.19) scale(0.8696,1)" font-size="8.85" font-weight="bold" text-anchor="middle" fill="#111">HKU1</text>
<text transform="translate(241.00,1072.19) scale(0.8696,1)" font-size="8.85" font-weight="bold" text-anchor="middle" fill="#111">OC43</text>
<text transform="translate(286.00,1072.19) scale(0.8696,1)" font-size="8.85" font-weight="bold" text-anchor="middle" fill="#111">Anc.</text>
<text transform="translate(308.30,1072.19) scale(0.8696,1)" font-size="8.85" font-weight="bold" text-anchor="middle" fill="#111">Delta</text>
<text transform="translate(328.20,1072.19) scale(0.8696,1)" font-size="8.85" font-weight="bold" text-anchor="middle" fill="#111">BA.1</text>
<text transform="translate(347.10,1072.19) scale(0.8696,1)" font-size="8.85" font-weight="bold" text-anchor="middle" fill="#111">BA.5</text>
<text transform="translate(373.10,1072.19) scale(0.8696,1)" font-size="8.85" font-weight="bold" text-anchor="middle" fill="#111">229E</text>
<text transform="translate(392.80,1072.19) scale(0.8696,1)" font-size="8.85" font-weight="bold" text-anchor="middle" fill="#111">NL63</text>
<text transform="translate(414.50,1072.19) scale(0.8696,1)" font-size="8.85" font-weight="bold" text-anchor="middle" fill="#111">HKU1</text>
<text transform="translate(436.90,1072.19) scale(0.8696,1)" font-size="8.85" font-weight="bold" text-anchor="middle" fill="#111">OC43</text>
<text transform="translate(494.70,1072.19) scale(0.8696,1)" font-size="8.85" font-weight="bold" text-anchor="middle" fill="#111">Anc.</text>
<text transform="translate(530.10,1072.19) scale(0.8696,1)" font-size="8.85" font-weight="bold" text-anchor="middle" fill="#111">HKU1</text>
<text transform="translate(559.00,1072.19) scale(0.8696,1)" font-size="8.85" font-weight="bold" text-anchor="middle" fill="#111">OC43</text>
<text transform="translate(614.90,1072.19) scale(0.8696,1)" font-size="8.85" font-weight="bold" text-anchor="middle" fill="#111">Anc.</text>
<text transform="translate(641.60,1072.19) scale(0.8696,1)" font-size="8.85" font-weight="bold" text-anchor="middle" fill="#111">Delta</text>
<text transform="translate(666.90,1072.19) scale(0.8696,1)" font-size="8.85" font-weight="bold" text-anchor="middle" fill="#111">BA.5</text>
<text transform="translate(51.60,1086.59) scale(0.8696,1)" font-size="8.85" font-weight="bold" text-anchor="end" fill="#111">Pos. B-cells</text>
<line x1="56.40" y1="1076.00" x2="56.40" y2="1093.90" stroke="#777" stroke-width="0.9"/>
<text transform="translate(75.80,1082.03) scale(0.8696,1)" font-size="8.97" font-weight="bold" text-anchor="end" fill="#3d3fa5">Pre</text>
<text transform="translate(75.80,1093.63) scale(0.8696,1)" font-size="8.97" font-weight="bold" text-anchor="end" fill="#e8202e">End</text>
<text transform="translate(87.20,1081.90) scale(0.8696,1)" font-size="8.62" text-anchor="middle" fill="#3d3fa5">1/6</text>
<text transform="translate(113.40,1081.90) scale(0.8696,1)" font-size="8.62" text-anchor="middle" fill="#3d3fa5">1/6</text>
<text transform="translate(136.60,1081.90) scale(0.8696,1)" font-size="8.62" text-anchor="middle" fill="#3d3fa5">0/6</text>
<text transform="translate(165.70,1081.90) scale(0.8696,1)" font-size="8.62" text-anchor="middle" fill="#3d3fa5">2/6</text>
<text transform="translate(188.20,1081.90) scale(0.8696,1)" font-size="8.62" text-anchor="middle" fill="#3d3fa5">2/6</text>
<text transform="translate(211.40,1081.90) scale(0.8696,1)" font-size="8.62" text-anchor="middle" fill="#3d3fa5">4/6</text>
<text transform="translate(236.10,1081.90) scale(0.8696,1)" font-size="8.62" text-anchor="middle" fill="#3d3fa5">3/6</text>
<text transform="translate(282.00,1081.90) scale(0.8696,1)" font-size="8.62" text-anchor="middle" fill="#3d3fa5">0/6</text>
<text transform="translate(302.90,1081.90) scale(0.8696,1)" font-size="8.62" text-anchor="middle" fill="#3d3fa5">0/6</text>
<text transform="translate(322.30,1081.90) scale(0.8696,1)" font-size="8.62" text-anchor="middle" fill="#3d3fa5">0/6</text>
<text transform="translate(342.40,1081.90) scale(0.8696,1)" font-size="8.62" text-anchor="middle" fill="#3d3fa5">0/5</text>
<text transform="translate(369.50,1081.90) scale(0.8696,1)" font-size="8.62" text-anchor="middle" fill="#3d3fa5">1/6</text>
<text transform="translate(389.70,1081.90) scale(0.8696,1)" font-size="8.62" text-anchor="middle" fill="#3d3fa5">1/6</text>
<text transform="translate(410.40,1081.90) scale(0.8696,1)" font-size="8.62" text-anchor="middle" fill="#3d3fa5">0/6</text>
<text transform="translate(433.00,1081.90) scale(0.8696,1)" font-size="8.62" text-anchor="middle" fill="#3d3fa5">0/6</text>
<text transform="translate(489.90,1081.90) scale(0.8696,1)" font-size="8.62" text-anchor="middle" fill="#3d3fa5">3/6</text>
<text transform="translate(527.00,1081.90) scale(0.8696,1)" font-size="8.62" text-anchor="middle" fill="#3d3fa5">3/6</text>
<text transform="translate(556.40,1081.90) scale(0.8696,1)" font-size="8.62" text-anchor="middle" fill="#3d3fa5">2/6</text>
<text transform="translate(611.30,1081.90) scale(0.8696,1)" font-size="8.62" text-anchor="middle" fill="#3d3fa5">0/6</text>
<text transform="translate(636.80,1081.90) scale(0.8696,1)" font-size="8.62" text-anchor="middle" fill="#3d3fa5">0/6</text>
<text transform="translate(663.30,1081.90) scale(0.8696,1)" font-size="8.62" text-anchor="middle" fill="#3d3fa5">0/6</text>
<text transform="translate(87.20,1093.51) scale(0.8696,1)" font-size="8.62" text-anchor="middle" fill="#e8202e">5/6</text>
<text transform="translate(113.40,1093.51) scale(0.8696,1)" font-size="8.62" text-anchor="middle" fill="#e8202e">5/6</text>
<text transform="translate(136.60,1093.51) scale(0.8696,1)" font-size="8.62" text-anchor="middle" fill="#e8202e">5/6</text>
<text transform="translate(165.70,1093.51) scale(0.8696,1)" font-size="8.62" text-anchor="middle" fill="#e8202e">3/6</text>
<text transform="translate(188.20,1093.51) scale(0.8696,1)" font-size="8.62" text-anchor="middle" fill="#e8202e">3/6</text>
<text transform="translate(211.40,1093.51) scale(0.8696,1)" font-size="8.62" text-anchor="middle" fill="#e8202e">3/6</text>
<text transform="translate(236.10,1093.51) scale(0.8696,1)" font-size="8.62" text-anchor="middle" fill="#e8202e">3/6</text>
<text transform="translate(282.00,1093.51) scale(0.8696,1)" font-size="8.62" text-anchor="middle" fill="#e8202e">4/6</text>
<text transform="translate(302.90,1093.51) scale(0.8696,1)" font-size="8.62" text-anchor="middle" fill="#e8202e">4/6</text>
<text transform="translate(322.30,1093.51) scale(0.8696,1)" font-size="8.62" text-anchor="middle" fill="#e8202e">4/6</text>
<text transform="translate(342.40,1093.51) scale(0.8696,1)" font-size="8.62" text-anchor="middle" fill="#e8202e">4/6</text>
<text transform="translate(369.50,1093.51) scale(0.8696,1)" font-size="8.62" text-anchor="middle" fill="#e8202e">1/6</text>
<text transform="translate(389.70,1093.51) scale(0.8696,1)" font-size="8.62" text-anchor="middle" fill="#e8202e">3/6</text>
<text transform="translate(410.40,1093.51) scale(0.8696,1)" font-size="8.62" text-anchor="middle" fill="#e8202e">0/6</text>
<text transform="translate(433.00,1093.51) scale(0.8696,1)" font-size="8.62" text-anchor="middle" fill="#e8202e">1/6</text>
<text transform="translate(489.90,1093.51) scale(0.8696,1)" font-size="8.62" text-anchor="middle" fill="#e8202e">5/6</text>
<text transform="translate(527.00,1093.51) scale(0.8696,1)" font-size="8.62" text-anchor="middle" fill="#e8202e">3/6</text>
<text transform="translate(556.40,1093.51) scale(0.8696,1)" font-size="8.62" text-anchor="middle" fill="#e8202e">5/6</text>
<text transform="translate(611.30,1093.51) scale(0.8696,1)" font-size="8.62" text-anchor="middle" fill="#e8202e">2/6</text>
<text transform="translate(636.80,1093.51) scale(0.8696,1)" font-size="8.62" text-anchor="middle" fill="#e8202e">2/6</text>
<text transform="translate(663.30,1093.51) scale(0.8696,1)" font-size="8.62" text-anchor="middle" fill="#e8202e">3/6</text>
<line x1="77.40" y1="1100.50" x2="150.80" y2="1100.50" stroke="#5e5e5e" stroke-width="1.1"/>
<text transform="translate(111.40,1113.60) scale(0.9091,1)" font-size="12.76" font-weight="bold" text-anchor="middle" fill="#111">SARS-CoV-2</text>
<line x1="158.30" y1="1100.50" x2="251.00" y2="1100.50" stroke="#5e5e5e" stroke-width="1.1"/>
<text transform="translate(204.50,1113.60) scale(0.9091,1)" font-size="12.76" font-weight="bold" text-anchor="middle" fill="#111">sHCoV</text>
<line x1="275.60" y1="1100.50" x2="357.00" y2="1100.50" stroke="#5e5e5e" stroke-width="1.1"/>
<text transform="translate(316.30,1113.60) scale(0.9091,1)" font-size="12.76" font-weight="bold" text-anchor="middle" fill="#111">SARS-CoV-2</text>
<line x1="363.10" y1="1100.50" x2="449.50" y2="1100.50" stroke="#5e5e5e" stroke-width="1.1"/>
<text transform="translate(414.70,1113.60) scale(0.9091,1)" font-size="12.76" font-weight="bold" text-anchor="middle" fill="#111">sHCoV</text>
<line x1="483.40" y1="1100.50" x2="511.80" y2="1100.50" stroke="#5e5e5e" stroke-width="1.1"/>
<text transform="translate(495.90,1113.60) scale(0.9091,1)" font-size="12.76" font-weight="bold" text-anchor="middle" fill="#111">SARS2</text>
<line x1="518.60" y1="1100.50" x2="574.00" y2="1100.50" stroke="#5e5e5e" stroke-width="1.1"/>
<text transform="translate(546.00,1113.60) scale(0.9091,1)" font-size="12.76" font-weight="bold" text-anchor="middle" fill="#111">sHCoV</text>
<line x1="600.50" y1="1100.50" x2="686.00" y2="1100.50" stroke="#5e5e5e" stroke-width="1.1"/>
<text transform="translate(642.30,1113.60) scale(0.9091,1)" font-size="12.76" font-weight="bold" text-anchor="middle" fill="#111">SARS-CoV-2</text>
<text transform="translate(27.8,979.6) scale(0.93,1) rotate(-90)" font-size="15.1" font-weight="bold" text-anchor="middle">Reactive IgA clones per</text>
<text transform="translate(49.5,980.3) scale(0.93,1) rotate(-90)" font-size="15.1" font-weight="bold" text-anchor="middle">100,000 B-cells</text>
</svg></body></html>
